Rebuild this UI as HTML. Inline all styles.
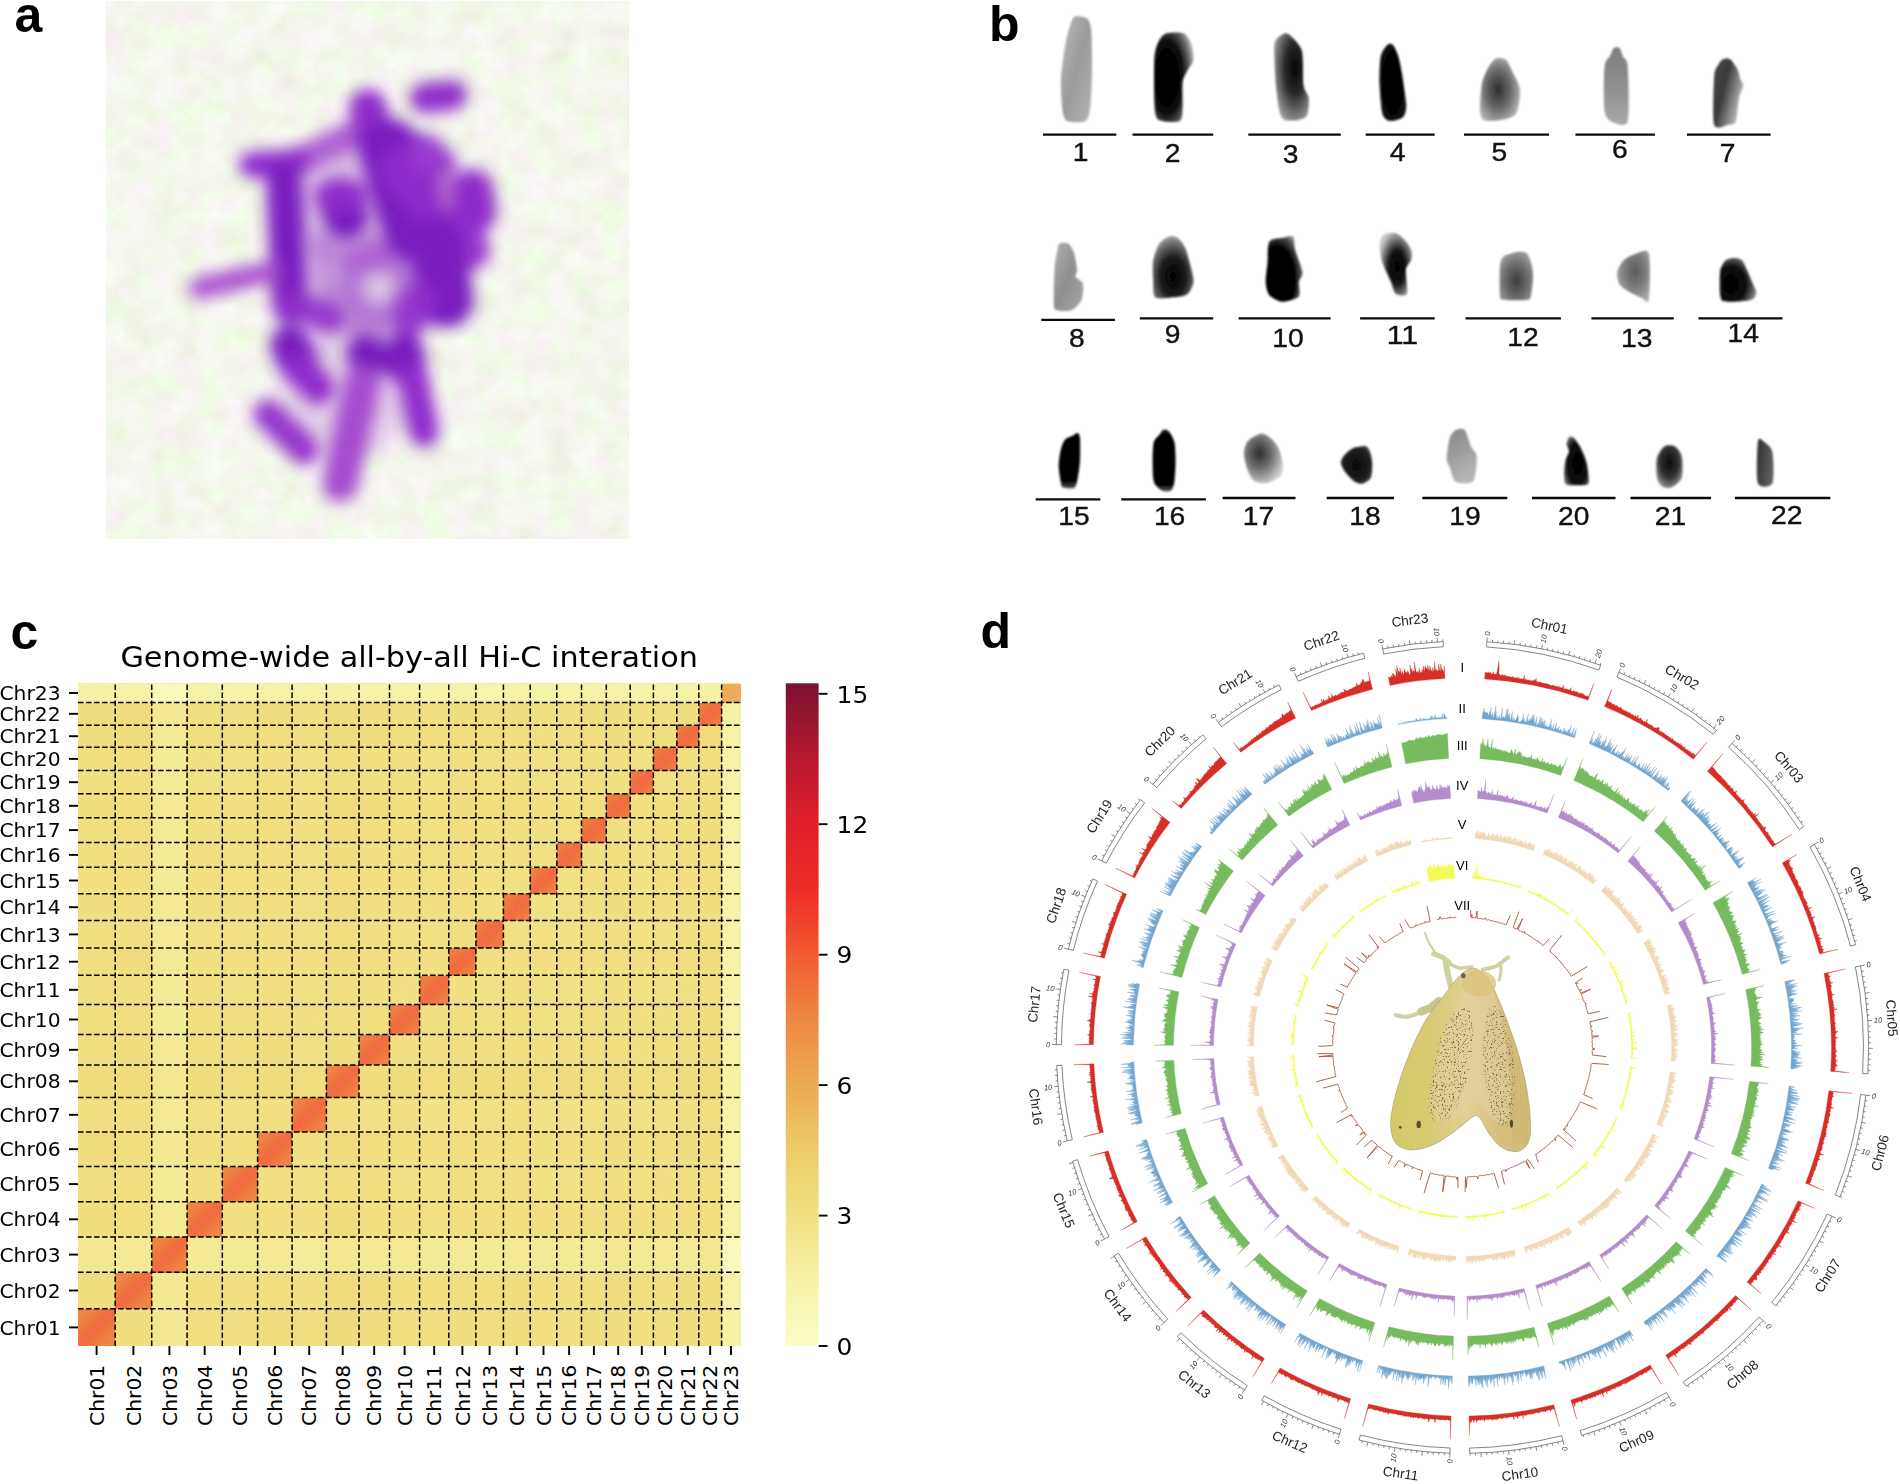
<!DOCTYPE html>
<html lang="en"><head><meta charset="utf-8"><title>Figure</title>
<style>html,body{margin:0;padding:0;background:#fff;overflow:hidden;width:1900px;height:1484px}svg{display:block}</style></head><body>
<svg width="1900" height="1484" viewBox="0 0 1900 1484">
<defs>
<filter id="blurA" filterUnits="userSpaceOnUse" x="106" y="1" width="523" height="538"><feGaussianBlur stdDeviation="7.2"/></filter>
<filter id="blurA2" filterUnits="userSpaceOnUse" x="106" y="1" width="523" height="538"><feGaussianBlur stdDeviation="10"/></filter>
<filter id="blurD" x="-5%" y="-5%" width="110%" height="110%"><feGaussianBlur stdDeviation="2"/></filter>
<filter id="blurB" x="-5%" y="-5%" width="110%" height="110%"><feGaussianBlur stdDeviation="0.9"/></filter>
<filter id="blurM" x="-5%" y="-5%" width="110%" height="110%"><feGaussianBlur stdDeviation="0.6"/></filter>
<filter id="noiseA" x="0" y="0" width="100%" height="100%" color-interpolation-filters="sRGB"><feTurbulence type="fractalNoise" baseFrequency="0.04" numOctaves="3" seed="3"/><feColorMatrix type="matrix" values="0.1 0 0 0 0.905  0 0.1 0 0 0.915  0.16 0 0 0 0.845  0 0 0 0 1"/></filter>
<filter id="noiseC" x="0" y="0" width="100%" height="100%" color-interpolation-filters="sRGB"><feTurbulence type="fractalNoise" baseFrequency="0.5" numOctaves="1" seed="2"/><feColorMatrix type="matrix" values="0 0 0 0 1  0 0 0 0 0.97  0 0 0 0 0.7  0.9 0 0 0 -0.3"/></filter>
<linearGradient id="g1" x1="0" y1="0" x2="1" y2="1">
<stop offset="0" stop-color="#b9b9b9"/>
<stop offset="0.5" stop-color="#9b9b9b"/>
<stop offset="1" stop-color="#b4b4b4"/>
</linearGradient>
<radialGradient id="g2" cx="0.32" cy="0.5" r="0.72">
<stop offset="0" stop-color="#000"/>
<stop offset="0.55" stop-color="#080808"/>
<stop offset="0.82" stop-color="#666"/>
<stop offset="1" stop-color="#c0c0c0"/>
</radialGradient>
<radialGradient id="g3" cx="0.6" cy="0.4" r="0.75">
<stop offset="0" stop-color="#050505"/>
<stop offset="0.4" stop-color="#2a2a2a"/>
<stop offset="0.8" stop-color="#8a8a8a"/>
<stop offset="1" stop-color="#bcbcbc"/>
</radialGradient>
<radialGradient id="g4" cx="0.5" cy="0.5" r="0.8">
<stop offset="0" stop-color="#000"/>
<stop offset="0.8" stop-color="#0a0a0a"/>
<stop offset="1" stop-color="#555"/>
</radialGradient>
<radialGradient id="g5" cx="0.45" cy="0.5" r="0.62">
<stop offset="0" stop-color="#2e2e2e"/>
<stop offset="0.5" stop-color="#6a6a6a"/>
<stop offset="1" stop-color="#c0c0c0"/>
</radialGradient>
<linearGradient id="g6" x1="0" y1="0" x2="0" y2="1">
<stop offset="0" stop-color="#7d7d7d"/>
<stop offset="0.5" stop-color="#8f8f8f"/>
<stop offset="1" stop-color="#a9a9a9"/>
</linearGradient>
<linearGradient id="g7" x1="0" y1="0" x2="1" y2="0.6">
<stop offset="0" stop-color="#4a4a4a"/>
<stop offset="0.45" stop-color="#3a3a3a"/>
<stop offset="1" stop-color="#c4c4c4"/>
</linearGradient>
<linearGradient id="g8" x1="0" y1="0" x2="1" y2="1">
<stop offset="0" stop-color="#b0b0b0"/>
<stop offset="0.5" stop-color="#8f8f8f"/>
<stop offset="1" stop-color="#a8a8a8"/>
</linearGradient>
<radialGradient id="g9" cx="0.5" cy="0.65" r="0.7">
<stop offset="0" stop-color="#000"/>
<stop offset="0.45" stop-color="#1c1c1c"/>
<stop offset="0.8" stop-color="#777"/>
<stop offset="1" stop-color="#c4c4c4"/>
</radialGradient>
<radialGradient id="g10" cx="0.3" cy="0.65" r="0.8">
<stop offset="0" stop-color="#000"/>
<stop offset="0.62" stop-color="#050505"/>
<stop offset="0.85" stop-color="#5a5a5a"/>
<stop offset="1" stop-color="#c4c4c4"/>
</radialGradient>
<radialGradient id="g11" cx="0.55" cy="0.55" r="0.6">
<stop offset="0" stop-color="#000"/>
<stop offset="0.45" stop-color="#151515"/>
<stop offset="0.8" stop-color="#888"/>
<stop offset="1" stop-color="#c8c8c8"/>
</radialGradient>
<radialGradient id="g12" cx="0.5" cy="0.6" r="0.7">
<stop offset="0" stop-color="#3c3c3c"/>
<stop offset="0.5" stop-color="#6c6c6c"/>
<stop offset="1" stop-color="#a8a8a8"/>
</radialGradient>
<radialGradient id="g13" cx="0.55" cy="0.4" r="0.7">
<stop offset="0" stop-color="#5a5a5a"/>
<stop offset="0.5" stop-color="#808080"/>
<stop offset="1" stop-color="#b5b5b5"/>
</radialGradient>
<radialGradient id="g14" cx="0.3" cy="0.6" r="0.8">
<stop offset="0" stop-color="#000"/>
<stop offset="0.5" stop-color="#0c0c0c"/>
<stop offset="0.8" stop-color="#6a6a6a"/>
<stop offset="1" stop-color="#c8c8c8"/>
</radialGradient>
<linearGradient id="g15" x1="0" y1="0" x2="0" y2="1">
<stop offset="0" stop-color="#050505"/>
<stop offset="0.85" stop-color="#000"/>
<stop offset="1" stop-color="#555"/>
</linearGradient>
<linearGradient id="g16" x1="0" y1="0" x2="0" y2="1">
<stop offset="0" stop-color="#111"/>
<stop offset="0.1" stop-color="#000"/>
<stop offset="0.88" stop-color="#000"/>
<stop offset="1" stop-color="#555"/>
</linearGradient>
<radialGradient id="g17" cx="0.4" cy="0.4" r="0.65">
<stop offset="0" stop-color="#2c2c2c"/>
<stop offset="0.45" stop-color="#6a6a6a"/>
<stop offset="1" stop-color="#cfcfcf"/>
</radialGradient>
<radialGradient id="g18" cx="0.5" cy="0.5" r="0.6">
<stop offset="0" stop-color="#0a0a0a"/>
<stop offset="0.7" stop-color="#1e1e1e"/>
<stop offset="1" stop-color="#4a4a4a"/>
</radialGradient>
<linearGradient id="g19" x1="0" y1="0" x2="0.3" y2="1">
<stop offset="0" stop-color="#8a8a8a"/>
<stop offset="0.5" stop-color="#9c9c9c"/>
<stop offset="1" stop-color="#b5b5b5"/>
</linearGradient>
<radialGradient id="g20" cx="0.55" cy="0.55" r="0.7">
<stop offset="0" stop-color="#000"/>
<stop offset="0.6" stop-color="#0c0c0c"/>
<stop offset="0.85" stop-color="#555"/>
<stop offset="1" stop-color="#aaa"/>
</radialGradient>
<radialGradient id="g21" cx="0.5" cy="0.4" r="0.7">
<stop offset="0" stop-color="#0c0c0c"/>
<stop offset="0.5" stop-color="#303030"/>
<stop offset="0.85" stop-color="#8a8a8a"/>
<stop offset="1" stop-color="#bdbdbd"/>
</radialGradient>
<linearGradient id="g22" x1="0" y1="0" x2="1" y2="0.3">
<stop offset="0" stop-color="#2e2e2e"/>
<stop offset="1" stop-color="#5e5e5e"/>
</linearGradient>
<linearGradient id="cbar" x1="0" y1="1" x2="0" y2="0">
<stop offset="0.0000" stop-color="#fafdc8"/>
<stop offset="0.0984" stop-color="#f6f2a5"/>
<stop offset="0.1967" stop-color="#f1e082"/>
<stop offset="0.2951" stop-color="#eccc69"/>
<stop offset="0.3934" stop-color="#ecaa54"/>
<stop offset="0.4918" stop-color="#ef8844"/>
<stop offset="0.5902" stop-color="#f25a30"/>
<stop offset="0.6885" stop-color="#ed2d25"/>
<stop offset="0.7869" stop-color="#e0202a"/>
<stop offset="0.8852" stop-color="#b8182e"/>
<stop offset="1.0000" stop-color="#7a1230"/>
</linearGradient>
<linearGradient id="mothg" x1="0" y1="0" x2="1" y2="0"><stop offset="0" stop-color="#d2cb66"/><stop offset="0.3" stop-color="#d8cb74"/><stop offset="0.55" stop-color="#e0cf94"/><stop offset="0.8" stop-color="#d6be7c"/><stop offset="1" stop-color="#d2bd78"/></linearGradient><filter id="speck" x="0" y="0" width="100%" height="100%" color-interpolation-filters="sRGB"><feTurbulence type="fractalNoise" baseFrequency="0.55" numOctaves="2" seed="8" result="t"/><feColorMatrix in="t" type="matrix" values="0 0 0 0 0.45  0 0 0 0 0.42  0 0 0 0 0.3  -7 0 0 0 2.9" result="s"/><feComposite in="s" in2="SourceGraphic" operator="in"/></filter>
</defs>
<rect width="1900" height="1484" fill="#fff"/>
<g id="pa">
<rect x="106" y="1" width="523" height="538" fill="#f4f5ec"/>
<rect x="106" y="1" width="523" height="538" fill="#fff" filter="url(#noiseA)"/>
<g filter="url(#blurA2)" fill="#c79add">
<ellipse cx="372" cy="235" rx="92" ry="105" opacity="0.62"/>
<ellipse cx="350" cy="385" rx="68" ry="72" opacity="0.45"/>
<circle cx="378" cy="287" r="30" fill="none" stroke="#ab66d2" stroke-width="28" opacity="0.85"/>
<circle cx="381" cy="290" r="10" fill="#efe6ee" opacity="0.9"/>
</g>
<g filter="url(#blurA)" stroke-linecap="round" fill="none">
<line x1="300" y1="160" x2="362" y2="130" stroke="#a64ccf" stroke-width="28" opacity="0.85"/>
<line x1="330" y1="250" x2="400" y2="245" stroke="#b873d6" stroke-width="30" opacity="0.6"/>
<line x1="335" y1="300" x2="360" y2="330" stroke="#b873d6" stroke-width="26" opacity="0.55"/>
<line x1="385" y1="330" x2="420" y2="300" stroke="#b873d6" stroke-width="24" opacity="0.5"/>
<line x1="320" y1="240" x2="330" y2="300" stroke="#b873d6" stroke-width="22" opacity="0.55"/>
<line x1="350" y1="262" x2="395" y2="250" stroke="#a64ccf" stroke-width="18" opacity="0.6"/>
<line x1="425" y1="98" x2="452" y2="95" stroke="#8f2bca" stroke-width="30" opacity="1"/>
<line x1="368" y1="108" x2="376" y2="140" stroke="#8f2bca" stroke-width="38" opacity="1"/>
<line x1="376" y1="138" x2="392" y2="160" stroke="#8f2bca" stroke-width="44" opacity="1"/>
<line x1="390" y1="150" x2="414" y2="232" stroke="#7a1fc0" stroke-width="62" opacity="1"/>
<line x1="405" y1="170" x2="440" y2="210" stroke="#8f2bca" stroke-width="50" opacity="1"/>
<line x1="425" y1="150" x2="440" y2="165" stroke="#8f2bca" stroke-width="34" opacity="0.9"/>
<line x1="448" y1="180" x2="452" y2="215" stroke="#c07cc8" stroke-width="18" opacity="0.8"/>
<line x1="418" y1="150" x2="424" y2="170" stroke="#a848d6" stroke-width="14" opacity="0.5"/>
<line x1="430" y1="262" x2="440" y2="285" stroke="#a848d6" stroke-width="14" opacity="0.45"/>
<line x1="472" y1="190" x2="476" y2="212" stroke="#8f2bca" stroke-width="42" opacity="1"/>
<line x1="455" y1="225" x2="470" y2="250" stroke="#8f2bca" stroke-width="40" opacity="0.95"/>
<line x1="436" y1="245" x2="446" y2="300" stroke="#7a1fc0" stroke-width="56" opacity="1"/>
<line x1="420" y1="300" x2="410" y2="318" stroke="#8f2bca" stroke-width="36" opacity="0.9"/>
<line x1="252" y1="165" x2="298" y2="162" stroke="#8f2bca" stroke-width="26" opacity="1"/>
<line x1="284" y1="180" x2="290" y2="306" stroke="#7a1fc0" stroke-width="36" opacity="1"/>
<line x1="292" y1="305" x2="330" y2="318" stroke="#8f2bca" stroke-width="30" opacity="0.9"/>
<line x1="340" y1="200" x2="346" y2="218" stroke="#7a1fc0" stroke-width="44" opacity="1"/>
<line x1="330" y1="196" x2="352" y2="196" stroke="#8f2bca" stroke-width="30" opacity="1"/>
<line x1="200" y1="288" x2="270" y2="272" stroke="#a64ccf" stroke-width="22" opacity="0.95"/>
<line x1="290" y1="345" x2="298" y2="362" stroke="#7a1fc0" stroke-width="40" opacity="1"/>
<line x1="300" y1="370" x2="318" y2="388" stroke="#8f2bca" stroke-width="32" opacity="1"/>
<line x1="268" y1="414" x2="304" y2="450" stroke="#8f2bca" stroke-width="30" opacity="0.95"/>
<line x1="366" y1="352" x2="368" y2="362" stroke="#7a1fc0" stroke-width="38" opacity="1"/>
<line x1="362" y1="385" x2="340" y2="484" stroke="#a64ccf" stroke-width="36" opacity="1"/>
<line x1="404" y1="352" x2="406" y2="366" stroke="#7a1fc0" stroke-width="40" opacity="1"/>
<line x1="413" y1="378" x2="424" y2="432" stroke="#8f2bca" stroke-width="30" opacity="1"/>
</g>
</g>
<g id="pb">
<g filter="url(#blurB)">
<path d="M1075.0 16.5C1077.2 15.7 1085.2 16.6 1087.3 18.6C1089.5 20.6 1090.8 25.7 1091.4 32.2C1092.0 38.7 1092.1 59.2 1092.0 68.8C1091.9 78.3 1091.3 98.5 1090.5 105.3C1089.6 112.1 1088.8 119.0 1085.8 121.0C1082.8 123.0 1070.2 122.4 1067.2 121.0C1064.2 119.6 1063.4 116.0 1062.5 110.5C1061.7 105.1 1060.6 88.0 1061.0 79.2C1061.4 70.4 1064.4 49.7 1065.7 42.6C1066.9 35.6 1069.1 28.3 1070.3 24.9C1071.5 21.5 1072.7 17.3 1075.0 16.5Z" fill="url(#g1)"/>
<path d="M1166.1 33.4C1169.4 32.3 1180.5 32.0 1183.8 33.4C1187.1 34.8 1190.4 40.5 1191.6 43.9C1192.9 47.3 1194.1 56.3 1193.6 59.7C1193.1 63.1 1189.1 67.3 1187.7 70.2C1186.3 73.0 1183.3 76.7 1182.6 81.6C1181.9 86.5 1183.0 102.7 1182.6 107.9C1182.2 113.0 1182.5 119.3 1179.8 121.0C1177.2 122.7 1165.4 122.1 1162.2 121.0C1158.9 119.9 1156.1 120.2 1155.1 112.2C1154.1 104.3 1153.9 68.8 1154.3 59.7C1154.7 50.6 1156.7 45.6 1158.2 42.2C1159.8 38.7 1162.8 34.5 1166.1 33.4Z" fill="url(#g2)"/>
<path d="M1284.6 33.4C1286.2 33.1 1287.5 32.9 1289.8 35.1C1292.0 37.4 1300.1 44.2 1301.9 50.7C1303.7 57.2 1302.7 79.1 1303.6 85.3C1304.5 91.5 1308.4 94.3 1308.8 98.3C1309.2 102.2 1308.4 112.8 1307.1 115.6C1305.7 118.4 1301.3 119.3 1298.4 119.9C1295.5 120.5 1287.1 121.0 1284.6 119.9C1282.1 118.8 1280.5 115.7 1279.4 111.2C1278.3 106.8 1276.6 93.7 1275.9 85.3C1275.3 76.9 1274.0 52.6 1274.2 46.4C1274.4 40.2 1276.3 39.4 1277.7 37.7C1279.0 36.0 1283.0 33.7 1284.6 33.4Z" fill="url(#g3)"/>
<path d="M1387.5 44.8C1389.1 43.3 1391.5 43.3 1392.8 44.8C1394.2 46.3 1397.0 52.2 1398.2 56.1C1399.4 60.1 1401.2 68.6 1402.2 75.0C1403.2 81.4 1406.0 99.8 1406.2 105.2C1406.4 110.6 1404.9 114.6 1403.5 116.5C1402.1 118.5 1397.6 119.8 1395.5 120.3C1393.4 120.8 1389.2 121.3 1387.5 120.3C1385.8 119.3 1383.2 117.7 1382.2 112.8C1381.1 107.8 1379.7 89.9 1379.5 82.5C1379.3 75.2 1379.8 61.0 1380.8 56.1C1381.9 51.2 1385.9 46.3 1387.5 44.8Z" fill="url(#g4)"/>
<path d="M1496.0 58.6C1498.3 57.6 1503.9 58.2 1506.0 59.8C1508.1 61.4 1510.2 67.1 1512.0 70.9C1513.8 74.8 1519.5 83.8 1520.0 89.5C1520.5 95.1 1518.6 110.1 1516.0 114.1C1513.4 118.1 1504.2 119.5 1500.0 120.3C1495.8 121.1 1486.6 121.5 1484.0 120.3C1481.4 119.1 1480.3 115.9 1480.0 111.0C1479.7 106.2 1481.0 88.9 1482.0 83.3C1483.0 77.7 1486.2 71.1 1488.0 67.9C1489.8 64.6 1493.7 59.6 1496.0 58.6Z" fill="url(#g5)"/>
<path d="M1613.8 48.0C1615.0 47.0 1618.4 46.9 1619.6 48.0C1620.8 49.1 1622.0 54.4 1623.1 56.8C1624.1 59.2 1627.1 58.0 1627.7 66.4C1628.3 74.8 1629.8 114.3 1627.7 121.5C1625.6 128.7 1614.5 122.9 1611.5 121.5C1608.4 120.1 1605.4 117.6 1604.5 110.5C1603.6 103.3 1603.7 73.5 1604.5 66.4C1605.3 59.2 1609.1 57.7 1610.3 55.4C1611.5 53.0 1612.6 49.0 1613.8 48.0Z" fill="url(#g6)"/>
<path d="M1722.9 59.3C1724.4 58.6 1728.3 58.0 1730.2 59.3C1732.0 60.6 1736.1 66.6 1737.4 69.1C1738.7 71.7 1739.5 76.8 1740.3 78.9C1741.1 81.0 1743.4 82.9 1743.2 85.5C1743.0 88.0 1739.8 93.9 1738.9 98.5C1737.9 103.2 1737.3 118.0 1736.0 121.4C1734.6 124.8 1731.5 124.3 1728.7 124.7C1725.9 125.1 1716.1 131.1 1714.2 124.7C1712.3 118.3 1713.6 83.5 1714.2 75.7C1714.8 67.8 1717.4 66.7 1718.5 64.5C1719.7 62.4 1721.4 60.0 1722.9 59.3Z" fill="url(#g7)"/>
<path d="M1059.6 243.6C1061.1 242.3 1066.5 242.3 1068.3 243.6C1070.2 244.9 1073.0 250.1 1074.2 253.6C1075.3 257.1 1076.9 267.2 1077.1 270.2C1077.3 273.3 1074.9 275.2 1075.6 276.9C1076.4 278.6 1082.1 280.5 1082.9 283.6C1083.7 286.6 1083.0 296.7 1081.4 300.2C1079.9 303.7 1074.5 308.9 1071.3 310.2C1068.0 311.5 1059.0 311.1 1056.7 310.2C1054.4 309.3 1054.1 308.7 1053.8 303.5C1053.5 298.3 1054.0 276.7 1054.4 270.2C1054.8 263.7 1056.0 257.1 1056.7 253.6C1057.4 250.1 1058.1 244.9 1059.6 243.6Z" fill="url(#g8)"/>
<path d="M1169.3 236.3C1171.7 235.5 1175.3 235.9 1177.4 237.5C1179.5 239.1 1183.7 244.3 1185.5 248.5C1187.3 252.7 1190.5 265.5 1191.6 269.9C1192.6 274.2 1194.1 278.9 1193.6 282.1C1193.1 285.2 1190.2 292.3 1187.5 294.2C1184.9 296.2 1177.6 296.9 1173.3 297.3C1169.1 297.7 1157.8 299.7 1155.1 297.3C1152.5 294.9 1153.4 283.8 1153.1 279.0C1152.8 274.2 1152.3 265.3 1153.1 260.7C1153.9 256.1 1157.1 246.8 1159.2 243.6C1161.3 240.4 1166.9 237.1 1169.3 236.3Z" fill="url(#g9)"/>
<path d="M1269.4 241.5C1271.5 238.3 1281.0 238.3 1284.1 237.6C1287.2 236.9 1291.9 234.8 1293.3 236.3C1294.7 237.8 1293.9 244.7 1295.1 249.4C1296.3 254.1 1302.0 268.0 1302.5 272.3C1303.0 276.5 1299.3 278.9 1298.8 282.1C1298.3 285.2 1301.0 293.9 1298.8 296.5C1296.7 299.0 1286.1 301.9 1282.3 301.7C1278.4 301.5 1271.5 297.7 1269.4 295.2C1267.2 292.6 1265.9 286.3 1265.7 282.1C1265.5 277.8 1267.1 267.7 1267.5 262.5C1268.0 257.2 1267.2 244.8 1269.4 241.5Z" fill="url(#g10)"/>
<path d="M1385.9 233.4C1388.0 232.8 1394.5 232.2 1397.2 233.4C1399.9 234.6 1405.0 240.1 1406.9 242.4C1408.8 244.8 1411.2 249.1 1411.7 251.5C1412.2 253.8 1411.8 258.2 1411.1 260.5C1410.3 262.9 1406.4 265.3 1405.9 269.6C1405.4 273.9 1408.2 290.6 1406.9 293.7C1405.5 296.8 1397.7 295.3 1395.6 293.7C1393.5 292.1 1392.4 285.6 1390.8 281.6C1389.1 277.7 1384.2 267.9 1382.7 263.6C1381.3 259.2 1379.7 251.8 1379.5 248.5C1379.3 245.2 1380.3 240.2 1381.1 238.2C1381.9 236.3 1383.8 234.0 1385.9 233.4Z" fill="url(#g11)"/>
<path d="M1503.2 256.9C1505.4 255.0 1513.5 252.6 1516.5 252.1C1519.5 251.6 1524.5 251.5 1526.5 253.1C1528.4 254.6 1530.6 261.0 1531.4 264.0C1532.3 267.0 1533.1 272.2 1533.1 275.9C1533.1 279.7 1532.1 289.5 1531.4 292.6C1530.8 295.7 1531.8 298.9 1528.1 299.8C1524.5 300.7 1506.9 300.4 1503.2 299.8C1499.6 299.2 1500.3 299.4 1499.9 295.0C1499.5 290.7 1499.5 271.4 1499.9 266.4C1500.3 261.4 1501.1 258.7 1503.2 256.9Z" fill="url(#g12)"/>
<path d="M1634.6 254.2C1637.9 253.3 1647.0 247.4 1648.8 253.3C1650.6 259.2 1649.8 294.1 1648.8 299.8C1647.8 305.5 1643.8 298.7 1640.9 297.5C1638.1 296.3 1629.6 292.3 1626.8 290.5C1623.9 288.7 1620.1 285.9 1618.9 283.5C1617.6 281.1 1616.7 274.9 1617.3 271.9C1617.9 268.9 1621.3 262.6 1623.6 260.3C1625.9 258.0 1631.3 255.1 1634.6 254.2Z" fill="url(#g13)"/>
<path d="M1725.7 260.3C1727.6 258.6 1732.6 258.1 1734.8 258.1C1736.9 258.1 1740.4 258.6 1742.0 260.3C1743.7 261.9 1746.1 267.9 1747.5 271.0C1748.9 274.1 1751.8 281.2 1753.0 284.0C1754.1 286.8 1756.6 290.6 1756.6 292.6C1756.6 294.5 1754.9 297.9 1753.0 299.0C1751.1 300.2 1745.8 300.9 1742.0 301.2C1738.3 301.5 1726.7 302.0 1723.8 301.2C1721.0 300.4 1720.7 298.7 1720.2 294.7C1719.7 290.8 1719.5 275.5 1720.2 271.0C1720.9 266.5 1723.8 261.9 1725.7 260.3Z" fill="url(#g14)"/>
<path d="M1072.5 435.8C1074.2 435.0 1076.9 432.7 1077.9 433.1C1078.8 433.5 1079.7 435.0 1080.0 438.6C1080.3 442.1 1080.3 455.4 1080.0 460.4C1079.7 465.3 1078.6 473.2 1077.9 476.7C1077.2 480.2 1076.6 486.2 1074.7 487.6C1072.7 489.0 1064.8 488.3 1063.0 487.6C1061.2 486.9 1061.4 485.0 1060.8 482.2C1060.3 479.3 1058.7 470.1 1058.7 465.8C1058.7 461.5 1060.0 452.9 1060.8 449.5C1061.7 446.0 1063.6 441.4 1065.1 439.6C1066.6 437.9 1070.9 436.7 1072.5 435.8Z" fill="url(#g15)"/>
<path d="M1162.9 430.0C1164.1 429.5 1167.2 429.6 1168.7 431.2C1170.2 432.8 1173.6 438.3 1174.4 442.1C1175.3 445.9 1175.6 455.1 1175.6 460.2C1175.6 465.4 1175.0 477.5 1174.4 481.4C1173.9 485.4 1172.6 489.3 1171.0 490.5C1169.4 491.7 1164.0 491.7 1161.8 490.5C1159.6 489.3 1154.9 485.4 1153.8 481.4C1152.6 477.5 1152.6 465.4 1152.6 460.2C1152.6 455.1 1152.9 445.4 1153.8 442.1C1154.6 438.8 1158.3 436.4 1159.5 434.8C1160.7 433.3 1161.8 430.5 1162.9 430.0Z" fill="url(#g16)"/>
<path d="M1261.4 433.6C1264.4 433.3 1268.8 436.6 1271.1 438.6C1273.3 440.5 1277.3 445.3 1278.8 448.5C1280.3 451.7 1282.4 459.8 1282.7 463.4C1283.0 466.9 1282.8 473.2 1280.8 475.8C1278.7 478.3 1270.7 482.6 1267.2 483.2C1263.6 483.8 1256.2 482.7 1253.6 480.7C1251.0 478.8 1248.3 471.9 1247.0 468.3C1245.7 464.8 1243.8 457.0 1243.9 453.4C1244.0 449.9 1245.5 443.6 1247.8 441.0C1250.0 438.5 1258.3 433.9 1261.4 433.6Z" fill="url(#g17)"/>
<path d="M1353.4 448.1C1356.3 446.9 1363.7 445.5 1366.0 446.2C1368.3 446.9 1369.9 451.3 1370.7 453.7C1371.5 456.1 1372.3 461.8 1372.3 464.9C1372.3 468.1 1372.0 475.6 1370.7 478.1C1369.5 480.5 1364.9 483.2 1362.8 483.7C1360.8 484.2 1357.2 483.3 1355.0 481.8C1352.7 480.4 1347.4 474.9 1345.5 472.4C1343.7 470.0 1341.0 465.3 1340.8 463.1C1340.6 460.9 1342.3 457.5 1344.0 455.6C1345.6 453.6 1350.5 449.3 1353.4 448.1Z" fill="url(#g18)"/>
<path d="M1455.7 430.0C1457.7 429.0 1462.8 427.9 1464.8 430.0C1466.7 432.1 1469.2 442.5 1470.8 446.0C1472.3 449.4 1476.4 452.1 1476.8 456.6C1477.2 461.1 1475.7 477.1 1473.8 480.5C1471.8 484.0 1464.3 483.2 1461.8 483.2C1459.2 483.2 1455.8 482.6 1454.2 480.5C1452.7 478.5 1450.7 470.0 1449.7 467.2C1448.7 464.5 1446.7 463.1 1446.7 459.3C1446.7 455.5 1448.5 441.8 1449.7 438.0C1450.9 434.2 1453.8 431.0 1455.7 430.0Z" fill="url(#g19)"/>
<path d="M1569.0 437.2C1570.0 436.4 1572.5 436.9 1573.9 438.1C1575.3 439.4 1578.4 443.7 1579.9 446.6C1581.5 449.6 1584.9 457.1 1586.0 460.8C1587.1 464.5 1588.2 471.9 1588.4 475.0C1588.6 478.0 1590.0 483.2 1587.2 484.4C1584.4 485.6 1569.6 485.6 1566.6 484.4C1563.6 483.2 1564.4 478.0 1564.2 475.0C1564.0 471.9 1564.8 463.9 1565.4 460.8C1566.0 457.7 1568.9 453.5 1569.0 451.4C1569.2 449.2 1566.6 446.1 1566.6 444.3C1566.6 442.4 1568.1 438.0 1569.0 437.2Z" fill="url(#g20)"/>
<path d="M1664.5 446.2C1666.8 444.6 1672.6 445.1 1674.8 446.2C1677.0 447.3 1680.3 451.7 1681.3 454.4C1682.3 457.1 1682.6 463.5 1682.6 466.8C1682.6 470.0 1682.7 476.4 1681.3 479.1C1680.0 481.8 1674.6 486.2 1672.2 487.3C1669.9 488.4 1665.1 488.4 1663.2 487.3C1661.2 486.2 1658.1 482.8 1657.2 479.1C1656.4 475.3 1655.8 462.8 1656.7 458.5C1657.6 454.3 1662.1 447.8 1664.5 446.2Z" fill="url(#g21)"/>
<path d="M1757.9 441.6C1758.7 436.2 1761.8 440.2 1763.7 441.6C1765.6 443.0 1771.3 446.6 1772.4 452.0C1773.5 457.4 1774.3 479.1 1772.4 483.2C1770.5 487.3 1759.8 488.6 1757.9 483.2C1756.0 477.8 1757.1 447.0 1757.9 441.6Z" fill="url(#g22)"/>
</g>
<g stroke="#0a0a0a" stroke-width="2.4">
<line x1="1043.0" y1="134.6" x2="1116.3" y2="134.6"/>
<line x1="1132.5" y1="134.6" x2="1213.2" y2="134.6"/>
<line x1="1248.3" y1="134.6" x2="1340.8" y2="134.6"/>
<line x1="1365.7" y1="134.6" x2="1434.7" y2="134.6"/>
<line x1="1464.0" y1="134.6" x2="1549.0" y2="134.6"/>
<line x1="1575.4" y1="134.6" x2="1654.9" y2="134.6"/>
<line x1="1687.0" y1="134.6" x2="1770.6" y2="134.6"/>
<line x1="1041.3" y1="319.9" x2="1114.9" y2="319.9"/>
<line x1="1139.8" y1="318.4" x2="1213.2" y2="318.4"/>
<line x1="1238.6" y1="318.4" x2="1330.6" y2="318.4"/>
<line x1="1360.1" y1="318.4" x2="1434.7" y2="318.4"/>
<line x1="1465.5" y1="318.4" x2="1560.9" y2="318.4"/>
<line x1="1591.4" y1="318.4" x2="1673.8" y2="318.4"/>
<line x1="1698.5" y1="318.4" x2="1782.5" y2="318.4"/>
<line x1="1035.7" y1="499.4" x2="1100.3" y2="499.4"/>
<line x1="1121.2" y1="499.4" x2="1205.9" y2="499.4"/>
<line x1="1222.6" y1="498.0" x2="1295.5" y2="498.0"/>
<line x1="1326.7" y1="498.0" x2="1394.0" y2="498.0"/>
<line x1="1422.3" y1="498.0" x2="1507.3" y2="498.0"/>
<line x1="1532.0" y1="498.0" x2="1615.5" y2="498.0"/>
<line x1="1630.5" y1="498.0" x2="1711.1" y2="498.0"/>
<line x1="1734.9" y1="498.0" x2="1830.3" y2="498.0"/>
</g>
<g font-family="'Liberation Sans', sans-serif" font-size="26.4" fill="#111" stroke="#111" stroke-width="0.4" text-anchor="middle">
<text x="1080.5" y="160.5" textLength="15.7" lengthAdjust="spacingAndGlyphs">1</text>
<text x="1172.5" y="161.7" textLength="15.7" lengthAdjust="spacingAndGlyphs">2</text>
<text x="1290.7" y="163.4" textLength="15.7" lengthAdjust="spacingAndGlyphs">3</text>
<text x="1397.7" y="160.5" textLength="15.7" lengthAdjust="spacingAndGlyphs">4</text>
<text x="1499.4" y="160.5" textLength="15.7" lengthAdjust="spacingAndGlyphs">5</text>
<text x="1619.8" y="158.1" textLength="15.7" lengthAdjust="spacingAndGlyphs">6</text>
<text x="1727.5" y="161.7" textLength="15.7" lengthAdjust="spacingAndGlyphs">7</text>
<text x="1076.9" y="347.2" textLength="15.7" lengthAdjust="spacingAndGlyphs">8</text>
<text x="1172.5" y="342.9" textLength="15.7" lengthAdjust="spacingAndGlyphs">9</text>
<text x="1288.0" y="347.2" textLength="31.4" lengthAdjust="spacingAndGlyphs">10</text>
<text x="1402.5" y="344.3" textLength="31.4" lengthAdjust="spacingAndGlyphs">11</text>
<text x="1522.9" y="346.0" textLength="31.4" lengthAdjust="spacingAndGlyphs">12</text>
<text x="1636.7" y="347.2" textLength="31.4" lengthAdjust="spacingAndGlyphs">13</text>
<text x="1743.2" y="342.4" textLength="31.4" lengthAdjust="spacingAndGlyphs">14</text>
<text x="1073.9" y="525.1" textLength="31.4" lengthAdjust="spacingAndGlyphs">15</text>
<text x="1169.6" y="525.1" textLength="31.4" lengthAdjust="spacingAndGlyphs">16</text>
<text x="1258.5" y="525.1" textLength="31.4" lengthAdjust="spacingAndGlyphs">17</text>
<text x="1365.0" y="525.1" textLength="31.4" lengthAdjust="spacingAndGlyphs">18</text>
<text x="1464.9" y="525.1" textLength="31.4" lengthAdjust="spacingAndGlyphs">19</text>
<text x="1573.8" y="525.1" textLength="31.4" lengthAdjust="spacingAndGlyphs">20</text>
<text x="1670.5" y="525.1" textLength="31.4" lengthAdjust="spacingAndGlyphs">21</text>
<text x="1786.7" y="523.9" textLength="31.4" lengthAdjust="spacingAndGlyphs">22</text>
</g>
</g>
<g id="pc">
<rect x="78.0" y="683.3" width="662.3" height="662.7" fill="#f1df80"/>
<g shape-rendering="crispEdges">
<rect x="78.0" y="1308.8" width="37.5" height="37.5" fill="#ef8241"/>
<rect x="78.0" y="1272.3" width="37.5" height="36.8" fill="#f0dd7e"/>
<rect x="78.0" y="1236.9" width="37.5" height="35.7" fill="#f3e993"/>
<rect x="78.0" y="1201.7" width="37.5" height="35.5" fill="#f0dd7e"/>
<rect x="78.0" y="1166.4" width="37.5" height="35.6" fill="#f1df81"/>
<rect x="78.0" y="1131.9" width="37.5" height="34.8" fill="#f0dc7d"/>
<rect x="78.0" y="1097.6" width="37.5" height="34.6" fill="#f1df81"/>
<rect x="78.0" y="1065.0" width="37.5" height="32.9" fill="#f0dc7d"/>
<rect x="78.0" y="1034.5" width="37.5" height="30.8" fill="#f0de7f"/>
<rect x="78.0" y="1004.4" width="37.5" height="30.4" fill="#f1de80"/>
<rect x="78.0" y="975.2" width="37.5" height="29.5" fill="#f1de80"/>
<rect x="78.0" y="948.1" width="37.5" height="27.4" fill="#f0de7f"/>
<rect x="78.0" y="920.6" width="37.5" height="27.8" fill="#f1df80"/>
<rect x="78.0" y="893.8" width="37.5" height="27.1" fill="#f0dd7f"/>
<rect x="78.0" y="867.2" width="37.5" height="26.9" fill="#f1df81"/>
<rect x="78.0" y="842.5" width="37.5" height="25.0" fill="#f1df80"/>
<rect x="78.0" y="817.7" width="37.5" height="25.1" fill="#f1de80"/>
<rect x="78.0" y="793.8" width="37.5" height="24.2" fill="#f0dd7e"/>
<rect x="78.0" y="770.6" width="37.5" height="23.5" fill="#f1df81"/>
<rect x="78.0" y="747.2" width="37.5" height="23.7" fill="#f0de7f"/>
<rect x="78.0" y="725.2" width="37.5" height="22.3" fill="#f0dd7e"/>
<rect x="78.0" y="702.4" width="37.5" height="23.1" fill="#f0dc7d"/>
<rect x="78.0" y="683.7" width="37.5" height="19.0" fill="#f6f2a5"/>
<rect x="115.2" y="1308.8" width="36.8" height="37.5" fill="#f0dd7e"/>
<rect x="115.2" y="1272.3" width="36.8" height="36.8" fill="#ef8241"/>
<rect x="115.2" y="1236.9" width="36.8" height="35.7" fill="#f4e994"/>
<rect x="115.2" y="1201.7" width="36.8" height="35.5" fill="#f1de80"/>
<rect x="115.2" y="1166.4" width="36.8" height="35.6" fill="#f1df80"/>
<rect x="115.2" y="1131.9" width="36.8" height="34.8" fill="#f0de7f"/>
<rect x="115.2" y="1097.6" width="36.8" height="34.6" fill="#f1df81"/>
<rect x="115.2" y="1065.0" width="36.8" height="32.9" fill="#f0dc7d"/>
<rect x="115.2" y="1034.5" width="36.8" height="30.8" fill="#f0dd7f"/>
<rect x="115.2" y="1004.4" width="36.8" height="30.4" fill="#f1de80"/>
<rect x="115.2" y="975.2" width="36.8" height="29.5" fill="#f1e082"/>
<rect x="115.2" y="948.1" width="36.8" height="27.4" fill="#f0dd7f"/>
<rect x="115.2" y="920.6" width="36.8" height="27.8" fill="#f1e082"/>
<rect x="115.2" y="893.8" width="36.8" height="27.1" fill="#f1de80"/>
<rect x="115.2" y="867.2" width="36.8" height="26.9" fill="#f1df81"/>
<rect x="115.2" y="842.5" width="36.8" height="25.0" fill="#f1e082"/>
<rect x="115.2" y="817.7" width="36.8" height="25.1" fill="#f1de80"/>
<rect x="115.2" y="793.8" width="36.8" height="24.2" fill="#f0de7f"/>
<rect x="115.2" y="770.6" width="36.8" height="23.5" fill="#f1df81"/>
<rect x="115.2" y="747.2" width="36.8" height="23.7" fill="#f1de80"/>
<rect x="115.2" y="725.2" width="36.8" height="22.3" fill="#f0dd7f"/>
<rect x="115.2" y="702.4" width="36.8" height="23.1" fill="#f0dc7d"/>
<rect x="115.2" y="683.7" width="36.8" height="19.0" fill="#f6f3a7"/>
<rect x="151.7" y="1308.8" width="35.7" height="37.5" fill="#f3e892"/>
<rect x="151.7" y="1272.3" width="35.7" height="36.8" fill="#f3e993"/>
<rect x="151.7" y="1236.9" width="35.7" height="35.7" fill="#ef8241"/>
<rect x="151.7" y="1201.7" width="35.7" height="35.5" fill="#f4ea95"/>
<rect x="151.7" y="1166.4" width="35.7" height="35.6" fill="#f4eb97"/>
<rect x="151.7" y="1131.9" width="35.7" height="34.8" fill="#f3e993"/>
<rect x="151.7" y="1097.6" width="35.7" height="34.6" fill="#f4ea96"/>
<rect x="151.7" y="1065.0" width="35.7" height="32.9" fill="#f3e891"/>
<rect x="151.7" y="1034.5" width="35.7" height="30.8" fill="#f4e994"/>
<rect x="151.7" y="1004.4" width="35.7" height="30.4" fill="#f4eb97"/>
<rect x="151.7" y="975.2" width="35.7" height="29.5" fill="#f4eb97"/>
<rect x="151.7" y="948.1" width="35.7" height="27.4" fill="#f4e994"/>
<rect x="151.7" y="920.6" width="35.7" height="27.8" fill="#f4ea96"/>
<rect x="151.7" y="893.8" width="35.7" height="27.1" fill="#f4e994"/>
<rect x="151.7" y="867.2" width="35.7" height="26.9" fill="#f4eb98"/>
<rect x="151.7" y="842.5" width="35.7" height="25.0" fill="#f4eb97"/>
<rect x="151.7" y="817.7" width="35.7" height="25.1" fill="#f4ea95"/>
<rect x="151.7" y="793.8" width="35.7" height="24.2" fill="#f4e994"/>
<rect x="151.7" y="770.6" width="35.7" height="23.5" fill="#f4eb97"/>
<rect x="151.7" y="747.2" width="35.7" height="23.7" fill="#f4eb97"/>
<rect x="151.7" y="725.2" width="35.7" height="22.3" fill="#f4ea95"/>
<rect x="151.7" y="702.4" width="35.7" height="23.1" fill="#f3e993"/>
<rect x="151.7" y="683.7" width="35.7" height="19.0" fill="#f9f9bc"/>
<rect x="187.1" y="1308.8" width="35.5" height="37.5" fill="#f1de80"/>
<rect x="187.1" y="1272.3" width="35.5" height="36.8" fill="#f1df81"/>
<rect x="187.1" y="1236.9" width="35.5" height="35.7" fill="#f4ea96"/>
<rect x="187.1" y="1201.7" width="35.5" height="35.5" fill="#ef8241"/>
<rect x="187.1" y="1166.4" width="35.5" height="35.6" fill="#f1e082"/>
<rect x="187.1" y="1131.9" width="35.5" height="34.8" fill="#f1df81"/>
<rect x="187.1" y="1097.6" width="35.5" height="34.6" fill="#f1e183"/>
<rect x="187.1" y="1065.0" width="35.5" height="32.9" fill="#f0dd7e"/>
<rect x="187.1" y="1034.5" width="35.5" height="30.8" fill="#f1df80"/>
<rect x="187.1" y="1004.4" width="35.5" height="30.4" fill="#f1df81"/>
<rect x="187.1" y="975.2" width="35.5" height="29.5" fill="#f1e082"/>
<rect x="187.1" y="948.1" width="35.5" height="27.4" fill="#f1e081"/>
<rect x="187.1" y="920.6" width="35.5" height="27.8" fill="#f1e183"/>
<rect x="187.1" y="893.8" width="35.5" height="27.1" fill="#f1e082"/>
<rect x="187.1" y="867.2" width="35.5" height="26.9" fill="#f1e082"/>
<rect x="187.1" y="842.5" width="35.5" height="25.0" fill="#f1e082"/>
<rect x="187.1" y="817.7" width="35.5" height="25.1" fill="#f1e082"/>
<rect x="187.1" y="793.8" width="35.5" height="24.2" fill="#f1df80"/>
<rect x="187.1" y="770.6" width="35.5" height="23.5" fill="#f1e184"/>
<rect x="187.1" y="747.2" width="35.5" height="23.7" fill="#f1e083"/>
<rect x="187.1" y="725.2" width="35.5" height="22.3" fill="#f1df81"/>
<rect x="187.1" y="702.4" width="35.5" height="23.1" fill="#f0de7f"/>
<rect x="187.1" y="683.7" width="35.5" height="19.0" fill="#f6f3a9"/>
<rect x="222.3" y="1308.8" width="35.6" height="37.5" fill="#f1df81"/>
<rect x="222.3" y="1272.3" width="35.6" height="36.8" fill="#f1df81"/>
<rect x="222.3" y="1236.9" width="35.6" height="35.7" fill="#f4eb97"/>
<rect x="222.3" y="1201.7" width="35.6" height="35.5" fill="#f1e082"/>
<rect x="222.3" y="1166.4" width="35.6" height="35.6" fill="#ef8241"/>
<rect x="222.3" y="1131.9" width="35.6" height="34.8" fill="#f1df80"/>
<rect x="222.3" y="1097.6" width="35.6" height="34.6" fill="#f1e183"/>
<rect x="222.3" y="1065.0" width="35.6" height="32.9" fill="#f0de7f"/>
<rect x="222.3" y="1034.5" width="35.6" height="30.8" fill="#f1df81"/>
<rect x="222.3" y="1004.4" width="35.6" height="30.4" fill="#f1e082"/>
<rect x="222.3" y="975.2" width="35.6" height="29.5" fill="#f1e285"/>
<rect x="222.3" y="948.1" width="35.6" height="27.4" fill="#f1df81"/>
<rect x="222.3" y="920.6" width="35.6" height="27.8" fill="#f1e183"/>
<rect x="222.3" y="893.8" width="35.6" height="27.1" fill="#f1df81"/>
<rect x="222.3" y="867.2" width="35.6" height="26.9" fill="#f1e183"/>
<rect x="222.3" y="842.5" width="35.6" height="25.0" fill="#f1e184"/>
<rect x="222.3" y="817.7" width="35.6" height="25.1" fill="#f1e082"/>
<rect x="222.3" y="793.8" width="35.6" height="24.2" fill="#f1df81"/>
<rect x="222.3" y="770.6" width="35.6" height="23.5" fill="#f1e183"/>
<rect x="222.3" y="747.2" width="35.6" height="23.7" fill="#f1e184"/>
<rect x="222.3" y="725.2" width="35.6" height="22.3" fill="#f1e082"/>
<rect x="222.3" y="702.4" width="35.6" height="23.1" fill="#f1df81"/>
<rect x="222.3" y="683.7" width="35.6" height="19.0" fill="#f7f4aa"/>
<rect x="257.6" y="1308.8" width="34.8" height="37.5" fill="#f0dd7e"/>
<rect x="257.6" y="1272.3" width="34.8" height="36.8" fill="#f1de80"/>
<rect x="257.6" y="1236.9" width="34.8" height="35.7" fill="#f4ea95"/>
<rect x="257.6" y="1201.7" width="34.8" height="35.5" fill="#f1df81"/>
<rect x="257.6" y="1166.4" width="34.8" height="35.6" fill="#f1e082"/>
<rect x="257.6" y="1131.9" width="34.8" height="34.8" fill="#ef8241"/>
<rect x="257.6" y="1097.6" width="34.8" height="34.6" fill="#f1e082"/>
<rect x="257.6" y="1065.0" width="34.8" height="32.9" fill="#f0dd7e"/>
<rect x="257.6" y="1034.5" width="34.8" height="30.8" fill="#f0dd7f"/>
<rect x="257.6" y="1004.4" width="34.8" height="30.4" fill="#f1de80"/>
<rect x="257.6" y="975.2" width="34.8" height="29.5" fill="#f1e082"/>
<rect x="257.6" y="948.1" width="34.8" height="27.4" fill="#f1df80"/>
<rect x="257.6" y="920.6" width="34.8" height="27.8" fill="#f1e082"/>
<rect x="257.6" y="893.8" width="34.8" height="27.1" fill="#f1df80"/>
<rect x="257.6" y="867.2" width="34.8" height="26.9" fill="#f1e082"/>
<rect x="257.6" y="842.5" width="34.8" height="25.0" fill="#f1df81"/>
<rect x="257.6" y="817.7" width="34.8" height="25.1" fill="#f0de7f"/>
<rect x="257.6" y="793.8" width="34.8" height="24.2" fill="#f0dd7e"/>
<rect x="257.6" y="770.6" width="34.8" height="23.5" fill="#f1df81"/>
<rect x="257.6" y="747.2" width="34.8" height="23.7" fill="#f1e082"/>
<rect x="257.6" y="725.2" width="34.8" height="22.3" fill="#f1de80"/>
<rect x="257.6" y="702.4" width="34.8" height="23.1" fill="#f0dd7e"/>
<rect x="257.6" y="683.7" width="34.8" height="19.0" fill="#f6f3a7"/>
<rect x="292.1" y="1308.8" width="34.6" height="37.5" fill="#f1de80"/>
<rect x="292.1" y="1272.3" width="34.6" height="36.8" fill="#f1e082"/>
<rect x="292.1" y="1236.9" width="34.6" height="35.7" fill="#f4ec98"/>
<rect x="292.1" y="1201.7" width="34.6" height="35.5" fill="#f1e082"/>
<rect x="292.1" y="1166.4" width="34.6" height="35.6" fill="#f1e184"/>
<rect x="292.1" y="1131.9" width="34.6" height="34.8" fill="#f1e082"/>
<rect x="292.1" y="1097.6" width="34.6" height="34.6" fill="#ef8241"/>
<rect x="292.1" y="1065.0" width="34.6" height="32.9" fill="#f0de7f"/>
<rect x="292.1" y="1034.5" width="34.6" height="30.8" fill="#f1e183"/>
<rect x="292.1" y="1004.4" width="34.6" height="30.4" fill="#f1e083"/>
<rect x="292.1" y="975.2" width="34.6" height="29.5" fill="#f1e183"/>
<rect x="292.1" y="948.1" width="34.6" height="27.4" fill="#f1df81"/>
<rect x="292.1" y="920.6" width="34.6" height="27.8" fill="#f1e184"/>
<rect x="292.1" y="893.8" width="34.6" height="27.1" fill="#f1e183"/>
<rect x="292.1" y="867.2" width="34.6" height="26.9" fill="#f1e185"/>
<rect x="292.1" y="842.5" width="34.6" height="25.0" fill="#f1e285"/>
<rect x="292.1" y="817.7" width="34.6" height="25.1" fill="#f1e082"/>
<rect x="292.1" y="793.8" width="34.6" height="24.2" fill="#f1df81"/>
<rect x="292.1" y="770.6" width="34.6" height="23.5" fill="#f1e183"/>
<rect x="292.1" y="747.2" width="34.6" height="23.7" fill="#f1e184"/>
<rect x="292.1" y="725.2" width="34.6" height="22.3" fill="#f1e082"/>
<rect x="292.1" y="702.4" width="34.6" height="23.1" fill="#f1de80"/>
<rect x="292.1" y="683.7" width="34.6" height="19.0" fill="#f6f3a8"/>
<rect x="326.4" y="1308.8" width="32.9" height="37.5" fill="#f0db7b"/>
<rect x="326.4" y="1272.3" width="32.9" height="36.8" fill="#f0dc7c"/>
<rect x="326.4" y="1236.9" width="32.9" height="35.7" fill="#f3e790"/>
<rect x="326.4" y="1201.7" width="32.9" height="35.5" fill="#f0dd7e"/>
<rect x="326.4" y="1166.4" width="32.9" height="35.6" fill="#f1de80"/>
<rect x="326.4" y="1131.9" width="32.9" height="34.8" fill="#f0dc7d"/>
<rect x="326.4" y="1097.6" width="32.9" height="34.6" fill="#f1de80"/>
<rect x="326.4" y="1065.0" width="32.9" height="32.9" fill="#ef8241"/>
<rect x="326.4" y="1034.5" width="32.9" height="30.8" fill="#f0dd7f"/>
<rect x="326.4" y="1004.4" width="32.9" height="30.4" fill="#f0de7f"/>
<rect x="326.4" y="975.2" width="32.9" height="29.5" fill="#f1de80"/>
<rect x="326.4" y="948.1" width="32.9" height="27.4" fill="#f0dd7e"/>
<rect x="326.4" y="920.6" width="32.9" height="27.8" fill="#f0de7f"/>
<rect x="326.4" y="893.8" width="32.9" height="27.1" fill="#f0dc7d"/>
<rect x="326.4" y="867.2" width="32.9" height="26.9" fill="#f1de80"/>
<rect x="326.4" y="842.5" width="32.9" height="25.0" fill="#f0dd7f"/>
<rect x="326.4" y="817.7" width="32.9" height="25.1" fill="#f0dc7d"/>
<rect x="326.4" y="793.8" width="32.9" height="24.2" fill="#f0db7c"/>
<rect x="326.4" y="770.6" width="32.9" height="23.5" fill="#f1de80"/>
<rect x="326.4" y="747.2" width="32.9" height="23.7" fill="#f0de7f"/>
<rect x="326.4" y="725.2" width="32.9" height="22.3" fill="#f0dd7e"/>
<rect x="326.4" y="702.4" width="32.9" height="23.1" fill="#f0dc7d"/>
<rect x="326.4" y="683.7" width="32.9" height="19.0" fill="#f6f2a5"/>
<rect x="359.0" y="1308.8" width="30.8" height="37.5" fill="#f0dd7e"/>
<rect x="359.0" y="1272.3" width="30.8" height="36.8" fill="#f0dd7f"/>
<rect x="359.0" y="1236.9" width="30.8" height="35.7" fill="#f4e994"/>
<rect x="359.0" y="1201.7" width="30.8" height="35.5" fill="#f1df81"/>
<rect x="359.0" y="1166.4" width="30.8" height="35.6" fill="#f1df81"/>
<rect x="359.0" y="1131.9" width="30.8" height="34.8" fill="#f0de7f"/>
<rect x="359.0" y="1097.6" width="30.8" height="34.6" fill="#f1e183"/>
<rect x="359.0" y="1065.0" width="30.8" height="32.9" fill="#f0dc7d"/>
<rect x="359.0" y="1034.5" width="30.8" height="30.8" fill="#ef8241"/>
<rect x="359.0" y="1004.4" width="30.8" height="30.4" fill="#f1de80"/>
<rect x="359.0" y="975.2" width="30.8" height="29.5" fill="#f1e081"/>
<rect x="359.0" y="948.1" width="30.8" height="27.4" fill="#f1de80"/>
<rect x="359.0" y="920.6" width="30.8" height="27.8" fill="#f1e082"/>
<rect x="359.0" y="893.8" width="30.8" height="27.1" fill="#f1df81"/>
<rect x="359.0" y="867.2" width="30.8" height="26.9" fill="#f1df81"/>
<rect x="359.0" y="842.5" width="30.8" height="25.0" fill="#f1e082"/>
<rect x="359.0" y="817.7" width="30.8" height="25.1" fill="#f1de80"/>
<rect x="359.0" y="793.8" width="30.8" height="24.2" fill="#f0dd7e"/>
<rect x="359.0" y="770.6" width="30.8" height="23.5" fill="#f1e082"/>
<rect x="359.0" y="747.2" width="30.8" height="23.7" fill="#f1e081"/>
<rect x="359.0" y="725.2" width="30.8" height="22.3" fill="#f0dd7f"/>
<rect x="359.0" y="702.4" width="30.8" height="23.1" fill="#f0dd7e"/>
<rect x="359.0" y="683.7" width="30.8" height="19.0" fill="#f6f3a8"/>
<rect x="389.5" y="1308.8" width="30.4" height="37.5" fill="#f1de80"/>
<rect x="389.5" y="1272.3" width="30.4" height="36.8" fill="#f1df81"/>
<rect x="389.5" y="1236.9" width="30.4" height="35.7" fill="#f4e994"/>
<rect x="389.5" y="1201.7" width="30.4" height="35.5" fill="#f1df81"/>
<rect x="389.5" y="1166.4" width="30.4" height="35.6" fill="#f1e183"/>
<rect x="389.5" y="1131.9" width="30.4" height="34.8" fill="#f1de80"/>
<rect x="389.5" y="1097.6" width="30.4" height="34.6" fill="#f1e082"/>
<rect x="389.5" y="1065.0" width="30.4" height="32.9" fill="#f0dd7e"/>
<rect x="389.5" y="1034.5" width="30.4" height="30.8" fill="#f1df81"/>
<rect x="389.5" y="1004.4" width="30.4" height="30.4" fill="#ef8241"/>
<rect x="389.5" y="975.2" width="30.4" height="29.5" fill="#f1e083"/>
<rect x="389.5" y="948.1" width="30.4" height="27.4" fill="#f1e082"/>
<rect x="389.5" y="920.6" width="30.4" height="27.8" fill="#f1e184"/>
<rect x="389.5" y="893.8" width="30.4" height="27.1" fill="#f1df80"/>
<rect x="389.5" y="867.2" width="30.4" height="26.9" fill="#f1e082"/>
<rect x="389.5" y="842.5" width="30.4" height="25.0" fill="#f1e083"/>
<rect x="389.5" y="817.7" width="30.4" height="25.1" fill="#f1df80"/>
<rect x="389.5" y="793.8" width="30.4" height="24.2" fill="#f1de80"/>
<rect x="389.5" y="770.6" width="30.4" height="23.5" fill="#f1e082"/>
<rect x="389.5" y="747.2" width="30.4" height="23.7" fill="#f1df81"/>
<rect x="389.5" y="725.2" width="30.4" height="22.3" fill="#f1df81"/>
<rect x="389.5" y="702.4" width="30.4" height="23.1" fill="#f1de80"/>
<rect x="389.5" y="683.7" width="30.4" height="19.0" fill="#f6f3a9"/>
<rect x="419.6" y="1308.8" width="29.5" height="37.5" fill="#f1df81"/>
<rect x="419.6" y="1272.3" width="29.5" height="36.8" fill="#f1df81"/>
<rect x="419.6" y="1236.9" width="29.5" height="35.7" fill="#f4eb98"/>
<rect x="419.6" y="1201.7" width="29.5" height="35.5" fill="#f1e183"/>
<rect x="419.6" y="1166.4" width="29.5" height="35.6" fill="#f1e285"/>
<rect x="419.6" y="1131.9" width="29.5" height="34.8" fill="#f1df81"/>
<rect x="419.6" y="1097.6" width="29.5" height="34.6" fill="#f1e285"/>
<rect x="419.6" y="1065.0" width="29.5" height="32.9" fill="#f1de80"/>
<rect x="419.6" y="1034.5" width="29.5" height="30.8" fill="#f1e082"/>
<rect x="419.6" y="1004.4" width="29.5" height="30.4" fill="#f1e082"/>
<rect x="419.6" y="975.2" width="29.5" height="29.5" fill="#ef8241"/>
<rect x="419.6" y="948.1" width="29.5" height="27.4" fill="#f1e082"/>
<rect x="419.6" y="920.6" width="29.5" height="27.8" fill="#f1e184"/>
<rect x="419.6" y="893.8" width="29.5" height="27.1" fill="#f1e083"/>
<rect x="419.6" y="867.2" width="29.5" height="26.9" fill="#f1e184"/>
<rect x="419.6" y="842.5" width="29.5" height="25.0" fill="#f1e184"/>
<rect x="419.6" y="817.7" width="29.5" height="25.1" fill="#f1e184"/>
<rect x="419.6" y="793.8" width="29.5" height="24.2" fill="#f1df81"/>
<rect x="419.6" y="770.6" width="29.5" height="23.5" fill="#f1e285"/>
<rect x="419.6" y="747.2" width="29.5" height="23.7" fill="#f1e285"/>
<rect x="419.6" y="725.2" width="29.5" height="22.3" fill="#f1df81"/>
<rect x="419.6" y="702.4" width="29.5" height="23.1" fill="#f1df81"/>
<rect x="419.6" y="683.7" width="29.5" height="19.0" fill="#f7f4aa"/>
<rect x="448.8" y="1308.8" width="27.4" height="37.5" fill="#f0dd7e"/>
<rect x="448.8" y="1272.3" width="27.4" height="36.8" fill="#f0de7f"/>
<rect x="448.8" y="1236.9" width="27.4" height="35.7" fill="#f4ea95"/>
<rect x="448.8" y="1201.7" width="27.4" height="35.5" fill="#f1df81"/>
<rect x="448.8" y="1166.4" width="27.4" height="35.6" fill="#f1e082"/>
<rect x="448.8" y="1131.9" width="27.4" height="34.8" fill="#f0de7f"/>
<rect x="448.8" y="1097.6" width="27.4" height="34.6" fill="#f1e183"/>
<rect x="448.8" y="1065.0" width="27.4" height="32.9" fill="#f0dd7e"/>
<rect x="448.8" y="1034.5" width="27.4" height="30.8" fill="#f1df81"/>
<rect x="448.8" y="1004.4" width="27.4" height="30.4" fill="#f1df81"/>
<rect x="448.8" y="975.2" width="27.4" height="29.5" fill="#f1e082"/>
<rect x="448.8" y="948.1" width="27.4" height="27.4" fill="#ef8241"/>
<rect x="448.8" y="920.6" width="27.4" height="27.8" fill="#f1e082"/>
<rect x="448.8" y="893.8" width="27.4" height="27.1" fill="#f1df80"/>
<rect x="448.8" y="867.2" width="27.4" height="26.9" fill="#f1e082"/>
<rect x="448.8" y="842.5" width="27.4" height="25.0" fill="#f1df81"/>
<rect x="448.8" y="817.7" width="27.4" height="25.1" fill="#f1df81"/>
<rect x="448.8" y="793.8" width="27.4" height="24.2" fill="#f0dd7f"/>
<rect x="448.8" y="770.6" width="27.4" height="23.5" fill="#f1e082"/>
<rect x="448.8" y="747.2" width="27.4" height="23.7" fill="#f1e081"/>
<rect x="448.8" y="725.2" width="27.4" height="22.3" fill="#f0de7f"/>
<rect x="448.8" y="702.4" width="27.4" height="23.1" fill="#f0dd7f"/>
<rect x="448.8" y="683.7" width="27.4" height="19.0" fill="#f6f3a7"/>
<rect x="475.9" y="1308.8" width="27.8" height="37.5" fill="#f1df81"/>
<rect x="475.9" y="1272.3" width="27.8" height="36.8" fill="#f1df80"/>
<rect x="475.9" y="1236.9" width="27.8" height="35.7" fill="#f4eb97"/>
<rect x="475.9" y="1201.7" width="27.8" height="35.5" fill="#f1e082"/>
<rect x="475.9" y="1166.4" width="27.8" height="35.6" fill="#f1e183"/>
<rect x="475.9" y="1131.9" width="27.8" height="34.8" fill="#f1e082"/>
<rect x="475.9" y="1097.6" width="27.8" height="34.6" fill="#f1e184"/>
<rect x="475.9" y="1065.0" width="27.8" height="32.9" fill="#f0dd7f"/>
<rect x="475.9" y="1034.5" width="27.8" height="30.8" fill="#f1df81"/>
<rect x="475.9" y="1004.4" width="27.8" height="30.4" fill="#f1e184"/>
<rect x="475.9" y="975.2" width="27.8" height="29.5" fill="#f2e286"/>
<rect x="475.9" y="948.1" width="27.8" height="27.4" fill="#f1e082"/>
<rect x="475.9" y="920.6" width="27.8" height="27.8" fill="#ef8241"/>
<rect x="475.9" y="893.8" width="27.8" height="27.1" fill="#f1e184"/>
<rect x="475.9" y="867.2" width="27.8" height="26.9" fill="#f1e285"/>
<rect x="475.9" y="842.5" width="27.8" height="25.0" fill="#f2e286"/>
<rect x="475.9" y="817.7" width="27.8" height="25.1" fill="#f1e082"/>
<rect x="475.9" y="793.8" width="27.8" height="24.2" fill="#f1df80"/>
<rect x="475.9" y="770.6" width="27.8" height="23.5" fill="#f1e183"/>
<rect x="475.9" y="747.2" width="27.8" height="23.7" fill="#f1e185"/>
<rect x="475.9" y="725.2" width="27.8" height="22.3" fill="#f1df81"/>
<rect x="475.9" y="702.4" width="27.8" height="23.1" fill="#f1de80"/>
<rect x="475.9" y="683.7" width="27.8" height="19.0" fill="#f7f4ab"/>
<rect x="503.4" y="1308.8" width="27.1" height="37.5" fill="#f0dd7e"/>
<rect x="503.4" y="1272.3" width="27.1" height="36.8" fill="#f0dd7f"/>
<rect x="503.4" y="1236.9" width="27.1" height="35.7" fill="#f4ea96"/>
<rect x="503.4" y="1201.7" width="27.1" height="35.5" fill="#f1df80"/>
<rect x="503.4" y="1166.4" width="27.1" height="35.6" fill="#f1e082"/>
<rect x="503.4" y="1131.9" width="27.1" height="34.8" fill="#f1de80"/>
<rect x="503.4" y="1097.6" width="27.1" height="34.6" fill="#f1df81"/>
<rect x="503.4" y="1065.0" width="27.1" height="32.9" fill="#f0dc7d"/>
<rect x="503.4" y="1034.5" width="27.1" height="30.8" fill="#f1df81"/>
<rect x="503.4" y="1004.4" width="27.1" height="30.4" fill="#f1df81"/>
<rect x="503.4" y="975.2" width="27.1" height="29.5" fill="#f1e082"/>
<rect x="503.4" y="948.1" width="27.1" height="27.4" fill="#f1df81"/>
<rect x="503.4" y="920.6" width="27.1" height="27.8" fill="#f1e183"/>
<rect x="503.4" y="893.8" width="27.1" height="27.1" fill="#ef8241"/>
<rect x="503.4" y="867.2" width="27.1" height="26.9" fill="#f1e083"/>
<rect x="503.4" y="842.5" width="27.1" height="25.0" fill="#f1e082"/>
<rect x="503.4" y="817.7" width="27.1" height="25.1" fill="#f1e082"/>
<rect x="503.4" y="793.8" width="27.1" height="24.2" fill="#f0de7f"/>
<rect x="503.4" y="770.6" width="27.1" height="23.5" fill="#f1e082"/>
<rect x="503.4" y="747.2" width="27.1" height="23.7" fill="#f1e083"/>
<rect x="503.4" y="725.2" width="27.1" height="22.3" fill="#f1df80"/>
<rect x="503.4" y="702.4" width="27.1" height="23.1" fill="#f0dd7f"/>
<rect x="503.4" y="683.7" width="27.1" height="19.0" fill="#f6f3a8"/>
<rect x="530.2" y="1308.8" width="26.9" height="37.5" fill="#f1df81"/>
<rect x="530.2" y="1272.3" width="26.9" height="36.8" fill="#f1df80"/>
<rect x="530.2" y="1236.9" width="26.9" height="35.7" fill="#f4ea96"/>
<rect x="530.2" y="1201.7" width="26.9" height="35.5" fill="#f1e082"/>
<rect x="530.2" y="1166.4" width="26.9" height="35.6" fill="#f1e285"/>
<rect x="530.2" y="1131.9" width="26.9" height="34.8" fill="#f1e082"/>
<rect x="530.2" y="1097.6" width="26.9" height="34.6" fill="#f2e286"/>
<rect x="530.2" y="1065.0" width="26.9" height="32.9" fill="#f0de7f"/>
<rect x="530.2" y="1034.5" width="26.9" height="30.8" fill="#f1e083"/>
<rect x="530.2" y="1004.4" width="26.9" height="30.4" fill="#f1e184"/>
<rect x="530.2" y="975.2" width="26.9" height="29.5" fill="#f1e185"/>
<rect x="530.2" y="948.1" width="26.9" height="27.4" fill="#f1df81"/>
<rect x="530.2" y="920.6" width="26.9" height="27.8" fill="#f1e184"/>
<rect x="530.2" y="893.8" width="26.9" height="27.1" fill="#f1e183"/>
<rect x="530.2" y="867.2" width="26.9" height="26.9" fill="#ef8241"/>
<rect x="530.2" y="842.5" width="26.9" height="25.0" fill="#f1e285"/>
<rect x="530.2" y="817.7" width="26.9" height="25.1" fill="#f1e082"/>
<rect x="530.2" y="793.8" width="26.9" height="24.2" fill="#f1df81"/>
<rect x="530.2" y="770.6" width="26.9" height="23.5" fill="#f1e184"/>
<rect x="530.2" y="747.2" width="26.9" height="23.7" fill="#f1e185"/>
<rect x="530.2" y="725.2" width="26.9" height="22.3" fill="#f1e083"/>
<rect x="530.2" y="702.4" width="26.9" height="23.1" fill="#f1de80"/>
<rect x="530.2" y="683.7" width="26.9" height="19.0" fill="#f7f4aa"/>
<rect x="556.8" y="1308.8" width="25.0" height="37.5" fill="#f1df81"/>
<rect x="556.8" y="1272.3" width="25.0" height="36.8" fill="#f1df80"/>
<rect x="556.8" y="1236.9" width="25.0" height="35.7" fill="#f4eb97"/>
<rect x="556.8" y="1201.7" width="25.0" height="35.5" fill="#f1e082"/>
<rect x="556.8" y="1166.4" width="25.0" height="35.6" fill="#f1e285"/>
<rect x="556.8" y="1131.9" width="25.0" height="34.8" fill="#f1df81"/>
<rect x="556.8" y="1097.6" width="25.0" height="34.6" fill="#f2e286"/>
<rect x="556.8" y="1065.0" width="25.0" height="32.9" fill="#f0dd7f"/>
<rect x="556.8" y="1034.5" width="25.0" height="30.8" fill="#f1e082"/>
<rect x="556.8" y="1004.4" width="25.0" height="30.4" fill="#f1e183"/>
<rect x="556.8" y="975.2" width="25.0" height="29.5" fill="#f1e184"/>
<rect x="556.8" y="948.1" width="25.0" height="27.4" fill="#f1df81"/>
<rect x="556.8" y="920.6" width="25.0" height="27.8" fill="#f1e285"/>
<rect x="556.8" y="893.8" width="25.0" height="27.1" fill="#f1e183"/>
<rect x="556.8" y="867.2" width="25.0" height="26.9" fill="#f1e184"/>
<rect x="556.8" y="842.5" width="25.0" height="25.0" fill="#ef8241"/>
<rect x="556.8" y="817.7" width="25.0" height="25.1" fill="#f1e183"/>
<rect x="556.8" y="793.8" width="25.0" height="24.2" fill="#f1e081"/>
<rect x="556.8" y="770.6" width="25.0" height="23.5" fill="#f1e285"/>
<rect x="556.8" y="747.2" width="25.0" height="23.7" fill="#f1e185"/>
<rect x="556.8" y="725.2" width="25.0" height="22.3" fill="#f1e082"/>
<rect x="556.8" y="702.4" width="25.0" height="23.1" fill="#f1df81"/>
<rect x="556.8" y="683.7" width="25.0" height="19.0" fill="#f7f4aa"/>
<rect x="581.5" y="1308.8" width="25.1" height="37.5" fill="#f0dd7e"/>
<rect x="581.5" y="1272.3" width="25.1" height="36.8" fill="#f1df80"/>
<rect x="581.5" y="1236.9" width="25.1" height="35.7" fill="#f4ea95"/>
<rect x="581.5" y="1201.7" width="25.1" height="35.5" fill="#f1e082"/>
<rect x="581.5" y="1166.4" width="25.1" height="35.6" fill="#f1e082"/>
<rect x="581.5" y="1131.9" width="25.1" height="34.8" fill="#f1df81"/>
<rect x="581.5" y="1097.6" width="25.1" height="34.6" fill="#f1e183"/>
<rect x="581.5" y="1065.0" width="25.1" height="32.9" fill="#f0de7f"/>
<rect x="581.5" y="1034.5" width="25.1" height="30.8" fill="#f1de80"/>
<rect x="581.5" y="1004.4" width="25.1" height="30.4" fill="#f1df81"/>
<rect x="581.5" y="975.2" width="25.1" height="29.5" fill="#f1e183"/>
<rect x="581.5" y="948.1" width="25.1" height="27.4" fill="#f1df81"/>
<rect x="581.5" y="920.6" width="25.1" height="27.8" fill="#f1e082"/>
<rect x="581.5" y="893.8" width="25.1" height="27.1" fill="#f1e082"/>
<rect x="581.5" y="867.2" width="25.1" height="26.9" fill="#f1e082"/>
<rect x="581.5" y="842.5" width="25.1" height="25.0" fill="#f1e083"/>
<rect x="581.5" y="817.7" width="25.1" height="25.1" fill="#ef8241"/>
<rect x="581.5" y="793.8" width="25.1" height="24.2" fill="#f0de7f"/>
<rect x="581.5" y="770.6" width="25.1" height="23.5" fill="#f1e081"/>
<rect x="581.5" y="747.2" width="25.1" height="23.7" fill="#f1e082"/>
<rect x="581.5" y="725.2" width="25.1" height="22.3" fill="#f1de80"/>
<rect x="581.5" y="702.4" width="25.1" height="23.1" fill="#f0dd7e"/>
<rect x="581.5" y="683.7" width="25.1" height="19.0" fill="#f6f2a6"/>
<rect x="606.3" y="1308.8" width="24.2" height="37.5" fill="#f0dd7e"/>
<rect x="606.3" y="1272.3" width="24.2" height="36.8" fill="#f0dc7e"/>
<rect x="606.3" y="1236.9" width="24.2" height="35.7" fill="#f3e892"/>
<rect x="606.3" y="1201.7" width="24.2" height="35.5" fill="#f0de7f"/>
<rect x="606.3" y="1166.4" width="24.2" height="35.6" fill="#f1df81"/>
<rect x="606.3" y="1131.9" width="24.2" height="34.8" fill="#f0dd7f"/>
<rect x="606.3" y="1097.6" width="24.2" height="34.6" fill="#f1e082"/>
<rect x="606.3" y="1065.0" width="24.2" height="32.9" fill="#f0dc7d"/>
<rect x="606.3" y="1034.5" width="24.2" height="30.8" fill="#f1de80"/>
<rect x="606.3" y="1004.4" width="24.2" height="30.4" fill="#f0de7f"/>
<rect x="606.3" y="975.2" width="24.2" height="29.5" fill="#f1df81"/>
<rect x="606.3" y="948.1" width="24.2" height="27.4" fill="#f1de80"/>
<rect x="606.3" y="920.6" width="24.2" height="27.8" fill="#f1e082"/>
<rect x="606.3" y="893.8" width="24.2" height="27.1" fill="#f0dd7f"/>
<rect x="606.3" y="867.2" width="24.2" height="26.9" fill="#f1de80"/>
<rect x="606.3" y="842.5" width="24.2" height="25.0" fill="#f1df80"/>
<rect x="606.3" y="817.7" width="24.2" height="25.1" fill="#f1de80"/>
<rect x="606.3" y="793.8" width="24.2" height="24.2" fill="#ef8241"/>
<rect x="606.3" y="770.6" width="24.2" height="23.5" fill="#f1df81"/>
<rect x="606.3" y="747.2" width="24.2" height="23.7" fill="#f1df81"/>
<rect x="606.3" y="725.2" width="24.2" height="22.3" fill="#f0dd7f"/>
<rect x="606.3" y="702.4" width="24.2" height="23.1" fill="#f0dd7e"/>
<rect x="606.3" y="683.7" width="24.2" height="19.0" fill="#f6f2a6"/>
<rect x="630.2" y="1308.8" width="23.5" height="37.5" fill="#f1df81"/>
<rect x="630.2" y="1272.3" width="23.5" height="36.8" fill="#f1de80"/>
<rect x="630.2" y="1236.9" width="23.5" height="35.7" fill="#f4ea95"/>
<rect x="630.2" y="1201.7" width="23.5" height="35.5" fill="#f1e083"/>
<rect x="630.2" y="1166.4" width="23.5" height="35.6" fill="#f1e184"/>
<rect x="630.2" y="1131.9" width="23.5" height="34.8" fill="#f1df80"/>
<rect x="630.2" y="1097.6" width="23.5" height="34.6" fill="#f1e185"/>
<rect x="630.2" y="1065.0" width="23.5" height="32.9" fill="#f1de80"/>
<rect x="630.2" y="1034.5" width="23.5" height="30.8" fill="#f1e083"/>
<rect x="630.2" y="1004.4" width="23.5" height="30.4" fill="#f1e083"/>
<rect x="630.2" y="975.2" width="23.5" height="29.5" fill="#f1e184"/>
<rect x="630.2" y="948.1" width="23.5" height="27.4" fill="#f1e082"/>
<rect x="630.2" y="920.6" width="23.5" height="27.8" fill="#f1e285"/>
<rect x="630.2" y="893.8" width="23.5" height="27.1" fill="#f1e082"/>
<rect x="630.2" y="867.2" width="23.5" height="26.9" fill="#f2e286"/>
<rect x="630.2" y="842.5" width="23.5" height="25.0" fill="#f1e185"/>
<rect x="630.2" y="817.7" width="23.5" height="25.1" fill="#f1e183"/>
<rect x="630.2" y="793.8" width="23.5" height="24.2" fill="#f1df81"/>
<rect x="630.2" y="770.6" width="23.5" height="23.5" fill="#ef8241"/>
<rect x="630.2" y="747.2" width="23.5" height="23.7" fill="#f1e185"/>
<rect x="630.2" y="725.2" width="23.5" height="22.3" fill="#f1e082"/>
<rect x="630.2" y="702.4" width="23.5" height="23.1" fill="#f1df80"/>
<rect x="630.2" y="683.7" width="23.5" height="19.0" fill="#f7f4aa"/>
<rect x="653.4" y="1308.8" width="23.7" height="37.5" fill="#f1de80"/>
<rect x="653.4" y="1272.3" width="23.7" height="36.8" fill="#f1df81"/>
<rect x="653.4" y="1236.9" width="23.7" height="35.7" fill="#f4ea96"/>
<rect x="653.4" y="1201.7" width="23.7" height="35.5" fill="#f1e082"/>
<rect x="653.4" y="1166.4" width="23.7" height="35.6" fill="#f1e083"/>
<rect x="653.4" y="1131.9" width="23.7" height="34.8" fill="#f1de80"/>
<rect x="653.4" y="1097.6" width="23.7" height="34.6" fill="#f1e184"/>
<rect x="653.4" y="1065.0" width="23.7" height="32.9" fill="#f0de7f"/>
<rect x="653.4" y="1034.5" width="23.7" height="30.8" fill="#f1df80"/>
<rect x="653.4" y="1004.4" width="23.7" height="30.4" fill="#f1e083"/>
<rect x="653.4" y="975.2" width="23.7" height="29.5" fill="#f1e183"/>
<rect x="653.4" y="948.1" width="23.7" height="27.4" fill="#f1df81"/>
<rect x="653.4" y="920.6" width="23.7" height="27.8" fill="#f1e285"/>
<rect x="653.4" y="893.8" width="23.7" height="27.1" fill="#f1df81"/>
<rect x="653.4" y="867.2" width="23.7" height="26.9" fill="#f1e083"/>
<rect x="653.4" y="842.5" width="23.7" height="25.0" fill="#f1e183"/>
<rect x="653.4" y="817.7" width="23.7" height="25.1" fill="#f1df81"/>
<rect x="653.4" y="793.8" width="23.7" height="24.2" fill="#f1de80"/>
<rect x="653.4" y="770.6" width="23.7" height="23.5" fill="#f1e184"/>
<rect x="653.4" y="747.2" width="23.7" height="23.7" fill="#ef8241"/>
<rect x="653.4" y="725.2" width="23.7" height="22.3" fill="#f1df81"/>
<rect x="653.4" y="702.4" width="23.7" height="23.1" fill="#f1de80"/>
<rect x="653.4" y="683.7" width="23.7" height="19.0" fill="#f6f3a8"/>
<rect x="676.8" y="1308.8" width="22.3" height="37.5" fill="#f0dc7e"/>
<rect x="676.8" y="1272.3" width="22.3" height="36.8" fill="#f0dd7e"/>
<rect x="676.8" y="1236.9" width="22.3" height="35.7" fill="#f4e994"/>
<rect x="676.8" y="1201.7" width="22.3" height="35.5" fill="#f1de80"/>
<rect x="676.8" y="1166.4" width="22.3" height="35.6" fill="#f1df81"/>
<rect x="676.8" y="1131.9" width="22.3" height="34.8" fill="#f0dd7f"/>
<rect x="676.8" y="1097.6" width="22.3" height="34.6" fill="#f1e082"/>
<rect x="676.8" y="1065.0" width="22.3" height="32.9" fill="#f0dd7e"/>
<rect x="676.8" y="1034.5" width="22.3" height="30.8" fill="#f1df80"/>
<rect x="676.8" y="1004.4" width="22.3" height="30.4" fill="#f1df81"/>
<rect x="676.8" y="975.2" width="22.3" height="29.5" fill="#f1e083"/>
<rect x="676.8" y="948.1" width="22.3" height="27.4" fill="#f0de7f"/>
<rect x="676.8" y="920.6" width="22.3" height="27.8" fill="#f1e082"/>
<rect x="676.8" y="893.8" width="22.3" height="27.1" fill="#f1de80"/>
<rect x="676.8" y="867.2" width="22.3" height="26.9" fill="#f1df81"/>
<rect x="676.8" y="842.5" width="22.3" height="25.0" fill="#f1df81"/>
<rect x="676.8" y="817.7" width="22.3" height="25.1" fill="#f1df80"/>
<rect x="676.8" y="793.8" width="22.3" height="24.2" fill="#f1de80"/>
<rect x="676.8" y="770.6" width="22.3" height="23.5" fill="#f1df81"/>
<rect x="676.8" y="747.2" width="22.3" height="23.7" fill="#f1df80"/>
<rect x="676.8" y="725.2" width="22.3" height="22.3" fill="#ef8241"/>
<rect x="676.8" y="702.4" width="22.3" height="23.1" fill="#f0dd7e"/>
<rect x="676.8" y="683.7" width="22.3" height="19.0" fill="#f6f2a7"/>
<rect x="698.8" y="1308.8" width="23.1" height="37.5" fill="#f0dc7d"/>
<rect x="698.8" y="1272.3" width="23.1" height="36.8" fill="#f0dd7f"/>
<rect x="698.8" y="1236.9" width="23.1" height="35.7" fill="#f3e891"/>
<rect x="698.8" y="1201.7" width="23.1" height="35.5" fill="#f1de80"/>
<rect x="698.8" y="1166.4" width="23.1" height="35.6" fill="#f1df81"/>
<rect x="698.8" y="1131.9" width="23.1" height="34.8" fill="#f0dd7e"/>
<rect x="698.8" y="1097.6" width="23.1" height="34.6" fill="#f1de80"/>
<rect x="698.8" y="1065.0" width="23.1" height="32.9" fill="#f0dc7d"/>
<rect x="698.8" y="1034.5" width="23.1" height="30.8" fill="#f0dd7e"/>
<rect x="698.8" y="1004.4" width="23.1" height="30.4" fill="#f0dd7e"/>
<rect x="698.8" y="975.2" width="23.1" height="29.5" fill="#f1df80"/>
<rect x="698.8" y="948.1" width="23.1" height="27.4" fill="#f0dd7f"/>
<rect x="698.8" y="920.6" width="23.1" height="27.8" fill="#f1df80"/>
<rect x="698.8" y="893.8" width="23.1" height="27.1" fill="#f0dd7e"/>
<rect x="698.8" y="867.2" width="23.1" height="26.9" fill="#f1de80"/>
<rect x="698.8" y="842.5" width="23.1" height="25.0" fill="#f1de80"/>
<rect x="698.8" y="817.7" width="23.1" height="25.1" fill="#f0dd7f"/>
<rect x="698.8" y="793.8" width="23.1" height="24.2" fill="#f0dd7e"/>
<rect x="698.8" y="770.6" width="23.1" height="23.5" fill="#f1df81"/>
<rect x="698.8" y="747.2" width="23.1" height="23.7" fill="#f1df80"/>
<rect x="698.8" y="725.2" width="23.1" height="22.3" fill="#f0dc7e"/>
<rect x="698.8" y="702.4" width="23.1" height="23.1" fill="#ef8241"/>
<rect x="698.8" y="683.7" width="23.1" height="19.0" fill="#f6f2a5"/>
<rect x="721.6" y="1308.8" width="19.0" height="37.5" fill="#f6f2a5"/>
<rect x="721.6" y="1272.3" width="19.0" height="36.8" fill="#f6f3a8"/>
<rect x="721.6" y="1236.9" width="19.0" height="35.7" fill="#f9fabe"/>
<rect x="721.6" y="1201.7" width="19.0" height="35.5" fill="#f6f3a9"/>
<rect x="721.6" y="1166.4" width="19.0" height="35.6" fill="#f6f3a9"/>
<rect x="721.6" y="1131.9" width="19.0" height="34.8" fill="#f6f2a6"/>
<rect x="721.6" y="1097.6" width="19.0" height="34.6" fill="#f6f3a9"/>
<rect x="721.6" y="1065.0" width="19.0" height="32.9" fill="#f6f2a4"/>
<rect x="721.6" y="1034.5" width="19.0" height="30.8" fill="#f6f3a7"/>
<rect x="721.6" y="1004.4" width="19.0" height="30.4" fill="#f6f3a8"/>
<rect x="721.6" y="975.2" width="19.0" height="29.5" fill="#f7f4aa"/>
<rect x="721.6" y="948.1" width="19.0" height="27.4" fill="#f6f3a8"/>
<rect x="721.6" y="920.6" width="19.0" height="27.8" fill="#f6f3a9"/>
<rect x="721.6" y="893.8" width="19.0" height="27.1" fill="#f6f3a9"/>
<rect x="721.6" y="867.2" width="19.0" height="26.9" fill="#f6f3a8"/>
<rect x="721.6" y="842.5" width="19.0" height="25.0" fill="#f6f3a8"/>
<rect x="721.6" y="817.7" width="19.0" height="25.1" fill="#f6f3a9"/>
<rect x="721.6" y="793.8" width="19.0" height="24.2" fill="#f6f2a6"/>
<rect x="721.6" y="770.6" width="19.0" height="23.5" fill="#f6f3a9"/>
<rect x="721.6" y="747.2" width="19.0" height="23.7" fill="#f6f3a8"/>
<rect x="721.6" y="725.2" width="19.0" height="22.3" fill="#f6f3a7"/>
<rect x="721.6" y="702.4" width="19.0" height="23.1" fill="#f6f2a5"/>
<rect x="721.6" y="683.7" width="19.0" height="19.0" fill="#ecaa54"/>
</g>
<rect x="78.0" y="683.3" width="662.3" height="662.7" filter="url(#noiseC)" opacity="0.18"/>
<clipPath id="diagclip"><rect x="78.0" y="1308.8" width="37.2" height="37.2"/><rect x="115.2" y="1272.3" width="36.5" height="36.5"/><rect x="151.7" y="1236.9" width="35.4" height="35.4"/><rect x="187.1" y="1201.7" width="35.2" height="35.2"/><rect x="222.3" y="1166.4" width="35.3" height="35.3"/><rect x="257.6" y="1131.9" width="34.5" height="34.5"/><rect x="292.1" y="1097.6" width="34.3" height="34.3"/><rect x="326.4" y="1065.0" width="32.6" height="32.6"/><rect x="359.0" y="1034.5" width="30.5" height="30.5"/><rect x="389.5" y="1004.4" width="30.1" height="30.1"/><rect x="419.6" y="975.2" width="29.2" height="29.2"/><rect x="448.8" y="948.1" width="27.1" height="27.1"/><rect x="475.9" y="920.6" width="27.5" height="27.5"/><rect x="503.4" y="893.8" width="26.8" height="26.8"/><rect x="530.2" y="867.2" width="26.6" height="26.6"/><rect x="556.8" y="842.5" width="24.7" height="24.7"/><rect x="581.5" y="817.7" width="24.8" height="24.8"/><rect x="606.3" y="793.8" width="23.9" height="23.9"/><rect x="630.2" y="770.6" width="23.2" height="23.2"/><rect x="653.4" y="747.2" width="23.4" height="23.4"/><rect x="676.8" y="725.2" width="22.0" height="22.0"/><rect x="698.8" y="702.4" width="22.8" height="22.8"/><rect x="721.6" y="683.7" width="18.7" height="18.7"/></clipPath>
<g clip-path="url(#diagclip)">
<line x1="78.0" y1="1346.0" x2="721.6" y2="702.4" stroke="#f0503a" stroke-width="26" opacity="0.22" filter="url(#blurD)"/>
<line x1="78.0" y1="1346.0" x2="721.6" y2="702.4" stroke="#f0503a" stroke-width="9" opacity="0.3" filter="url(#blurD)"/>
<line x1="78.0" y1="1346.0" x2="721.6" y2="702.4" stroke="#fa6a55" stroke-width="1.3" opacity="0.9"/>
</g>
<g stroke="#000" stroke-width="1.5" stroke-dasharray="5.6 2.4">
<line x1="115.2" y1="1346.0" x2="115.2" y2="683.3"/>
<line x1="78.0" y1="1308.8" x2="740.3" y2="1308.8"/>
<line x1="151.7" y1="1346.0" x2="151.7" y2="683.3"/>
<line x1="78.0" y1="1272.3" x2="740.3" y2="1272.3"/>
<line x1="187.1" y1="1346.0" x2="187.1" y2="683.3"/>
<line x1="78.0" y1="1236.9" x2="740.3" y2="1236.9"/>
<line x1="222.3" y1="1346.0" x2="222.3" y2="683.3"/>
<line x1="78.0" y1="1201.7" x2="740.3" y2="1201.7"/>
<line x1="257.6" y1="1346.0" x2="257.6" y2="683.3"/>
<line x1="78.0" y1="1166.4" x2="740.3" y2="1166.4"/>
<line x1="292.1" y1="1346.0" x2="292.1" y2="683.3"/>
<line x1="78.0" y1="1131.9" x2="740.3" y2="1131.9"/>
<line x1="326.4" y1="1346.0" x2="326.4" y2="683.3"/>
<line x1="78.0" y1="1097.6" x2="740.3" y2="1097.6"/>
<line x1="359.0" y1="1346.0" x2="359.0" y2="683.3"/>
<line x1="78.0" y1="1065.0" x2="740.3" y2="1065.0"/>
<line x1="389.5" y1="1346.0" x2="389.5" y2="683.3"/>
<line x1="78.0" y1="1034.5" x2="740.3" y2="1034.5"/>
<line x1="419.6" y1="1346.0" x2="419.6" y2="683.3"/>
<line x1="78.0" y1="1004.4" x2="740.3" y2="1004.4"/>
<line x1="448.8" y1="1346.0" x2="448.8" y2="683.3"/>
<line x1="78.0" y1="975.2" x2="740.3" y2="975.2"/>
<line x1="475.9" y1="1346.0" x2="475.9" y2="683.3"/>
<line x1="78.0" y1="948.1" x2="740.3" y2="948.1"/>
<line x1="503.4" y1="1346.0" x2="503.4" y2="683.3"/>
<line x1="78.0" y1="920.6" x2="740.3" y2="920.6"/>
<line x1="530.2" y1="1346.0" x2="530.2" y2="683.3"/>
<line x1="78.0" y1="893.8" x2="740.3" y2="893.8"/>
<line x1="556.8" y1="1346.0" x2="556.8" y2="683.3"/>
<line x1="78.0" y1="867.2" x2="740.3" y2="867.2"/>
<line x1="581.5" y1="1346.0" x2="581.5" y2="683.3"/>
<line x1="78.0" y1="842.5" x2="740.3" y2="842.5"/>
<line x1="606.3" y1="1346.0" x2="606.3" y2="683.3"/>
<line x1="78.0" y1="817.7" x2="740.3" y2="817.7"/>
<line x1="630.2" y1="1346.0" x2="630.2" y2="683.3"/>
<line x1="78.0" y1="793.8" x2="740.3" y2="793.8"/>
<line x1="653.4" y1="1346.0" x2="653.4" y2="683.3"/>
<line x1="78.0" y1="770.6" x2="740.3" y2="770.6"/>
<line x1="676.8" y1="1346.0" x2="676.8" y2="683.3"/>
<line x1="78.0" y1="747.2" x2="740.3" y2="747.2"/>
<line x1="698.8" y1="1346.0" x2="698.8" y2="683.3"/>
<line x1="78.0" y1="725.2" x2="740.3" y2="725.2"/>
<line x1="721.6" y1="1346.0" x2="721.6" y2="683.3"/>
<line x1="78.0" y1="702.4" x2="740.3" y2="702.4"/>
</g>
<g stroke="#000" stroke-width="1.9">
<line x1="96.6" y1="1346.0" x2="96.6" y2="1355.0"/>
<line x1="69.0" y1="1327.4" x2="78.0" y2="1327.4"/>
<line x1="133.4" y1="1346.0" x2="133.4" y2="1355.0"/>
<line x1="69.0" y1="1290.5" x2="78.0" y2="1290.5"/>
<line x1="169.4" y1="1346.0" x2="169.4" y2="1355.0"/>
<line x1="69.0" y1="1254.6" x2="78.0" y2="1254.6"/>
<line x1="204.7" y1="1346.0" x2="204.7" y2="1355.0"/>
<line x1="69.0" y1="1219.3" x2="78.0" y2="1219.3"/>
<line x1="240.0" y1="1346.0" x2="240.0" y2="1355.0"/>
<line x1="69.0" y1="1184.1" x2="78.0" y2="1184.1"/>
<line x1="274.9" y1="1346.0" x2="274.9" y2="1355.0"/>
<line x1="69.0" y1="1149.2" x2="78.0" y2="1149.2"/>
<line x1="309.2" y1="1346.0" x2="309.2" y2="1355.0"/>
<line x1="69.0" y1="1114.8" x2="78.0" y2="1114.8"/>
<line x1="342.7" y1="1346.0" x2="342.7" y2="1355.0"/>
<line x1="69.0" y1="1081.3" x2="78.0" y2="1081.3"/>
<line x1="374.2" y1="1346.0" x2="374.2" y2="1355.0"/>
<line x1="69.0" y1="1049.8" x2="78.0" y2="1049.8"/>
<line x1="404.6" y1="1346.0" x2="404.6" y2="1355.0"/>
<line x1="69.0" y1="1019.5" x2="78.0" y2="1019.5"/>
<line x1="434.2" y1="1346.0" x2="434.2" y2="1355.0"/>
<line x1="69.0" y1="989.8" x2="78.0" y2="989.8"/>
<line x1="462.4" y1="1346.0" x2="462.4" y2="1355.0"/>
<line x1="69.0" y1="961.7" x2="78.0" y2="961.7"/>
<line x1="489.6" y1="1346.0" x2="489.6" y2="1355.0"/>
<line x1="69.0" y1="934.4" x2="78.0" y2="934.4"/>
<line x1="516.8" y1="1346.0" x2="516.8" y2="1355.0"/>
<line x1="69.0" y1="907.2" x2="78.0" y2="907.2"/>
<line x1="543.5" y1="1346.0" x2="543.5" y2="1355.0"/>
<line x1="69.0" y1="880.5" x2="78.0" y2="880.5"/>
<line x1="569.1" y1="1346.0" x2="569.1" y2="1355.0"/>
<line x1="69.0" y1="854.9" x2="78.0" y2="854.9"/>
<line x1="593.9" y1="1346.0" x2="593.9" y2="1355.0"/>
<line x1="69.0" y1="830.1" x2="78.0" y2="830.1"/>
<line x1="618.2" y1="1346.0" x2="618.2" y2="1355.0"/>
<line x1="69.0" y1="805.8" x2="78.0" y2="805.8"/>
<line x1="641.8" y1="1346.0" x2="641.8" y2="1355.0"/>
<line x1="69.0" y1="782.2" x2="78.0" y2="782.2"/>
<line x1="665.1" y1="1346.0" x2="665.1" y2="1355.0"/>
<line x1="69.0" y1="758.9" x2="78.0" y2="758.9"/>
<line x1="687.8" y1="1346.0" x2="687.8" y2="1355.0"/>
<line x1="69.0" y1="736.2" x2="78.0" y2="736.2"/>
<line x1="710.2" y1="1346.0" x2="710.2" y2="1355.0"/>
<line x1="69.0" y1="713.8" x2="78.0" y2="713.8"/>
<line x1="731.0" y1="1346.0" x2="731.0" y2="1355.0"/>
<line x1="69.0" y1="693.0" x2="78.0" y2="693.0"/>
<line x1="818.6" y1="1346.0" x2="827.5" y2="1346.0"/>
<line x1="818.6" y1="1215.6" x2="827.5" y2="1215.6"/>
<line x1="818.6" y1="1085.1" x2="827.5" y2="1085.1"/>
<line x1="818.6" y1="954.7" x2="827.5" y2="954.7"/>
<line x1="818.6" y1="824.2" x2="827.5" y2="824.2"/>
<line x1="818.6" y1="693.8" x2="827.5" y2="693.8"/>
</g>
<g font-family="'DejaVu Sans', sans-serif" font-size="19" fill="#000">
<text x="60.6" y="1334.5" text-anchor="end" textLength="61.2" lengthAdjust="spacingAndGlyphs">Chr01</text>
<text transform="translate(103.7,1364.8) rotate(-90)" text-anchor="end" textLength="61.2" lengthAdjust="spacingAndGlyphs">Chr01</text>
<text x="60.6" y="1297.6" text-anchor="end" textLength="61.2" lengthAdjust="spacingAndGlyphs">Chr02</text>
<text transform="translate(140.5,1364.8) rotate(-90)" text-anchor="end" textLength="61.2" lengthAdjust="spacingAndGlyphs">Chr02</text>
<text x="60.6" y="1261.7" text-anchor="end" textLength="61.2" lengthAdjust="spacingAndGlyphs">Chr03</text>
<text transform="translate(176.5,1364.8) rotate(-90)" text-anchor="end" textLength="61.2" lengthAdjust="spacingAndGlyphs">Chr03</text>
<text x="60.6" y="1226.4" text-anchor="end" textLength="61.2" lengthAdjust="spacingAndGlyphs">Chr04</text>
<text transform="translate(211.8,1364.8) rotate(-90)" text-anchor="end" textLength="61.2" lengthAdjust="spacingAndGlyphs">Chr04</text>
<text x="60.6" y="1191.2" text-anchor="end" textLength="61.2" lengthAdjust="spacingAndGlyphs">Chr05</text>
<text transform="translate(247.1,1364.8) rotate(-90)" text-anchor="end" textLength="61.2" lengthAdjust="spacingAndGlyphs">Chr05</text>
<text x="60.6" y="1156.2" text-anchor="end" textLength="61.2" lengthAdjust="spacingAndGlyphs">Chr06</text>
<text transform="translate(282.0,1364.8) rotate(-90)" text-anchor="end" textLength="61.2" lengthAdjust="spacingAndGlyphs">Chr06</text>
<text x="60.6" y="1121.8" text-anchor="end" textLength="61.2" lengthAdjust="spacingAndGlyphs">Chr07</text>
<text transform="translate(316.4,1364.8) rotate(-90)" text-anchor="end" textLength="61.2" lengthAdjust="spacingAndGlyphs">Chr07</text>
<text x="60.6" y="1088.4" text-anchor="end" textLength="61.2" lengthAdjust="spacingAndGlyphs">Chr08</text>
<text transform="translate(349.8,1364.8) rotate(-90)" text-anchor="end" textLength="61.2" lengthAdjust="spacingAndGlyphs">Chr08</text>
<text x="60.6" y="1056.8" text-anchor="end" textLength="61.2" lengthAdjust="spacingAndGlyphs">Chr09</text>
<text transform="translate(381.4,1364.8) rotate(-90)" text-anchor="end" textLength="61.2" lengthAdjust="spacingAndGlyphs">Chr09</text>
<text x="60.6" y="1026.5" text-anchor="end" textLength="61.2" lengthAdjust="spacingAndGlyphs">Chr10</text>
<text transform="translate(411.7,1364.8) rotate(-90)" text-anchor="end" textLength="61.2" lengthAdjust="spacingAndGlyphs">Chr10</text>
<text x="60.6" y="996.9" text-anchor="end" textLength="61.2" lengthAdjust="spacingAndGlyphs">Chr11</text>
<text transform="translate(441.3,1364.8) rotate(-90)" text-anchor="end" textLength="61.2" lengthAdjust="spacingAndGlyphs">Chr11</text>
<text x="60.6" y="968.8" text-anchor="end" textLength="61.2" lengthAdjust="spacingAndGlyphs">Chr12</text>
<text transform="translate(469.5,1364.8) rotate(-90)" text-anchor="end" textLength="61.2" lengthAdjust="spacingAndGlyphs">Chr12</text>
<text x="60.6" y="941.5" text-anchor="end" textLength="61.2" lengthAdjust="spacingAndGlyphs">Chr13</text>
<text transform="translate(496.8,1364.8) rotate(-90)" text-anchor="end" textLength="61.2" lengthAdjust="spacingAndGlyphs">Chr13</text>
<text x="60.6" y="914.3" text-anchor="end" textLength="61.2" lengthAdjust="spacingAndGlyphs">Chr14</text>
<text transform="translate(523.9,1364.8) rotate(-90)" text-anchor="end" textLength="61.2" lengthAdjust="spacingAndGlyphs">Chr14</text>
<text x="60.6" y="887.6" text-anchor="end" textLength="61.2" lengthAdjust="spacingAndGlyphs">Chr15</text>
<text transform="translate(550.6,1364.8) rotate(-90)" text-anchor="end" textLength="61.2" lengthAdjust="spacingAndGlyphs">Chr15</text>
<text x="60.6" y="862.0" text-anchor="end" textLength="61.2" lengthAdjust="spacingAndGlyphs">Chr16</text>
<text transform="translate(576.2,1364.8) rotate(-90)" text-anchor="end" textLength="61.2" lengthAdjust="spacingAndGlyphs">Chr16</text>
<text x="60.6" y="837.2" text-anchor="end" textLength="61.2" lengthAdjust="spacingAndGlyphs">Chr17</text>
<text transform="translate(601.0,1364.8) rotate(-90)" text-anchor="end" textLength="61.2" lengthAdjust="spacingAndGlyphs">Chr17</text>
<text x="60.6" y="812.9" text-anchor="end" textLength="61.2" lengthAdjust="spacingAndGlyphs">Chr18</text>
<text transform="translate(625.4,1364.8) rotate(-90)" text-anchor="end" textLength="61.2" lengthAdjust="spacingAndGlyphs">Chr18</text>
<text x="60.6" y="789.3" text-anchor="end" textLength="61.2" lengthAdjust="spacingAndGlyphs">Chr19</text>
<text transform="translate(648.9,1364.8) rotate(-90)" text-anchor="end" textLength="61.2" lengthAdjust="spacingAndGlyphs">Chr19</text>
<text x="60.6" y="766.0" text-anchor="end" textLength="61.2" lengthAdjust="spacingAndGlyphs">Chr20</text>
<text transform="translate(672.2,1364.8) rotate(-90)" text-anchor="end" textLength="61.2" lengthAdjust="spacingAndGlyphs">Chr20</text>
<text x="60.6" y="743.3" text-anchor="end" textLength="61.2" lengthAdjust="spacingAndGlyphs">Chr21</text>
<text transform="translate(694.9,1364.8) rotate(-90)" text-anchor="end" textLength="61.2" lengthAdjust="spacingAndGlyphs">Chr21</text>
<text x="60.6" y="720.9" text-anchor="end" textLength="61.2" lengthAdjust="spacingAndGlyphs">Chr22</text>
<text transform="translate(717.3,1364.8) rotate(-90)" text-anchor="end" textLength="61.2" lengthAdjust="spacingAndGlyphs">Chr22</text>
<text x="60.6" y="700.1" text-anchor="end" textLength="61.2" lengthAdjust="spacingAndGlyphs">Chr23</text>
<text transform="translate(738.1,1364.8) rotate(-90)" text-anchor="end" textLength="61.2" lengthAdjust="spacingAndGlyphs">Chr23</text>
</g>
<rect x="785.8" y="683.3" width="32.8" height="662.7" fill="url(#cbar)"/>
<g font-family="'DejaVu Sans', sans-serif" font-size="23.5" fill="#000">
<text transform="translate(836.6,1354.7) scale(1.06,1)">0</text>
<text transform="translate(836.6,1224.3) scale(1.06,1)">3</text>
<text transform="translate(836.6,1093.8) scale(1.06,1)">6</text>
<text transform="translate(836.6,963.4) scale(1.06,1)">9</text>
<text transform="translate(836.6,832.9) scale(1.06,1)">12</text>
<text transform="translate(836.6,702.5) scale(1.06,1)">15</text>
</g>
<text x="409.2" y="667.2" font-family="'DejaVu Sans', sans-serif" font-size="28.8" fill="#000" text-anchor="middle" textLength="577.5" lengthAdjust="spacingAndGlyphs">Genome-wide all-by-all Hi-C interation</text>
</g>
<g id="pd">
<path d="M1486.9 641.7A406.2 406.2 0 0 1 1600.6 665.2L1598.9 670.1A401.0 401.0 0 0 0 1486.6 646.9ZM1618.9 672.3A406.2 406.2 0 0 1 1716.5 730.2L1713.3 734.3A401.0 401.0 0 0 0 1616.9 677.1ZM1732.1 743.4A406.2 406.2 0 0 1 1803.7 826.7L1799.3 829.6A401.0 401.0 0 0 0 1728.6 747.2ZM1814.4 844.3A406.2 406.2 0 0 1 1855.6 944.7L1850.5 946.1A401.0 401.0 0 0 0 1809.9 846.9ZM1860.5 965.9A406.2 406.2 0 0 1 1867.8 1073.8L1862.6 1073.5A401.0 401.0 0 0 0 1855.4 967.0ZM1865.9 1095.1A406.2 406.2 0 0 1 1840.1 1196.9L1835.3 1194.9A401.0 401.0 0 0 0 1860.7 1094.5ZM1831.9 1216.2A406.2 406.2 0 0 1 1775.8 1305.7L1771.8 1302.4A401.0 401.0 0 0 0 1827.2 1214.0ZM1763.0 1320.5A406.2 406.2 0 0 1 1686.1 1386.3L1683.2 1382.0A401.0 401.0 0 0 0 1759.1 1317.0ZM1669.0 1397.0A406.2 406.2 0 0 1 1581.7 1435.5L1580.2 1430.5A401.0 401.0 0 0 0 1666.3 1392.5ZM1563.0 1440.8A406.2 406.2 0 0 1 1469.7 1453.3L1469.6 1448.1A401.0 401.0 0 0 0 1561.7 1435.7ZM1450.0 1453.2A406.2 406.2 0 0 1 1359.1 1440.0L1360.4 1435.0A401.0 401.0 0 0 0 1450.1 1448.0ZM1339.4 1434.3A406.2 406.2 0 0 1 1261.7 1400.3L1264.2 1395.8A401.0 401.0 0 0 0 1341.0 1429.3ZM1244.5 1389.9A406.2 406.2 0 0 1 1177.3 1336.5L1181.0 1332.8A401.0 401.0 0 0 0 1247.3 1385.6ZM1163.9 1322.6A406.2 406.2 0 0 1 1114.0 1255.9L1118.5 1253.2A401.0 401.0 0 0 0 1167.8 1319.1ZM1104.5 1239.1A406.2 406.2 0 0 1 1072.6 1161.2L1077.6 1159.7A401.0 401.0 0 0 0 1109.1 1236.6ZM1067.2 1140.9A406.2 406.2 0 0 1 1056.7 1065.5L1061.9 1065.3A401.0 401.0 0 0 0 1072.3 1139.7ZM1056.3 1044.6A406.2 406.2 0 0 1 1063.8 969.3L1068.9 970.3A401.0 401.0 0 0 0 1061.5 1044.6ZM1068.3 949.2A406.2 406.2 0 0 1 1092.8 878.9L1097.5 881.0A401.0 401.0 0 0 0 1073.3 950.5ZM1101.6 860.8A406.2 406.2 0 0 1 1140.5 799.6L1144.6 802.8A401.0 401.0 0 0 0 1106.2 863.2ZM1152.8 784.3A406.2 406.2 0 0 1 1202.9 734.8L1206.2 738.8A401.0 401.0 0 0 0 1156.8 787.7ZM1218.4 722.5A406.2 406.2 0 0 1 1278.9 684.9L1281.3 689.5A401.0 401.0 0 0 0 1221.6 726.7ZM1296.1 676.6A406.2 406.2 0 0 1 1363.5 653.2L1364.8 658.3A401.0 401.0 0 0 0 1298.2 681.4ZM1382.7 648.9A406.2 406.2 0 0 1 1443.1 641.5L1443.3 646.7A401.0 401.0 0 0 0 1383.7 654.0Z" fill="#fff" stroke="#666" stroke-width="0.8"/>
<path d="M1486.9 641.7L1487.1 637.5M1492.4 642.1L1492.6 639.9M1497.9 642.5L1498.1 640.4M1503.4 643.1L1503.6 640.9M1508.9 643.7L1509.2 641.5M1514.4 644.3L1514.9 640.2M1519.9 645.1L1520.2 642.9M1525.3 645.9L1525.7 643.7M1530.8 646.8L1531.2 644.6M1536.2 647.8L1536.6 645.6M1541.7 648.8L1542.5 644.7M1547.1 649.9L1547.6 647.8M1552.5 651.1L1553.0 648.9M1557.9 652.4L1558.4 650.2M1563.2 653.7L1563.8 651.6M1568.6 655.1L1569.7 651.0M1573.9 656.6L1574.5 654.5M1579.2 658.1L1579.9 656.0M1584.5 659.8L1585.2 657.7M1589.8 661.5L1590.5 659.4M1595.0 663.2L1596.4 659.3M1600.2 665.1L1601.0 663.0M1618.9 672.3L1620.5 668.4M1624.0 674.5L1624.8 672.4M1629.0 676.7L1629.9 674.7M1634.0 679.0L1635.0 677.0M1639.0 681.4L1640.0 679.4M1644.0 683.8L1645.9 680.0M1648.9 686.3L1649.9 684.4M1653.8 688.9L1654.9 686.9M1658.7 691.5L1659.7 689.6M1663.5 694.2L1664.6 692.3M1668.3 697.0L1670.4 693.4M1673.0 699.8L1674.2 697.9M1677.8 702.7L1678.9 700.9M1682.4 705.7L1683.6 703.8M1687.1 708.7L1688.3 706.9M1691.6 711.8L1694.0 708.3M1696.2 714.9L1697.4 713.1M1700.7 718.2L1702.0 716.4M1705.1 721.4L1706.5 719.7M1709.6 724.8L1710.9 723.0M1713.9 728.2L1716.5 724.9M1732.1 743.4L1734.9 740.2M1736.2 747.0L1737.7 745.4M1740.3 750.8L1741.8 749.2M1744.3 754.6L1745.8 753.0M1748.2 758.5L1749.8 756.9M1752.1 762.4L1755.1 759.4M1756.0 766.4L1757.6 764.8M1759.8 770.4L1761.4 768.9M1763.5 774.5L1765.1 773.0M1767.2 778.6L1768.8 777.1M1770.8 782.7L1774.0 780.0M1774.4 787.0L1776.1 785.6M1777.9 791.2L1779.6 789.9M1781.4 795.6L1783.1 794.2M1784.8 799.9L1786.5 798.6M1788.1 804.3L1791.5 801.8M1791.4 808.8L1793.2 807.5M1794.6 813.3L1796.4 812.0M1797.7 817.8L1799.6 816.6M1800.8 822.4L1802.7 821.2M1814.4 844.3L1818.0 842.2M1817.1 849.1L1819.0 848.0M1819.8 853.9L1821.7 852.9M1822.4 858.8L1824.3 857.8M1824.9 863.7L1826.9 862.7M1827.4 868.7L1831.1 866.8M1829.8 873.7L1831.8 872.7M1832.1 878.7L1834.1 877.8M1834.4 883.7L1836.4 882.8M1836.5 888.8L1838.6 888.0M1838.7 893.9L1842.6 892.3M1840.7 899.1L1842.8 898.3M1842.7 904.2L1844.8 903.4M1844.6 909.4L1846.7 908.7M1846.5 914.6L1848.5 913.9M1848.2 919.9L1852.2 918.5M1849.9 925.1L1852.0 924.5M1851.5 930.4L1853.7 929.8M1853.1 935.7L1855.2 935.1M1854.6 941.0L1856.7 940.5M1860.5 965.9L1864.6 965.1M1861.6 971.4L1863.7 971.0M1862.6 976.8L1864.7 976.4M1863.5 982.3L1865.6 981.9M1864.3 987.7L1866.5 987.4M1865.1 993.2L1869.3 992.6M1865.8 998.7L1868.0 998.4M1866.4 1004.2L1868.6 1003.9M1867.0 1009.7L1869.2 1009.5M1867.4 1015.2L1869.6 1015.0M1867.8 1020.7L1872.0 1020.4M1868.2 1026.2L1870.4 1026.1M1868.4 1031.7L1870.6 1031.7M1868.6 1037.3L1870.8 1037.2M1868.7 1042.8L1870.9 1042.8M1868.7 1048.3L1872.9 1048.3M1868.6 1053.9L1870.8 1053.9M1868.5 1059.4L1870.7 1059.5M1868.3 1064.9L1870.5 1065.0M1868.0 1070.4L1870.2 1070.6M1865.9 1095.1L1870.0 1095.6M1865.2 1100.6L1867.4 1100.9M1864.4 1106.0L1866.6 1106.4M1863.6 1111.5L1865.7 1111.9M1862.7 1117.0L1864.8 1117.3M1861.7 1122.4L1865.8 1123.2M1860.6 1127.8L1862.8 1128.3M1859.5 1133.2L1861.6 1133.7M1858.3 1138.6L1860.4 1139.1M1857.0 1144.0L1859.1 1144.5M1855.6 1149.4L1859.7 1150.4M1854.2 1154.7L1856.3 1155.3M1852.7 1160.0L1854.8 1160.7M1851.1 1165.4L1853.2 1166.0M1849.5 1170.6L1851.6 1171.3M1847.8 1175.9L1851.8 1177.2M1846.0 1181.1L1848.1 1181.8M1844.1 1186.3L1846.2 1187.1M1842.2 1191.5L1844.3 1192.3M1840.2 1196.7L1842.2 1197.5M1831.9 1216.2L1835.7 1217.9M1829.6 1221.2L1831.5 1222.1M1827.2 1226.2L1829.1 1227.1M1824.7 1231.1L1826.6 1232.1M1822.1 1236.0L1824.1 1237.0M1819.5 1240.9L1823.2 1242.9M1816.9 1245.7L1818.8 1246.8M1814.1 1250.5L1816.0 1251.6M1811.3 1255.3L1813.2 1256.4M1808.5 1260.0L1810.3 1261.2M1805.5 1264.7L1809.1 1267.0M1802.5 1269.4L1804.4 1270.6M1799.5 1274.0L1801.3 1275.2M1796.4 1278.6L1798.2 1279.8M1793.2 1283.1L1795.0 1284.4M1790.0 1287.6L1793.3 1290.0M1786.6 1292.0L1788.4 1293.3M1783.3 1296.4L1785.0 1297.7M1779.9 1300.7L1781.6 1302.1M1776.4 1305.0L1778.1 1306.4M1763.0 1320.5L1766.1 1323.4M1759.2 1324.6L1760.8 1326.1M1755.4 1328.6L1757.0 1330.1M1751.6 1332.6L1753.1 1334.1M1747.7 1336.5L1749.2 1338.0M1743.7 1340.3L1746.6 1343.4M1739.7 1344.1L1741.2 1345.7M1735.6 1347.9L1737.1 1349.5M1731.5 1351.6L1733.0 1353.2M1727.3 1355.2L1728.8 1356.9M1723.1 1358.8L1725.8 1362.0M1718.8 1362.3L1720.2 1364.0M1714.5 1365.8L1715.9 1367.5M1710.2 1369.2L1711.5 1370.9M1705.8 1372.5L1707.1 1374.3M1701.3 1375.8L1703.8 1379.2M1696.8 1379.0L1698.1 1380.8M1692.3 1382.2L1693.5 1384.0M1687.7 1385.3L1688.9 1387.1M1669.0 1397.0L1671.1 1400.6M1664.2 1399.8L1665.3 1401.7M1659.4 1402.5L1660.4 1404.4M1654.5 1405.2L1655.6 1407.1M1649.6 1407.7L1650.6 1409.7M1644.7 1410.2L1646.6 1414.0M1639.7 1412.7L1640.7 1414.7M1634.7 1415.1L1635.7 1417.1M1629.7 1417.4L1630.6 1419.4M1624.7 1419.6L1625.5 1421.6M1619.6 1421.8L1621.2 1425.7M1614.5 1423.9L1615.3 1425.9M1609.3 1425.9L1610.1 1428.0M1604.2 1427.9L1604.9 1430.0M1599.0 1429.8L1599.7 1431.9M1593.7 1431.6L1595.1 1435.6M1588.5 1433.4L1589.2 1435.5M1583.2 1435.0L1583.9 1437.1M1563.0 1440.8L1564.0 1444.8M1557.6 1442.1L1558.1 1444.2M1552.2 1443.4L1552.7 1445.5M1546.8 1444.6L1547.3 1446.7M1541.4 1445.7L1541.8 1447.8M1536.0 1446.7L1536.7 1450.8M1530.5 1447.7L1530.9 1449.8M1525.1 1448.6L1525.4 1450.7M1519.6 1449.4L1519.9 1451.5M1514.1 1450.1L1514.4 1452.3M1508.6 1450.8L1509.1 1454.9M1503.1 1451.4L1503.3 1453.6M1497.6 1451.9L1497.8 1454.1M1492.1 1452.3L1492.3 1454.5M1486.6 1452.7L1486.7 1454.9M1481.1 1453.0L1481.3 1457.2M1475.5 1453.2L1475.6 1455.4M1470.0 1453.3L1470.1 1455.5M1450.0 1453.2L1449.8 1457.4M1444.4 1453.0L1444.3 1455.2M1438.9 1452.7L1438.8 1454.9M1433.4 1452.4L1433.2 1454.5M1427.9 1451.9L1427.7 1454.1M1422.4 1451.4L1422.0 1455.6M1416.9 1450.8L1416.6 1453.0M1411.4 1450.2L1411.1 1452.4M1405.9 1449.4L1405.6 1451.6M1400.4 1448.6L1400.1 1450.8M1395.0 1447.7L1394.3 1451.9M1389.5 1446.8L1389.1 1449.0M1384.1 1445.8L1383.7 1447.9M1378.7 1444.7L1378.2 1446.8M1373.3 1443.5L1372.8 1445.6M1367.9 1442.2L1366.9 1446.3M1362.5 1440.9L1362.0 1443.0M1339.4 1434.3L1338.1 1438.3M1334.1 1432.6L1333.5 1434.7M1328.9 1430.8L1328.2 1432.9M1323.7 1429.0L1323.0 1431.0M1318.5 1427.0L1317.7 1429.1M1313.4 1425.0L1311.8 1428.9M1308.2 1423.0L1307.4 1425.0M1303.1 1420.8L1302.3 1422.9M1298.1 1418.6L1297.2 1420.6M1293.0 1416.4L1292.1 1418.4M1288.0 1414.0L1286.2 1417.8M1283.0 1411.6L1282.1 1413.6M1278.1 1409.1L1277.1 1411.1M1273.2 1406.6L1272.2 1408.5M1268.3 1404.0L1267.3 1405.9M1263.5 1401.3L1261.4 1405.0M1244.5 1389.9L1242.2 1393.5M1239.8 1386.9L1238.6 1388.8M1235.2 1383.9L1234.0 1385.7M1230.7 1380.8L1229.4 1382.6M1226.2 1377.6L1224.9 1379.4M1221.7 1374.3L1219.2 1377.7M1217.3 1371.0L1215.9 1372.8M1212.9 1367.6L1211.5 1369.4M1208.5 1364.2L1207.2 1365.9M1204.2 1360.7L1202.8 1362.4M1200.0 1357.2L1197.3 1360.4M1195.8 1353.6L1194.4 1355.2M1191.6 1349.9L1190.2 1351.6M1187.6 1346.2L1186.1 1347.8M1183.5 1342.4L1182.0 1344.0M1179.5 1338.6L1176.6 1341.6M1163.9 1322.6L1160.8 1325.5M1160.2 1318.5L1158.6 1320.0M1156.5 1314.4L1154.9 1315.8M1152.9 1310.2L1151.3 1311.6M1149.4 1306.0L1147.7 1307.4M1145.9 1301.7L1142.6 1304.3M1142.5 1297.3L1140.7 1298.7M1139.1 1293.0L1137.3 1294.3M1135.8 1288.5L1134.0 1289.8M1132.5 1284.1L1130.7 1285.3M1129.3 1279.5L1125.9 1281.9M1126.2 1275.0L1124.4 1276.2M1123.1 1270.4L1121.3 1271.6M1120.1 1265.7L1118.3 1266.9M1117.2 1261.1L1115.3 1262.2M1114.3 1256.3L1110.7 1258.5M1104.5 1239.1L1100.8 1241.1M1101.9 1234.2L1099.9 1235.2M1099.4 1229.3L1097.4 1230.3M1096.9 1224.3L1095.0 1225.3M1094.6 1219.3L1092.6 1220.2M1092.3 1214.3L1088.4 1216.0M1090.0 1209.2L1088.0 1210.1M1087.8 1204.2L1085.8 1205.0M1085.7 1199.0L1083.7 1199.9M1083.7 1193.9L1081.7 1194.7M1081.8 1188.7L1077.8 1190.2M1079.9 1183.5L1077.8 1184.3M1078.0 1178.3L1076.0 1179.0M1076.3 1173.1L1074.2 1173.7M1074.6 1167.8L1072.5 1168.4M1073.0 1162.5L1069.0 1163.7M1067.2 1140.9L1063.2 1141.8M1066.0 1135.5L1063.9 1135.9M1064.8 1130.1L1062.7 1130.5M1063.7 1124.6L1061.6 1125.1M1062.7 1119.2L1060.6 1119.6M1061.8 1113.8L1057.6 1114.4M1060.9 1108.3L1058.7 1108.6M1060.1 1102.8L1057.9 1103.1M1059.4 1097.3L1057.2 1097.6M1058.8 1091.8L1056.6 1092.1M1058.2 1086.3L1054.0 1086.7M1057.7 1080.8L1055.5 1081.0M1057.3 1075.3L1055.1 1075.5M1056.9 1069.8L1054.7 1069.9M1056.3 1044.6L1052.1 1044.5M1056.4 1039.0L1054.2 1039.0M1056.5 1033.5L1054.3 1033.4M1056.8 1028.0L1054.6 1027.9M1057.1 1022.5L1054.9 1022.3M1057.4 1017.0L1053.2 1016.6M1057.9 1011.4L1055.7 1011.3M1058.4 1005.9L1056.2 1005.7M1059.0 1000.4L1056.8 1000.2M1059.7 995.0L1057.5 994.7M1060.4 989.5L1056.3 988.9M1061.2 984.0L1059.1 983.7M1062.1 978.5L1060.0 978.2M1063.1 973.1L1061.0 972.7M1068.3 949.2L1064.2 948.2M1069.7 943.8L1067.5 943.3M1071.1 938.5L1069.0 937.9M1072.6 933.2L1070.5 932.6M1074.2 927.9L1072.1 927.3M1075.9 922.6L1071.9 921.3M1077.6 917.4L1075.5 916.7M1079.4 912.1L1077.3 911.4M1081.3 906.9L1079.2 906.2M1083.2 901.8L1081.2 901.0M1085.2 896.6L1081.3 895.1M1087.3 891.5L1085.3 890.6M1089.5 886.4L1087.5 885.5M1091.7 881.3L1089.7 880.4M1101.6 860.8L1097.8 858.9M1104.1 855.9L1102.2 854.9M1106.8 851.1L1104.9 850.0M1109.5 846.3L1107.6 845.2M1112.3 841.5L1110.4 840.4M1115.1 836.7L1111.5 834.5M1118.0 832.0L1116.1 830.8M1120.9 827.3L1119.1 826.1M1124.0 822.7L1122.1 821.5M1127.1 818.1L1125.2 816.9M1130.2 813.6L1126.8 811.2M1133.4 809.1L1131.6 807.8M1136.7 804.6L1134.9 803.3M1140.0 800.2L1138.3 798.9M1152.8 784.3L1149.6 781.6M1156.4 780.1L1154.8 778.7M1160.1 776.0L1158.5 774.5M1163.8 771.9L1162.2 770.4M1167.6 767.8L1166.0 766.3M1171.4 763.9L1168.4 760.9M1175.3 759.9L1173.8 758.4M1179.3 756.0L1177.7 754.5M1183.3 752.2L1181.7 750.6M1187.3 748.4L1185.8 746.8M1191.4 744.7L1188.6 741.6M1195.5 741.1L1194.1 739.4M1199.7 737.4L1198.3 735.8M1218.4 722.5L1215.9 719.1M1222.9 719.2L1221.6 717.4M1227.4 716.0L1226.1 714.2M1231.9 712.8L1230.7 711.0M1236.5 709.7L1235.2 707.9M1241.1 706.6L1238.8 703.1M1245.7 703.7L1244.6 701.8M1250.4 700.7L1249.3 698.9M1255.2 697.9L1254.1 696.0M1260.0 695.1L1258.9 693.2M1264.8 692.4L1262.7 688.7M1269.6 689.7L1268.6 687.8M1274.5 687.1L1273.5 685.2M1296.1 676.6L1294.4 672.8M1301.2 674.4L1300.3 672.4M1306.3 672.2L1305.4 670.2M1311.4 670.2L1310.6 668.1M1316.5 668.1L1315.7 666.1M1321.7 666.2L1320.3 662.2M1326.9 664.3L1326.2 662.2M1332.1 662.5L1331.4 660.4M1337.4 660.7L1336.7 658.7M1342.7 659.1L1342.0 657.0M1347.9 657.5L1346.8 653.5M1353.3 656.0L1352.7 653.8M1358.6 654.5L1358.0 652.4M1382.7 648.9L1381.9 644.8M1388.1 647.9L1387.7 645.7M1393.6 646.9L1393.2 644.7M1399.0 646.0L1398.7 643.8M1404.5 645.2L1404.2 643.0M1410.0 644.4L1409.4 640.2M1415.5 643.7L1415.2 641.5M1421.0 643.1L1420.7 640.9M1426.5 642.6L1426.3 640.4M1432.0 642.1L1431.8 640.0M1437.5 641.8L1437.2 637.6M1443.0 641.5L1442.9 639.3" fill="none" stroke="#555" stroke-width="0.7"/>
<g font-family="'Liberation Sans', sans-serif" font-size="7.5" fill="#333" font-style="italic"><text transform="translate(1487.2,635.7) rotate(-86.6)" dy="2.8">0</text><text transform="translate(1542.8,642.9) rotate(-78.8)" dy="2.8">10</text><text transform="translate(1597.0,657.6) rotate(-71.0)" dy="2.8">20</text><text transform="translate(1621.2,666.8) rotate(-67.4)" dy="2.8">0</text><text transform="translate(1671.3,691.8) rotate(-59.6)" dy="2.8">10</text><text transform="translate(1717.6,723.4) rotate(-51.8)" dy="2.8">20</text><text transform="translate(1736.1,738.9) rotate(-48.4)" dy="2.8">0</text><text transform="translate(1775.4,778.8) rotate(-40.6)" dy="2.8">10</text><text transform="translate(1819.6,841.3) rotate(-30.0)" dy="2.8">0</text><text transform="translate(1844.2,891.7) rotate(-22.2)" dy="2.8">10</text><text transform="translate(1866.4,964.7) rotate(-11.5)" dy="2.8">0</text><text transform="translate(1873.8,1020.3) rotate(-3.7)" dy="2.8">10</text><text transform="translate(1871.8,1095.8) rotate(6.8)" dy="2.8">0</text><text transform="translate(1861.4,1150.9) rotate(14.6)" dy="2.8">10</text><text transform="translate(1837.3,1218.7) rotate(24.6)" dy="2.8">0</text><text transform="translate(1810.6,1267.9) rotate(32.4)" dy="2.8">10</text><text transform="translate(1767.4,1324.6) rotate(42.3)" dy="2.8">0</text><text transform="translate(1727.0,1363.4) rotate(50.1)" dy="2.8">10</text><text transform="translate(1672.0,1402.2) rotate(59.4)" dy="2.8">0</text><text transform="translate(1621.9,1427.3) rotate(67.2)" dy="2.8">10</text><text transform="translate(1564.5,1446.6) rotate(75.7)" dy="2.8">0</text><text transform="translate(1509.3,1456.7) rotate(83.5)" dy="2.8">10</text><text transform="translate(1449.8,1459.2) rotate(271.8)" dy="2.8" text-anchor="end">0</text><text transform="translate(1394.0,1453.7) rotate(279.6)" dy="2.8" text-anchor="end">10</text><text transform="translate(1337.6,1440.0) rotate(287.6)" dy="2.8" text-anchor="end">0</text><text transform="translate(1285.4,1419.4) rotate(295.4)" dy="2.8" text-anchor="end">10</text><text transform="translate(1241.3,1395.0) rotate(302.5)" dy="2.8" text-anchor="end">0</text><text transform="translate(1196.1,1361.8) rotate(310.3)" dy="2.8" text-anchor="end">10</text><text transform="translate(1159.5,1326.7) rotate(317.3)" dy="2.8" text-anchor="end">0</text><text transform="translate(1124.4,1283.0) rotate(325.1)" dy="2.8" text-anchor="end">10</text><text transform="translate(1099.2,1241.9) rotate(331.8)" dy="2.8" text-anchor="end">0</text><text transform="translate(1076.1,1190.8) rotate(339.6)" dy="2.8" text-anchor="end">10</text><text transform="translate(1061.4,1142.2) rotate(346.7)" dy="2.8" text-anchor="end">0</text><text transform="translate(1052.2,1086.9) rotate(354.5)" dy="2.8" text-anchor="end">10</text><text transform="translate(1050.3,1044.5) rotate(360.4)" dy="2.8" text-anchor="end">0</text><text transform="translate(1054.5,988.6) rotate(368.2)" dy="2.8" text-anchor="end">10</text><text transform="translate(1062.5,947.8) rotate(374.0)" dy="2.8" text-anchor="end">0</text><text transform="translate(1079.7,894.4) rotate(381.8)" dy="2.8" text-anchor="end">10</text><text transform="translate(1096.2,858.1) rotate(387.3)" dy="2.8" text-anchor="end">0</text><text transform="translate(1125.3,810.1) rotate(395.1)" dy="2.8" text-anchor="end">10</text><text transform="translate(1148.3,780.4) rotate(400.3)" dy="2.8" text-anchor="end">0</text><text transform="translate(1187.4,740.3) rotate(408.1)" dy="2.8" text-anchor="end">10</text><text transform="translate(1214.8,717.7) rotate(413.1)" dy="2.8" text-anchor="end">0</text><text transform="translate(1261.8,687.1) rotate(420.9)" dy="2.8" text-anchor="end">10</text><text transform="translate(1293.7,671.2) rotate(425.8)" dy="2.8" text-anchor="end">0</text><text transform="translate(1346.3,651.7) rotate(433.6)" dy="2.8" text-anchor="end">10</text><text transform="translate(1381.5,643.0) rotate(438.7)" dy="2.8" text-anchor="end">0</text><text transform="translate(1437.1,635.8) rotate(446.5)" dy="2.8" text-anchor="end">10</text></g>
<g font-family="'Liberation Sans', sans-serif" font-size="13.5" fill="#222" text-anchor="middle"><text transform="translate(1549.5,625.6) rotate(11.7)" dy="4.8">Chr01</text><text transform="translate(1682.1,676.9) rotate(30.7)" dy="4.8">Chr02</text><text transform="translate(1789.1,766.8) rotate(49.4)" dy="4.8">Chr03</text><text transform="translate(1860.8,883.9) rotate(67.7)" dy="4.8">Chr04</text><text transform="translate(1892.0,1018.0) rotate(86.1)" dy="4.8">Chr05</text><text transform="translate(1879.9,1152.8) rotate(284.2)" dy="4.8">Chr06</text><text transform="translate(1827.4,1275.7) rotate(302.1)" dy="4.8">Chr07</text><text transform="translate(1742.4,1374.3) rotate(319.4)" dy="4.8">Chr08</text><text transform="translate(1636.3,1441.1) rotate(336.2)" dy="4.8">Chr09</text><text transform="translate(1519.9,1473.9) rotate(352.3)" dy="4.8">Chr10</text><text transform="translate(1400.7,1473.2) rotate(368.3)" dy="4.8">Chr11</text><text transform="translate(1289.9,1441.6) rotate(383.6)" dy="4.8">Chr12</text><text transform="translate(1194.4,1384.0) rotate(398.5)" dy="4.8">Chr13</text><text transform="translate(1117.8,1305.1) rotate(413.2)" dy="4.8">Chr14</text><text transform="translate(1064.0,1210.2) rotate(427.8)" dy="4.8">Chr15</text><text transform="translate(1036.1,1106.8) rotate(442.0)" dy="4.8">Chr16</text><text transform="translate(1034.1,1004.3) rotate(275.7)" dy="4.8">Chr17</text><text transform="translate(1056.0,905.5) rotate(289.2)" dy="4.8">Chr18</text><text transform="translate(1099.2,816.3) rotate(302.4)" dy="4.8">Chr19</text><text transform="translate(1159.7,741.2) rotate(315.3)" dy="4.8">Chr20</text><text transform="translate(1235.0,681.7) rotate(328.1)" dy="4.8">Chr21</text><text transform="translate(1321.3,640.5) rotate(340.9)" dy="4.8">Chr22</text><text transform="translate(1409.8,619.9) rotate(353.0)" dy="4.8">Chr23</text></g>
<path d="M1484.6 678.9L1485.1 672.0L1485.7 672.7L1486.4 672.2L1487.0 673.2L1487.7 672.5L1488.4 672.6L1489.0 672.5L1489.7 673.0L1490.4 672.1L1491.0 673.8L1491.6 674.0L1492.3 674.1L1493.2 671.5L1493.6 673.9L1494.3 674.1L1495.0 673.9L1495.6 674.4L1496.3 674.2L1497.3 670.8L1498.9 660.9L1499.1 666.0L1498.9 674.7L1499.6 674.3L1500.3 674.7L1500.8 675.6L1501.5 675.7L1502.4 673.9L1502.8 675.6L1503.6 675.3L1504.2 675.3L1504.9 675.4L1505.6 674.9L1506.1 676.5L1506.8 676.3L1507.5 676.3L1508.2 676.0L1508.7 676.9L1509.4 676.7L1510.1 676.8L1510.7 677.1L1511.4 677.2L1512.1 677.0L1512.8 676.6L1513.4 676.9L1514.0 677.4L1514.6 677.9L1515.3 677.8L1516.0 677.7L1516.7 677.9L1517.3 678.2L1518.1 676.9L1518.6 678.2L1519.2 678.5L1519.9 678.6L1520.5 678.8L1521.2 678.7L1521.9 678.8L1522.5 679.2L1523.2 678.9L1524.5 675.3L1524.4 679.7L1525.3 678.8L1525.8 679.5L1526.4 679.8L1527.1 679.8L1527.7 680.2L1528.4 680.1L1529.1 680.3L1529.7 680.2L1530.3 680.8L1531.0 680.7L1531.7 680.6L1532.4 680.4L1533.1 680.3L1533.6 681.2L1534.7 679.3L1535.0 680.9L1536.2 678.4L1536.4 681.0L1536.8 682.1L1537.6 681.6L1538.2 682.1L1538.8 682.6L1539.6 681.7L1540.2 682.3L1540.9 682.3L1541.6 682.2L1542.1 682.8L1542.7 683.1L1543.4 683.2L1544.1 683.0L1544.7 683.5L1545.2 684.0L1546.0 683.6L1546.8 683.2L1547.3 684.1L1548.0 683.9L1548.5 684.7L1549.1 684.8L1549.9 684.5L1550.4 685.4L1551.0 685.5L1551.7 685.6L1552.4 685.5L1553.3 684.7L1553.7 685.7L1554.3 686.1L1555.0 685.9L1555.6 686.2L1556.3 686.4L1556.9 686.5L1557.6 686.6L1558.2 687.0L1559.1 686.0L1559.5 687.2L1560.0 687.8L1560.8 687.5L1561.4 687.7L1562.1 687.7L1563.6 685.0L1563.5 687.8L1563.9 688.7L1564.5 689.1L1565.1 689.2L1566.1 688.3L1566.4 689.5L1567.3 689.0L1567.7 689.8L1568.5 689.6L1569.2 689.5L1569.6 690.4L1571.2 687.6L1570.9 691.0L1571.6 690.9L1572.2 691.2L1573.0 690.9L1573.7 690.9L1574.2 691.3L1574.9 691.3L1575.4 692.0L1576.2 691.6L1576.9 691.8L1577.4 692.2L1578.1 692.5L1578.5 693.2L1579.2 693.3L1579.9 693.2L1580.6 693.3L1581.5 692.5L1581.6 694.3L1582.4 694.1L1583.3 693.6L1583.7 694.6L1584.2 695.0L1584.8 695.4L1585.3 695.8L1586.0 695.9L1586.7 695.9L1587.3 696.3L1587.9 696.4L1588.6 696.4L1594.0 683.6L1588.0 700.2A369 369 0 0 0 1484.6 678.9ZM1604.5 706.6L1611.9 689.0L1607.8 700.7L1608.2 701.3L1608.8 701.5L1609.3 702.2L1610.0 702.2L1610.5 702.8L1611.4 702.2L1611.7 703.4L1612.2 703.9L1612.7 704.3L1613.3 704.6L1614.2 704.1L1614.7 704.7L1615.0 705.6L1615.7 705.8L1616.8 705.0L1616.9 706.3L1617.5 706.5L1618.1 706.8L1618.8 707.1L1619.1 707.9L1619.8 708.0L1621.2 706.6L1620.9 708.8L1621.9 708.3L1622.1 709.3L1622.7 709.7L1623.4 709.7L1623.8 710.5L1624.6 710.3L1625.0 710.9L1625.6 711.2L1626.2 711.4L1627.2 710.9L1627.3 712.2L1627.9 712.6L1628.9 712.0L1629.1 713.1L1629.8 713.2L1630.8 712.7L1630.7 714.3L1631.3 714.6L1632.1 714.5L1633.0 714.3L1633.3 715.1L1633.6 715.9L1634.3 716.1L1635.5 715.2L1635.8 716.0L1635.9 717.2L1636.9 716.8L1638.6 715.1L1637.7 718.1L1638.4 718.2L1638.9 718.7L1639.9 718.2L1640.8 717.9L1641.3 718.4L1641.4 719.6L1641.9 720.2L1642.6 720.2L1642.9 721.1L1643.4 721.4L1644.1 721.5L1644.9 721.5L1645.2 722.4L1647.7 719.2L1646.4 722.8L1647.3 722.6L1647.8 723.1L1648.2 723.7L1648.6 724.3L1649.4 724.4L1649.8 725.0L1650.9 724.4L1651.2 725.2L1651.7 725.6L1652.4 725.7L1652.8 726.3L1653.1 727.1L1653.6 727.6L1654.4 727.6L1654.9 728.0L1655.6 728.1L1656.3 728.2L1657.6 727.3L1658.0 728.0L1659.2 727.3L1659.2 728.7L1658.7 730.7L1659.6 730.5L1659.9 731.2L1660.5 731.6L1661.3 731.5L1661.6 732.3L1662.6 732.0L1662.6 733.2L1663.7 732.7L1664.1 733.3L1664.5 733.9L1665.2 734.1L1665.5 734.8L1666.0 735.2L1667.0 735.0L1667.1 736.0L1667.8 736.0L1668.5 736.2L1668.7 737.2L1669.3 737.5L1670.1 737.4L1670.8 737.5L1670.8 738.7L1671.5 738.9L1672.7 738.3L1672.9 739.2L1673.3 739.7L1673.6 740.5L1674.2 740.8L1675.1 740.7L1675.4 741.5L1675.9 741.9L1676.3 742.4L1676.9 742.6L1677.9 742.4L1678.1 743.3L1678.8 743.5L1679.2 744.1L1680.5 743.3L1680.1 745.1L1681.2 744.6L1681.7 745.1L1681.9 746.0L1682.4 746.3L1683.2 746.4L1683.6 747.0L1683.8 747.9L1685.5 746.7L1685.0 748.5L1685.4 749.0L1686.0 749.3L1686.6 749.7L1687.5 749.5L1687.8 750.2L1688.3 750.6L1688.9 751.0L1689.1 751.8L1690.4 751.2L1690.3 752.4L1691.2 752.3L1691.4 753.1L1691.8 753.7L1692.9 753.3L1693.8 753.3L1693.2 755.1L1694.7 754.3L1695.0 755.0L1695.3 755.7L1707.3 741.8L1693.3 759.3A369 369 0 0 0 1604.5 706.6ZM1707.4 771.2L1723.3 753.3L1712.0 767.0L1712.9 767.0L1712.8 768.1L1713.8 767.9L1714.0 768.7L1714.6 769.1L1714.6 770.1L1715.5 770.1L1715.8 770.7L1716.0 771.4L1716.4 772.0L1717.1 772.2L1717.1 773.2L1718.0 773.2L1718.4 773.8L1718.7 774.4L1719.1 775.0L1719.9 775.1L1720.2 775.8L1721.0 775.9L1721.3 776.6L1721.2 777.6L1722.3 777.4L1722.2 778.5L1723.3 778.3L1723.2 779.4L1723.5 780.0L1724.9 779.5L1724.8 780.6L1725.4 780.9L1725.3 781.9L1726.4 781.7L1726.4 782.7L1726.8 783.3L1727.6 783.4L1727.4 784.5L1728.3 784.6L1728.5 785.2L1729.3 785.4L1729.9 785.8L1730.3 786.3L1730.3 787.3L1730.7 787.8L1731.5 787.9L1731.5 788.8L1733.4 787.9L1732.4 789.8L1733.2 789.9L1733.6 790.5L1733.8 791.2L1734.1 791.8L1734.8 792.1L1737.2 790.8L1735.9 792.8L1735.9 793.8L1736.6 794.0L1736.7 794.8L1737.4 795.0L1737.6 795.8L1738.4 795.9L1738.8 796.5L1738.9 797.3L1739.6 797.5L1740.3 797.8L1740.2 798.8L1740.8 799.2L1741.5 799.4L1741.9 800.0L1742.6 800.2L1744.4 799.5L1743.4 801.3L1743.8 801.7L1743.8 802.7L1744.3 803.1L1744.9 803.5L1745.3 804.0L1745.4 804.8L1746.4 804.8L1747.1 805.0L1746.6 806.4L1747.4 806.6L1747.6 807.2L1748.4 807.4L1748.3 808.4L1749.0 808.7L1749.4 809.1L1749.7 809.8L1750.0 810.4L1751.0 810.5L1750.9 811.4L1751.3 811.9L1752.0 812.2L1752.8 812.4L1752.6 813.4L1753.2 813.7L1753.6 814.3L1755.9 813.3L1754.7 815.1L1754.5 816.1L1758.7 813.7L1755.4 817.1L1756.0 817.4L1756.6 817.9L1757.0 818.4L1757.5 818.8L1757.8 819.4L1757.7 820.3L1758.6 820.5L1758.6 821.3L1759.4 821.5L1759.4 822.3L1759.9 822.8L1760.3 823.3L1761.0 823.6L1761.2 824.3L1761.5 824.9L1761.8 825.5L1762.1 826.1L1763.2 826.1L1762.9 827.2L1763.6 827.5L1765.9 826.6L1764.5 828.5L1765.9 828.3L1764.8 829.8L1765.2 830.4L1765.7 830.9L1766.1 831.4L1766.5 831.9L1767.7 831.9L1767.2 833.0L1768.6 832.8L1768.1 834.0L1768.2 834.8L1769.4 834.7L1769.0 835.8L1770.0 835.9L1769.9 836.7L1770.1 837.5L1771.2 837.5L1771.3 838.2L1771.4 839.0L1771.8 839.5L1771.9 840.2L1772.9 840.3L1772.9 841.1L1774.0 841.2L1773.4 842.4L1773.9 842.8L1774.5 843.2L1775.4 843.4L1775.3 844.3L1792.2 834.1L1772.4 846.9A369 369 0 0 0 1707.4 771.2ZM1782.2 862.9L1797.0 854.3L1787.9 860.3L1788.7 860.6L1790.8 860.2L1789.0 862.0L1789.0 862.8L1789.4 863.3L1789.6 863.9L1789.5 864.8L1789.8 865.4L1790.1 866.0L1791.0 866.2L1790.7 867.2L1791.4 867.5L1791.7 868.1L1793.2 868.0L1791.7 869.6L1792.4 870.0L1792.4 870.7L1793.1 871.2L1792.7 872.1L1793.0 872.7L1793.3 873.3L1793.5 873.9L1794.5 874.2L1794.1 875.1L1794.4 875.7L1795.1 876.1L1794.8 877.0L1795.5 877.4L1795.4 878.2L1795.6 878.8L1796.1 879.3L1796.7 879.7L1797.5 880.1L1796.8 881.2L1797.9 881.4L1798.1 882.0L1798.1 882.8L1797.7 883.7L1798.0 884.3L1798.4 884.8L1798.7 885.4L1799.3 885.9L1799.4 886.5L1800.6 886.7L1799.8 887.8L1801.4 887.8L1800.8 888.8L1800.8 889.6L1802.0 889.7L1801.2 890.8L1801.7 891.3L1802.9 891.5L1803.1 892.1L1802.4 893.2L1803.4 893.5L1802.5 894.6L1803.3 895.0L1803.0 895.8L1803.6 896.3L1803.7 897.0L1803.8 897.6L1804.1 898.2L1804.7 898.7L1805.1 899.3L1805.7 899.7L1805.6 900.5L1805.8 901.1L1806.4 901.6L1806.2 902.4L1807.6 902.5L1807.2 903.4L1806.7 904.3L1806.8 905.0L1807.0 905.6L1808.4 905.8L1807.5 906.9L1808.2 907.3L1808.5 907.9L1811.9 907.2L1808.4 909.3L1809.3 909.7L1809.3 910.4L1809.9 910.9L1810.0 911.6L1810.6 912.0L1810.4 912.8L1810.9 913.3L1810.8 914.1L1811.6 914.5L1810.8 915.5L1811.7 915.9L1811.4 916.7L1811.9 917.2L1815.2 916.7L1812.3 918.5L1813.3 918.8L1812.9 919.6L1813.3 920.2L1812.9 921.1L1813.1 921.7L1814.4 921.9L1814.2 922.7L1814.0 923.5L1814.2 924.1L1814.6 924.7L1814.9 925.3L1815.1 925.9L1815.8 926.4L1815.6 927.1L1815.7 927.8L1816.2 928.3L1816.2 929.0L1816.0 929.8L1816.2 930.4L1816.2 931.1L1816.8 931.6L1816.6 932.4L1817.3 932.8L1817.1 933.6L1817.6 934.1L1817.8 934.8L1819.8 934.8L1818.3 936.0L1818.1 936.8L1818.7 937.3L1819.9 937.6L1818.9 938.6L1822.1 938.3L1819.1 939.9L1819.7 940.4L1819.5 941.1L1820.7 941.5L1820.5 942.3L1820.2 943.0L1820.6 943.6L1820.5 944.3L1820.8 944.9L1820.7 945.6L1821.2 946.2L1823.0 946.4L1821.8 947.4L1821.5 948.2L1822.1 948.7L1823.9 948.9L1822.2 950.0L1823.2 950.4L1823.1 951.1L1822.6 952.0L1822.8 952.6L1838.2 949.3L1819.6 954.1A369 369 0 0 0 1782.2 862.9ZM1824.0 973.4L1845.4 969.0L1829.0 973.0L1828.6 973.8L1828.3 974.5L1828.2 975.2L1828.7 975.8L1830.8 976.1L1829.3 977.1L1829.1 977.8L1828.9 978.5L1830.0 978.9L1829.2 979.8L1829.7 980.4L1830.3 980.9L1830.3 981.6L1829.8 982.4L1833.1 982.5L1830.9 983.5L1830.4 984.3L1830.7 984.9L1831.4 985.5L1831.1 986.2L1831.8 986.8L1830.6 987.6L1830.7 988.3L1831.3 988.9L1831.0 989.6L1830.9 990.3L1831.3 990.9L1831.5 991.5L1832.0 992.1L1831.6 992.8L1831.9 993.5L1831.7 994.2L1834.8 994.4L1831.8 995.5L1831.9 996.2L1832.7 996.7L1831.9 997.5L1832.0 998.2L1832.2 998.8L1832.6 999.4L1832.4 1000.1L1833.2 1000.7L1832.6 1001.4L1833.9 1001.9L1833.3 1002.7L1833.1 1003.4L1833.2 1004.0L1833.5 1004.7L1834.1 1005.3L1833.3 1006.0L1833.1 1006.7L1834.3 1007.2L1834.6 1007.9L1833.3 1008.7L1837.2 1009.0L1833.7 1010.0L1833.7 1010.6L1834.4 1011.2L1833.8 1012.0L1834.2 1012.6L1833.8 1013.3L1834.1 1013.9L1834.8 1014.5L1835.1 1015.2L1834.2 1015.9L1834.8 1016.5L1834.1 1017.3L1834.1 1017.9L1835.0 1018.5L1834.4 1019.3L1834.6 1019.9L1834.5 1020.6L1834.4 1021.2L1834.9 1021.9L1834.9 1022.5L1835.2 1023.2L1835.7 1023.8L1834.5 1024.6L1835.4 1025.2L1834.7 1025.9L1835.1 1026.5L1835.3 1027.2L1835.7 1027.8L1835.4 1028.5L1835.1 1029.2L1835.4 1029.8L1835.9 1030.5L1835.1 1031.2L1838.3 1031.7L1836.6 1032.4L1835.6 1033.2L1835.8 1033.8L1835.5 1034.5L1835.2 1035.2L1835.0 1035.8L1835.6 1036.5L1835.2 1037.2L1838.4 1037.7L1835.5 1038.5L1835.5 1039.1L1835.6 1039.8L1835.3 1040.5L1835.8 1041.1L1835.9 1041.8L1835.3 1042.5L1835.3 1043.1L1835.6 1043.8L1835.7 1044.5L1835.4 1045.1L1835.3 1045.8L1835.3 1046.4L1835.6 1047.1L1835.6 1047.8L1835.6 1048.4L1835.6 1049.1L1835.7 1049.8L1835.6 1050.4L1837.6 1051.1L1835.4 1051.8L1835.9 1052.4L1835.2 1053.1L1836.0 1053.8L1835.4 1054.4L1835.4 1055.1L1836.7 1055.8L1836.3 1056.4L1835.5 1057.1L1835.5 1057.7L1835.1 1058.4L1835.8 1059.1L1835.9 1059.7L1835.4 1060.4L1837.8 1061.1L1835.4 1061.7L1836.0 1062.4L1835.3 1063.0L1836.1 1063.7L1836.2 1064.4L1835.8 1065.1L1837.7 1065.8L1836.2 1066.4L1835.2 1067.0L1835.1 1067.7L1835.3 1068.4L1835.3 1069.0L1835.0 1069.7L1834.8 1070.3L1834.5 1071.0L1848.9 1072.6L1830.7 1071.4A369 369 0 0 0 1824.0 973.4ZM1828.9 1090.7L1852.1 1093.4L1832.8 1091.8L1833.3 1092.5L1832.4 1093.1L1833.9 1094.0L1832.6 1094.5L1832.6 1095.1L1833.1 1095.9L1833.6 1096.6L1832.6 1097.1L1831.9 1097.7L1832.1 1098.4L1832.2 1099.1L1831.7 1099.7L1831.8 1100.4L1831.3 1101.0L1831.5 1101.7L1831.5 1102.3L1831.6 1103.0L1831.7 1103.7L1831.8 1104.4L1831.6 1105.0L1831.0 1105.6L1831.1 1106.3L1831.1 1107.0L1833.8 1108.1L1831.1 1108.3L1830.4 1108.9L1830.4 1109.5L1830.5 1110.2L1830.2 1110.8L1830.7 1111.6L1829.8 1112.1L1829.7 1112.8L1829.4 1113.4L1830.5 1114.3L1829.6 1114.8L1830.0 1115.5L1830.1 1116.2L1829.2 1116.7L1828.8 1117.3L1829.1 1118.1L1828.5 1118.6L1828.7 1119.3L1829.2 1120.1L1828.3 1120.6L1828.2 1121.3L1828.9 1122.1L1828.5 1122.7L1828.1 1123.3L1827.4 1123.8L1827.2 1124.4L1827.1 1125.1L1827.1 1125.8L1827.3 1126.5L1827.3 1127.2L1826.9 1127.8L1826.3 1128.3L1826.2 1129.0L1826.4 1129.7L1826.5 1130.4L1825.7 1130.9L1825.7 1131.6L1826.3 1132.4L1826.0 1133.0L1825.8 1133.6L1826.1 1134.4L1825.9 1135.0L1825.3 1135.6L1826.5 1136.5L1824.7 1136.8L1824.6 1137.4L1824.5 1138.1L1824.3 1138.7L1824.4 1139.4L1823.7 1139.9L1823.5 1140.6L1823.6 1141.3L1823.4 1141.9L1823.2 1142.5L1824.2 1143.5L1822.9 1143.8L1822.9 1144.5L1822.6 1145.1L1822.1 1145.7L1822.5 1146.5L1822.0 1147.0L1822.4 1147.8L1822.2 1148.5L1822.1 1149.1L1821.6 1149.6L1821.8 1150.4L1820.8 1150.8L1820.4 1151.4L1820.6 1152.1L1820.5 1152.8L1820.6 1153.5L1823.7 1155.1L1820.0 1154.7L1819.3 1155.2L1819.5 1155.9L1819.6 1156.7L1819.3 1157.3L1818.5 1157.7L1818.9 1158.5L1820.3 1159.7L1818.6 1159.8L1818.2 1160.4L1817.6 1160.9L1817.9 1161.7L1817.1 1162.1L1817.1 1162.8L1817.4 1163.6L1817.2 1164.3L1816.4 1164.7L1817.1 1165.6L1817.1 1166.3L1815.7 1166.6L1816.0 1167.3L1815.3 1167.8L1815.8 1168.7L1815.5 1169.3L1815.1 1169.9L1814.9 1170.5L1814.6 1171.1L1813.9 1171.5L1813.8 1172.2L1813.5 1172.8L1813.9 1173.6L1813.2 1174.1L1813.0 1174.7L1812.8 1175.4L1813.0 1176.1L1812.6 1176.7L1811.9 1177.1L1811.6 1177.7L1811.5 1178.4L1812.2 1179.4L1811.2 1179.7L1810.7 1180.2L1811.2 1181.1L1811.2 1181.8L1810.4 1182.2L1809.9 1182.8L1809.8 1183.4L1809.9 1184.2L1823.9 1190.4L1805.5 1183.2A369 369 0 0 0 1828.9 1090.7ZM1798.1 1200.7L1814.6 1208.3L1801.2 1202.8L1801.4 1203.7L1801.2 1204.3L1800.4 1204.7L1801.2 1205.8L1800.1 1206.0L1800.1 1206.7L1799.4 1207.1L1799.3 1207.8L1799.0 1208.4L1800.6 1209.9L1798.8 1209.8L1798.6 1210.4L1797.5 1210.6L1797.7 1211.4L1797.2 1212.0L1797.1 1212.6L1796.6 1213.1L1796.0 1213.6L1795.9 1214.3L1795.6 1214.8L1796.2 1215.9L1795.2 1216.1L1794.8 1216.7L1795.4 1217.7L1794.0 1217.8L1794.1 1218.5L1794.3 1219.4L1793.0 1219.5L1792.9 1220.2L1796.6 1222.8L1792.5 1221.4L1791.8 1221.8L1791.5 1222.4L1791.9 1223.4L1792.4 1224.4L1790.7 1224.2L1790.9 1225.1L1790.5 1225.6L1789.8 1226.0L1789.3 1226.5L1789.2 1227.2L1789.0 1227.8L1789.0 1228.6L1788.5 1229.1L1789.1 1230.1L1787.5 1230.0L1787.6 1230.9L1787.6 1231.6L1789.5 1233.4L1786.7 1232.6L1786.3 1233.2L1785.6 1233.5L1785.6 1234.3L1784.7 1234.5L1784.7 1235.3L1784.2 1235.8L1784.0 1236.4L1784.0 1237.2L1783.1 1237.4L1783.2 1238.2L1783.0 1238.9L1782.4 1239.3L1782.5 1240.1L1781.4 1240.3L1781.8 1241.3L1780.9 1241.5L1780.8 1242.2L1780.5 1242.8L1780.1 1243.4L1779.9 1244.0L1779.1 1244.3L1779.0 1245.0L1781.3 1247.2L1778.5 1246.3L1777.8 1246.6L1778.1 1247.6L1777.1 1247.7L1776.5 1248.1L1776.5 1248.9L1775.9 1249.3L1775.5 1249.9L1776.1 1251.0L1775.4 1251.4L1775.2 1252.0L1774.2 1252.1L1773.6 1252.6L1776.0 1254.9L1772.8 1253.6L1772.9 1254.5L1772.5 1255.0L1771.8 1255.3L1772.5 1256.6L1771.0 1256.4L1771.1 1257.2L1770.9 1257.9L1770.7 1258.6L1769.7 1258.7L1769.1 1259.1L1768.9 1259.8L1768.4 1260.2L1768.4 1261.0L1767.8 1261.4L1768.6 1262.8L1767.1 1262.5L1766.8 1263.1L1766.8 1264.0L1766.0 1264.2L1765.9 1264.9L1765.3 1265.4L1764.9 1265.9L1765.2 1266.9L1763.9 1266.7L1763.4 1267.2L1763.4 1268.0L1763.6 1269.0L1762.8 1269.2L1762.1 1269.6L1761.8 1270.1L1761.5 1270.8L1761.2 1271.3L1760.5 1271.7L1761.2 1273.0L1759.9 1272.9L1759.2 1273.1L1759.1 1273.9L1759.5 1275.1L1758.0 1274.7L1757.5 1275.2L1757.0 1275.7L1756.9 1276.4L1756.9 1277.2L1756.3 1277.6L1757.1 1279.1L1757.1 1280.0L1755.5 1279.6L1754.4 1279.5L1754.3 1280.3L1753.3 1280.3L1752.9 1280.8L1753.5 1282.2L1752.2 1282.0L1751.7 1282.4L1751.3 1282.9L1751.4 1283.9L1750.7 1284.2L1761.0 1293.6L1747.1 1282.1A369 369 0 0 0 1798.1 1200.7ZM1735.5 1295.5L1751.4 1310.0L1738.7 1299.3L1737.4 1299.1L1737.1 1299.7L1736.7 1300.2L1736.2 1300.7L1735.7 1301.1L1735.4 1301.8L1735.3 1302.6L1734.3 1302.6L1733.7 1302.9L1733.3 1303.4L1733.3 1304.3L1733.0 1305.0L1732.7 1305.6L1732.0 1305.8L1731.6 1306.4L1730.6 1306.3L1730.5 1307.2L1729.6 1307.2L1731.6 1310.1L1728.8 1308.3L1728.3 1308.7L1728.0 1309.4L1728.2 1310.5L1727.4 1310.6L1727.2 1311.5L1726.1 1311.3L1725.4 1311.5L1725.5 1312.5L1724.9 1312.9L1724.1 1313.0L1723.6 1313.5L1723.3 1314.1L1722.6 1314.4L1722.1 1314.8L1721.8 1315.5L1721.7 1316.3L1720.7 1316.2L1720.3 1316.7L1719.7 1317.1L1719.4 1317.8L1719.4 1318.7L1718.4 1318.6L1718.1 1319.2L1717.5 1319.6L1718.0 1321.1L1716.5 1320.5L1716.2 1321.1L1715.4 1321.2L1714.8 1321.6L1714.5 1322.3L1713.9 1322.5L1713.3 1322.9L1712.9 1323.4L1713.0 1324.5L1711.8 1324.2L1711.7 1325.1L1710.9 1325.2L1710.7 1325.9L1710.1 1326.3L1709.5 1326.6L1709.2 1327.3L1708.8 1327.9L1708.1 1328.1L1707.6 1328.5L1707.0 1328.8L1706.5 1329.3L1706.0 1329.7L1705.4 1330.0L1705.1 1330.7L1704.5 1331.1L1703.9 1331.4L1703.9 1332.3L1703.2 1332.6L1703.3 1333.7L1701.8 1333.0L1701.8 1334.0L1700.8 1333.8L1700.6 1334.6L1700.1 1335.1L1699.9 1335.8L1698.8 1335.6L1698.4 1336.1L1697.7 1336.4L1697.5 1337.2L1697.3 1338.0L1696.6 1338.2L1695.6 1338.0L1695.6 1339.0L1694.6 1338.9L1694.4 1339.8L1693.5 1339.7L1693.4 1340.6L1693.2 1341.3L1692.3 1341.3L1692.1 1342.2L1691.0 1341.8L1690.6 1342.4L1691.6 1344.8L1690.3 1344.2L1688.9 1343.5L1688.8 1344.5L1687.8 1344.3L1687.3 1344.7L1687.5 1346.1L1686.2 1345.5L1685.9 1346.1L1685.7 1347.0L1685.0 1347.2L1684.5 1347.6L1683.6 1347.4L1683.7 1348.7L1683.0 1348.9L1682.1 1348.8L1681.4 1349.0L1680.9 1349.4L1680.3 1349.8L1680.3 1350.9L1679.5 1350.9L1678.7 1350.9L1678.5 1351.7L1678.0 1352.3L1677.8 1353.1L1676.9 1352.9L1676.7 1353.8L1676.1 1354.1L1674.9 1353.6L1676.8 1357.6L1674.2 1354.9L1673.3 1354.8L1672.8 1355.3L1672.6 1356.1L1671.6 1355.9L1671.0 1356.2L1671.0 1357.3L1670.1 1357.1L1669.4 1357.3L1669.2 1358.3L1668.8 1358.8L1678.6 1374.9L1665.6 1355.3A369 369 0 0 0 1735.5 1295.5ZM1650.1 1365.0L1661.3 1384.1L1651.5 1368.8L1651.0 1369.2L1650.3 1369.2L1649.9 1370.0L1649.4 1370.5L1648.5 1370.2L1648.2 1371.0L1647.4 1371.0L1647.1 1371.8L1647.0 1373.0L1645.7 1372.1L1645.3 1372.6L1644.6 1372.7L1644.1 1373.2L1643.5 1373.6L1643.1 1374.2L1642.4 1374.3L1642.1 1375.0L1641.1 1374.7L1640.4 1374.8L1639.8 1375.0L1639.4 1375.6L1638.7 1375.7L1638.5 1376.8L1637.5 1376.4L1637.1 1377.0L1636.5 1377.3L1636.0 1377.9L1635.1 1377.6L1634.5 1377.9L1634.5 1379.2L1633.6 1378.9L1633.0 1379.2L1632.4 1379.5L1631.8 1379.8L1631.3 1380.3L1630.5 1380.1L1630.3 1381.2L1629.7 1381.5L1629.0 1381.6L1628.3 1381.7L1627.5 1381.7L1627.6 1383.2L1626.6 1382.9L1625.8 1382.7L1625.8 1384.3L1624.6 1383.3L1624.1 1383.8L1623.3 1383.5L1622.8 1384.1L1622.2 1384.3L1621.6 1384.8L1621.4 1385.9L1620.5 1385.4L1620.1 1386.3L1619.1 1385.7L1618.9 1386.8L1617.8 1386.0L1617.7 1387.3L1616.8 1386.9L1616.0 1386.9L1615.5 1387.3L1615.5 1388.9L1614.5 1388.4L1613.6 1388.0L1613.3 1388.9L1612.6 1389.0L1611.9 1389.0L1611.2 1389.2L1611.4 1391.2L1610.1 1389.9L1609.6 1390.4L1609.1 1390.9L1608.2 1390.6L1607.9 1391.5L1606.9 1390.9L1607.4 1393.9L1605.7 1391.5L1605.1 1391.9L1604.6 1392.3L1603.9 1392.3L1603.6 1393.3L1602.8 1393.2L1603.7 1397.1L1601.4 1393.1L1600.8 1393.6L1600.5 1394.6L1599.6 1394.1L1599.0 1394.4L1598.7 1395.4L1597.8 1395.0L1597.2 1395.2L1596.4 1395.1L1596.1 1396.3L1595.7 1396.9L1594.9 1396.8L1594.1 1396.5L1593.4 1396.5L1592.9 1397.0L1592.4 1397.7L1591.7 1397.8L1590.8 1397.3L1590.5 1398.4L1590.0 1398.7L1589.1 1398.3L1588.3 1398.2L1587.7 1398.4L1587.4 1399.5L1586.7 1399.5L1586.1 1399.9L1585.2 1399.3L1584.7 1399.9L1584.2 1400.5L1583.3 1400.0L1582.9 1400.8L1582.0 1400.2L1582.3 1403.1L1580.9 1401.1L1580.2 1401.1L1579.8 1401.8L1578.9 1401.4L1578.2 1401.5L1577.9 1402.6L1577.2 1402.6L1576.3 1402.1L1576.0 1403.1L1575.1 1402.7L1575.2 1405.2L1574.9 1406.5L1573.3 1403.5L1572.7 1403.7L1576.7 1419.2L1570.8 1399.9A369 369 0 0 0 1650.1 1365.0ZM1553.8 1404.7L1559.4 1426.8L1554.4 1409.8L1553.5 1409.1L1552.8 1408.9L1552.2 1409.2L1551.6 1409.9L1550.9 1409.5L1550.7 1411.5L1549.6 1409.8L1549.0 1410.1L1548.2 1409.9L1547.7 1410.7L1547.0 1410.8L1546.3 1410.4L1545.8 1411.4L1545.3 1412.1L1544.4 1411.1L1543.9 1411.8L1543.1 1411.4L1542.4 1411.3L1541.7 1411.5L1541.1 1411.6L1540.5 1411.9L1539.9 1412.6L1539.2 1412.2L1538.5 1412.2L1538.1 1413.5L1537.2 1412.5L1536.5 1412.5L1535.9 1412.7L1535.2 1412.9L1534.7 1413.5L1533.9 1413.2L1533.3 1413.5L1532.8 1414.1L1532.1 1414.2L1531.3 1413.7L1530.6 1413.6L1530.2 1414.8L1529.4 1414.4L1528.7 1414.1L1528.0 1414.2L1527.4 1414.4L1526.7 1414.7L1526.3 1415.7L1525.5 1415.0L1524.9 1415.5L1524.1 1415.0L1523.4 1414.9L1523.4 1419.1L1522.1 1415.1L1521.5 1415.4L1520.8 1415.7L1520.2 1415.8L1519.6 1416.3L1518.9 1416.1L1518.2 1415.9L1518.0 1419.0L1516.9 1416.6L1516.2 1416.6L1515.6 1416.9L1514.9 1416.2L1514.2 1416.5L1514.1 1420.1L1512.9 1416.6L1512.2 1416.8L1511.6 1416.8L1510.9 1416.9L1510.2 1416.9L1509.6 1417.0L1508.9 1417.3L1508.3 1417.3L1507.6 1417.5L1507.0 1417.8L1506.4 1418.0L1505.6 1417.6L1504.9 1417.5L1504.3 1417.6L1503.6 1417.7L1503.0 1418.4L1502.4 1418.3L1501.7 1418.7L1501.0 1418.6L1500.3 1418.1L1499.7 1418.2L1499.0 1418.1L1498.4 1419.4L1497.7 1418.5L1497.1 1418.9L1496.5 1419.8L1495.8 1419.7L1495.1 1419.1L1494.4 1419.3L1493.8 1419.9L1493.1 1419.3L1492.4 1419.7L1491.8 1420.2L1491.0 1419.1L1490.4 1419.0L1489.7 1419.3L1489.1 1419.4L1488.4 1419.3L1487.7 1419.8L1487.0 1419.1L1486.4 1419.8L1485.7 1419.4L1485.1 1419.6L1484.5 1421.6L1483.7 1419.3L1483.1 1420.3L1482.4 1419.4L1481.7 1419.5L1481.1 1420.2L1480.4 1420.1L1479.7 1419.8L1479.1 1420.0L1478.4 1420.6L1477.8 1420.3L1477.1 1420.6L1476.5 1422.5L1475.7 1419.9L1475.1 1419.8L1474.4 1420.6L1473.8 1422.7L1473.1 1419.9L1472.4 1420.1L1471.8 1420.6L1471.1 1422.6L1470.5 1422.4L1469.8 1420.6L1469.3 1435.6L1469.0 1416.1A369 369 0 0 0 1553.8 1404.7ZM1451.1 1416.0L1450.4 1439.3L1450.3 1420.4L1449.6 1420.5L1449.0 1420.0L1448.3 1420.2L1447.7 1419.7L1447.0 1419.7L1446.3 1419.6L1445.6 1420.2L1445.0 1420.0L1444.3 1420.1L1443.6 1420.1L1443.0 1419.5L1442.3 1419.9L1441.7 1419.6L1441.0 1419.9L1440.3 1419.9L1439.7 1419.7L1439.0 1419.8L1438.4 1419.3L1437.7 1419.3L1437.0 1419.4L1436.4 1419.0L1435.7 1419.7L1434.8 1423.0L1434.4 1419.2L1433.7 1419.0L1433.0 1419.0L1432.3 1419.6L1431.7 1419.0L1431.1 1418.8L1430.4 1418.7L1429.7 1419.2L1428.7 1422.5L1428.3 1419.8L1427.7 1418.6L1427.0 1419.1L1426.4 1418.4L1425.7 1418.5L1425.1 1418.3L1424.3 1419.5L1423.7 1418.7L1423.1 1418.1L1422.3 1419.2L1421.8 1418.1L1421.2 1417.6L1420.5 1417.9L1419.8 1417.8L1419.1 1417.9L1418.4 1418.3L1417.7 1418.2L1417.1 1417.7L1416.5 1417.3L1415.8 1417.2L1415.1 1417.9L1414.6 1416.8L1413.8 1417.6L1413.0 1418.3L1412.5 1416.8L1411.8 1417.3L1411.1 1417.5L1410.5 1417.2L1409.9 1416.6L1409.2 1416.6L1408.6 1416.4L1407.9 1416.4L1407.3 1416.1L1406.5 1416.7L1405.9 1415.9L1405.3 1415.9L1404.6 1415.9L1403.8 1416.8L1403.3 1415.5L1402.7 1415.3L1402.0 1415.4L1401.4 1415.1L1400.7 1415.2L1400.0 1415.1L1399.4 1414.7L1398.7 1415.1L1398.0 1415.3L1397.4 1414.4L1396.8 1414.2L1396.1 1414.3L1395.5 1413.9L1394.8 1413.8L1394.2 1413.7L1393.5 1413.6L1392.8 1414.0L1392.2 1413.3L1391.5 1413.4L1390.9 1413.1L1390.2 1413.1L1389.6 1412.8L1388.7 1413.8L1388.0 1414.2L1387.4 1413.4L1387.0 1412.5L1386.3 1412.2L1385.5 1412.9L1384.9 1412.5L1384.3 1412.1L1383.5 1412.6L1383.0 1411.9L1382.4 1411.3L1381.8 1411.2L1381.1 1411.2L1380.4 1411.5L1379.8 1410.8L1379.0 1411.6L1378.6 1410.3L1377.9 1410.2L1377.2 1410.2L1376.6 1410.0L1375.8 1410.6L1375.2 1410.1L1374.6 1409.6L1373.9 1410.0L1373.3 1409.4L1372.7 1409.2L1372.1 1408.8L1371.5 1408.6L1370.8 1408.7L1370.1 1408.6L1369.4 1408.6L1368.6 1409.0L1368.2 1407.9L1362.6 1426.6L1368.6 1404.0A369 369 0 0 0 1451.1 1416.0ZM1350.7 1398.8L1344.4 1418.7L1348.9 1402.2L1348.1 1402.6L1347.4 1402.6L1346.8 1402.3L1346.3 1401.6L1345.6 1401.6L1344.8 1401.9L1344.4 1400.8L1343.8 1400.7L1343.1 1400.6L1342.6 1400.1L1341.9 1400.0L1341.3 1399.8L1340.7 1399.6L1340.0 1399.6L1339.3 1399.3L1337.6 1402.3L1338.1 1398.7L1337.2 1399.4L1336.9 1398.3L1336.1 1398.4L1335.6 1397.9L1334.8 1398.1L1334.4 1397.3L1333.6 1397.5L1332.7 1398.1L1332.2 1397.5L1331.8 1396.7L1331.3 1396.1L1330.6 1396.0L1329.8 1396.2L1329.3 1395.7L1328.3 1396.4L1328.0 1395.4L1327.5 1394.8L1326.6 1395.2L1326.2 1394.4L1325.7 1393.9L1324.7 1394.7L1324.4 1393.6L1323.8 1393.2L1322.9 1393.6L1321.2 1396.1L1321.8 1392.8L1321.1 1392.8L1320.5 1392.4L1320.1 1391.8L1317.8 1395.5L1318.8 1391.3L1317.3 1393.2L1317.6 1390.9L1316.8 1391.1L1316.3 1390.4L1315.3 1391.0L1315.2 1389.6L1314.5 1389.4L1313.6 1390.0L1313.1 1389.5L1312.6 1388.9L1311.7 1389.2L1311.4 1388.3L1310.9 1387.9L1310.3 1387.5L1309.6 1387.5L1309.1 1387.0L1308.5 1386.6L1307.6 1387.1L1307.3 1386.1L1306.7 1385.8L1305.7 1386.3L1305.1 1386.0L1304.8 1385.2L1303.8 1385.6L1303.6 1384.5L1303.1 1384.1L1302.0 1384.8L1301.5 1384.3L1301.0 1383.7L1300.6 1383.1L1299.9 1383.0L1299.2 1382.9L1298.3 1383.3L1297.9 1382.6L1297.6 1381.7L1296.9 1381.6L1296.2 1381.4L1295.5 1381.3L1295.3 1380.3L1294.6 1380.1L1294.0 1379.8L1292.9 1380.6L1292.9 1379.1L1291.7 1379.9L1291.0 1379.8L1290.6 1379.1L1290.0 1378.9L1289.9 1377.7L1289.3 1377.3L1288.4 1377.7L1288.1 1376.8L1287.4 1376.6L1286.9 1376.2L1285.6 1377.2L1285.5 1376.0L1284.7 1376.0L1284.2 1375.6L1283.8 1374.9L1283.4 1374.3L1282.9 1373.8L1281.5 1374.9L1281.1 1374.3L1280.9 1373.3L1280.1 1373.3L1279.3 1373.3L1279.1 1372.4L1278.6 1371.9L1271.3 1383.4L1280.1 1367.9A369 369 0 0 0 1350.7 1398.8ZM1264.5 1358.5L1252.9 1376.7L1261.9 1361.3L1261.3 1361.1L1260.4 1361.2L1260.2 1360.3L1259.6 1360.0L1259.1 1359.6L1258.0 1360.0L1257.5 1359.6L1257.2 1358.8L1256.4 1358.8L1256.0 1358.2L1255.1 1358.4L1255.1 1357.2L1254.2 1357.4L1254.1 1356.3L1251.3 1359.2L1252.8 1355.8L1252.0 1355.9L1251.9 1354.8L1251.0 1355.0L1250.8 1354.0L1250.0 1354.1L1249.7 1353.3L1249.0 1353.2L1248.5 1352.7L1248.0 1352.3L1247.2 1352.2L1246.4 1352.2L1246.2 1351.4L1245.8 1350.8L1243.7 1352.7L1244.6 1350.2L1244.2 1349.7L1243.8 1349.1L1242.8 1349.3L1242.6 1348.4L1241.5 1348.8L1241.0 1348.4L1240.7 1347.7L1240.1 1347.3L1239.6 1346.9L1239.5 1345.9L1238.8 1345.8L1238.3 1345.3L1237.8 1344.9L1237.3 1344.5L1235.7 1345.4L1236.2 1343.7L1235.6 1343.4L1235.0 1343.0L1234.6 1342.6L1233.4 1343.0L1233.7 1341.5L1233.1 1341.1L1232.5 1340.8L1231.3 1341.3L1231.0 1340.6L1231.1 1339.4L1230.6 1339.0L1229.5 1339.3L1229.1 1338.8L1226.6 1340.8L1228.4 1337.5L1227.9 1337.0L1227.3 1336.7L1226.6 1336.5L1225.8 1336.5L1225.6 1335.7L1225.4 1334.9L1224.5 1334.9L1223.8 1334.7L1222.8 1334.9L1223.4 1333.1L1222.8 1332.9L1222.3 1332.4L1221.4 1332.4L1221.0 1331.9L1220.9 1331.0L1218.3 1333.0L1219.5 1330.6L1219.2 1329.9L1218.6 1329.6L1215.9 1331.7L1217.8 1328.5L1217.3 1328.1L1216.5 1327.9L1215.6 1328.0L1215.2 1327.4L1214.4 1327.3L1214.7 1325.9L1214.4 1325.4L1213.5 1325.3L1213.2 1324.6L1212.8 1324.1L1212.3 1323.7L1211.3 1323.8L1211.2 1322.9L1210.8 1322.4L1210.4 1321.8L1209.9 1321.4L1208.6 1321.8L1209.0 1320.4L1208.5 1320.0L1207.8 1319.8L1206.4 1320.3L1206.9 1318.8L1206.1 1318.7L1205.5 1318.3L1205.2 1317.6L1204.3 1317.6L1203.9 1317.1L1203.1 1317.0L1202.8 1316.3L1201.7 1316.6L1202.6 1314.6L1202.1 1314.2L1201.2 1314.2L1201.2 1313.3L1187.6 1326.1L1203.5 1310.0A369 369 0 0 0 1264.5 1358.5ZM1191.3 1297.4L1176.0 1311.5L1187.9 1299.6L1187.5 1299.0L1187.2 1298.4L1186.5 1298.1L1185.7 1298.0L1185.4 1297.4L1184.6 1297.2L1184.1 1296.7L1184.2 1295.7L1183.9 1295.1L1183.1 1294.9L1183.1 1294.0L1181.7 1294.4L1182.2 1293.1L1181.7 1292.6L1181.1 1292.2L1181.0 1291.5L1180.4 1291.1L1180.1 1290.5L1179.6 1290.0L1178.2 1290.3L1177.9 1289.7L1178.1 1288.7L1177.6 1288.2L1177.1 1287.8L1176.6 1287.3L1176.4 1286.6L1175.4 1286.6L1175.1 1285.9L1175.2 1285.0L1174.0 1285.2L1174.4 1283.9L1174.0 1283.4L1173.0 1283.4L1172.2 1283.2L1172.2 1282.3L1172.2 1281.4L1170.7 1281.8L1171.3 1280.5L1168.7 1281.7L1170.6 1279.3L1169.5 1279.4L1169.2 1278.7L1169.2 1277.9L1168.8 1277.3L1168.2 1277.0L1167.7 1276.5L1167.2 1276.0L1167.3 1275.1L1164.6 1276.4L1166.4 1274.1L1165.5 1274.0L1165.3 1273.3L1165.4 1272.4L1164.5 1272.2L1163.9 1271.9L1162.9 1271.7L1163.3 1270.6L1163.0 1270.0L1162.7 1269.4L1162.5 1268.7L1160.3 1269.5L1161.5 1267.8L1161.1 1267.3L1160.5 1266.9L1159.9 1266.5L1160.0 1265.6L1159.9 1264.8L1159.2 1264.5L1158.7 1264.1L1158.6 1263.3L1158.0 1262.9L1157.9 1262.2L1157.5 1261.6L1156.8 1261.3L1156.2 1260.9L1156.1 1260.2L1155.4 1259.8L1155.2 1259.2L1155.1 1258.4L1154.3 1258.1L1154.5 1257.2L1153.4 1257.1L1152.9 1256.7L1153.2 1255.7L1152.2 1255.5L1152.3 1254.7L1150.8 1254.9L1151.5 1253.6L1151.2 1253.0L1148.4 1254.1L1150.7 1251.7L1149.7 1251.6L1150.1 1250.5L1149.0 1250.5L1149.0 1249.6L1148.4 1249.3L1148.5 1248.4L1147.7 1248.1L1147.6 1247.4L1147.0 1247.0L1147.0 1246.2L1146.7 1245.6L1144.6 1246.2L1146.0 1244.5L1144.2 1244.8L1145.4 1243.2L1144.7 1242.9L1144.3 1242.4L1143.3 1242.2L1143.7 1241.2L1143.0 1240.8L1143.3 1239.9L1142.4 1239.6L1126.1 1248.6L1145.9 1236.8A369 369 0 0 0 1191.3 1297.4ZM1137.3 1221.5L1121.7 1229.9L1133.4 1222.8L1133.1 1222.2L1132.7 1221.7L1132.4 1221.1L1132.2 1220.5L1131.8 1219.9L1130.8 1219.7L1131.0 1218.8L1131.1 1218.0L1130.0 1217.8L1130.2 1217.0L1130.2 1216.2L1128.7 1216.2L1129.0 1215.3L1129.0 1214.6L1128.1 1214.3L1128.5 1213.4L1128.3 1212.7L1128.2 1212.0L1127.5 1211.6L1127.6 1210.8L1125.5 1211.1L1127.0 1209.6L1125.1 1209.8L1126.4 1208.4L1125.0 1208.4L1125.1 1207.6L1125.1 1206.8L1124.8 1206.2L1124.6 1205.6L1124.7 1204.8L1124.3 1204.2L1123.4 1204.0L1123.6 1203.1L1122.9 1202.7L1123.0 1201.9L1122.3 1201.5L1121.7 1201.0L1120.7 1200.8L1122.1 1199.4L1121.7 1198.8L1121.5 1198.2L1121.4 1197.5L1121.1 1196.9L1119.8 1196.8L1119.8 1196.1L1118.5 1195.9L1119.1 1194.9L1119.6 1193.9L1119.6 1193.2L1118.2 1193.1L1118.7 1192.2L1118.8 1191.4L1117.9 1191.0L1118.1 1190.2L1117.0 1190.0L1117.5 1189.0L1116.9 1188.6L1116.6 1187.9L1116.7 1187.2L1116.1 1186.7L1116.5 1185.8L1116.2 1185.2L1115.4 1184.8L1115.0 1184.3L1115.5 1183.3L1114.4 1183.1L1114.1 1182.5L1114.3 1181.7L1114.1 1181.0L1114.3 1180.2L1113.0 1180.0L1113.7 1179.0L1113.3 1178.5L1109.6 1179.2L1109.4 1178.5L1112.8 1176.5L1111.6 1176.3L1112.2 1175.4L1112.1 1174.7L1110.9 1174.4L1111.5 1173.5L1110.7 1173.0L1111.0 1172.2L1111.0 1171.5L1110.0 1171.2L1110.5 1170.3L1109.4 1170.0L1109.6 1169.2L1108.8 1168.7L1109.7 1167.7L1109.1 1167.2L1109.2 1166.5L1109.2 1165.8L1108.0 1165.5L1108.3 1164.7L1108.3 1164.0L1107.9 1163.4L1107.7 1162.8L1107.1 1162.3L1107.3 1161.5L1107.1 1160.9L1106.3 1160.4L1106.2 1159.7L1106.6 1158.9L1106.0 1158.4L1106.1 1157.7L1105.8 1157.1L1106.1 1156.3L1105.0 1155.9L1104.6 1155.3L1105.5 1154.4L1105.2 1153.8L1104.7 1153.2L1103.5 1152.9L1089.5 1156.3L1108.3 1150.8A369 369 0 0 0 1137.3 1221.5ZM1103.4 1132.3L1083.4 1137.0L1099.5 1132.5L1099.0 1132.0L1099.4 1131.2L1099.0 1130.6L1098.9 1129.9L1098.2 1129.4L1097.5 1128.9L1098.1 1128.1L1097.6 1127.5L1098.1 1126.7L1096.6 1126.3L1097.6 1125.4L1097.9 1124.7L1096.8 1124.2L1097.6 1123.4L1096.8 1122.9L1097.1 1122.1L1097.1 1121.5L1096.3 1120.9L1096.9 1120.1L1096.1 1119.6L1096.2 1118.9L1096.1 1118.3L1096.1 1117.6L1095.4 1117.0L1095.9 1116.3L1095.7 1115.6L1095.4 1115.0L1095.6 1114.3L1095.4 1113.6L1095.5 1113.0L1094.9 1112.4L1094.0 1111.9L1095.1 1111.0L1093.8 1110.5L1094.2 1109.8L1094.4 1109.1L1094.6 1108.4L1093.6 1107.9L1094.6 1107.0L1093.2 1106.6L1094.3 1105.7L1094.1 1105.1L1093.8 1104.4L1093.4 1103.8L1093.8 1103.1L1093.3 1102.5L1093.6 1101.8L1092.9 1101.2L1092.2 1100.6L1093.4 1099.8L1092.6 1099.2L1093.2 1098.5L1093.1 1097.8L1092.9 1097.2L1089.8 1096.9L1093.0 1095.8L1092.5 1095.2L1092.5 1094.5L1092.5 1093.9L1092.5 1093.2L1091.8 1092.6L1091.2 1092.0L1092.2 1091.2L1091.7 1090.6L1091.8 1089.9L1090.7 1089.4L1091.4 1088.6L1090.9 1088.0L1091.6 1087.2L1091.4 1086.6L1090.9 1086.0L1091.2 1085.3L1091.5 1084.6L1091.0 1084.0L1091.5 1083.2L1089.7 1082.7L1086.9 1082.3L1090.7 1081.3L1090.7 1080.6L1091.1 1079.9L1090.9 1079.3L1090.3 1078.7L1090.5 1078.0L1090.8 1077.3L1090.2 1076.7L1090.4 1076.0L1090.7 1075.3L1088.6 1074.8L1090.4 1074.0L1090.5 1073.3L1088.8 1072.7L1090.6 1072.0L1090.4 1071.3L1089.5 1070.7L1090.1 1070.0L1090.4 1069.3L1090.2 1068.6L1089.8 1068.0L1089.8 1067.3L1090.1 1066.6L1089.9 1066.0L1089.3 1065.4L1090.0 1064.7L1073.7 1064.7L1093.9 1063.8A369 369 0 0 0 1103.4 1132.3ZM1093.5 1044.8L1074.5 1044.7L1089.8 1044.1L1089.4 1043.5L1089.2 1042.8L1089.0 1042.1L1089.2 1041.4L1089.5 1040.8L1088.7 1040.1L1089.6 1039.4L1088.9 1038.8L1089.4 1038.1L1089.1 1037.4L1089.2 1036.7L1089.2 1036.1L1089.3 1035.4L1087.4 1034.7L1089.7 1034.1L1089.7 1033.4L1089.7 1032.7L1089.5 1032.1L1089.2 1031.4L1089.7 1030.7L1090.2 1030.1L1089.8 1029.4L1090.2 1028.7L1090.3 1028.1L1090.0 1027.4L1089.6 1026.7L1089.9 1026.1L1089.7 1025.4L1089.4 1024.7L1089.7 1024.0L1090.4 1023.4L1090.4 1022.7L1089.7 1022.0L1089.6 1021.3L1086.9 1020.5L1089.5 1020.0L1089.6 1019.3L1090.9 1018.7L1090.5 1018.0L1090.9 1017.4L1090.5 1016.7L1090.5 1016.0L1091.0 1015.4L1091.2 1014.7L1089.9 1014.0L1091.2 1013.4L1090.6 1012.7L1091.4 1012.1L1091.4 1011.4L1090.7 1010.7L1091.5 1010.1L1090.9 1009.3L1091.4 1008.7L1091.8 1008.1L1091.5 1007.4L1091.1 1006.7L1091.5 1006.0L1092.1 1005.4L1091.1 1004.6L1092.2 1004.1L1091.1 1003.3L1091.2 1002.6L1092.4 1002.1L1092.4 1001.4L1092.4 1000.8L1092.4 1000.1L1092.3 999.4L1092.3 998.7L1092.9 998.1L1092.1 997.3L1088.4 996.1L1092.4 996.0L1092.6 995.4L1092.8 994.7L1089.5 993.6L1093.1 993.4L1092.9 992.7L1092.8 992.0L1093.4 991.4L1093.8 990.8L1094.1 990.2L1094.1 989.5L1093.4 988.7L1094.3 988.2L1094.4 987.5L1094.5 986.9L1094.8 986.2L1093.7 985.4L1094.1 984.8L1094.6 984.1L1094.9 983.5L1095.2 982.9L1094.9 982.2L1095.0 981.5L1095.4 980.9L1095.5 980.2L1092.9 979.1L1095.8 978.9L1096.1 978.3L1096.1 977.6L1095.6 976.8L1095.3 976.1L1079.4 972.3L1100.4 976.4A369 369 0 0 0 1093.5 1044.8ZM1104.4 958.2L1083.5 953.0L1100.1 956.4L1100.5 955.8L1101.0 955.3L1101.1 954.6L1100.9 953.9L1101.6 953.4L1097.9 951.7L1101.3 951.9L1101.4 951.3L1102.1 950.8L1101.8 950.0L1102.3 949.4L1102.8 948.9L1102.3 948.1L1103.0 947.6L1103.2 946.9L1103.6 946.3L1103.2 945.5L1104.0 945.1L1101.3 943.6L1104.2 943.8L1104.4 943.1L1103.3 942.1L1104.8 941.8L1104.6 941.1L1104.7 940.4L1104.7 939.7L1105.5 939.3L1105.8 938.7L1104.9 937.7L1106.3 937.4L1106.4 936.8L1105.7 935.9L1106.1 935.3L1106.7 934.8L1105.8 933.8L1107.2 933.5L1107.1 932.8L1107.9 932.4L1107.7 931.6L1108.3 931.1L1108.2 930.4L1108.1 929.6L1108.7 929.1L1109.1 928.6L1108.8 927.8L1109.1 927.2L1109.3 926.5L1109.5 925.9L1109.5 925.2L1108.3 924.1L1110.5 924.1L1109.7 923.1L1109.7 922.5L1111.2 922.3L1110.4 921.3L1110.9 920.7L1111.8 920.4L1111.4 919.5L1112.0 919.0L1111.4 918.1L1112.2 917.7L1112.7 917.1L1113.3 916.7L1113.1 915.9L1113.8 915.4L1113.2 914.5L1113.5 913.9L1114.1 913.4L1113.0 912.3L1114.9 912.3L1115.2 911.7L1115.4 911.1L1115.7 910.5L1115.4 909.6L1116.0 909.2L1116.4 908.6L1116.5 907.9L1116.7 907.3L1116.4 906.4L1117.1 906.0L1116.9 905.2L1117.5 904.7L1118.0 904.2L1117.9 903.5L1117.9 902.8L1118.6 902.3L1119.0 901.8L1119.4 901.2L1119.3 900.5L1119.4 899.7L1120.0 899.3L1120.5 898.8L1120.4 898.0L1121.0 897.5L1120.1 896.4L1121.6 896.4L1121.7 895.7L1122.2 895.2L1121.8 894.3L1122.2 893.7L1122.6 893.2L1105.3 884.6L1126.7 894.3A369 369 0 0 0 1104.4 958.2ZM1134.6 877.9L1115.6 868.1L1132.4 876.0L1132.9 875.5L1133.2 874.9L1133.4 874.3L1133.5 873.6L1133.9 873.1L1134.4 872.5L1134.3 871.8L1134.9 871.3L1135.3 870.8L1135.4 870.1L1136.0 869.7L1135.9 868.8L1136.2 868.2L1135.8 867.2L1136.9 867.1L1136.8 866.3L1135.7 864.9L1138.0 865.4L1137.8 864.5L1138.7 864.3L1138.8 863.6L1138.7 862.8L1139.0 862.2L1139.4 861.6L1139.2 860.7L1140.4 860.6L1139.1 859.2L1140.8 859.3L1140.6 858.4L1141.3 858.1L1140.8 857.0L1142.1 857.0L1142.3 856.4L1142.6 855.8L1142.8 855.1L1139.1 852.1L1143.3 853.9L1142.9 852.8L1142.9 852.0L1144.3 852.1L1144.6 851.5L1144.8 850.8L1141.5 848.0L1145.5 849.7L1145.8 849.1L1146.3 848.6L1146.5 848.0L1146.6 847.3L1146.8 846.6L1147.1 846.0L1146.3 844.7L1147.1 844.4L1147.2 843.7L1148.1 843.4L1148.5 842.9L1148.2 841.9L1149.1 841.7L1149.8 841.3L1149.7 840.5L1150.3 840.1L1150.5 839.4L1149.8 838.1L1148.2 836.3L1151.4 837.6L1151.9 837.1L1151.9 836.3L1151.9 835.5L1152.5 835.1L1152.5 834.3L1153.4 834.1L1153.5 833.3L1154.0 832.8L1153.3 831.5L1154.8 831.8L1155.1 831.2L1154.6 830.0L1155.6 829.8L1156.1 829.4L1156.5 828.8L1156.6 828.1L1156.3 827.1L1157.2 826.9L1156.9 825.8L1157.8 825.7L1157.8 824.8L1158.7 824.6L1158.9 824.0L1158.4 822.7L1159.3 822.5L1159.8 822.1L1159.5 821.0L1160.4 820.8L1160.5 820.1L1160.7 819.4L1161.0 818.7L1159.5 816.7L1162.1 817.9L1162.3 817.2L1151.6 808.1L1170.0 822.3A369 369 0 0 0 1134.6 877.9ZM1181.2 808.4L1172.5 801.0L1179.1 805.8L1179.6 805.2L1179.5 804.3L1180.9 804.7L1181.4 804.2L1181.8 803.6L1181.9 802.8L1182.2 802.3L1182.9 801.9L1183.6 801.7L1183.5 800.8L1184.2 800.4L1184.3 799.7L1184.6 799.0L1183.3 797.0L1185.7 798.2L1186.2 797.8L1186.7 797.3L1187.2 796.9L1187.2 796.0L1188.1 795.9L1188.2 795.1L1188.8 794.7L1189.3 794.3L1189.7 793.8L1189.5 792.7L1190.6 792.8L1189.8 791.1L1191.2 791.5L1191.6 791.0L1192.1 790.5L1192.7 790.1L1193.0 789.5L1193.5 789.1L1193.8 788.4L1194.4 788.1L1194.0 786.8L1194.9 786.7L1194.7 785.6L1195.7 785.6L1196.4 785.4L1196.2 784.3L1195.0 782.1L1197.6 783.7L1198.1 783.3L1198.1 782.4L1199.0 782.3L1196.1 778.4L1197.5 778.8L1200.0 780.4L1200.7 780.2L1200.5 779.1L1201.5 779.1L1202.0 778.6L1202.3 778.0L1202.2 776.9L1202.6 776.4L1203.7 776.5L1203.8 775.7L1203.8 774.7L1204.4 774.3L1205.4 774.5L1205.5 773.6L1205.7 772.9L1206.5 772.7L1206.7 771.9L1207.5 771.8L1207.3 770.5L1208.4 770.8L1208.4 769.8L1209.2 769.6L1209.7 769.2L1210.2 768.8L1208.5 765.9L1210.8 767.4L1211.5 767.2L1211.3 765.9L1212.2 765.9L1212.7 765.5L1213.4 765.2L1213.8 764.7L1214.3 764.3L1214.2 763.2L1214.5 762.4L1215.2 762.2L1215.5 761.5L1216.1 761.2L1216.9 761.1L1217.3 760.5L1217.5 759.7L1218.2 759.5L1218.5 758.8L1218.8 758.1L1219.6 758.0L1220.0 757.5L1220.2 756.6L1213.0 746.9L1226.7 763.4A369 369 0 0 0 1181.2 808.4ZM1240.8 752.2L1233.6 742.6L1239.6 749.6L1239.8 748.7L1240.9 749.1L1240.4 747.3L1241.3 747.4L1242.4 747.7L1242.8 747.1L1243.3 746.7L1243.7 746.1L1244.5 746.1L1245.0 745.7L1245.5 745.1L1245.8 744.5L1246.5 744.2L1247.1 744.0L1247.7 743.7L1247.9 742.8L1248.6 742.6L1249.3 742.5L1249.3 741.3L1250.3 741.6L1250.6 740.9L1251.3 740.7L1251.1 739.3L1252.0 739.4L1252.9 739.5L1253.2 738.7L1253.6 738.1L1254.1 737.7L1254.6 737.2L1255.3 737.1L1256.0 736.9L1256.0 735.7L1256.8 735.6L1257.4 735.4L1258.2 735.4L1258.5 734.6L1258.8 733.9L1259.3 733.4L1260.2 733.5L1260.7 733.2L1261.2 732.6L1261.5 731.9L1261.9 731.3L1262.4 730.8L1263.5 731.2L1263.6 730.3L1264.5 730.4L1264.7 729.4L1265.4 729.2L1266.0 729.0L1266.4 728.4L1266.5 727.3L1267.4 727.5L1268.2 727.5L1268.4 726.5L1269.2 726.5L1269.3 725.3L1269.7 724.7L1270.6 725.0L1271.2 724.7L1271.8 724.3L1272.1 723.5L1273.0 723.7L1273.5 723.3L1273.6 722.1L1274.2 721.8L1275.2 722.1L1275.3 720.9L1276.2 721.1L1276.8 720.8L1277.0 719.9L1277.8 719.9L1278.3 719.4L1279.0 719.2L1279.5 718.7L1279.9 718.2L1280.6 718.0L1281.2 717.7L1281.7 717.2L1282.0 716.3L1281.8 714.5L1282.1 713.7L1284.0 715.7L1284.2 714.8L1285.0 714.9L1285.4 714.2L1286.1 714.1L1286.3 712.9L1287.1 712.9L1287.7 712.7L1288.3 712.5L1288.8 711.8L1289.4 711.5L1289.7 710.6L1290.5 710.7L1290.9 710.1L1287.7 702.2L1295.7 718.0A369 369 0 0 0 1240.8 752.2ZM1311.4 710.6L1303.1 692.2L1310.5 707.1L1311.4 707.3L1312.1 707.4L1312.3 706.1L1313.4 707.0L1313.9 706.6L1314.3 705.7L1314.9 705.4L1315.4 704.8L1316.1 704.9L1317.0 705.1L1317.4 704.4L1318.0 704.2L1318.7 704.2L1319.3 703.7L1319.9 703.5L1320.4 703.0L1321.0 702.8L1321.8 702.9L1320.9 699.0L1323.0 702.3L1323.1 700.6L1323.1 698.8L1324.8 701.4L1325.0 700.2L1325.9 700.6L1326.6 700.4L1326.8 699.2L1327.8 699.8L1328.2 699.1L1328.8 698.7L1328.3 695.6L1330.1 698.3L1330.9 698.6L1331.1 697.2L1332.0 697.6L1331.2 693.6L1333.1 696.8L1333.7 696.6L1334.0 695.5L1334.9 696.0L1335.3 694.9L1336.2 695.7L1336.9 695.5L1337.4 694.9L1337.9 694.4L1338.7 694.5L1339.3 694.2L1339.5 692.9L1340.6 693.9L1340.8 692.3L1341.3 691.9L1342.2 692.5L1342.9 692.3L1343.5 692.0L1344.3 692.2L1343.8 688.7L1345.1 690.5L1345.9 690.6L1346.6 690.6L1347.3 690.7L1347.9 690.4L1348.6 690.2L1349.1 689.8L1349.7 689.2L1350.3 688.9L1351.1 689.1L1351.6 688.6L1352.2 688.2L1352.8 687.8L1353.4 687.5L1354.0 687.2L1354.7 687.1L1355.1 686.1L1356.0 686.7L1356.6 686.4L1356.2 682.8L1357.8 685.6L1358.2 684.9L1359.0 685.1L1359.7 684.9L1360.1 684.2L1360.8 683.9L1360.9 681.7L1362.0 683.3L1362.1 681.0L1362.4 679.4L1362.9 678.9L1364.6 682.5L1365.2 682.2L1365.8 681.7L1366.7 682.3L1367.0 681.0L1367.8 681.2L1368.5 681.3L1369.0 680.6L1369.6 680.1L1368.3 672.0L1372.6 689.3A369 369 0 0 0 1311.4 710.6ZM1390.0 685.4L1388.2 676.6L1389.1 677.5L1389.8 677.5L1390.5 677.4L1390.9 676.3L1391.5 675.5L1392.5 677.4L1392.4 673.1L1393.3 674.0L1394.1 674.6L1395.1 676.4L1395.8 676.5L1396.0 674.2L1395.8 668.7L1397.8 676.2L1396.6 665.6L1398.4 671.7L1398.9 671.1L1399.9 672.7L1399.8 667.8L1401.5 674.1L1402.1 673.6L1402.4 670.9L1403.8 675.4L1404.0 672.6L1404.1 669.1L1405.2 671.5L1406.0 672.2L1406.8 673.2L1407.3 672.0L1407.8 670.6L1408.9 673.5L1409.8 674.9L1410.3 673.8L1409.8 665.0L1411.3 671.3L1411.6 668.4L1412.9 673.1L1413.3 670.5L1414.1 671.2L1414.7 671.3L1414.2 661.8L1416.3 672.5L1416.9 672.0L1417.5 671.2L1418.4 673.3L1418.9 671.7L1419.1 668.1L1420.4 673.4L1420.9 671.7L1421.7 672.4L1422.0 669.1L1423.1 672.7L1423.0 665.5L1424.3 671.4L1424.7 669.4L1425.1 665.8L1426.1 668.8L1426.6 667.8L1427.5 669.2L1427.8 665.3L1429.0 671.1L1429.5 669.7L1429.9 666.0L1431.0 670.5L1431.6 670.5L1432.4 671.7L1432.8 667.4L1433.7 671.1L1434.3 670.1L1434.4 661.5L1435.8 671.6L1436.3 669.2L1437.0 670.1L1437.8 671.2L1438.4 671.0L1438.7 663.8L1439.7 670.1L1440.5 671.4L1440.7 663.8L1441.7 669.8L1442.4 669.1L1443.2 671.5L1443.8 671.0L1444.3 666.1L1444.9 678.6A369 369 0 0 0 1390.0 685.4Z" fill="#d62f27" stroke="#d62f27" stroke-width="0.3" stroke-linejoin="round"/>
<path d="M1482.2 718.8L1482.5 713.9L1483.2 712.3L1484.0 708.0L1484.3 713.3L1485.0 711.1L1485.4 712.7L1486.0 712.3L1486.6 712.6L1487.1 712.8L1487.7 712.8L1488.1 714.6L1488.6 715.6L1489.5 711.4L1489.8 715.5L1491.0 707.4L1491.0 713.8L1491.3 716.8L1492.1 714.8L1492.9 712.3L1493.0 716.8L1493.5 717.8L1494.4 713.8L1495.8 706.0L1495.4 715.1L1496.3 712.1L1496.2 719.0L1497.1 715.6L1497.4 717.7L1497.9 718.6L1498.6 717.6L1499.4 715.3L1499.7 717.5L1500.1 719.1L1500.6 719.2L1502.5 707.8L1502.0 717.0L1502.5 717.4L1503.1 717.7L1503.8 716.0L1504.2 717.7L1504.7 718.4L1505.5 716.3L1507.1 708.8L1506.5 717.2L1508.2 708.7L1507.8 716.3L1508.6 714.5L1508.7 718.1L1510.0 712.7L1509.7 719.1L1510.0 720.3L1510.8 718.8L1512.5 711.4L1512.1 717.8L1512.2 721.0L1513.4 717.1L1513.3 721.1L1514.2 719.0L1514.6 719.9L1515.1 720.4L1515.8 719.5L1516.5 718.9L1517.9 713.9L1517.8 717.6L1518.6 716.7L1518.2 722.2L1518.8 722.1L1519.3 722.3L1520.0 721.4L1520.5 722.0L1521.5 719.8L1521.6 722.3L1523.8 713.3L1522.9 721.4L1524.1 718.1L1524.4 719.4L1524.5 721.7L1525.2 721.1L1525.4 723.3L1526.3 721.4L1528.5 713.3L1527.5 721.2L1528.1 721.0L1528.6 721.1L1529.7 719.0L1529.6 722.1L1531.1 717.6L1530.9 721.2L1532.9 714.8L1532.3 720.1L1534.2 714.2L1533.2 721.2L1534.5 717.8L1534.3 721.5L1534.4 723.6L1534.7 724.8L1537.2 716.5L1536.1 723.8L1536.2 725.8L1537.5 722.5L1537.5 725.0L1538.1 725.2L1540.7 716.4L1539.1 725.8L1541.6 717.8L1540.2 725.7L1542.6 718.5L1541.5 725.4L1543.0 721.4L1542.9 724.2L1544.6 719.9L1543.4 726.8L1545.5 720.8L1544.4 727.3L1545.4 725.7L1546.3 724.6L1546.3 727.0L1546.9 726.6L1547.2 727.6L1548.2 726.1L1548.5 727.3L1549.0 727.5L1552.0 718.7L1550.2 727.4L1551.6 724.5L1550.7 729.7L1552.0 727.3L1551.9 729.6L1554.1 723.8L1553.0 729.7L1553.9 728.8L1554.1 730.0L1556.7 723.1L1555.9 727.9L1556.4 728.3L1556.5 729.9L1557.4 728.8L1557.9 729.1L1559.4 726.0L1558.3 731.4L1559.2 730.6L1560.1 729.4L1560.6 729.7L1561.3 729.5L1561.4 731.1L1561.5 732.5L1562.1 732.4L1563.7 729.3L1564.7 728.1L1563.5 733.6L1565.1 730.3L1565.5 731.1L1565.8 732.0L1566.9 730.5L1566.2 734.3L1567.4 732.3L1569.1 729.1L1568.0 734.2L1571.7 724.9L1569.6 732.9L1569.7 734.3L1571.0 732.3L1570.5 735.6L1571.9 733.0L1574.4 727.7L1572.9 733.6L1572.5 736.3L1573.0 736.6L1576.5 728.6L1575.4 733.4L1575.4 734.8L1574.4 737.8A329 329 0 0 0 1482.2 718.8ZM1589.1 743.6L1594.5 730.7L1591.9 738.5L1590.9 742.3L1593.1 738.6L1591.5 743.7L1592.7 742.4L1593.4 742.0L1593.4 743.5L1596.1 738.7L1594.0 744.9L1599.9 732.9L1595.5 744.4L1599.2 737.3L1596.8 744.0L1601.6 734.7L1598.4 743.3L1600.1 740.8L1599.9 742.7L1601.5 740.5L1600.1 744.9L1600.4 745.7L1602.0 743.5L1603.9 740.7L1602.2 745.8L1607.1 736.5L1603.2 746.3L1606.6 740.3L1603.4 748.4L1605.4 745.5L1605.6 746.4L1605.9 747.2L1607.6 745.0L1611.2 738.8L1607.7 747.4L1610.5 742.7L1607.7 749.8L1611.9 742.6L1610.2 747.3L1611.0 746.9L1610.5 749.3L1613.2 745.2L1610.7 751.4L1610.8 752.4L1611.5 752.3L1614.4 747.8L1613.6 750.5L1617.4 744.4L1613.7 752.9L1614.4 752.7L1615.1 752.6L1615.4 753.3L1615.7 754.0L1618.2 750.4L1617.7 752.4L1617.0 754.9L1617.4 755.4L1620.0 751.7L1619.3 754.3L1619.4 755.3L1620.6 754.2L1622.6 751.7L1622.4 753.3L1626.0 747.9L1622.5 755.4L1621.9 757.7L1623.2 756.5L1623.8 756.5L1623.6 758.1L1623.8 758.9L1625.6 756.8L1628.0 753.6L1625.5 759.3L1626.5 758.6L1628.3 756.5L1629.4 755.9L1628.5 758.5L1628.5 759.6L1630.2 757.9L1632.3 755.3L1630.0 760.5L1629.7 762.0L1630.7 761.4L1630.3 763.3L1631.1 762.9L1635.6 756.4L1631.8 764.0L1633.1 762.8L1633.4 763.5L1638.8 755.7L1633.9 764.9L1636.3 762.0L1635.8 763.8L1635.1 766.0L1636.8 764.3L1636.2 766.4L1637.1 766.0L1638.6 764.7L1639.9 763.6L1640.2 764.2L1639.0 767.2L1640.5 765.8L1639.9 767.8L1640.5 768.0L1640.9 768.4L1644.7 763.5L1641.9 768.8L1642.7 768.6L1642.0 770.8L1647.2 763.8L1643.7 770.3L1644.9 769.5L1646.1 768.6L1650.3 763.3L1646.2 770.5L1645.6 772.4L1647.9 769.9L1650.8 766.7L1646.6 773.9L1648.7 771.8L1649.8 771.2L1650.8 770.7L1648.9 774.5L1655.1 766.4L1649.9 775.0L1650.8 774.7L1652.2 773.7L1657.0 767.7L1653.1 774.3L1651.8 777.2L1652.1 777.7L1653.8 776.3L1654.9 775.7L1659.6 770.0L1654.2 778.6L1658.5 773.5L1656.7 777.0L1655.5 779.7L1658.3 776.8L1658.0 778.1L1657.7 779.5L1662.1 774.4L1659.0 779.5L1661.9 776.6L1658.5 782.1L1662.8 777.3L1659.7 782.4L1665.1 776.1L1662.4 780.6L1664.8 778.4L1662.9 781.8L1668.0 776.1L1664.4 781.8L1667.1 779.2L1663.9 784.3L1663.4 785.8L1666.7 782.5L1664.6 786.1L1664.7 786.9L1668.9 782.4L1668.4 783.9L1668.8 784.4L1667.0 787.6L1667.0 788.5L1667.7 788.5L1670.0 786.5L1669.1 788.5L1670.2 788.0L1668.2 790.5A329 329 0 0 0 1589.1 743.6ZM1680.8 801.1L1689.6 791.2L1685.8 796.3L1691.4 790.9L1683.2 801.0L1689.3 795.0L1683.9 801.9L1687.8 798.4L1686.1 801.1L1687.2 800.7L1688.1 800.5L1687.1 802.4L1689.0 801.2L1693.2 797.6L1689.1 802.8L1687.5 805.3L1687.8 805.9L1695.1 798.8L1692.1 802.9L1690.5 805.4L1691.7 805.0L1696.2 801.0L1693.3 804.9L1691.3 807.9L1691.3 808.6L1691.5 809.2L1694.2 807.3L1694.8 807.4L1695.0 808.1L1693.9 810.0L1695.5 809.1L1695.6 809.8L1695.5 810.7L1699.3 807.7L1698.3 809.4L1696.5 812.1L1698.4 810.9L1696.1 814.0L1696.8 814.2L1702.6 809.2L1697.2 815.4L1704.8 808.6L1701.2 813.0L1699.8 815.1L1701.2 814.5L1704.5 812.1L1703.1 814.3L1703.8 814.4L1701.4 817.5L1708.2 811.7L1701.8 818.7L1709.3 812.3L1702.9 819.1L1705.3 817.6L1705.6 818.1L1709.3 815.4L1703.7 821.4L1709.1 817.1L1707.7 819.2L1707.5 820.2L1706.7 821.7L1710.6 818.9L1708.1 821.9L1708.9 821.9L1707.5 824.0L1707.8 824.4L1709.2 823.9L1709.9 824.1L1710.6 824.2L1708.3 827.0L1711.2 825.1L1709.9 827.1L1712.4 825.6L1716.6 822.7L1711.1 828.3L1710.9 829.2L1711.3 829.6L1712.5 829.3L1715.0 827.8L1718.6 825.4L1712.0 831.9L1712.5 832.3L1714.8 831.0L1716.8 830.0L1715.5 831.8L1721.1 827.8L1717.4 831.7L1715.5 834.0L1718.6 832.2L1719.0 832.6L1717.3 834.7L1717.1 835.6L1717.1 836.3L1718.1 836.3L1718.0 837.0L1721.9 834.6L1718.6 838.0L1720.2 837.4L1718.7 839.3L1719.3 839.6L1722.6 837.6L1723.1 838.0L1721.5 840.0L1721.1 841.0L1724.3 839.2L1721.0 842.5L1724.2 840.7L1721.9 843.2L1722.9 843.1L1726.3 841.2L1724.3 843.5L1729.0 840.5L1725.4 844.0L1729.6 841.5L1724.1 846.4L1726.6 845.2L1725.6 846.7L1728.9 844.8L1726.8 847.1L1726.4 848.2L1726.3 848.9L1726.7 849.3L1726.7 850.0L1732.5 846.4L1731.0 848.2L1732.6 847.7L1728.6 851.4L1733.5 848.5L1730.5 851.4L1731.2 851.6L1732.3 851.4L1731.7 852.6L1731.0 853.8L1730.6 854.8L1731.4 854.9L1739.1 850.1L1733.0 855.1L1737.9 852.3L1733.7 856.0L1734.3 856.3L1733.8 857.3L1737.1 855.7L1734.2 858.3L1737.8 856.5L1733.7 860.0L1737.3 858.3L1734.7 860.7L1738.7 858.6L1737.0 860.5L1743.5 856.8L1739.0 860.5L1743.9 857.9L1737.9 862.6L1738.9 862.6L1740.2 862.4L1738.1 864.5L1738.9 864.6L1738.2 865.7L1741.3 864.4L1745.0 862.6L1742.3 865.0L1740.5 866.9L1742.6 866.2L1738.8 868.6A329 329 0 0 0 1680.8 801.1ZM1747.5 882.8L1756.5 877.7L1751.2 881.4L1753.7 880.6L1753.2 881.5L1754.6 881.4L1754.5 882.1L1761.0 879.1L1751.8 884.9L1756.4 883.0L1752.7 885.7L1761.6 881.4L1755.5 885.4L1755.7 885.9L1753.4 887.9L1755.2 887.5L1755.5 888.0L1760.0 886.2L1755.8 889.1L1758.7 888.2L1756.6 890.0L1753.5 892.2L1756.0 891.5L1761.8 889.1L1757.9 891.8L1763.8 889.3L1755.7 894.2L1765.7 889.7L1760.1 893.2L1762.3 892.7L1759.8 894.6L1757.9 896.2L1757.0 897.3L1758.6 897.1L1759.3 897.4L1767.1 894.1L1758.9 898.9L1768.0 894.9L1761.8 898.7L1758.4 901.0L1758.2 901.7L1769.7 896.6L1761.1 901.5L1767.5 899.0L1763.4 901.6L1762.5 902.7L1759.6 904.7L1769.5 900.6L1764.7 903.5L1764.5 904.3L1763.8 905.2L1761.0 907.1L1765.6 905.6L1767.8 905.2L1766.3 906.5L1769.1 905.8L1763.6 909.0L1763.9 909.4L1764.9 909.6L1772.1 907.0L1765.4 910.6L1768.7 909.7L1764.3 912.3L1765.0 912.7L1764.9 913.3L1767.0 913.0L1766.5 913.8L1774.7 910.8L1765.9 915.3L1767.1 915.4L1768.6 915.3L1775.5 913.0L1766.6 917.4L1768.7 917.1L1767.9 918.1L1766.8 919.2L1766.8 919.8L1772.3 918.1L1767.9 920.5L1769.3 920.5L1771.1 920.4L1772.4 920.5L1770.3 921.9L1774.7 920.7L1771.6 922.6L1778.2 920.6L1773.1 923.2L1769.8 925.2L1772.4 924.7L1769.4 926.5L1769.8 926.9L1772.0 926.7L1770.3 928.0L1771.4 928.1L1771.2 928.8L1778.9 926.5L1774.2 928.8L1775.8 928.8L1773.5 930.3L1778.9 928.9L1774.0 931.3L1772.2 932.6L1773.8 932.6L1773.8 933.2L1774.2 933.6L1782.7 931.2L1773.3 935.1L1775.8 934.8L1775.5 935.5L1779.8 934.6L1774.6 937.1L1777.3 936.7L1775.9 937.8L1783.6 935.7L1774.1 939.6L1783.5 936.9L1776.8 939.8L1784.1 937.9L1776.4 941.1L1781.5 940.0L1775.0 942.8L1777.3 942.6L1778.3 942.9L1778.7 943.3L1778.1 944.1L1786.3 942.1L1778.6 945.1L1783.1 944.3L1779.0 946.2L1779.0 946.8L1781.3 946.6L1780.6 947.4L1777.1 949.1L1781.4 948.4L1779.3 949.6L1779.5 950.1L1779.6 950.7L1778.6 951.6L1782.4 951.0L1783.4 951.3L1779.6 953.0L1784.0 952.3L1781.4 953.7L1782.6 953.9L1782.7 954.4L1783.6 954.8L1783.5 955.4L1787.3 954.9L1782.8 956.8L1781.3 957.8L1783.1 957.8L1790.4 956.4L1783.9 958.8L1780.8 960.2L1781.7 960.5L1780.7 961.4L1783.8 961.1L1790.2 960.0L1784.2 962.2L1788.0 961.8L1783.8 963.4L1780.9 964.2A329 329 0 0 0 1747.5 882.8ZM1784.8 981.4L1794.1 979.5L1788.4 981.2L1795.2 980.4L1786.4 982.8L1791.2 982.4L1789.3 983.4L1786.7 984.4L1789.1 984.5L1797.4 983.5L1786.7 986.1L1795.3 985.1L1790.4 986.6L1797.5 985.8L1792.0 987.4L1794.4 987.6L1790.1 988.9L1792.5 989.1L1789.4 990.2L1794.3 989.9L1789.1 991.4L1797.1 990.6L1790.4 992.3L1792.6 992.5L1790.4 993.4L1796.3 993.0L1792.4 994.2L1797.9 993.9L1791.9 995.5L1790.8 996.2L1788.1 997.2L1789.6 997.5L1788.7 998.2L1794.4 997.9L1788.8 999.3L1794.1 999.1L1792.8 999.9L1793.9 1000.3L1793.6 1000.9L1793.0 1001.6L1791.6 1002.3L1792.0 1002.8L1789.8 1003.7L1796.1 1003.4L1789.9 1004.8L1791.0 1005.2L1790.9 1005.8L1798.3 1005.5L1794.9 1006.5L1792.0 1007.4L1790.9 1008.1L1801.9 1007.3L1793.0 1009.0L1799.6 1008.8L1795.4 1009.8L1798.0 1010.1L1791.3 1011.4L1802.4 1010.8L1795.1 1012.1L1790.4 1013.2L1795.6 1013.2L1798.2 1013.5L1791.6 1014.7L1796.0 1014.9L1792.1 1015.8L1800.1 1015.6L1792.8 1016.9L1791.6 1017.5L1795.6 1017.8L1794.6 1018.4L1791.7 1019.2L1799.4 1019.1L1791.5 1020.4L1798.2 1020.4L1793.4 1021.3L1792.4 1022.0L1796.3 1022.2L1799.6 1022.6L1791.4 1023.7L1802.4 1023.5L1794.8 1024.6L1801.4 1024.7L1795.5 1025.7L1793.2 1026.4L1793.0 1027.0L1793.3 1027.5L1795.9 1027.9L1803.3 1028.1L1794.6 1029.1L1799.6 1029.4L1797.0 1030.1L1797.8 1030.7L1794.0 1031.4L1794.8 1031.9L1797.1 1032.4L1793.0 1033.1L1792.7 1033.7L1802.3 1033.9L1791.8 1034.9L1794.0 1035.3L1794.7 1035.9L1794.5 1036.4L1793.9 1037.0L1792.2 1037.6L1795.5 1038.1L1792.7 1038.7L1793.4 1039.3L1793.0 1039.8L1795.7 1040.3L1794.4 1040.9L1795.0 1041.5L1792.4 1042.1L1795.1 1042.6L1795.9 1043.2L1797.0 1043.7L1794.1 1044.3L1793.6 1044.9L1802.8 1045.4L1792.2 1046.0L1797.8 1046.5L1794.6 1047.1L1795.3 1047.7L1792.8 1048.2L1797.9 1048.8L1792.1 1049.3L1792.2 1049.9L1793.5 1050.5L1796.4 1051.1L1793.3 1051.6L1800.6 1052.2L1794.2 1052.7L1799.3 1053.4L1795.2 1053.9L1800.6 1054.5L1797.1 1055.0L1798.6 1055.6L1795.7 1056.1L1798.5 1056.8L1792.2 1057.1L1802.2 1058.0L1794.7 1058.3L1792.3 1058.8L1795.9 1059.5L1797.7 1060.1L1797.0 1060.7L1796.6 1061.2L1794.2 1061.7L1802.8 1062.6L1796.8 1062.9L1801.1 1063.7L1794.0 1063.9L1796.6 1064.6L1795.6 1065.1L1802.7 1066.1L1793.9 1066.2L1800.0 1067.1L1794.4 1067.3L1797.9 1068.1L1792.4 1068.3L1794.5 1069.0L1790.8 1068.8A329 329 0 0 0 1784.8 981.4ZM1789.2 1086.0L1792.6 1086.4L1795.0 1087.2L1789.9 1087.2L1790.6 1087.8L1791.7 1088.5L1793.8 1089.4L1797.4 1090.4L1790.8 1090.1L1790.3 1090.6L1792.7 1091.5L1798.1 1092.8L1792.4 1092.6L1797.5 1093.8L1792.0 1093.6L1789.1 1093.8L1792.9 1094.9L1799.3 1096.4L1789.3 1095.5L1792.8 1096.6L1793.7 1097.3L1800.3 1098.9L1792.6 1098.3L1798.4 1099.7L1788.7 1098.8L1798.6 1100.9L1792.2 1100.5L1789.9 1100.7L1792.6 1101.7L1797.4 1103.1L1792.4 1102.8L1798.4 1104.4L1787.6 1103.1L1789.0 1103.9L1791.4 1104.9L1788.8 1105.0L1788.7 1105.6L1796.3 1107.5L1791.1 1107.1L1791.1 1107.7L1788.6 1107.8L1794.7 1109.5L1791.7 1109.5L1793.6 1110.5L1787.9 1110.0L1788.6 1110.7L1786.8 1110.9L1793.0 1112.7L1789.5 1112.6L1787.9 1112.8L1789.4 1113.7L1792.4 1114.9L1788.2 1114.6L1791.2 1115.8L1787.1 1115.5L1785.0 1115.6L1787.6 1116.7L1792.5 1118.4L1789.3 1118.2L1796.3 1120.4L1787.7 1119.1L1785.8 1119.2L1788.6 1120.4L1788.6 1121.0L1788.9 1121.6L1795.2 1123.6L1783.9 1121.6L1783.9 1122.2L1783.4 1122.7L1791.1 1125.0L1785.6 1124.3L1790.2 1126.0L1784.4 1125.2L1789.5 1127.0L1782.9 1126.0L1784.6 1126.9L1786.1 1127.9L1784.6 1128.1L1782.5 1128.1L1789.4 1130.5L1786.9 1130.4L1792.9 1132.5L1786.1 1131.4L1789.7 1132.9L1781.1 1131.2L1782.6 1132.2L1783.9 1133.1L1786.8 1134.5L1785.0 1134.6L1780.7 1134.0L1783.5 1135.3L1780.9 1135.2L1783.9 1136.6L1780.7 1136.3L1782.2 1137.3L1788.6 1139.7L1784.6 1139.1L1788.6 1140.9L1783.2 1139.9L1782.2 1140.2L1782.1 1140.8L1784.8 1142.1L1781.0 1141.6L1785.1 1143.4L1780.4 1142.6L1782.1 1143.7L1781.8 1144.2L1785.1 1145.8L1782.6 1145.6L1788.4 1148.0L1781.3 1146.4L1778.1 1146.0L1779.4 1147.0L1782.2 1148.4L1780.6 1148.5L1787.1 1151.2L1777.1 1148.6L1776.1 1148.8L1780.3 1150.8L1787.3 1153.7L1777.1 1150.9L1782.1 1153.2L1777.0 1152.1L1779.1 1153.4L1778.0 1153.6L1782.5 1155.7L1779.1 1155.1L1778.2 1155.4L1776.6 1155.4L1778.8 1156.8L1778.8 1157.4L1779.3 1158.2L1778.1 1158.3L1784.6 1161.2L1773.0 1157.7L1781.7 1161.4L1773.0 1158.9L1777.9 1161.3L1775.4 1161.0L1772.8 1160.6L1774.7 1161.9L1779.5 1164.3L1773.1 1162.5L1777.2 1164.6L1773.0 1163.7L1772.4 1164.0L1771.9 1164.4L1781.4 1168.7L1773.5 1166.2L1776.1 1167.8L1774.0 1167.6L1779.3 1170.3L1773.3 1168.6L1773.6 1169.3L1771.8 1169.2L1772.3 1170.0L1768.4 1168.4A329 329 0 0 0 1789.2 1086.0ZM1761.7 1184.1L1762.8 1184.6L1766.5 1186.9L1762.5 1185.6L1763.3 1186.6L1770.8 1190.7L1762.5 1187.5L1771.0 1192.1L1760.5 1187.8L1761.8 1189.0L1762.2 1189.8L1766.7 1192.6L1763.5 1191.7L1769.4 1195.1L1763.1 1192.7L1760.7 1192.2L1763.5 1194.2L1758.8 1192.5L1760.4 1193.9L1761.5 1195.1L1757.6 1193.8L1759.4 1195.3L1762.0 1197.2L1767.8 1200.7L1758.3 1196.6L1767.6 1201.9L1759.7 1198.6L1756.2 1197.4L1758.5 1199.2L1757.4 1199.3L1756.4 1199.4L1762.6 1203.3L1755.5 1200.2L1757.9 1202.1L1754.0 1200.7L1757.1 1202.9L1755.0 1202.4L1754.4 1202.7L1753.4 1202.9L1756.9 1205.4L1752.8 1203.8L1762.5 1209.7L1753.2 1205.2L1755.4 1207.1L1751.7 1205.7L1760.0 1210.9L1751.8 1207.0L1751.4 1207.4L1752.1 1208.5L1760.1 1213.6L1754.2 1211.0L1754.4 1211.7L1752.0 1211.0L1749.7 1210.3L1753.1 1212.9L1756.5 1215.5L1749.3 1212.0L1756.9 1217.1L1748.3 1212.7L1752.3 1215.7L1748.4 1214.1L1752.7 1217.2L1747.6 1214.9L1751.8 1218.0L1747.1 1215.9L1745.9 1215.8L1745.8 1216.4L1753.4 1221.6L1746.9 1218.4L1749.7 1220.7L1747.3 1219.9L1746.4 1220.0L1744.5 1219.5L1747.4 1222.0L1746.6 1222.1L1750.4 1225.1L1744.6 1222.2L1748.4 1225.2L1743.0 1222.5L1751.7 1228.6L1744.3 1224.6L1749.4 1228.6L1742.4 1224.8L1746.3 1227.9L1743.4 1226.8L1745.2 1228.5L1743.0 1227.9L1741.8 1227.7L1742.6 1228.9L1741.7 1229.0L1740.7 1229.0L1739.3 1228.8L1739.5 1229.6L1746.6 1234.9L1737.2 1229.3L1738.5 1230.9L1738.9 1231.9L1742.8 1235.1L1739.0 1233.2L1742.5 1236.3L1738.5 1234.3L1740.9 1236.6L1735.3 1233.4L1739.7 1237.1L1735.2 1234.7L1733.8 1234.4L1735.6 1236.4L1743.1 1242.3L1734.8 1237.2L1740.1 1241.5L1734.9 1238.6L1732.1 1237.3L1733.9 1239.3L1741.3 1245.2L1733.7 1240.5L1733.3 1240.9L1734.2 1242.3L1736.5 1244.6L1733.7 1243.3L1737.7 1246.9L1731.4 1243.0L1733.0 1244.8L1730.5 1243.7L1730.8 1244.7L1731.3 1245.7L1728.4 1244.2L1731.3 1247.1L1729.7 1246.6L1728.1 1246.1L1731.8 1249.6L1726.9 1246.6L1731.1 1250.5L1725.1 1246.6L1733.2 1253.5L1724.6 1247.7L1732.5 1254.4L1727.3 1251.1L1730.9 1254.6L1726.1 1251.7L1724.2 1250.8L1724.6 1251.9L1722.4 1250.9L1724.7 1253.4L1728.8 1257.3L1721.7 1252.4L1724.6 1255.4L1720.5 1252.9L1726.1 1258.1L1722.4 1255.9L1719.6 1254.3L1721.3 1256.4L1726.9 1261.7L1718.7 1255.8L1726.5 1262.8L1718.5 1257.0L1717.2 1256.6L1716.9 1257.2L1716.3 1256.6A329 329 0 0 0 1761.7 1184.1ZM1705.9 1268.6L1713.1 1275.2L1706.6 1270.0L1713.4 1277.0L1706.9 1271.7L1705.4 1271.2L1707.7 1274.0L1706.7 1273.9L1704.1 1272.2L1703.3 1272.3L1704.0 1273.7L1706.4 1276.7L1704.0 1275.2L1706.8 1278.6L1701.6 1274.5L1701.0 1274.7L1704.1 1278.4L1703.8 1278.9L1702.6 1278.6L1707.4 1284.0L1701.3 1278.9L1705.1 1283.4L1699.1 1278.2L1699.5 1279.5L1699.4 1280.2L1705.9 1287.3L1700.5 1282.8L1698.1 1281.2L1698.4 1282.2L1697.8 1282.5L1696.5 1281.9L1697.0 1283.2L1698.2 1285.3L1697.1 1284.9L1695.3 1283.9L1693.8 1283.2L1696.0 1286.3L1693.0 1284.0L1695.1 1287.0L1693.4 1286.0L1692.0 1285.3L1691.1 1285.2L1691.6 1286.6L1698.2 1294.3L1690.9 1287.4L1691.8 1289.2L1691.5 1289.7L1690.1 1289.0L1690.8 1290.6L1695.8 1296.8L1690.3 1291.7L1687.0 1289.0L1689.2 1292.2L1692.5 1296.6L1688.4 1293.0L1689.8 1295.3L1685.0 1290.9L1689.8 1297.0L1686.0 1293.6L1687.3 1295.9L1685.8 1295.2L1683.9 1293.9L1683.5 1294.3L1686.8 1298.9L1684.6 1297.2L1689.2 1303.2L1683.7 1297.9L1682.1 1296.9L1681.2 1296.7L1683.4 1300.1L1680.5 1297.6L1679.0 1296.8L1679.3 1297.9L1685.2 1305.7L1678.5 1298.7L1683.9 1305.9L1679.5 1301.6L1679.8 1302.9L1678.7 1302.5L1683.0 1308.4L1674.6 1299.3L1678.8 1305.1L1677.1 1304.1L1675.6 1303.1L1674.1 1302.3L1673.5 1302.4L1675.1 1305.2L1675.9 1307.1L1673.2 1304.7L1675.3 1308.1L1673.4 1306.7L1673.8 1308.0L1671.3 1305.9L1672.3 1308.0L1669.7 1305.7L1675.8 1314.1L1669.9 1307.7L1670.9 1309.9L1667.1 1306.0L1671.2 1312.1L1666.1 1306.5L1669.0 1311.1L1665.8 1307.9L1667.5 1311.0L1664.9 1308.6L1665.3 1310.1L1664.8 1310.3L1663.7 1309.8L1663.3 1310.1L1667.4 1316.4L1661.9 1310.1L1667.5 1318.5L1662.0 1312.2L1661.7 1312.7L1662.3 1314.5L1662.0 1314.9L1660.1 1313.3L1658.5 1312.2L1658.6 1313.1L1664.5 1322.2L1658.7 1315.2L1659.7 1317.5L1658.1 1316.3L1656.3 1314.9L1655.8 1315.0L1661.1 1323.4L1656.4 1317.8L1656.1 1318.3L1656.3 1319.6L1655.0 1318.7L1654.0 1318.3L1657.7 1324.6L1654.4 1320.8L1653.1 1319.9L1653.9 1322.1L1651.7 1319.8L1650.7 1319.4L1652.9 1323.6L1650.7 1321.4L1652.1 1324.5L1649.5 1321.6L1653.0 1327.8L1647.9 1321.2L1649.5 1324.7L1648.3 1323.8L1651.9 1330.3L1646.0 1322.5L1647.1 1325.1L1645.8 1324.1L1645.6 1324.8L1643.6 1321.9A329 329 0 0 0 1705.9 1268.6ZM1629.7 1330.5L1633.1 1336.2L1632.1 1335.7L1630.3 1333.8L1630.8 1335.8L1633.6 1341.7L1628.9 1334.7L1629.1 1336.2L1626.9 1333.4L1629.4 1338.9L1627.9 1337.5L1627.3 1337.6L1625.3 1335.2L1629.2 1343.2L1624.1 1335.3L1626.5 1340.7L1624.8 1338.8L1625.2 1340.7L1622.5 1337.0L1624.7 1342.2L1621.6 1337.8L1624.2 1343.6L1621.9 1340.6L1624.0 1345.7L1620.8 1341.0L1619.0 1338.7L1618.5 1339.0L1621.2 1345.2L1618.5 1341.4L1621.6 1348.4L1617.0 1340.9L1615.7 1339.7L1615.0 1339.6L1614.6 1340.1L1615.2 1342.5L1615.1 1343.4L1612.9 1340.5L1617.6 1350.7L1612.0 1341.1L1613.2 1344.7L1612.8 1345.2L1614.1 1349.1L1610.4 1342.9L1614.8 1353.0L1610.0 1344.6L1612.9 1351.8L1608.9 1344.9L1610.9 1350.2L1609.2 1348.1L1606.7 1344.2L1607.2 1346.6L1608.5 1350.5L1607.2 1349.2L1607.5 1351.1L1604.5 1346.1L1604.0 1346.4L1604.2 1348.0L1603.1 1347.2L1602.7 1347.5L1606.4 1356.9L1601.2 1347.1L1601.3 1348.6L1601.4 1350.0L1601.8 1352.4L1600.9 1351.7L1599.9 1350.8L1599.5 1351.4L1599.3 1352.3L1599.0 1353.1L1600.9 1358.8L1596.2 1349.4L1597.0 1352.7L1595.8 1351.3L1596.5 1354.3L1595.0 1352.4L1596.6 1357.4L1593.0 1350.6L1595.3 1357.3L1593.5 1354.5L1593.0 1355.0L1591.2 1352.1L1591.2 1353.6L1590.9 1354.2L1589.6 1352.6L1589.0 1352.6L1589.4 1355.0L1589.0 1355.5L1590.5 1360.7L1587.6 1355.2L1586.6 1354.2L1586.2 1354.6L1585.2 1353.7L1586.5 1358.4L1585.9 1358.5L1585.1 1358.0L1583.9 1356.5L1582.9 1355.5L1582.4 1355.8L1582.1 1356.5L1583.8 1362.5L1581.4 1357.7L1581.1 1358.6L1579.5 1355.9L1579.8 1358.4L1579.7 1359.7L1578.4 1357.7L1579.1 1361.2L1580.3 1366.0L1576.4 1357.3L1575.6 1356.8L1576.6 1361.1L1574.7 1357.5L1575.3 1360.7L1575.5 1363.1L1573.7 1359.7L1574.8 1364.4L1571.9 1358.0L1574.5 1366.9L1572.4 1362.7L1570.5 1359.0L1570.3 1360.1L1572.7 1368.8L1569.1 1360.0L1568.8 1360.8L1569.1 1363.6L1571.1 1371.4L1568.4 1365.0L1566.8 1362.0L1565.8 1360.8L1565.1 1360.5L1564.7 1361.0L1565.2 1364.3L1565.1 1365.9L1565.8 1369.9L1562.7 1362.1L1563.3 1365.8L1562.2 1364.4L1561.3 1363.4L1560.4 1362.1L1560.4 1364.0L1559.7 1363.7L1559.1 1361.7A329 329 0 0 0 1629.7 1330.5ZM1543.9 1366.0L1544.1 1366.9L1544.8 1371.8L1545.9 1378.6L1543.0 1369.4L1543.1 1371.9L1542.0 1370.1L1543.2 1377.3L1540.7 1369.6L1542.4 1378.7L1540.3 1372.8L1539.3 1370.9L1538.8 1371.0L1540.2 1379.7L1537.3 1369.8L1539.2 1380.5L1536.5 1371.1L1537.1 1376.5L1534.9 1369.1L1535.2 1373.3L1534.4 1372.4L1533.6 1371.3L1533.7 1374.4L1533.0 1373.8L1532.1 1372.4L1532.9 1378.9L1530.7 1371.3L1531.6 1378.1L1530.1 1373.8L1530.7 1379.3L1528.5 1371.7L1528.4 1374.0L1527.7 1373.4L1527.6 1375.6L1526.5 1373.0L1526.8 1377.3L1525.7 1374.8L1524.7 1372.4L1524.0 1372.0L1523.5 1372.4L1523.2 1373.9L1522.6 1373.5L1522.5 1376.4L1521.5 1373.7L1520.9 1373.9L1521.6 1380.9L1519.7 1373.2L1519.0 1372.7L1518.5 1373.1L1519.2 1380.5L1517.5 1374.0L1518.6 1383.9L1516.2 1373.1L1516.1 1375.8L1515.4 1375.1L1515.1 1376.4L1514.2 1374.2L1513.5 1373.9L1513.2 1375.5L1513.6 1382.0L1512.0 1375.0L1513.0 1385.3L1511.1 1376.5L1510.7 1377.4L1509.8 1375.3L1509.4 1376.5L1508.4 1373.9L1508.6 1379.1L1507.7 1376.5L1508.0 1383.4L1506.2 1374.1L1505.7 1374.2L1505.7 1378.9L1505.0 1378.1L1504.5 1378.0L1504.8 1385.0L1503.0 1375.7L1502.5 1376.2L1502.2 1378.6L1501.6 1377.9L1500.9 1377.2L1500.1 1374.7L1499.9 1377.8L1499.5 1379.8L1498.5 1375.8L1498.1 1376.9L1497.8 1379.9L1497.9 1386.1L1496.4 1376.6L1496.0 1378.6L1495.3 1376.9L1494.9 1379.1L1494.2 1377.2L1494.5 1387.2L1492.8 1375.3L1492.7 1379.5L1492.0 1378.4L1491.8 1382.8L1490.8 1377.3L1490.8 1384.3L1489.7 1377.9L1489.1 1377.3L1488.8 1380.7L1488.0 1378.0L1487.6 1379.6L1487.6 1387.4L1486.2 1376.7L1486.3 1385.2L1485.3 1380.2L1484.8 1380.0L1484.3 1381.0L1483.5 1377.6L1483.0 1378.9L1483.0 1388.4L1481.9 1379.0L1481.8 1387.1L1480.7 1378.4L1480.5 1384.1L1479.6 1378.9L1479.3 1385.0L1478.6 1380.3L1478.2 1385.1L1477.4 1380.5L1476.8 1378.8L1476.3 1380.0L1476.0 1386.2L1475.2 1380.6L1474.5 1378.5L1474.0 1379.5L1473.3 1376.7L1472.9 1381.9L1472.4 1384.4L1471.7 1377.9L1471.3 1383.8L1470.6 1378.3L1470.1 1383.3L1469.5 1381.0L1469.1 1387.3L1468.4 1382.1L1468.3 1376.1A329 329 0 0 0 1543.9 1366.0ZM1452.3 1376.0L1452.1 1384.5L1451.7 1379.4L1451.0 1382.6L1450.6 1377.2L1450.1 1376.9L1449.3 1381.3L1448.5 1388.7L1448.2 1381.0L1447.8 1378.5L1447.2 1379.8L1446.7 1378.5L1446.1 1378.0L1445.1 1386.0L1444.8 1381.4L1444.5 1376.4L1443.7 1380.5L1442.9 1384.8L1442.6 1379.9L1442.2 1377.7L1441.6 1377.9L1440.6 1385.1L1440.6 1377.0L1440.0 1377.8L1439.3 1378.5L1438.8 1377.7L1438.3 1377.2L1437.7 1377.5L1437.2 1376.8L1436.7 1376.8L1436.0 1377.9L1435.3 1379.5L1435.0 1376.2L1434.4 1377.5L1433.8 1377.6L1433.3 1376.2L1432.7 1376.9L1432.3 1375.8L1431.4 1379.3L1431.1 1376.5L1430.4 1377.7L1429.9 1376.6L1429.2 1378.8L1427.7 1387.2L1428.0 1378.8L1427.8 1375.8L1427.2 1375.8L1426.6 1376.6L1425.7 1379.5L1425.6 1375.5L1424.6 1378.7L1423.5 1383.9L1423.5 1379.0L1422.9 1379.3L1422.6 1376.5L1421.8 1378.3L1421.3 1377.7L1420.5 1379.8L1420.2 1377.9L1419.5 1379.1L1419.0 1378.5L1418.1 1381.0L1418.3 1375.2L1417.3 1378.6L1417.2 1374.8L1415.2 1384.9L1416.2 1373.6L1415.0 1378.0L1414.8 1375.6L1413.5 1380.4L1414.0 1373.6L1412.3 1381.1L1412.9 1373.6L1411.9 1376.0L1411.6 1374.4L1411.2 1373.5L1409.9 1378.1L1410.1 1373.2L1408.9 1377.3L1407.8 1380.6L1407.7 1377.3L1406.8 1379.2L1407.0 1375.0L1406.0 1377.1L1405.9 1374.8L1405.2 1375.5L1405.1 1372.6L1403.5 1378.5L1403.4 1375.8L1401.4 1383.5L1402.2 1376.2L1401.2 1378.4L1401.8 1372.1L1400.2 1377.6L1400.7 1371.7L1398.3 1381.3L1399.0 1374.7L1398.4 1374.9L1398.4 1372.1L1396.0 1381.2L1397.1 1372.6L1396.9 1371.0L1395.8 1373.6L1395.0 1374.7L1395.3 1370.3L1392.7 1380.1L1394.1 1370.6L1393.3 1371.5L1392.6 1372.1L1392.1 1372.0L1391.8 1370.8L1390.5 1374.2L1389.9 1373.9L1389.0 1375.7L1389.5 1370.9L1387.1 1378.5L1387.7 1373.4L1385.8 1379.4L1387.8 1368.2L1385.0 1377.7L1385.7 1372.0L1384.2 1376.2L1384.7 1371.5L1383.2 1375.2L1384.3 1368.4L1381.2 1378.5L1382.4 1371.3L1382.3 1369.6L1381.7 1369.6L1381.3 1368.7L1381.0 1367.7L1378.9 1373.7L1380.1 1366.9L1379.6 1366.3L1378.3 1369.2L1376.7 1373.0L1378.7 1365.4A329 329 0 0 0 1452.3 1376.0ZM1362.8 1360.7L1359.2 1372.0L1362.1 1361.1L1360.5 1364.3L1360.9 1361.2L1357.0 1371.4L1358.6 1364.6L1359.0 1361.8L1358.1 1362.4L1355.8 1367.8L1356.8 1362.9L1355.5 1364.9L1355.9 1362.1L1355.6 1361.3L1355.7 1359.2L1354.7 1360.4L1353.8 1361.2L1353.7 1359.9L1352.1 1362.8L1352.1 1361.2L1352.6 1357.8L1349.5 1365.0L1350.4 1360.9L1348.0 1365.9L1349.7 1359.4L1346.1 1367.7L1348.2 1360.2L1344.9 1367.5L1346.9 1360.4L1346.8 1359.1L1346.6 1358.1L1346.1 1357.9L1345.1 1358.8L1344.2 1359.6L1344.4 1357.5L1343.3 1358.9L1344.0 1355.6L1341.2 1361.2L1341.8 1358.1L1341.3 1357.9L1342.0 1354.5L1339.0 1360.7L1339.9 1356.7L1338.2 1359.4L1338.5 1357.4L1335.2 1363.9L1337.5 1356.6L1335.9 1359.2L1336.1 1357.1L1335.0 1358.3L1336.0 1354.5L1335.7 1353.8L1335.4 1353.0L1333.9 1355.1L1334.5 1352.3L1333.3 1353.7L1333.6 1351.5L1333.0 1351.4L1331.8 1352.9L1330.4 1354.6L1330.2 1353.8L1327.9 1357.6L1328.9 1354.0L1325.8 1359.5L1329.7 1349.3L1326.2 1355.9L1326.8 1353.1L1328.0 1349.0L1327.6 1348.6L1327.2 1348.0L1326.5 1348.3L1321.4 1358.1L1323.8 1351.4L1324.7 1348.2L1324.9 1346.5L1323.8 1347.4L1321.8 1350.4L1321.7 1349.2L1321.5 1348.4L1320.5 1349.1L1320.8 1347.2L1318.0 1351.9L1318.6 1349.4L1320.0 1345.1L1318.8 1346.2L1315.5 1351.8L1316.9 1347.6L1315.0 1350.3L1317.1 1344.5L1317.1 1343.3L1316.3 1343.8L1313.3 1348.5L1313.6 1346.7L1312.1 1348.3L1313.3 1344.7L1312.3 1345.5L1311.9 1344.9L1307.8 1351.9L1311.6 1343.0L1308.8 1347.4L1310.5 1342.8L1310.0 1342.5L1308.5 1344.2L1310.0 1340.2L1308.8 1341.2L1304.0 1349.2L1307.4 1341.4L1306.2 1342.4L1307.4 1339.1L1305.4 1341.7L1305.0 1341.3L1302.5 1344.7L1304.3 1340.1L1299.7 1347.3L1304.0 1338.3L1302.9 1339.2L1302.3 1339.0L1297.9 1346.0L1301.1 1338.9L1297.3 1344.6L1299.8 1339.0L1301.4 1335.0L1299.3 1337.5L1299.2 1336.6L1298.2 1337.1L1294.8 1342.1L1299.8 1333.2A329 329 0 0 0 1362.8 1360.7ZM1285.9 1324.8L1280.3 1333.6L1284.7 1325.7L1282.4 1328.3L1283.8 1325.0L1278.2 1332.6L1281.2 1327.0L1279.2 1329.0L1280.7 1325.6L1277.0 1330.4L1280.1 1324.5L1279.9 1323.9L1277.6 1326.3L1274.8 1329.5L1278.1 1323.5L1275.4 1326.5L1278.1 1321.5L1276.7 1322.5L1277.6 1320.2L1272.7 1326.4L1274.3 1323.1L1274.7 1321.5L1275.3 1319.6L1272.5 1322.6L1274.1 1319.4L1269.2 1325.4L1273.3 1318.5L1271.9 1319.6L1271.9 1318.6L1266.5 1325.3L1270.0 1319.4L1271.0 1316.9L1270.9 1316.1L1270.5 1315.7L1268.3 1317.9L1265.3 1321.0L1269.0 1314.9L1267.2 1316.5L1265.8 1317.4L1267.8 1313.7L1265.3 1316.2L1261.2 1320.9L1264.7 1315.2L1264.2 1314.9L1263.5 1314.9L1258.5 1320.5L1263.2 1313.4L1260.0 1316.6L1262.1 1312.9L1256.6 1319.2L1260.0 1313.9L1257.9 1315.7L1260.7 1311.0L1261.1 1309.7L1259.8 1310.3L1258.0 1311.8L1258.3 1310.5L1256.6 1311.8L1258.9 1307.9L1257.9 1308.3L1256.3 1309.4L1254.1 1311.2L1255.3 1308.8L1256.2 1306.8L1255.5 1306.7L1255.8 1305.5L1255.6 1304.8L1253.2 1306.9L1254.4 1304.5L1247.3 1312.3L1254.1 1303.1L1250.2 1307.1L1253.3 1302.3L1246.1 1310.2L1252.4 1301.7L1245.5 1309.1L1250.8 1301.9L1248.8 1303.4L1250.7 1300.2L1245.7 1305.3L1249.9 1299.4L1244.5 1305.0L1247.4 1300.6L1246.8 1300.4L1246.1 1300.4L1242.4 1303.9L1247.4 1297.2L1239.7 1305.2L1243.6 1299.9L1239.9 1303.3L1242.6 1299.4L1242.9 1298.1L1244.7 1295.2L1241.3 1298.2L1240.9 1297.8L1238.3 1299.9L1243.1 1293.7L1236.8 1299.8L1239.6 1295.9L1238.5 1296.2L1239.4 1294.4L1234.0 1299.5L1239.4 1292.7L1233.9 1297.9L1238.0 1292.6L1233.1 1297.1L1236.1 1293.0L1237.7 1290.4L1237.8 1289.5L1233.2 1293.6L1236.4 1289.4L1234.9 1290.1L1236.9 1287.2L1232.8 1290.7L1232.2 1290.5L1232.3 1289.6L1234.4 1286.5L1231.8 1288.5L1232.1 1287.3L1233.8 1284.8L1233.0 1284.8L1228.8 1288.3L1231.4 1284.8L1226.5 1289.1L1231.5 1283.1L1231.1 1282.7L1227.6 1285.4L1231.5 1281.5A329 329 0 0 0 1285.9 1324.8ZM1220.7 1270.3L1213.5 1276.9L1217.3 1272.6L1214.2 1274.7L1218.4 1270.0L1217.6 1270.1L1216.6 1270.2L1211.9 1273.7L1215.8 1269.4L1212.9 1271.3L1216.7 1267.1L1207.7 1274.4L1215.2 1266.9L1212.4 1268.6L1212.1 1268.1L1206.1 1272.6L1213.2 1265.7L1210.3 1267.4L1210.5 1266.6L1209.2 1266.9L1212.8 1263.0L1211.0 1263.8L1211.1 1263.0L1212.0 1261.5L1211.6 1261.1L1202.9 1267.8L1207.5 1263.1L1202.8 1266.3L1209.1 1260.3L1206.9 1261.4L1205.6 1261.7L1208.8 1258.4L1207.1 1259.0L1205.3 1259.8L1205.0 1259.3L1201.4 1261.6L1203.2 1259.3L1197.7 1263.1L1204.2 1257.0L1197.5 1261.7L1203.5 1256.1L1203.9 1255.1L1203.2 1254.9L1202.6 1254.7L1200.7 1255.5L1196.5 1258.0L1203.6 1251.8L1197.4 1255.9L1200.5 1252.8L1195.4 1256.0L1202.0 1250.1L1196.7 1253.5L1201.5 1249.1L1197.6 1251.4L1199.7 1249.1L1197.6 1250.0L1198.8 1248.4L1195.3 1250.3L1199.4 1246.5L1194.5 1249.5L1198.9 1245.4L1192.0 1249.9L1198.4 1244.4L1193.6 1247.3L1197.9 1243.4L1189.7 1248.7L1193.0 1245.6L1189.5 1247.5L1194.5 1243.1L1191.8 1244.4L1192.5 1243.2L1194.8 1240.8L1193.6 1240.9L1190.2 1242.7L1193.8 1239.4L1189.8 1241.6L1192.3 1239.1L1192.3 1238.4L1190.6 1239.0L1188.7 1239.6L1192.1 1236.5L1187.0 1239.4L1191.0 1235.9L1186.0 1238.7L1189.9 1235.3L1183.8 1238.9L1188.0 1235.3L1190.3 1233.0L1188.6 1233.5L1182.0 1237.3L1187.9 1232.6L1181.2 1236.4L1184.8 1233.3L1178.8 1236.6L1184.7 1232.0L1183.7 1232.0L1185.4 1230.2L1186.5 1228.8L1185.6 1228.7L1184.1 1229.0L1182.6 1229.3L1177.9 1231.7L1182.8 1227.8L1177.5 1230.6L1183.2 1226.3L1178.3 1228.7L1182.9 1225.1L1184.0 1223.7L1181.5 1224.7L1174.4 1228.5L1181.0 1223.6L1173.5 1227.7L1181.0 1222.3L1180.0 1222.3L1181.4 1220.7L1177.5 1222.5L1180.1 1220.2L1180.2 1219.5L1179.5 1219.2L1170.4 1224.1L1176.7 1219.6L1175.9 1219.5L1178.7 1217.1L1180.2 1216.2A329 329 0 0 0 1220.7 1270.3ZM1172.5 1202.6L1166.9 1205.6L1170.3 1203.2L1165.0 1205.4L1170.0 1202.1L1164.4 1204.4L1167.1 1202.4L1167.7 1201.4L1169.2 1199.9L1164.0 1202.1L1167.0 1199.9L1159.7 1203.0L1165.3 1199.5L1164.1 1199.4L1166.4 1197.7L1159.8 1200.3L1165.4 1196.9L1166.8 1195.6L1165.9 1195.4L1166.4 1194.5L1164.0 1195.1L1158.4 1197.2L1163.6 1194.0L1166.0 1192.2L1164.3 1192.4L1165.8 1191.1L1162.4 1192.1L1157.2 1194.0L1164.4 1189.9L1157.2 1192.7L1164.7 1188.5L1163.1 1188.6L1159.7 1189.6L1161.9 1188.0L1160.7 1188.0L1153.0 1190.9L1159.6 1187.2L1158.3 1187.2L1160.8 1185.4L1158.4 1185.9L1161.8 1183.7L1153.4 1186.9L1159.4 1183.6L1153.2 1185.7L1159.2 1182.5L1158.9 1182.0L1159.9 1180.9L1159.7 1180.4L1157.1 1180.9L1155.0 1181.2L1158.3 1179.2L1148.7 1182.7L1158.0 1178.1L1155.8 1178.4L1158.3 1176.7L1156.2 1177.0L1157.7 1175.8L1153.1 1177.1L1156.4 1175.1L1153.1 1175.9L1153.8 1175.0L1154.1 1174.3L1154.6 1173.5L1151.8 1174.0L1152.4 1173.1L1150.3 1173.3L1152.0 1172.1L1152.7 1171.2L1155.5 1169.5L1154.0 1169.4L1151.8 1169.7L1154.6 1168.0L1154.1 1167.6L1145.6 1170.3L1154.9 1166.1L1146.9 1168.6L1152.8 1165.7L1152.2 1165.3L1149.5 1165.8L1144.2 1167.2L1152.9 1163.3L1152.4 1162.9L1150.8 1162.9L1152.6 1161.6L1148.3 1162.6L1149.5 1161.6L1151.2 1160.3L1152.0 1159.4L1150.0 1159.6L1145.9 1160.4L1151.5 1157.9L1143.8 1160.0L1149.1 1157.5L1141.9 1159.4L1146.5 1157.2L1140.9 1158.6L1148.7 1155.3L1147.0 1155.3L1147.3 1154.6L1145.9 1154.5L1147.9 1153.2L1147.4 1152.8L1149.2 1151.6L1148.7 1151.2L1146.3 1151.4L1138.5 1153.3L1144.0 1150.9L1146.2 1149.6L1147.9 1148.5L1147.8 1147.9L1148.0 1147.3L1138.7 1149.7L1146.4 1146.6L1143.9 1146.8L1146.9 1145.3L1139.5 1147.0L1146.6 1144.2L1135.9 1146.9L1147.2 1142.9L1135.9 1145.7L1144.8 1142.4L1141.7 1142.8L1144.0 1141.5L1143.8 1141.0L1141.4 1141.1L1146.7 1139.5A329 329 0 0 0 1172.5 1202.6ZM1142.4 1123.1L1135.9 1124.6L1138.9 1123.3L1131.1 1124.6L1138.0 1122.4L1131.2 1123.3L1140.7 1120.6L1137.8 1120.7L1139.9 1119.6L1134.9 1120.1L1139.4 1118.6L1129.7 1120.1L1139.5 1117.4L1136.0 1117.6L1138.2 1116.6L1136.6 1116.3L1136.2 1115.8L1134.2 1115.7L1135.5 1114.8L1135.7 1114.2L1135.1 1113.8L1129.4 1114.3L1137.3 1112.2L1127.8 1113.5L1134.1 1111.6L1136.6 1110.6L1136.0 1110.1L1128.2 1111.0L1137.6 1108.7L1128.0 1109.9L1137.0 1107.7L1128.4 1108.7L1136.3 1106.6L1126.6 1107.8L1133.4 1106.0L1133.7 1105.4L1138.0 1104.1L1130.5 1104.8L1134.7 1103.5L1134.3 1103.0L1132.6 1102.7L1132.6 1102.1L1134.5 1101.3L1134.8 1100.6L1133.2 1100.3L1130.8 1100.1L1136.3 1098.7L1125.3 1099.9L1135.4 1097.7L1135.3 1097.2L1132.8 1097.0L1131.7 1096.6L1132.1 1095.9L1131.5 1095.4L1133.4 1094.6L1127.6 1094.9L1131.4 1093.7L1134.3 1092.8L1135.5 1092.0L1130.4 1092.2L1135.1 1091.0L1126.1 1091.6L1134.0 1090.0L1131.6 1089.7L1135.2 1088.7L1132.5 1088.5L1133.6 1087.8L1132.4 1087.4L1134.3 1086.6L1132.1 1086.3L1131.3 1085.8L1133.8 1084.9L1132.4 1084.5L1127.2 1084.6L1134.9 1083.1L1124.8 1083.7L1130.7 1082.5L1132.0 1081.8L1134.5 1080.9L1133.9 1080.4L1129.8 1080.3L1134.1 1079.3L1131.2 1079.0L1127.4 1078.8L1130.8 1077.9L1129.1 1077.5L1131.9 1076.7L1128.8 1076.4L1130.1 1075.7L1133.1 1074.9L1132.7 1074.4L1128.2 1074.2L1131.8 1073.3L1126.6 1073.2L1131.8 1072.2L1121.8 1072.4L1132.8 1071.0L1122.3 1071.2L1133.8 1069.8L1123.7 1069.9L1133.2 1068.7L1130.4 1068.4L1131.3 1067.7L1122.3 1067.7L1132.9 1066.5L1127.5 1066.3L1129.2 1065.6L1127.7 1065.1L1129.5 1064.5L1120.8 1064.3L1129.0 1063.4L1130.5 1062.7L1131.6 1062.1L1133.8 1062.0A329 329 0 0 0 1142.4 1123.1ZM1133.5 1045.1L1126.4 1045.0L1128.9 1044.5L1120.7 1043.8L1128.4 1043.3L1123.4 1042.7L1129.7 1042.2L1124.3 1041.6L1128.3 1041.1L1123.2 1040.4L1132.2 1040.0L1130.6 1039.4L1130.9 1038.9L1121.0 1038.0L1131.5 1037.8L1123.1 1036.9L1131.6 1036.6L1124.5 1035.8L1128.4 1035.4L1120.8 1034.6L1130.1 1034.3L1126.1 1033.6L1132.4 1033.3L1122.8 1032.3L1132.3 1032.2L1132.0 1031.6L1128.7 1030.9L1127.2 1030.2L1131.0 1029.9L1131.4 1029.3L1128.4 1028.6L1125.2 1027.8L1128.8 1027.5L1129.1 1026.9L1131.0 1026.5L1127.6 1025.7L1133.3 1025.5L1133.5 1025.0L1130.6 1024.2L1129.7 1023.6L1129.2 1023.0L1124.6 1022.0L1130.3 1021.9L1127.1 1021.1L1132.8 1021.0L1127.1 1019.9L1130.5 1019.7L1131.3 1019.2L1131.7 1018.6L1133.5 1018.2L1130.6 1017.4L1129.3 1016.7L1133.3 1016.5L1125.8 1015.2L1130.2 1015.1L1132.2 1014.7L1134.7 1014.4L1127.7 1013.1L1129.5 1012.7L1133.9 1012.6L1130.5 1011.7L1127.7 1010.8L1131.1 1010.6L1134.8 1010.5L1133.0 1009.7L1134.7 1009.3L1130.0 1008.2L1123.0 1006.8L1131.5 1007.3L1128.3 1006.3L1131.3 1006.1L1134.2 1005.9L1130.3 1004.8L1131.3 1004.4L1133.5 1004.1L1135.7 1003.8L1135.6 1003.2L1124.5 1001.2L1135.1 1002.0L1130.3 1000.8L1132.3 1000.5L1127.5 999.3L1134.0 999.6L1128.1 998.2L1132.0 998.2L1134.4 998.0L1134.7 997.4L1130.0 996.2L1133.2 996.1L1130.3 995.0L1137.0 995.5L1134.5 994.6L1135.4 994.1L1126.7 992.1L1134.1 992.8L1134.5 992.3L1134.6 991.7L1134.4 991.1L1132.5 990.2L1129.6 989.1L1133.2 989.2L1133.6 988.7L1137.6 988.8L1128.7 986.6L1137.5 987.7L1128.1 985.4L1134.4 986.0L1128.1 984.2L1135.7 985.1L1131.2 983.6L1139.0 984.5L1136.0 983.4L1139.6 984.1A329 329 0 0 0 1133.5 1045.1ZM1143.2 967.8L1141.5 967.4L1142.6 967.1L1136.8 965.1L1142.9 966.0L1137.6 964.1L1142.7 964.8L1141.5 963.9L1139.4 962.8L1131.8 960.2L1140.6 961.9L1137.0 960.4L1143.4 961.5L1139.6 959.9L1139.8 959.4L1143.9 959.9L1142.9 959.0L1142.4 958.3L1144.1 958.2L1143.7 957.5L1141.6 956.3L1141.9 955.8L1140.5 954.8L1142.4 954.8L1142.4 954.2L1142.2 953.5L1142.3 953.0L1145.9 953.5L1141.5 951.6L1144.2 951.8L1143.1 950.9L1143.7 950.4L1147.4 951.0L1141.4 948.6L1147.1 949.7L1138.7 946.5L1147.0 948.5L1147.7 948.1L1145.6 946.9L1141.8 945.1L1145.4 945.6L1140.6 943.5L1148.9 945.6L1138.5 941.6L1145.2 943.2L1140.9 941.2L1149.8 943.5L1146.8 941.9L1149.1 942.1L1139.9 938.4L1149.1 940.9L1146.3 939.4L1149.8 940.0L1142.5 936.9L1150.6 939.1L1146.2 936.9L1147.6 936.8L1147.8 936.3L1150.8 936.8L1146.4 934.6L1151.4 935.8L1144.1 932.5L1148.5 933.5L1150.4 933.6L1152.9 933.9L1149.2 932.0L1153.5 932.9L1143.8 928.7L1148.9 930.0L1147.4 928.8L1151.6 929.8L1147.8 927.8L1152.8 929.1L1148.8 927.0L1151.9 927.5L1145.4 924.4L1154.0 927.1L1154.1 926.6L1153.6 925.8L1155.5 925.9L1154.7 925.0L1150.8 922.8L1152.3 922.8L1150.3 921.4L1152.0 921.5L1148.3 919.4L1152.5 920.4L1147.6 917.8L1156.3 920.8L1156.3 920.2L1154.8 918.9L1150.2 916.4L1156.8 918.5L1149.7 914.9L1156.0 917.0L1150.1 913.9L1159.8 917.4L1150.3 912.7L1155.7 914.4L1157.9 914.7L1156.3 913.4L1158.1 913.6L1156.7 912.4L1151.8 909.5L1157.3 911.4L1160.7 912.3L1161.0 911.8L1156.2 909.0L1161.3 910.7L1158.6 908.8L1163.1 910.9A329 329 0 0 0 1143.2 967.8ZM1170.2 896.3L1160.7 891.4L1166.2 893.6L1168.9 894.3L1169.9 894.2L1163.6 890.3L1168.7 892.3L1171.1 893.0L1167.6 890.5L1170.3 891.3L1171.8 891.4L1164.0 886.6L1169.2 888.8L1172.0 889.7L1170.8 888.4L1164.5 884.3L1169.5 886.4L1165.3 883.4L1170.7 885.8L1165.6 882.3L1173.1 885.8L1168.4 882.5L1171.7 883.7L1167.8 880.9L1173.3 883.4L1168.1 879.8L1173.2 882.0L1167.8 878.2L1173.1 880.6L1168.8 877.5L1176.8 881.5L1174.7 879.6L1176.0 879.7L1178.2 880.4L1177.4 879.3L1170.4 874.5L1175.0 876.5L1174.9 875.8L1177.5 876.7L1179.1 877.0L1178.0 875.7L1171.4 871.0L1179.6 875.4L1174.9 871.8L1177.9 873.0L1177.5 872.1L1180.2 873.1L1175.4 869.5L1181.9 872.9L1179.8 870.9L1182.3 871.8L1182.9 871.5L1182.8 870.8L1175.8 865.7L1181.1 868.4L1180.9 867.6L1184.6 869.3L1180.3 865.9L1184.4 867.8L1179.7 864.1L1182.3 865.1L1183.1 865.0L1185.4 865.8L1178.6 860.7L1183.5 863.2L1180.7 860.7L1186.5 863.9L1178.7 858.0L1188.4 863.8L1178.5 856.5L1185.9 860.8L1189.0 862.2L1189.2 861.6L1181.9 856.0L1186.1 858.2L1189.9 860.1L1188.3 858.3L1182.3 853.5L1188.6 857.2L1182.1 851.9L1188.2 855.5L1191.1 856.8L1192.7 857.3L1183.7 850.3L1192.6 855.8L1184.5 849.4L1189.7 852.4L1190.7 852.4L1191.3 852.1L1193.3 852.9L1193.2 852.1L1194.8 852.6L1193.3 850.8L1195.2 851.6L1194.9 850.6L1197.0 851.5L1192.8 847.6L1191.3 845.8L1196.6 849.1L1196.3 848.2L1195.0 846.5L1194.0 845.0L1196.8 846.4L1199.5 847.8L1198.5 846.3L1195.6 843.4L1196.7 843.5L1199.2 844.7L1201.7 846.6A329 329 0 0 0 1170.2 896.3ZM1211.7 834.3L1210.9 833.6L1209.8 831.9L1210.5 831.8L1212.3 832.6L1212.0 831.6L1211.5 830.4L1210.3 828.6L1213.0 830.2L1208.7 825.7L1214.5 830.0L1212.8 827.8L1213.6 827.8L1213.9 827.3L1212.7 825.4L1214.0 825.8L1215.3 826.2L1209.5 820.3L1215.8 825.1L1216.3 824.8L1216.7 824.4L1210.7 818.2L1216.1 822.4L1217.2 822.6L1219.7 824.1L1212.7 816.9L1219.6 822.5L1220.4 822.5L1219.9 821.3L1215.6 816.5L1220.9 820.6L1216.0 815.3L1219.5 817.8L1217.9 815.5L1220.5 817.2L1219.4 815.3L1224.2 819.1L1219.4 813.7L1224.4 817.7L1219.0 811.8L1222.7 814.6L1222.8 813.8L1224.2 814.4L1226.8 816.2L1225.5 814.1L1222.6 810.5L1225.0 812.0L1228.2 814.4L1228.5 813.9L1223.3 807.9L1227.7 811.5L1226.8 809.8L1227.1 809.3L1230.6 812.0L1228.3 808.9L1231.1 810.9L1231.5 810.5L1227.3 805.4L1233.0 810.5L1227.1 803.6L1232.8 808.7L1227.6 802.4L1232.5 806.7L1233.2 806.6L1232.6 805.1L1228.0 799.5L1233.4 804.3L1236.1 806.4L1235.6 805.0L1237.1 805.8L1236.3 804.2L1236.2 803.2L1236.8 803.0L1231.7 796.6L1236.8 801.3L1233.2 796.5L1240.4 803.5L1236.9 798.9L1239.8 801.2L1235.5 795.6L1238.7 798.3L1242.5 801.7L1239.6 797.6L1240.7 798.0L1243.8 800.6L1238.9 794.3L1242.6 797.6L1236.4 789.7L1242.3 795.6L1242.0 794.3L1243.3 794.9L1238.8 788.8L1245.2 795.4L1245.0 794.3L1245.5 794.0L1240.8 787.6L1246.1 792.9L1243.9 789.5L1249.2 794.8L1243.7 787.4L1248.2 792.0L1244.5 786.7L1249.7 791.9L1251.6 793.4L1252.3 794.1A329 329 0 0 0 1211.7 834.3ZM1264.8 784.2L1263.1 781.9L1263.4 781.3L1264.5 782.0L1265.0 781.7L1263.9 779.2L1266.4 781.7L1265.6 779.6L1266.4 779.8L1262.4 773.3L1266.6 778.1L1268.4 779.7L1268.4 778.7L1264.9 772.9L1270.4 779.6L1266.5 773.1L1269.3 776.1L1270.3 776.6L1272.2 778.3L1270.8 775.4L1272.2 776.4L1269.5 771.5L1273.8 776.7L1273.5 775.3L1272.9 773.5L1275.1 775.7L1274.2 773.3L1274.1 772.2L1275.8 773.8L1274.8 771.2L1276.7 773.1L1273.2 766.8L1276.0 770.1L1275.6 768.4L1277.6 770.4L1274.7 765.0L1280.2 772.2L1278.1 768.1L1281.3 771.9L1277.1 764.5L1279.8 767.6L1282.0 769.9L1282.1 769.0L1279.9 764.6L1282.7 767.9L1284.3 769.4L1284.0 767.8L1283.6 766.1L1284.4 766.3L1280.9 759.7L1286.8 768.1L1284.2 762.8L1286.6 765.7L1286.1 763.8L1288.4 766.4L1286.6 762.5L1289.5 766.1L1286.1 759.5L1290.0 764.7L1285.7 756.6L1291.1 764.4L1291.0 763.1L1292.2 764.0L1288.6 757.0L1291.2 760.3L1288.5 754.7L1293.1 761.3L1291.1 756.7L1294.5 761.5L1292.7 757.3L1296.2 762.1L1291.4 752.7L1296.3 760.0L1295.0 756.7L1298.2 761.0L1295.7 755.7L1298.9 760.0L1293.5 749.4L1300.2 760.1L1298.7 756.3L1301.1 759.5L1300.6 757.5L1300.9 756.7L1302.4 758.3L1301.5 755.5L1300.0 751.7L1302.0 754.2L1302.7 754.2L1303.4 754.3L1303.7 753.7L1304.2 753.5L1300.2 744.8L1306.7 755.7L1303.3 748.2L1305.9 751.8L1307.2 753.1L1309.0 755.4L1306.4 749.3L1308.7 752.3L1306.8 747.4L1308.9 750.3L1309.6 750.4L1309.8 749.5L1308.0 744.9L1312.4 752.2L1312.2 750.6L1313.8 753.7A329 329 0 0 0 1264.8 784.2ZM1327.7 747.1L1325.7 742.5L1326.4 742.8L1324.8 737.8L1328.1 743.7L1327.4 740.8L1329.2 743.4L1327.5 738.1L1331.1 745.0L1328.7 738.1L1331.2 742.4L1330.4 739.1L1331.6 740.5L1333.3 743.0L1333.3 741.5L1330.7 734.0L1334.8 742.3L1333.2 737.1L1335.8 741.7L1333.6 735.0L1336.1 739.6L1337.3 741.0L1338.1 741.5L1337.5 738.5L1338.5 739.6L1336.6 733.3L1338.7 736.9L1338.7 735.5L1341.3 740.4L1340.2 736.1L1340.7 736.0L1342.7 739.4L1342.7 738.0L1343.0 737.2L1343.4 736.6L1344.3 737.3L1345.5 739.0L1345.4 737.2L1345.7 736.3L1345.5 734.3L1346.2 734.4L1347.4 736.1L1347.6 734.9L1345.5 727.7L1349.7 737.6L1348.4 732.3L1350.4 736.3L1349.9 733.0L1351.4 735.6L1349.4 728.3L1352.5 735.3L1349.5 725.1L1353.6 735.1L1353.4 732.9L1353.9 732.6L1355.1 734.3L1355.8 734.6L1355.4 731.6L1356.0 731.6L1354.5 725.4L1357.2 731.7L1357.7 731.4L1358.3 731.4L1355.9 722.4L1359.7 732.1L1360.4 732.6L1361.3 733.5L1360.2 728.3L1360.8 728.2L1359.3 721.7L1362.3 729.2L1363.2 730.2L1363.9 730.6L1364.3 730.1L1364.9 729.9L1363.2 722.7L1366.6 731.9L1365.3 725.6L1367.4 730.5L1366.0 723.9L1367.5 726.9L1366.5 721.6L1369.3 729.1L1367.1 719.4L1370.9 730.7L1370.5 727.0L1371.8 729.6L1370.1 721.5L1372.3 727.3L1371.5 722.3L1374.1 729.5L1374.4 728.4L1374.0 725.1L1373.5 720.9L1374.8 723.7L1375.4 723.6L1376.4 725.3L1376.5 723.3L1377.1 723.3L1378.0 724.8L1378.8 725.4L1377.3 717.4L1380.0 725.8L1379.7 722.2L1381.6 727.2L1378.8 714.1L1382.4 728.1A329 329 0 0 0 1327.7 747.1ZM1397.9 724.6L1397.7 724.0L1398.3 723.9L1398.8 723.8L1399.4 723.7L1399.9 723.6L1400.5 723.5L1401.1 723.4L1401.6 723.3L1402.1 723.0L1402.7 723.1L1403.1 722.3L1403.7 722.4L1404.4 722.8L1404.9 722.6L1405.4 722.2L1406.0 722.5L1406.4 721.6L1407.0 721.2L1407.7 722.2L1408.2 722.1L1408.6 720.8L1409.3 721.9L1409.8 721.2L1410.3 720.9L1411.0 721.6L1411.5 721.4L1412.1 721.4L1412.5 720.4L1413.2 721.3L1413.7 720.6L1414.3 721.1L1414.8 720.6L1415.4 720.7L1415.8 719.1L1416.3 718.6L1416.9 719.4L1417.6 719.8L1418.2 720.5L1418.7 720.0L1419.3 720.2L1419.8 719.3L1420.1 717.7L1420.9 719.4L1421.6 720.1L1422.1 719.6L1422.6 719.6L1423.0 717.7L1423.8 719.8L1424.3 719.6L1424.8 718.6L1425.4 718.9L1426.0 719.2L1426.5 718.8L1427.1 719.5L1427.7 719.4L1428.2 719.1L1428.8 718.8L1429.2 717.8L1429.9 719.0L1430.5 719.0L1430.7 715.5L1431.3 715.9L1432.2 719.0L1432.5 716.3L1433.3 718.7L1433.9 718.8L1434.2 716.5L1434.9 718.1L1435.2 715.0L1436.1 718.3L1436.7 718.6L1437.2 718.3L1437.7 716.9L1438.3 718.4L1438.8 717.0L1439.5 718.3L1439.9 716.8L1440.6 718.3L1441.0 716.4L1441.7 718.2L1442.2 717.9L1442.5 713.2L1443.4 718.1L1443.9 718.1L1444.2 712.9L1444.9 715.0L1445.6 717.0L1446.1 717.1L1446.7 717.4L1446.8 718.6A329 329 0 0 0 1397.9 724.6Z" fill="#73a5ce" stroke="#73a5ce" stroke-width="0.3" stroke-linejoin="round"/>
<path d="M1479.8 758.7L1480.7 743.8L1481.5 743.5L1482.0 745.1L1483.2 737.9L1483.5 743.4L1484.0 746.4L1484.9 743.8L1485.4 746.8L1486.2 745.3L1486.9 745.4L1488.1 738.3L1488.2 745.6L1488.8 747.1L1489.5 747.2L1490.1 747.3L1490.8 748.2L1492.4 738.6L1492.1 748.7L1492.8 747.9L1493.6 747.6L1494.1 748.8L1494.8 749.2L1495.7 747.1L1496.1 749.2L1496.9 748.6L1497.4 750.0L1498.2 749.1L1498.8 749.8L1499.5 750.2L1500.3 749.1L1500.8 750.5L1501.5 750.6L1502.1 751.2L1502.9 750.3L1503.5 751.2L1504.0 751.9L1505.0 750.0L1505.5 751.4L1506.0 752.3L1506.9 751.3L1507.5 751.5L1508.1 752.5L1508.7 753.1L1509.4 752.9L1510.0 753.2L1511.3 749.4L1511.9 750.4L1512.4 751.4L1512.9 752.5L1513.4 753.5L1513.9 754.5L1515.6 748.8L1515.4 754.0L1515.9 755.0L1516.8 754.0L1517.7 752.6L1518.4 752.9L1519.3 751.8L1520.1 751.2L1520.3 753.8L1521.3 752.1L1521.5 754.7L1521.8 756.4L1522.4 756.8L1523.2 756.2L1524.0 756.1L1524.4 757.1L1525.2 757.0L1525.8 757.0L1526.4 757.5L1527.0 758.0L1527.8 757.7L1528.7 756.7L1529.2 757.6L1529.7 758.1L1530.7 757.0L1531.9 754.9L1531.9 757.8L1532.2 759.3L1533.0 758.9L1533.8 758.5L1534.3 759.4L1535.2 758.5L1535.6 759.7L1536.1 760.6L1537.6 757.3L1538.0 758.5L1538.2 760.5L1539.2 759.5L1539.3 761.5L1540.0 761.7L1540.7 761.8L1541.5 761.3L1543.0 758.3L1542.6 762.4L1543.2 762.6L1544.5 760.7L1544.6 762.8L1545.5 762.2L1545.9 763.0L1546.5 763.5L1547.5 762.5L1548.2 762.5L1548.7 763.2L1549.2 763.9L1549.7 764.5L1550.2 765.0L1551.6 763.0L1552.2 763.4L1552.3 765.2L1553.1 764.8L1553.8 764.8L1554.6 764.6L1554.8 766.2L1556.1 764.4L1556.1 766.5L1556.8 766.7L1557.6 766.3L1557.9 767.6L1559.4 765.2L1560.4 764.4L1560.6 765.8L1561.1 766.5L1561.0 768.8L1562.7 766.2L1562.8 767.9L1567.3 757.4L1560.8 775.4A289 289 0 0 0 1479.8 758.7ZM1573.7 780.5L1583.0 758.4L1579.5 768.4L1581.1 766.4L1580.8 768.9L1581.6 768.8L1582.8 767.8L1583.1 768.8L1583.7 769.3L1584.1 769.9L1584.6 770.6L1584.5 772.4L1586.2 770.4L1586.1 772.3L1587.2 771.5L1587.1 773.3L1588.1 772.8L1588.6 773.5L1588.6 775.1L1589.3 775.2L1589.9 775.5L1590.3 776.3L1591.3 775.7L1591.7 776.4L1592.6 776.3L1592.9 777.2L1593.4 777.6L1594.2 777.7L1596.5 774.5L1598.0 773.1L1595.7 779.2L1596.1 780.0L1597.0 779.6L1597.6 780.0L1598.9 779.0L1599.4 779.5L1599.5 780.9L1599.7 781.9L1601.0 780.9L1601.1 782.2L1603.1 779.8L1603.6 780.3L1602.6 783.6L1602.9 784.6L1604.0 784.0L1605.5 782.6L1605.2 784.7L1606.1 784.4L1607.6 783.0L1607.8 784.1L1607.7 785.8L1607.5 787.4L1609.4 785.5L1609.2 787.2L1609.7 787.7L1612.0 785.1L1611.2 787.7L1610.9 789.7L1611.7 789.7L1612.3 790.0L1613.0 790.1L1613.1 791.3L1613.6 791.8L1614.4 791.8L1615.2 791.8L1618.6 787.5L1616.8 791.7L1616.3 793.8L1617.1 793.9L1619.8 790.7L1618.1 794.9L1620.0 793.1L1619.3 795.4L1620.3 795.2L1620.4 796.2L1622.7 793.9L1621.7 796.7L1622.2 797.2L1623.6 796.2L1623.0 798.4L1623.6 798.8L1625.0 797.8L1625.0 799.0L1625.1 800.1L1626.2 799.7L1626.7 800.2L1629.1 797.8L1628.8 799.6L1628.8 800.8L1629.1 801.4L1629.1 802.7L1629.6 803.2L1631.4 801.8L1630.9 803.6L1631.1 804.5L1632.1 804.3L1632.7 804.6L1633.9 804.1L1635.2 803.5L1634.0 806.3L1635.1 805.9L1636.2 805.6L1636.2 806.6L1636.3 807.7L1639.0 805.1L1637.7 808.0L1638.6 808.0L1638.2 809.7L1639.4 809.2L1639.3 810.5L1640.7 809.7L1642.1 809.0L1641.6 810.7L1642.4 810.8L1642.0 812.5L1643.8 811.2L1643.0 813.4L1646.8 809.5L1646.8 810.6L1645.1 814.0L1649.4 809.5L1647.2 813.4L1646.8 815.0L1647.9 814.8L1655.5 806.3L1643.2 821.7A289 289 0 0 0 1573.7 780.5ZM1654.3 831.0L1667.5 816.1L1663.4 821.8L1664.1 822.1L1665.6 821.4L1664.6 823.5L1665.8 823.3L1666.5 823.5L1666.1 825.0L1666.9 825.2L1666.9 826.1L1668.6 825.3L1668.1 826.9L1669.4 826.5L1668.5 828.4L1669.2 828.7L1670.7 828.2L1672.5 827.2L1670.6 830.2L1671.6 830.1L1671.6 831.2L1673.0 830.7L1672.6 832.1L1673.0 832.7L1673.1 833.6L1674.3 833.3L1674.1 834.4L1674.1 835.4L1675.9 834.6L1675.9 835.6L1675.2 837.2L1675.9 837.5L1676.1 838.2L1676.9 838.5L1677.2 839.1L1677.2 840.1L1677.7 840.5L1679.2 840.0L1678.8 841.4L1680.4 840.7L1679.8 842.3L1679.8 843.2L1681.0 843.0L1680.6 844.3L1681.2 844.7L1683.7 843.3L1682.1 845.7L1682.1 846.6L1684.2 845.6L1683.7 847.0L1683.6 848.0L1683.8 848.7L1684.8 848.8L1686.8 847.9L1686.2 849.3L1686.3 850.1L1685.8 851.4L1686.2 852.0L1687.6 851.7L1687.4 852.8L1688.0 853.2L1689.1 853.1L1688.9 854.1L1689.0 855.0L1690.6 854.6L1691.0 855.1L1691.5 855.6L1690.2 857.5L1690.8 857.9L1692.1 857.7L1691.5 859.1L1692.7 859.0L1695.3 857.7L1694.2 859.5L1695.7 859.2L1693.7 861.7L1694.5 861.9L1696.6 861.1L1697.6 861.1L1695.4 863.8L1695.6 864.5L1696.5 864.6L1697.6 864.6L1696.8 866.1L1698.6 865.5L1697.6 867.2L1699.7 866.5L1701.9 865.6L1699.1 868.6L1699.9 868.8L1705.8 865.2L1700.4 870.1L1702.8 869.2L1700.9 871.5L1702.6 871.1L1701.4 872.7L1704.1 871.6L1702.4 873.7L1702.5 874.4L1702.8 875.1L1705.1 874.2L1704.9 875.2L1704.6 876.3L1704.4 877.3L1706.1 876.9L1706.1 877.7L1705.9 878.7L1705.9 879.5L1706.4 880.0L1707.1 880.3L1707.1 881.1L1708.5 881.0L1707.9 882.2L1709.1 882.2L1712.4 880.8L1710.3 883.0L1709.5 884.4L1709.5 885.2L1710.5 885.3L1711.2 885.7L1720.4 880.6L1705.2 890.3A289 289 0 0 0 1654.3 831.0ZM1712.9 902.8L1733.3 891.0L1726.0 896.1L1725.4 897.2L1725.7 897.8L1725.1 898.9L1728.8 897.6L1726.7 899.6L1729.8 898.7L1726.9 901.1L1727.4 901.6L1727.1 902.5L1728.5 902.5L1728.4 903.4L1727.9 904.4L1727.2 905.6L1728.3 905.8L1728.6 906.4L1729.6 906.6L1729.8 907.3L1729.3 908.3L1729.0 909.2L1728.9 910.1L1729.8 910.4L1729.1 911.5L1729.9 911.8L1731.6 911.8L1732.2 912.2L1732.8 912.7L1730.3 914.7L1730.4 915.4L1733.4 914.7L1731.7 916.3L1734.5 915.7L1731.9 917.7L1732.9 918.0L1733.2 918.6L1732.3 919.8L1732.6 920.4L1732.4 921.2L1735.8 920.4L1734.9 921.6L1736.2 921.7L1735.2 922.9L1733.5 924.4L1734.9 924.5L1736.0 924.8L1735.7 925.7L1734.5 927.0L1737.2 926.5L1736.0 927.8L1735.4 928.8L1736.2 929.1L1739.4 928.5L1737.2 930.2L1736.7 931.1L1738.6 931.1L1738.2 932.0L1736.9 933.2L1737.2 933.9L1737.6 934.4L1742.3 933.3L1738.4 935.6L1738.8 936.1L1741.0 936.0L1738.3 937.8L1741.4 937.3L1739.6 938.7L1741.1 938.9L1740.4 939.9L1739.2 941.0L1740.7 941.2L1739.4 942.4L1741.2 942.4L1742.6 942.6L1743.2 943.2L1740.8 944.8L1740.9 945.5L1740.8 946.2L1742.4 946.3L1741.3 947.4L1743.2 947.5L1742.2 948.6L1742.2 949.3L1742.5 949.9L1745.7 949.5L1743.5 951.0L1745.0 951.2L1743.9 952.3L1743.8 953.0L1743.1 953.9L1745.2 953.9L1746.9 954.1L1745.6 955.2L1743.8 956.5L1744.2 957.1L1746.4 957.1L1744.4 958.5L1745.5 958.8L1746.2 959.3L1746.5 959.9L1746.5 960.6L1745.3 961.7L1745.5 962.3L1745.9 962.9L1745.7 963.7L1748.5 963.6L1749.3 964.0L1749.7 964.6L1747.2 966.0L1746.8 966.8L1746.9 967.5L1747.7 968.0L1747.3 968.8L1749.4 968.9L1749.8 969.5L1748.5 970.6L1748.6 971.2L1748.5 972.0L1760.4 969.5L1742.2 974.3A289 289 0 0 0 1712.9 902.8ZM1745.7 989.4L1764.1 985.6L1755.0 988.2L1755.3 988.8L1756.3 989.3L1755.3 990.2L1754.4 991.1L1755.0 991.6L1754.6 992.4L1755.2 993.0L1754.5 993.8L1755.5 994.3L1756.0 994.9L1756.6 995.5L1756.1 996.3L1756.2 996.9L1759.7 997.0L1762.9 997.2L1756.6 999.0L1757.2 999.5L1755.7 1000.5L1756.1 1001.1L1756.1 1001.8L1759.3 1002.0L1756.8 1003.1L1758.2 1003.5L1757.8 1004.3L1756.3 1005.2L1757.6 1005.7L1757.3 1006.4L1756.7 1007.2L1757.4 1007.8L1756.9 1008.5L1757.4 1009.1L1760.9 1009.4L1757.4 1010.5L1759.1 1011.0L1758.3 1011.8L1757.5 1012.5L1760.2 1012.9L1759.8 1013.6L1761.3 1014.2L1758.7 1015.1L1760.9 1015.6L1758.1 1016.6L1759.9 1017.1L1762.0 1017.5L1759.9 1018.4L1760.1 1019.1L1758.1 1020.0L1758.4 1020.6L1758.3 1021.3L1758.6 1022.0L1760.4 1022.5L1758.5 1023.3L1761.7 1023.8L1758.6 1024.7L1759.2 1025.3L1759.1 1026.0L1761.6 1026.5L1760.4 1027.3L1759.5 1028.0L1762.4 1028.5L1758.8 1029.4L1764.1 1029.8L1759.3 1030.8L1760.1 1031.4L1762.7 1031.9L1763.6 1032.6L1760.8 1033.4L1760.2 1034.1L1759.5 1034.8L1761.4 1035.4L1759.3 1036.2L1759.7 1036.9L1760.4 1037.5L1759.4 1038.2L1761.7 1038.8L1759.8 1039.6L1760.0 1040.2L1761.7 1040.9L1760.0 1041.6L1761.6 1042.3L1761.4 1042.9L1760.2 1043.6L1763.1 1044.3L1760.3 1045.0L1760.9 1045.7L1759.4 1046.4L1760.7 1047.0L1760.5 1047.7L1759.6 1048.4L1760.9 1049.1L1761.2 1049.8L1762.3 1050.5L1761.1 1051.1L1760.4 1051.8L1763.6 1052.5L1759.5 1053.1L1760.9 1053.8L1765.6 1054.6L1759.6 1055.2L1759.2 1055.8L1761.5 1056.6L1762.8 1057.3L1760.5 1057.9L1760.3 1058.6L1763.2 1059.4L1762.0 1060.0L1760.6 1060.6L1759.2 1061.3L1760.4 1062.0L1761.3 1062.7L1759.1 1063.3L1760.4 1064.0L1762.8 1064.9L1760.1 1065.4L1760.3 1066.1L1769.7 1067.4L1750.9 1066.2A289 289 0 0 0 1745.7 989.4ZM1749.5 1081.3L1768.1 1083.5L1758.8 1083.1L1758.3 1083.7L1758.1 1084.3L1758.4 1085.1L1757.9 1085.7L1757.1 1086.2L1757.4 1087.0L1756.8 1087.6L1757.6 1088.4L1757.8 1089.1L1758.0 1089.8L1757.2 1090.4L1759.0 1091.3L1757.4 1091.8L1757.4 1092.4L1757.5 1093.2L1757.0 1093.8L1755.5 1094.2L1758.7 1095.4L1755.4 1095.6L1755.5 1096.3L1756.6 1097.1L1757.3 1097.9L1755.8 1098.4L1757.2 1099.3L1756.9 1099.9L1754.9 1100.3L1755.7 1101.1L1754.7 1101.6L1755.6 1102.5L1755.0 1103.0L1755.5 1103.8L1754.0 1104.2L1754.2 1105.0L1758.8 1106.6L1753.7 1106.2L1755.1 1107.2L1753.2 1107.5L1753.9 1108.4L1754.0 1109.1L1753.2 1109.6L1754.0 1110.4L1754.7 1111.3L1752.6 1111.5L1753.3 1112.4L1754.4 1113.3L1752.7 1113.6L1752.5 1114.3L1752.3 1114.9L1755.0 1116.2L1751.4 1116.1L1751.2 1116.8L1752.1 1117.7L1752.0 1118.3L1751.3 1118.9L1750.8 1119.4L1750.4 1120.0L1750.5 1120.8L1750.5 1121.4L1749.8 1122.0L1750.1 1122.7L1750.4 1123.5L1750.4 1124.2L1749.8 1124.8L1750.4 1125.6L1749.5 1126.1L1751.6 1127.4L1750.6 1127.8L1750.4 1128.4L1748.4 1128.6L1748.2 1129.2L1749.3 1130.2L1750.7 1131.4L1747.8 1131.2L1749.1 1132.3L1747.5 1132.5L1747.3 1133.2L1749.8 1134.7L1747.3 1134.6L1747.3 1135.3L1746.3 1135.7L1747.5 1136.8L1749.7 1138.2L1749.9 1139.0L1749.8 1139.7L1745.9 1139.1L1744.7 1139.5L1747.1 1140.9L1747.5 1141.8L1747.1 1142.4L1745.4 1142.5L1747.1 1143.8L1743.3 1143.3L1743.4 1144.0L1744.4 1145.1L1746.7 1146.6L1744.3 1146.5L1742.9 1146.7L1743.3 1147.5L1741.8 1147.8L1742.1 1148.6L1741.3 1149.0L1741.9 1149.9L1745.2 1151.9L1740.6 1150.9L1740.4 1151.5L1740.1 1152.2L1743.1 1154.0L1742.3 1154.4L1743.7 1155.7L1741.5 1155.6L1739.9 1155.7L1738.8 1156.0L1748.5 1160.6L1731.2 1153.7A289 289 0 0 0 1749.5 1081.3ZM1725.3 1167.4L1743.5 1175.7L1733.0 1171.7L1734.2 1173.0L1732.5 1172.9L1731.7 1173.3L1735.2 1175.7L1731.8 1174.8L1731.7 1175.6L1733.4 1177.1L1731.6 1177.0L1730.4 1177.2L1729.8 1177.6L1729.9 1178.4L1730.7 1179.6L1729.2 1179.6L1728.9 1180.2L1730.2 1181.6L1728.3 1181.4L1728.9 1182.5L1728.0 1182.8L1727.9 1183.5L1726.8 1183.7L1726.1 1184.1L1728.9 1186.3L1726.3 1185.7L1731.0 1189.0L1725.3 1186.7L1726.5 1188.1L1724.1 1187.6L1725.7 1189.2L1724.8 1189.5L1725.1 1190.4L1723.4 1190.3L1722.5 1190.5L1722.4 1191.3L1722.5 1192.1L1722.0 1192.6L1722.8 1193.8L1720.9 1193.5L1721.2 1194.4L1720.4 1194.8L1721.1 1196.0L1720.2 1196.2L1720.7 1197.3L1719.8 1197.5L1720.0 1198.5L1718.4 1198.3L1718.6 1199.2L1719.1 1200.3L1717.3 1200.0L1717.1 1200.7L1718.2 1202.1L1716.7 1202.0L1717.0 1203.0L1715.4 1202.8L1715.0 1203.3L1715.3 1204.3L1715.8 1205.4L1717.9 1207.5L1715.1 1206.6L1715.1 1207.4L1714.4 1207.7L1715.5 1209.3L1712.6 1208.2L1713.3 1209.5L1711.4 1209.0L1711.6 1209.9L1711.0 1210.4L1710.8 1211.1L1710.5 1211.7L1712.8 1214.0L1712.2 1214.4L1710.2 1213.9L1714.0 1217.3L1708.8 1214.6L1709.1 1215.6L1707.5 1215.3L1707.6 1216.2L1708.7 1217.8L1706.8 1217.3L1706.0 1217.6L1705.3 1217.9L1705.9 1219.2L1705.1 1219.4L1704.3 1219.6L1706.3 1221.9L1704.1 1221.2L1703.6 1221.6L1702.8 1221.9L1703.0 1222.9L1704.9 1225.1L1701.7 1223.6L1701.3 1224.1L1701.2 1224.9L1700.6 1225.3L1700.3 1225.9L1700.6 1227.0L1700.6 1227.9L1699.1 1227.6L1700.3 1229.4L1698.5 1228.8L1698.5 1229.7L1697.7 1229.9L1697.4 1230.5L1697.1 1231.1L1695.9 1231.0L1696.3 1232.3L1695.4 1232.4L1696.1 1233.8L1695.2 1233.9L1693.7 1233.6L1693.6 1234.4L1696.1 1237.3L1693.3 1235.9L1692.2 1235.9L1702.9 1245.6L1685.4 1231.1A289 289 0 0 0 1725.3 1167.4ZM1676.3 1241.7L1690.0 1254.2L1683.0 1248.7L1681.5 1248.2L1681.5 1249.2L1681.5 1250.1L1680.3 1249.9L1680.7 1251.2L1679.7 1251.2L1678.9 1251.4L1679.5 1252.8L1679.3 1253.6L1681.0 1256.2L1678.3 1254.5L1676.7 1254.0L1678.2 1256.3L1676.0 1255.1L1676.1 1256.2L1675.1 1256.2L1674.6 1256.6L1673.3 1256.2L1673.8 1257.7L1673.1 1257.9L1672.2 1258.0L1673.4 1260.2L1675.2 1262.9L1671.6 1260.3L1673.8 1263.5L1670.1 1260.7L1669.2 1260.8L1670.1 1262.6L1669.5 1263.0L1668.7 1263.2L1667.7 1263.1L1666.9 1263.2L1666.4 1263.7L1666.0 1264.2L1667.3 1266.6L1664.6 1264.7L1664.2 1265.2L1664.9 1267.0L1664.0 1267.0L1664.3 1268.4L1663.4 1268.4L1661.7 1267.5L1661.2 1267.9L1662.4 1270.3L1660.4 1269.1L1660.9 1270.7L1659.2 1269.8L1658.9 1270.5L1661.4 1274.4L1659.2 1272.9L1657.2 1271.6L1656.5 1271.8L1656.0 1272.3L1655.7 1273.0L1655.2 1273.4L1654.7 1273.9L1654.2 1274.4L1653.9 1275.0L1653.0 1275.0L1655.4 1279.0L1652.9 1276.9L1652.0 1276.9L1651.9 1277.9L1651.4 1278.3L1650.8 1278.7L1649.3 1277.9L1649.7 1279.5L1650.2 1281.2L1648.9 1280.6L1649.8 1282.9L1647.1 1280.5L1647.6 1282.3L1647.6 1283.4L1645.2 1281.4L1644.6 1281.7L1644.8 1283.1L1644.2 1283.4L1643.1 1283.2L1645.3 1287.2L1642.7 1284.8L1642.0 1285.1L1642.2 1286.4L1640.2 1284.9L1640.8 1286.8L1640.3 1287.3L1639.4 1287.2L1639.0 1287.7L1638.0 1287.6L1637.5 1288.1L1636.8 1288.2L1636.8 1289.4L1636.1 1289.5L1634.9 1289.1L1635.2 1290.7L1635.8 1292.7L1633.4 1290.5L1632.8 1290.8L1632.4 1291.4L1631.5 1291.3L1631.0 1291.8L1631.8 1294.0L1630.9 1294.0L1629.5 1293.2L1629.7 1294.6L1628.7 1294.4L1628.7 1295.5L1627.4 1294.8L1628.1 1297.2L1631.7 1303.8L1621.6 1288.5A289 289 0 0 0 1676.3 1241.7ZM1609.4 1296.1L1618.6 1311.7L1613.5 1304.4L1613.3 1305.4L1611.8 1304.2L1611.3 1304.7L1611.4 1306.3L1610.1 1305.3L1610.4 1307.2L1609.4 1306.8L1608.7 1306.9L1607.8 1306.7L1607.2 1307.1L1606.6 1307.3L1607.3 1310.1L1605.2 1307.6L1604.7 1308.2L1604.0 1308.2L1604.1 1309.9L1603.3 1309.9L1602.9 1310.5L1602.4 1311.0L1602.2 1312.1L1600.8 1311.0L1601.4 1313.6L1599.4 1311.2L1599.0 1311.9L1599.6 1314.7L1597.7 1312.4L1597.2 1312.9L1596.6 1313.2L1595.6 1312.8L1596.2 1315.3L1594.5 1313.6L1594.2 1314.4L1593.8 1315.1L1592.6 1314.3L1592.7 1316.1L1591.5 1315.1L1591.5 1316.8L1590.7 1316.6L1589.8 1316.4L1588.9 1316.1L1588.4 1316.6L1588.5 1318.3L1588.3 1319.5L1586.5 1317.3L1587.2 1320.5L1585.1 1317.5L1586.0 1321.1L1584.7 1319.9L1583.6 1319.1L1582.9 1319.3L1582.6 1320.2L1581.8 1320.1L1581.0 1319.9L1580.3 1320.0L1579.5 1319.9L1579.2 1320.9L1578.7 1321.4L1577.7 1320.8L1577.3 1321.6L1576.6 1321.8L1576.2 1322.5L1575.5 1322.7L1574.7 1322.5L1574.3 1323.3L1573.8 1324.0L1573.8 1325.8L1572.1 1323.2L1571.5 1323.6L1571.2 1324.7L1570.3 1324.3L1570.3 1326.3L1569.4 1325.7L1569.0 1326.7L1567.8 1325.4L1567.3 1326.1L1567.9 1329.6L1565.8 1325.8L1566.0 1328.4L1565.2 1328.1L1563.8 1326.4L1563.3 1327.0L1563.1 1328.3L1562.7 1329.4L1561.4 1327.6L1560.8 1327.9L1560.0 1327.8L1559.8 1329.2L1559.2 1329.5L1558.3 1329.1L1558.0 1330.4L1556.9 1329.2L1556.2 1329.1L1555.5 1329.2L1554.8 1329.3L1554.4 1330.1L1553.6 1330.1L1554.3 1334.3L1552.4 1330.8L1553.4 1336.2L1551.5 1332.5L1550.9 1332.9L1554.0 1345.3L1547.3 1323.5A289 289 0 0 0 1609.4 1296.1ZM1534.0 1327.2L1539.1 1347.3L1535.7 1336.9L1535.2 1337.4L1534.3 1336.8L1533.3 1335.7L1533.1 1337.5L1532.3 1336.9L1531.9 1338.2L1530.8 1336.7L1530.5 1338.4L1529.7 1338.1L1529.2 1338.8L1528.2 1337.3L1527.6 1338.1L1527.0 1338.4L1526.0 1337.1L1525.5 1337.8L1524.8 1337.9L1524.3 1338.5L1524.1 1340.9L1523.5 1341.5L1522.3 1339.2L1521.5 1338.3L1520.9 1338.8L1520.3 1339.5L1519.5 1338.8L1519.0 1340.1L1518.3 1339.6L1517.5 1339.0L1516.9 1339.5L1516.1 1339.2L1515.9 1341.9L1515.1 1341.1L1514.3 1340.8L1513.6 1340.2L1513.4 1343.3L1512.2 1340.3L1512.0 1343.4L1510.8 1340.2L1510.3 1341.3L1509.9 1343.3L1508.9 1341.1L1508.2 1340.9L1508.0 1344.0L1506.9 1341.5L1506.5 1343.6L1505.7 1342.4L1504.8 1341.3L1504.1 1341.4L1503.6 1342.1L1502.8 1341.9L1502.5 1344.1L1501.9 1344.9L1500.9 1342.4L1500.1 1341.9L1499.7 1343.7L1498.8 1342.5L1498.3 1343.5L1497.5 1342.5L1497.2 1345.8L1496.2 1343.0L1495.7 1344.8L1494.9 1343.7L1494.0 1342.3L1493.4 1343.0L1492.9 1344.9L1492.2 1344.6L1491.7 1346.6L1490.7 1342.8L1490.1 1344.0L1489.5 1344.4L1488.7 1342.9L1488.0 1343.5L1487.5 1344.9L1486.7 1343.3L1486.1 1344.3L1485.7 1348.1L1484.7 1344.6L1484.0 1344.1L1483.4 1345.5L1482.6 1343.5L1482.0 1345.2L1481.2 1343.5L1480.6 1344.8L1480.1 1347.9L1479.2 1343.9L1478.6 1344.7L1477.9 1343.6L1477.3 1344.9L1476.5 1343.6L1475.9 1345.0L1475.2 1343.7L1474.5 1343.7L1473.8 1343.9L1473.2 1345.5L1472.5 1345.2L1471.9 1347.1L1471.2 1345.7L1470.5 1345.2L1469.9 1349.6L1469.2 1347.0L1468.5 1346.4L1467.9 1355.2L1467.6 1336.2A289 289 0 0 0 1534.0 1327.2ZM1453.6 1336.1L1452.8 1359.9L1452.7 1343.9L1451.9 1345.7L1451.2 1345.6L1450.6 1344.9L1449.9 1344.1L1449.1 1347.1L1448.6 1343.9L1447.8 1346.0L1447.2 1344.4L1446.4 1345.7L1445.8 1345.5L1445.0 1347.2L1444.4 1344.7L1443.8 1344.3L1443.0 1345.0L1442.5 1343.6L1441.8 1344.0L1441.1 1343.2L1440.3 1344.9L1439.6 1345.2L1438.9 1345.9L1438.2 1345.3L1437.7 1342.9L1437.0 1343.5L1436.2 1344.8L1435.4 1346.2L1434.7 1346.1L1434.1 1344.9L1433.7 1342.8L1433.0 1342.7L1432.2 1344.0L1431.4 1345.2L1430.9 1342.7L1430.3 1342.4L1429.5 1343.3L1428.8 1343.2L1427.9 1345.1L1427.5 1342.9L1426.8 1343.1L1426.1 1342.7L1425.5 1342.1L1424.8 1342.2L1424.1 1342.9L1423.5 1341.8L1422.6 1343.4L1422.1 1342.0L1421.5 1341.3L1420.7 1342.5L1419.9 1343.3L1419.4 1341.4L1418.1 1346.0L1418.2 1340.8L1416.8 1344.9L1416.4 1343.3L1415.7 1343.4L1415.4 1340.6L1414.5 1342.1L1414.1 1340.5L1413.4 1340.2L1412.6 1340.9L1411.9 1341.3L1411.1 1341.6L1410.1 1343.5L1410.1 1339.6L1408.2 1346.4L1408.5 1340.6L1407.9 1340.4L1407.3 1340.0L1405.9 1343.5L1405.8 1340.2L1404.9 1341.2L1404.7 1339.0L1403.9 1339.1L1403.0 1340.5L1402.6 1339.1L1402.1 1338.0L1401.2 1338.8L1399.9 1341.7L1400.1 1337.6L1399.3 1337.9L1398.6 1338.1L1397.9 1338.3L1397.4 1337.3L1396.6 1337.8L1396.0 1337.3L1395.5 1336.4L1394.4 1338.2L1393.8 1337.6L1393.4 1336.2L1392.6 1336.9L1392.1 1335.9L1391.5 1335.6L1390.8 1335.6L1389.6 1337.7L1389.3 1336.0L1387.5 1340.3L1387.9 1336.0L1387.1 1336.4L1383.5 1347.1L1388.9 1326.7A289 289 0 0 0 1453.6 1336.1ZM1374.9 1322.6L1368.9 1341.7L1371.7 1330.4L1370.7 1331.4L1368.3 1336.5L1369.6 1330.4L1369.3 1329.0L1368.3 1329.9L1366.5 1333.3L1367.2 1329.1L1366.4 1329.3L1365.9 1328.7L1365.3 1328.4L1364.4 1328.8L1363.9 1328.3L1363.1 1328.4L1362.5 1328.2L1361.5 1329.0L1361.7 1326.4L1359.6 1330.3L1360.0 1327.0L1359.7 1326.0L1359.0 1325.9L1357.9 1327.0L1357.9 1325.0L1356.5 1326.7L1355.0 1328.8L1355.8 1324.7L1355.0 1325.0L1354.2 1325.1L1354.0 1323.8L1352.9 1324.7L1352.3 1324.5L1351.2 1325.2L1351.1 1323.7L1350.6 1323.2L1349.6 1323.9L1349.3 1322.9L1348.0 1324.0L1347.7 1323.1L1347.0 1322.9L1347.0 1321.2L1346.6 1320.5L1345.5 1321.4L1344.3 1322.3L1344.6 1319.9L1343.8 1320.2L1343.4 1319.4L1341.4 1322.3L1341.6 1320.0L1341.2 1319.2L1340.1 1320.2L1339.9 1318.9L1339.6 1317.9L1338.6 1318.4L1338.5 1317.1L1337.9 1316.7L1337.0 1317.0L1336.3 1317.0L1335.2 1317.7L1334.9 1316.8L1333.8 1317.6L1333.6 1316.3L1332.7 1316.6L1332.1 1316.4L1331.8 1315.3L1330.7 1316.0L1331.0 1313.9L1330.7 1313.1L1330.0 1313.0L1329.0 1313.4L1327.9 1314.2L1326.7 1315.0L1325.5 1315.8L1327.0 1311.4L1326.4 1311.0L1325.5 1311.2L1325.2 1310.4L1324.1 1311.0L1323.5 1310.7L1323.2 1309.9L1321.4 1311.8L1320.6 1311.9L1320.8 1310.1L1319.8 1310.5L1320.3 1308.2L1319.7 1307.9L1316.9 1311.5L1317.3 1309.4L1317.4 1307.7L1316.6 1307.9L1317.0 1305.8L1316.2 1305.9L1309.7 1315.8L1319.6 1298.4A289 289 0 0 0 1374.9 1322.6ZM1307.4 1291.0L1296.6 1308.1L1302.0 1298.3L1302.1 1296.9L1298.5 1301.2L1300.9 1296.1L1299.6 1297.0L1299.1 1296.5L1297.3 1298.0L1297.9 1295.9L1296.1 1297.3L1297.3 1294.3L1293.1 1299.4L1295.4 1294.7L1295.3 1293.6L1295.0 1292.9L1294.5 1292.5L1293.5 1292.6L1293.0 1292.3L1293.1 1290.9L1292.0 1291.2L1291.0 1291.5L1291.3 1289.8L1290.2 1290.2L1287.6 1292.8L1289.5 1289.0L1288.6 1289.0L1287.5 1289.4L1288.0 1287.6L1286.8 1288.0L1285.7 1288.4L1286.4 1286.3L1283.6 1288.9L1284.9 1286.0L1281.6 1289.4L1283.3 1285.9L1283.4 1284.7L1280.5 1287.4L1281.7 1284.7L1280.0 1285.7L1281.6 1282.5L1280.0 1283.5L1279.4 1283.2L1279.5 1282.0L1278.7 1281.9L1278.8 1280.6L1277.9 1280.7L1277.9 1279.7L1275.3 1281.8L1275.4 1280.5L1275.7 1279.1L1275.5 1278.3L1273.4 1279.8L1273.7 1278.4L1270.2 1281.6L1272.9 1277.1L1271.6 1277.7L1271.7 1276.5L1271.4 1275.8L1271.0 1275.3L1270.8 1274.4L1270.3 1273.9L1270.1 1273.2L1269.5 1272.8L1268.2 1273.3L1266.0 1274.8L1267.2 1272.4L1267.1 1271.5L1266.7 1270.9L1266.0 1270.7L1264.4 1271.4L1264.3 1270.5L1263.8 1270.1L1263.0 1269.9L1263.9 1267.9L1262.0 1269.0L1263.0 1266.9L1262.0 1267.0L1261.1 1266.9L1259.8 1267.4L1260.8 1265.3L1258.7 1266.5L1259.2 1265.0L1259.4 1263.8L1258.5 1263.8L1257.7 1263.7L1256.9 1263.5L1256.7 1262.8L1256.3 1262.2L1256.0 1261.5L1255.5 1261.1L1255.2 1260.4L1254.4 1260.2L1252.8 1260.9L1244.9 1267.9L1259.6 1253.0A289 289 0 0 0 1307.4 1291.0ZM1250.1 1243.2L1237.2 1255.0L1242.0 1249.7L1243.2 1247.6L1242.8 1247.1L1241.5 1247.4L1240.5 1247.4L1241.5 1245.5L1241.0 1245.1L1239.7 1245.3L1239.0 1245.1L1236.4 1246.4L1237.1 1244.8L1237.3 1243.7L1238.5 1241.9L1236.9 1242.3L1236.4 1241.8L1236.8 1240.6L1236.4 1240.1L1235.7 1239.8L1235.7 1238.8L1235.3 1238.3L1234.9 1237.8L1233.6 1238.0L1233.3 1237.3L1230.9 1238.5L1232.8 1236.0L1231.3 1236.4L1227.6 1238.5L1230.6 1235.1L1228.6 1235.9L1230.8 1233.3L1230.0 1233.0L1229.8 1232.3L1229.1 1232.0L1228.3 1231.8L1228.2 1230.9L1228.3 1230.0L1225.1 1231.7L1227.6 1228.8L1225.9 1229.3L1224.4 1229.6L1225.5 1227.9L1223.3 1228.7L1224.9 1226.6L1223.4 1227.0L1219.7 1228.8L1224.0 1224.8L1223.3 1224.4L1220.8 1225.4L1221.5 1224.1L1221.0 1223.6L1219.4 1223.9L1221.7 1221.4L1220.7 1221.3L1219.6 1221.2L1219.2 1220.7L1220.2 1219.1L1218.9 1219.2L1217.7 1219.3L1217.7 1218.4L1217.2 1217.9L1217.9 1216.6L1217.8 1215.9L1217.7 1215.1L1217.2 1214.6L1216.0 1214.6L1216.4 1213.5L1213.9 1214.4L1215.3 1212.6L1213.7 1212.8L1213.8 1212.0L1213.4 1211.5L1213.1 1210.8L1212.4 1210.4L1211.8 1210.0L1212.1 1209.1L1209.8 1209.7L1211.1 1208.0L1210.1 1207.9L1210.5 1206.8L1211.2 1205.6L1210.7 1205.1L1210.0 1204.7L1208.9 1204.6L1209.3 1203.6L1208.4 1203.3L1208.8 1202.2L1208.1 1201.9L1208.5 1200.9L1207.2 1200.8L1199.5 1204.7L1214.5 1195.7A289 289 0 0 0 1250.1 1243.2ZM1207.8 1183.7L1192.0 1192.2L1198.7 1187.8L1198.2 1187.3L1193.9 1188.8L1197.1 1186.3L1197.2 1185.5L1199.0 1183.8L1198.5 1183.3L1194.8 1184.4L1197.1 1182.5L1196.2 1182.2L1196.3 1181.4L1195.9 1180.8L1195.2 1180.4L1195.4 1179.6L1195.4 1178.8L1194.7 1178.4L1192.8 1178.6L1195.2 1176.6L1192.2 1177.3L1192.9 1176.2L1192.9 1175.5L1193.6 1174.4L1191.2 1174.8L1192.9 1173.2L1192.0 1172.9L1192.9 1171.7L1192.3 1171.3L1192.2 1170.6L1191.7 1170.0L1190.0 1170.0L1191.4 1168.7L1190.9 1168.2L1185.9 1169.6L1190.0 1167.1L1188.7 1166.9L1190.1 1165.6L1188.8 1165.4L1188.4 1164.8L1189.0 1163.8L1188.9 1163.1L1188.3 1162.7L1186.2 1162.8L1186.7 1161.9L1187.9 1160.6L1187.9 1159.9L1186.3 1159.8L1185.3 1159.5L1184.7 1159.0L1186.8 1157.4L1184.5 1157.6L1186.3 1156.1L1184.9 1156.0L1181.8 1156.4L1181.5 1155.8L1183.8 1154.2L1183.7 1153.5L1182.4 1153.3L1184.3 1151.8L1184.1 1151.2L1183.6 1150.7L1183.3 1150.0L1182.8 1149.5L1180.6 1149.6L1178.9 1149.4L1181.8 1147.7L1182.6 1146.7L1180.6 1146.7L1179.3 1146.4L1180.6 1145.2L1180.8 1144.5L1181.6 1143.5L1179.9 1143.3L1180.8 1142.3L1180.4 1141.7L1180.4 1141.0L1178.2 1141.0L1178.5 1140.2L1179.9 1139.0L1179.8 1138.3L1179.2 1137.8L1179.2 1137.1L1178.6 1136.6L1177.0 1136.4L1178.4 1135.2L1177.1 1134.9L1176.8 1134.3L1176.7 1133.6L1177.4 1132.7L1176.7 1132.2L1176.3 1131.6L1166.1 1133.9L1185.1 1128.3A289 289 0 0 0 1207.8 1183.7ZM1181.3 1113.8L1164.7 1117.8L1172.5 1115.2L1172.1 1114.6L1172.6 1113.8L1173.0 1113.0L1170.6 1112.8L1172.8 1111.6L1171.9 1111.2L1172.2 1110.4L1169.2 1110.3L1172.2 1109.0L1169.5 1108.9L1171.7 1107.7L1171.4 1107.1L1170.2 1106.6L1170.9 1105.8L1170.1 1105.3L1166.9 1105.2L1170.2 1103.9L1170.6 1103.1L1168.7 1102.8L1170.3 1101.8L1167.7 1101.6L1169.1 1100.6L1169.2 1099.9L1169.5 1099.1L1170.2 1098.3L1164.8 1098.6L1169.8 1097.0L1168.0 1096.6L1168.2 1095.9L1169.2 1095.1L1166.9 1094.7L1168.5 1093.8L1166.6 1093.4L1168.6 1092.4L1167.6 1091.9L1166.9 1091.3L1168.4 1090.4L1164.9 1090.2L1167.7 1089.1L1168.3 1088.3L1167.1 1087.8L1167.9 1087.0L1166.4 1086.5L1166.5 1085.8L1168.1 1084.9L1167.4 1084.3L1167.7 1083.6L1167.5 1082.9L1167.3 1082.3L1167.2 1081.6L1166.2 1081.0L1166.1 1080.4L1166.9 1079.6L1165.0 1079.1L1166.4 1078.3L1166.9 1077.5L1166.9 1076.8L1165.0 1076.3L1164.8 1075.7L1165.8 1074.9L1164.5 1074.3L1166.5 1073.5L1163.5 1073.0L1164.0 1072.3L1163.8 1071.6L1165.7 1070.8L1164.6 1070.2L1166.5 1069.4L1166.4 1068.7L1164.3 1068.2L1161.9 1067.6L1164.3 1066.8L1165.0 1066.1L1165.0 1065.4L1163.9 1064.8L1164.9 1064.0L1165.2 1063.3L1163.9 1062.7L1165.5 1061.9L1165.2 1061.3L1155.4 1061.0L1173.8 1060.2A289 289 0 0 0 1181.3 1113.8ZM1173.5 1045.3L1153.9 1045.2L1164.5 1044.6L1164.6 1043.9L1165.8 1043.2L1164.7 1042.5L1165.3 1041.9L1163.5 1041.1L1165.4 1040.5L1165.6 1039.8L1165.4 1039.1L1164.5 1038.4L1165.1 1037.7L1164.8 1037.0L1164.6 1036.4L1164.8 1035.7L1166.0 1035.0L1165.9 1034.3L1164.7 1033.6L1164.4 1032.9L1160.4 1032.0L1166.1 1031.6L1163.6 1030.8L1164.3 1030.1L1163.8 1029.4L1163.1 1028.7L1165.8 1028.2L1164.9 1027.4L1164.6 1026.7L1164.7 1026.0L1164.6 1025.3L1164.2 1024.6L1165.4 1024.0L1165.0 1023.3L1166.7 1022.8L1166.6 1022.1L1161.5 1020.9L1165.0 1020.5L1163.0 1019.7L1164.2 1019.1L1166.4 1018.6L1165.8 1017.9L1165.1 1017.1L1164.1 1016.3L1165.2 1015.7L1163.5 1014.8L1166.3 1014.5L1164.1 1013.5L1166.6 1013.1L1167.8 1012.6L1167.1 1011.8L1166.4 1011.0L1167.8 1010.5L1168.0 1009.8L1165.1 1008.8L1167.5 1008.4L1162.4 1007.0L1166.5 1006.9L1167.5 1006.3L1163.1 1005.0L1166.3 1004.7L1168.1 1004.3L1168.2 1003.6L1168.3 1003.0L1168.1 1002.2L1168.3 1001.6L1165.6 1000.5L1166.8 999.9L1167.7 999.4L1169.2 998.9L1168.9 998.2L1168.3 997.4L1166.1 996.3L1169.0 996.1L1166.0 994.9L1168.4 994.6L1170.5 994.3L1170.4 993.6L1169.9 992.8L1170.6 992.2L1170.7 991.6L1169.9 990.7L1159.1 987.9L1178.9 991.8A289 289 0 0 0 1173.5 1045.3ZM1182.0 977.5L1160.4 972.1L1172.4 974.4L1172.4 973.7L1173.7 973.3L1173.6 972.6L1172.9 971.7L1173.7 971.2L1173.4 970.4L1174.2 969.9L1174.7 969.3L1174.4 968.5L1175.7 968.2L1176.5 967.7L1175.7 966.8L1170.5 964.6L1175.4 965.2L1175.4 964.5L1176.9 964.3L1177.7 963.8L1176.7 962.8L1175.7 961.8L1176.6 961.3L1175.5 960.3L1176.3 959.8L1178.5 959.7L1178.0 958.9L1177.8 958.1L1173.8 956.1L1178.2 956.8L1178.7 956.2L1179.6 955.8L1179.2 954.9L1179.5 954.3L1180.6 954.0L1180.0 953.1L1181.0 952.7L1176.6 950.5L1178.1 950.2L1180.8 950.4L1178.5 948.9L1181.7 949.3L1178.5 947.5L1182.6 948.2L1177.8 945.7L1182.4 946.7L1183.2 946.2L1183.5 945.6L1182.0 944.3L1182.6 943.8L1183.5 943.4L1182.2 942.2L1183.8 942.1L1181.4 940.4L1184.1 940.7L1183.9 939.9L1185.3 939.7L1185.1 938.9L1186.2 938.6L1185.5 937.6L1183.6 936.1L1185.7 936.2L1183.2 934.5L1187.3 935.4L1187.2 934.6L1185.9 933.3L1187.9 933.4L1187.9 932.7L1186.7 931.4L1187.5 931.0L1188.4 930.6L1188.7 930.0L1189.6 929.7L1189.4 928.8L1190.2 928.5L1188.7 927.1L1189.0 926.4L1190.9 926.5L1191.5 926.0L1190.8 925.0L1191.4 924.5L1182.6 919.7L1199.5 927.4A289 289 0 0 0 1182.0 977.5ZM1205.7 914.6L1195.9 909.5L1199.1 910.4L1200.1 910.2L1200.2 909.5L1201.8 909.6L1201.7 908.7L1201.1 907.7L1201.6 907.1L1202.8 907.0L1202.1 905.9L1201.7 904.9L1203.3 905.0L1202.1 903.5L1204.2 903.9L1203.2 902.6L1204.4 902.5L1203.4 901.1L1203.4 900.4L1204.8 900.3L1204.9 899.6L1204.5 898.6L1206.5 899.0L1205.3 897.5L1206.8 897.6L1206.8 896.8L1204.9 894.9L1207.9 895.9L1207.4 894.8L1206.9 893.7L1208.2 893.7L1208.0 892.8L1209.1 892.7L1207.3 890.7L1209.8 891.5L1208.7 890.0L1209.8 889.9L1207.4 887.5L1210.4 888.6L1210.5 887.9L1211.0 887.4L1204.5 882.4L1211.6 886.2L1212.3 885.8L1212.1 884.8L1209.1 882.0L1212.2 883.2L1213.3 883.2L1212.4 881.8L1213.8 881.8L1211.0 879.2L1214.1 880.4L1213.2 879.0L1215.2 879.5L1214.4 878.1L1215.2 877.8L1215.0 876.8L1214.5 875.7L1216.1 876.0L1217.0 875.7L1216.2 874.3L1217.4 874.3L1214.7 871.6L1215.2 871.1L1214.1 869.4L1217.6 871.1L1218.6 870.9L1219.2 870.5L1218.4 869.1L1218.5 868.3L1217.5 866.7L1219.2 867.1L1220.0 866.8L1217.2 863.9L1219.5 864.7L1221.1 865.1L1220.0 863.4L1221.1 863.3L1220.5 862.0L1217.9 859.1L1233.4 871.0A289 289 0 0 0 1205.7 914.6ZM1242.2 860.2L1229.1 849.0L1237.7 855.5L1238.7 855.4L1239.0 854.8L1236.6 851.8L1238.5 852.6L1237.7 851.0L1240.5 852.6L1240.7 851.8L1237.8 848.4L1240.1 849.4L1242.0 850.2L1240.8 848.3L1242.4 848.8L1242.9 848.3L1243.6 848.1L1244.2 847.7L1244.1 846.7L1244.6 846.2L1244.3 845.0L1245.5 845.3L1246.3 845.0L1245.5 843.4L1246.9 843.8L1247.0 842.9L1247.5 842.4L1246.6 840.7L1248.5 841.6L1249.1 841.1L1249.2 840.3L1249.6 839.8L1248.9 838.1L1250.8 839.0L1251.0 838.3L1251.6 837.9L1251.4 836.7L1248.8 833.2L1251.7 835.1L1252.9 835.3L1252.1 833.5L1253.5 834.0L1254.0 833.6L1254.7 833.3L1255.3 833.0L1254.5 831.1L1255.9 831.5L1254.8 829.5L1256.0 829.7L1256.4 829.2L1257.0 828.8L1256.1 826.8L1258.5 828.4L1257.8 826.6L1259.4 827.3L1259.7 826.7L1260.4 826.4L1259.8 824.7L1260.6 824.5L1261.6 824.7L1260.9 822.9L1261.9 822.9L1262.5 822.6L1262.8 821.9L1262.9 820.9L1262.9 819.9L1264.4 820.6L1264.7 819.9L1265.1 819.3L1265.7 819.0L1266.2 818.4L1266.3 817.5L1267.1 817.4L1267.2 816.4L1267.7 816.0L1267.4 814.6L1268.4 814.7L1263.5 807.7L1277.8 824.9A289 289 0 0 0 1242.2 860.2ZM1288.9 816.2L1278.4 802.2L1285.1 810.1L1285.6 809.6L1286.5 809.6L1287.4 809.8L1288.2 809.6L1288.6 809.2L1288.3 807.5L1288.7 807.0L1289.6 807.1L1290.4 807.1L1291.0 806.7L1290.8 805.2L1291.5 805.0L1290.3 802.3L1291.9 803.4L1293.7 804.6L1293.8 803.7L1293.3 801.7L1293.1 800.2L1295.8 803.0L1294.1 799.3L1294.9 799.2L1297.1 801.3L1297.6 800.8L1296.4 797.9L1298.5 799.7L1299.2 799.6L1298.9 797.9L1300.4 799.0L1300.3 797.6L1301.3 797.9L1301.5 796.8L1302.4 797.0L1302.1 795.3L1303.2 795.7L1303.8 795.5L1304.3 795.0L1302.1 790.1L1304.9 793.3L1303.1 789.1L1305.7 792.1L1306.2 791.6L1306.0 789.9L1308.1 792.0L1307.2 789.2L1308.9 790.7L1309.6 790.6L1307.4 785.5L1310.7 789.8L1310.6 788.2L1310.2 786.3L1312.1 788.1L1311.5 785.8L1311.3 783.9L1313.3 786.1L1313.0 784.1L1314.9 786.2L1314.2 783.4L1315.5 784.4L1314.3 780.8L1317.2 784.7L1317.6 784.0L1318.4 783.9L1318.3 782.4L1317.4 779.3L1318.6 780.1L1319.5 780.2L1320.3 780.2L1321.6 781.3L1321.6 779.7L1322.0 779.0L1323.2 779.9L1323.3 778.5L1323.5 777.5L1322.7 774.4L1324.7 776.8L1323.9 773.7L1331.9 789.4A289 289 0 0 0 1288.9 816.2ZM1344.1 783.6L1334.6 762.4L1341.8 776.7L1343.0 777.8L1342.7 775.4L1343.4 775.3L1344.5 776.1L1345.3 776.3L1345.1 774.2L1346.6 776.0L1347.1 775.4L1347.7 775.1L1348.4 774.9L1348.7 773.9L1349.7 774.5L1350.1 773.8L1350.3 772.6L1351.0 772.5L1351.5 771.9L1352.4 772.3L1352.9 771.8L1353.3 770.8L1354.3 771.6L1353.4 767.4L1355.6 771.2L1355.8 769.7L1356.4 769.4L1355.8 765.9L1357.6 768.9L1358.0 767.8L1358.8 768.1L1359.6 768.3L1360.0 767.4L1360.7 767.2L1361.0 766.3L1361.4 765.2L1362.7 766.9L1363.0 765.8L1364.0 766.4L1363.8 763.7L1365.0 765.2L1364.2 760.7L1366.5 765.4L1366.2 762.4L1367.0 762.6L1367.7 762.6L1367.9 761.0L1369.4 763.2L1369.6 761.8L1370.8 763.1L1371.4 762.8L1371.9 762.1L1372.5 761.9L1371.8 757.4L1373.5 760.5L1374.4 761.0L1374.5 759.1L1375.4 759.6L1375.1 756.3L1376.6 758.9L1377.1 758.0L1377.9 758.2L1378.1 756.7L1379.5 758.9L1378.1 751.6L1379.7 754.6L1381.2 757.4L1381.5 755.8L1382.4 756.6L1383.2 757.0L1383.8 756.4L1383.6 753.2L1385.0 755.7L1385.6 755.3L1386.1 754.3L1386.8 754.2L1387.1 752.6L1388.2 754.3L1386.4 744.2L1392.1 766.9A289 289 0 0 0 1344.1 783.6ZM1405.7 763.8L1401.4 742.4L1402.4 743.6L1403.0 742.8L1403.7 742.9L1404.3 742.0L1405.1 742.3L1405.8 742.4L1406.5 742.2L1406.9 740.7L1407.9 742.2L1408.3 740.3L1409.1 740.4L1409.8 740.1L1410.5 740.2L1411.4 741.1L1411.9 739.9L1412.7 740.2L1413.4 740.2L1414.2 740.4L1414.9 740.4L1415.4 738.7L1416.0 738.3L1416.7 737.8L1417.7 739.5L1418.1 737.5L1419.1 739.4L1419.6 738.0L1420.2 736.9L1421.1 738.3L1421.7 737.4L1422.6 738.6L1423.2 737.4L1424.0 738.3L1424.7 737.7L1425.2 736.4L1426.1 737.8L1426.7 736.8L1427.6 737.8L1428.1 735.8L1428.8 735.3L1429.6 736.2L1430.4 736.9L1431.0 736.4L1431.7 736.1L1432.4 735.3L1433.1 734.9L1433.9 736.4L1434.7 736.5L1435.2 734.8L1436.0 735.7L1436.7 735.3L1437.4 734.3L1438.1 734.3L1438.9 735.5L1439.5 734.1L1440.3 734.6L1441.1 735.1L1441.8 734.8L1442.5 735.1L1443.2 735.1L1443.9 733.9L1444.6 734.6L1445.3 733.6L1446.1 733.9L1446.8 734.3L1447.5 733.2L1448.7 758.5A289 289 0 0 0 1405.7 763.8Z" fill="#76bb5e" stroke="#76bb5e" stroke-width="0.3" stroke-linejoin="round"/>
<path d="M1477.4 798.6L1477.9 790.8L1478.6 790.3L1479.3 791.2L1479.9 791.7L1480.6 792.1L1481.6 786.9L1482.0 791.7L1482.6 791.7L1483.4 790.9L1484.1 790.8L1485.8 779.2L1485.3 792.8L1486.1 791.2L1486.7 792.2L1487.3 793.4L1488.0 793.1L1488.7 792.3L1489.3 793.1L1490.0 792.8L1490.6 794.4L1491.2 794.4L1492.5 789.7L1492.6 794.7L1493.2 795.2L1494.0 794.1L1494.5 795.1L1495.3 794.9L1496.0 794.8L1496.5 795.6L1498.0 790.1L1497.9 795.9L1498.5 795.8L1499.4 794.9L1500.0 795.2L1500.6 795.8L1501.4 795.2L1501.8 796.7L1502.7 795.2L1503.2 796.9L1504.0 796.1L1504.6 796.5L1505.2 797.0L1505.7 797.7L1506.9 795.3L1507.4 795.9L1508.1 796.2L1508.3 798.4L1509.1 797.9L1509.6 799.0L1510.4 798.5L1511.0 799.0L1511.7 798.8L1512.5 798.2L1513.5 796.8L1513.6 799.5L1514.2 799.9L1514.9 800.1L1515.7 799.6L1516.4 799.4L1516.9 800.1L1517.6 800.4L1518.1 800.9L1518.8 801.0L1519.4 801.4L1520.1 801.1L1521.0 800.2L1521.3 802.1L1522.3 800.7L1522.6 802.4L1523.3 802.3L1524.2 801.3L1524.6 802.6L1525.2 803.1L1526.4 800.9L1526.6 803.0L1527.3 803.0L1527.7 803.9L1528.4 804.2L1529.2 803.7L1530.2 802.7L1530.4 804.5L1531.8 801.9L1531.6 804.9L1532.2 805.4L1532.9 805.2L1533.5 805.7L1534.7 803.9L1536.5 800.2L1535.4 806.4L1536.3 805.7L1536.8 806.4L1537.5 806.4L1538.1 806.7L1538.6 807.1L1539.3 807.3L1540.3 806.4L1540.6 807.6L1541.5 807.0L1542.3 806.8L1542.6 807.9L1543.1 808.7L1544.0 808.1L1545.1 806.9L1544.9 809.4L1545.9 808.7L1546.6 808.6L1548.1 806.5L1547.6 809.8L1554.1 793.9L1547.2 813.0A249 249 0 0 0 1477.4 798.6ZM1558.3 817.4L1565.4 800.6L1562.0 810.3L1562.2 811.6L1562.8 812.0L1564.1 810.6L1564.4 811.7L1564.6 813.0L1565.4 812.9L1566.0 813.2L1566.9 812.8L1567.0 814.3L1567.4 814.9L1568.6 814.0L1568.8 815.1L1570.0 814.1L1569.9 815.9L1571.7 813.7L1571.0 816.9L1572.1 816.1L1572.7 816.4L1573.2 816.9L1573.1 818.6L1574.0 818.4L1574.5 818.8L1575.1 819.3L1576.3 818.3L1576.5 819.4L1576.8 820.3L1577.5 820.3L1578.3 820.3L1578.5 821.4L1579.1 821.6L1579.4 822.5L1581.1 820.8L1581.3 821.9L1581.1 823.6L1582.4 822.6L1582.5 823.8L1583.8 822.9L1584.5 823.1L1584.0 825.4L1585.3 824.4L1585.5 825.4L1586.4 825.2L1587.1 825.2L1587.3 826.2L1588.4 825.8L1587.9 827.9L1588.5 828.2L1590.1 826.7L1590.2 828.0L1590.5 828.8L1591.3 828.7L1592.6 827.9L1592.7 828.9L1592.6 830.6L1593.2 830.8L1594.1 830.6L1594.1 831.8L1594.7 832.2L1595.5 832.1L1596.0 832.6L1596.6 833.0L1596.9 833.7L1598.2 832.8L1598.9 833.0L1599.1 834.0L1599.8 834.2L1599.8 835.3L1600.4 835.7L1601.0 836.0L1602.1 835.4L1602.3 836.4L1602.8 836.8L1603.1 837.6L1604.1 837.4L1604.4 838.0L1604.6 839.0L1606.2 837.8L1606.3 838.9L1606.6 839.7L1607.3 839.8L1607.7 840.4L1608.2 840.8L1608.3 841.8L1609.4 841.4L1609.5 842.4L1610.2 842.6L1611.9 841.4L1610.9 844.0L1611.5 844.2L1612.2 844.4L1613.0 844.5L1613.6 844.8L1615.3 843.6L1614.5 845.8L1614.9 846.3L1615.3 847.0L1615.8 847.3L1617.0 847.0L1616.8 848.3L1618.1 847.7L1618.0 848.9L1618.3 849.6L1619.1 849.7L1619.9 849.8L1631.4 836.4L1618.2 852.9A249 249 0 0 0 1558.3 817.4ZM1627.8 860.9L1640.4 846.7L1633.2 855.8L1633.8 856.2L1633.8 857.2L1635.2 856.7L1634.8 858.1L1635.8 858.1L1636.1 858.7L1636.8 859.0L1637.3 859.4L1636.7 861.1L1637.6 861.1L1639.1 860.6L1638.2 862.5L1639.4 862.1L1639.0 863.6L1639.9 863.6L1640.0 864.5L1640.4 865.0L1640.9 865.5L1641.2 866.1L1641.6 866.7L1642.0 867.3L1643.1 867.1L1642.9 868.3L1643.5 868.6L1643.9 869.3L1645.1 869.0L1645.5 869.6L1645.3 870.7L1645.3 871.6L1645.7 872.2L1646.7 872.1L1647.3 872.5L1646.9 873.8L1647.9 873.8L1648.1 874.6L1650.2 873.5L1649.7 874.9L1649.2 876.2L1653.1 873.6L1650.2 877.2L1650.3 878.0L1651.6 877.7L1651.4 878.8L1651.9 879.3L1652.0 880.1L1653.0 880.1L1653.6 880.5L1653.6 881.4L1655.4 880.7L1654.8 882.2L1655.0 882.8L1659.3 880.1L1655.6 884.1L1657.0 883.8L1656.3 885.2L1657.0 885.5L1657.6 885.9L1658.9 885.8L1659.1 886.5L1659.0 887.4L1659.3 888.1L1662.4 886.4L1660.6 888.7L1660.5 889.6L1661.3 889.9L1660.8 891.1L1661.4 891.5L1663.1 891.0L1663.1 891.9L1662.8 893.0L1662.5 894.0L1663.2 894.4L1663.3 895.1L1664.0 895.5L1664.8 895.7L1664.9 896.4L1664.8 897.3L1665.6 897.6L1665.6 898.4L1666.0 899.0L1666.7 899.3L1667.0 899.9L1667.4 900.5L1667.5 901.2L1668.4 901.3L1668.3 902.3L1668.9 902.6L1669.4 903.1L1670.4 903.2L1671.3 903.5L1670.9 904.6L1671.5 905.0L1671.7 905.6L1671.2 906.8L1671.7 907.2L1672.3 907.7L1673.7 907.5L1672.8 908.9L1674.5 908.6L1673.6 910.0L1691.6 899.2L1671.6 912.1A249 249 0 0 0 1627.8 860.9ZM1678.2 922.8L1695.1 913.1L1684.6 919.9L1685.7 920.0L1685.1 921.2L1685.2 921.9L1685.6 922.5L1686.4 922.8L1686.7 923.4L1686.3 924.4L1686.9 924.9L1686.7 925.7L1687.7 925.9L1687.3 927.0L1687.9 927.4L1687.6 928.3L1688.7 928.5L1688.7 929.3L1688.9 929.9L1688.9 930.7L1689.7 931.0L1690.8 931.2L1690.4 932.2L1690.1 933.1L1690.9 933.4L1692.0 933.7L1691.0 934.9L1690.9 935.7L1690.9 936.4L1691.4 937.0L1691.8 937.5L1691.7 938.3L1692.9 938.5L1691.9 939.7L1692.6 940.1L1693.5 940.5L1692.9 941.5L1693.8 941.8L1693.0 942.9L1694.7 942.9L1694.0 943.9L1694.1 944.6L1694.1 945.4L1694.1 946.1L1694.3 946.7L1695.7 946.9L1697.4 946.9L1696.5 948.0L1696.1 948.9L1695.7 949.8L1696.4 950.2L1696.4 951.0L1697.5 951.2L1696.8 952.2L1697.6 952.6L1697.5 953.4L1698.8 953.6L1697.5 954.8L1698.4 955.2L1698.8 955.8L1698.3 956.7L1698.1 957.5L1698.5 958.0L1699.4 958.4L1699.0 959.3L1701.5 959.1L1700.4 960.2L1699.8 961.1L1700.4 961.7L1700.7 962.2L1700.5 963.0L1700.4 963.8L1702.3 963.8L1700.9 965.0L1700.8 965.8L1701.7 966.2L1701.4 967.0L1702.0 967.5L1703.2 967.8L1702.4 968.8L1702.9 969.3L1703.3 969.9L1702.5 970.8L1704.7 970.8L1705.2 971.4L1703.7 972.6L1704.3 973.1L1703.7 974.0L1704.2 974.5L1704.4 975.1L1703.8 976.0L1706.8 975.8L1705.7 976.9L1704.7 977.9L1705.0 978.5L1705.4 979.0L1705.3 979.8L1707.1 980.0L1705.5 981.1L1705.8 981.7L1708.8 981.6L1707.5 982.6L1721.3 979.7L1703.4 984.4A249 249 0 0 0 1678.2 922.8ZM1706.5 997.4L1724.9 993.6L1709.4 997.5L1710.1 998.0L1710.0 998.7L1709.6 999.5L1710.3 1000.0L1710.2 1000.7L1710.8 1001.3L1710.9 1001.9L1710.6 1002.7L1711.0 1003.3L1711.4 1003.9L1712.4 1004.4L1712.2 1005.1L1711.8 1005.8L1711.3 1006.6L1712.2 1007.1L1711.7 1007.9L1712.9 1008.4L1712.2 1009.2L1711.6 1009.9L1712.5 1010.5L1712.3 1011.2L1712.7 1011.8L1712.7 1012.5L1713.9 1013.0L1714.8 1013.5L1712.4 1014.5L1712.2 1015.2L1712.7 1015.8L1712.5 1016.5L1713.0 1017.1L1713.4 1017.8L1713.2 1018.5L1713.3 1019.1L1713.4 1019.8L1712.9 1020.5L1713.2 1021.1L1713.5 1021.8L1713.3 1022.5L1715.9 1022.9L1714.1 1023.7L1714.6 1024.4L1713.9 1025.1L1713.5 1025.8L1713.5 1026.5L1714.9 1027.0L1714.0 1027.8L1714.1 1028.4L1713.9 1029.1L1714.7 1029.7L1714.4 1030.4L1715.0 1031.0L1715.8 1031.7L1714.5 1032.4L1714.4 1033.1L1718.3 1033.5L1715.1 1034.4L1714.3 1035.1L1714.3 1035.8L1716.0 1036.3L1715.1 1037.1L1714.8 1037.7L1715.0 1038.4L1716.1 1039.0L1715.7 1039.7L1714.2 1040.4L1714.5 1041.1L1714.4 1041.8L1714.3 1042.4L1715.2 1043.1L1714.6 1043.7L1716.6 1044.4L1715.9 1045.1L1714.2 1045.7L1714.7 1046.4L1714.6 1047.1L1714.5 1047.7L1715.9 1048.4L1714.8 1049.1L1715.7 1049.8L1714.7 1050.4L1715.7 1051.1L1714.4 1051.7L1714.5 1052.4L1714.3 1053.1L1714.2 1053.7L1715.0 1054.4L1714.4 1055.1L1715.2 1055.8L1715.0 1056.4L1715.4 1057.1L1714.9 1057.8L1714.0 1058.4L1714.6 1059.1L1715.8 1059.8L1714.1 1060.4L1716.2 1061.2L1714.4 1061.7L1713.9 1062.4L1714.8 1063.1L1734.8 1065.1L1711.0 1063.5A249 249 0 0 0 1706.5 997.4ZM1709.8 1076.6L1733.1 1079.3L1713.6 1077.7L1712.6 1078.2L1714.4 1079.1L1712.8 1079.6L1713.5 1080.4L1712.2 1080.9L1712.2 1081.5L1712.9 1082.3L1714.5 1083.2L1711.9 1083.5L1712.3 1084.2L1713.1 1085.0L1712.0 1085.6L1712.7 1086.3L1712.1 1086.9L1711.7 1087.5L1714.3 1088.6L1710.8 1088.7L1711.6 1089.6L1710.9 1090.1L1711.2 1090.8L1711.0 1091.5L1712.0 1092.3L1710.5 1092.8L1710.0 1093.3L1711.0 1094.2L1710.0 1094.7L1711.7 1095.7L1710.1 1096.1L1712.5 1097.2L1709.7 1097.4L1709.2 1097.9L1711.7 1099.1L1708.9 1099.2L1709.4 1100.0L1708.6 1100.5L1709.3 1101.4L1708.6 1101.9L1709.2 1102.7L1711.4 1103.9L1707.8 1103.8L1707.8 1104.4L1712.1 1106.1L1709.2 1106.2L1708.0 1106.5L1707.5 1107.1L1707.6 1107.8L1706.7 1108.3L1707.9 1109.3L1708.1 1110.0L1708.7 1110.9L1706.1 1110.9L1706.0 1111.5L1706.6 1112.4L1705.7 1112.8L1705.5 1113.5L1705.3 1114.1L1705.3 1114.8L1706.0 1115.7L1705.4 1116.2L1704.9 1116.8L1705.9 1117.8L1705.6 1118.4L1704.7 1118.8L1704.5 1119.4L1704.2 1120.0L1705.2 1121.0L1703.5 1121.2L1703.1 1121.8L1702.7 1122.4L1704.6 1123.7L1702.5 1123.7L1703.3 1124.6L1702.7 1125.2L1703.8 1126.2L1701.9 1126.3L1704.4 1127.8L1702.0 1127.7L1701.6 1128.3L1701.2 1128.9L1701.5 1129.7L1701.1 1130.3L1700.9 1130.9L1700.3 1131.4L1700.4 1132.1L1700.6 1132.9L1700.0 1133.4L1699.1 1133.8L1699.1 1134.5L1698.9 1135.2L1699.2 1136.0L1699.7 1136.9L1698.2 1137.0L1698.4 1137.8L1697.5 1138.2L1698.0 1139.1L1697.0 1139.4L1714.0 1146.9L1694.0 1138.9A249 249 0 0 0 1709.8 1076.6ZM1688.9 1150.8L1707.2 1159.1L1694.6 1154.1L1690.9 1153.2L1691.8 1154.3L1691.9 1155.1L1690.9 1155.4L1689.9 1155.6L1690.4 1156.6L1689.5 1156.9L1690.7 1158.3L1688.6 1158.0L1689.1 1159.0L1688.1 1159.2L1687.8 1159.9L1688.8 1161.1L1687.7 1161.3L1687.2 1161.8L1686.8 1162.4L1686.7 1163.0L1685.8 1163.4L1687.4 1164.9L1686.1 1165.0L1688.7 1167.2L1685.5 1166.2L1684.8 1166.6L1684.1 1167.0L1684.2 1167.8L1683.4 1168.1L1684.3 1169.4L1683.2 1169.5L1682.5 1169.9L1682.1 1170.5L1682.9 1171.7L1681.4 1171.6L1681.2 1172.3L1681.8 1173.4L1681.7 1174.1L1681.2 1174.6L1680.3 1174.9L1682.4 1176.9L1680.5 1176.5L1681.5 1177.9L1679.3 1177.4L1678.5 1177.7L1677.9 1178.1L1677.8 1178.8L1677.5 1179.4L1676.8 1179.8L1677.0 1180.7L1676.2 1181.0L1677.1 1182.4L1676.0 1182.5L1674.9 1182.6L1674.9 1183.4L1674.0 1183.6L1674.2 1184.5L1674.4 1185.5L1673.6 1185.7L1673.1 1186.2L1672.6 1186.7L1672.4 1187.3L1672.7 1188.4L1672.2 1188.9L1671.6 1189.3L1673.3 1191.2L1672.4 1191.5L1669.9 1190.5L1669.4 1191.0L1669.1 1191.6L1668.7 1192.1L1668.4 1192.7L1668.7 1193.8L1667.8 1194.0L1668.1 1195.0L1667.5 1195.4L1666.1 1195.2L1665.7 1195.8L1669.3 1199.2L1666.0 1197.6L1666.3 1198.7L1665.1 1198.7L1664.6 1199.1L1664.6 1200.0L1665.0 1201.2L1663.0 1200.5L1662.5 1200.9L1661.9 1201.3L1662.5 1202.6L1661.4 1202.6L1660.5 1202.7L1660.7 1203.8L1661.2 1205.0L1659.2 1204.3L1658.9 1204.9L1658.8 1205.7L1658.5 1206.3L1660.6 1208.9L1658.2 1207.8L1670.4 1218.7L1654.6 1205.7A249 249 0 0 0 1688.9 1150.8ZM1646.7 1214.7L1662.5 1229.1L1648.7 1217.4L1648.3 1218.0L1647.7 1218.4L1647.0 1218.6L1646.5 1219.1L1646.8 1220.3L1646.4 1220.8L1645.1 1220.6L1646.0 1222.3L1644.4 1221.8L1645.8 1224.0L1643.6 1222.8L1643.6 1223.7L1645.8 1226.8L1642.0 1224.0L1641.9 1224.9L1641.1 1225.1L1640.7 1225.6L1640.5 1226.4L1640.1 1226.9L1639.5 1227.2L1639.8 1228.5L1638.7 1228.3L1638.3 1228.9L1638.2 1229.8L1636.9 1229.4L1636.3 1229.7L1635.7 1230.1L1636.4 1231.7L1634.7 1230.9L1634.1 1231.3L1633.8 1231.9L1633.3 1232.4L1633.7 1233.8L1633.5 1234.6L1634.9 1237.1L1631.7 1234.7L1631.3 1235.2L1630.7 1235.5L1630.0 1235.7L1629.2 1235.9L1628.8 1236.4L1628.8 1237.4L1628.7 1238.3L1628.2 1238.8L1626.9 1238.2L1626.4 1238.8L1625.8 1239.0L1626.4 1240.8L1627.8 1243.5L1624.6 1240.7L1623.9 1241.0L1624.4 1242.6L1622.7 1241.6L1622.4 1242.3L1625.2 1246.8L1621.1 1242.9L1620.9 1243.6L1620.5 1244.2L1619.7 1244.3L1619.4 1244.9L1618.8 1245.3L1618.8 1246.4L1617.4 1245.7L1617.2 1246.6L1617.1 1247.5L1616.7 1248.1L1615.2 1247.3L1615.0 1248.1L1614.9 1249.1L1614.3 1249.4L1613.1 1248.9L1612.6 1249.3L1612.5 1250.3L1611.7 1250.4L1611.6 1251.4L1611.0 1251.7L1610.5 1252.2L1609.5 1252.0L1609.7 1253.3L1608.6 1252.9L1608.2 1253.5L1607.4 1253.6L1607.2 1254.4L1606.8 1255.0L1606.4 1255.6L1605.3 1255.2L1604.7 1255.6L1603.9 1255.6L1603.9 1256.7L1603.0 1256.6L1603.1 1258.0L1601.6 1257.0L1609.0 1269.3L1599.6 1255.1A249 249 0 0 0 1646.7 1214.7ZM1589.1 1261.6L1600.9 1281.7L1591.6 1267.3L1589.5 1264.9L1589.8 1266.9L1588.6 1266.2L1587.6 1265.7L1587.5 1266.8L1587.7 1268.6L1586.8 1268.3L1585.5 1267.3L1584.8 1267.6L1584.9 1269.1L1583.9 1268.7L1583.0 1268.4L1582.5 1268.8L1582.3 1269.8L1581.2 1269.3L1580.9 1270.1L1580.0 1269.9L1579.4 1270.2L1578.9 1270.7L1579.0 1272.3L1578.0 1271.8L1577.4 1272.0L1577.0 1272.7L1576.2 1272.7L1576.0 1273.7L1575.2 1273.7L1574.4 1273.5L1573.7 1273.7L1572.9 1273.5L1572.4 1274.0L1572.4 1275.5L1571.2 1274.7L1571.0 1275.7L1570.3 1275.9L1569.5 1275.6L1569.1 1276.4L1568.2 1275.9L1568.2 1277.6L1567.4 1277.4L1567.2 1278.7L1565.7 1277.0L1565.5 1278.1L1564.5 1277.5L1564.0 1278.0L1563.5 1278.6L1563.1 1279.3L1562.4 1279.3L1561.7 1279.4L1560.9 1279.4L1560.8 1280.7L1559.8 1280.1L1559.3 1280.6L1558.5 1280.5L1558.3 1281.6L1557.3 1281.0L1556.8 1281.7L1556.3 1282.1L1557.3 1286.6L1554.6 1281.6L1554.7 1283.4L1553.4 1282.1L1553.3 1283.5L1552.2 1282.7L1551.8 1283.4L1551.2 1283.7L1550.7 1284.4L1549.6 1283.4L1549.1 1283.7L1548.8 1285.1L1548.1 1285.1L1547.6 1285.6L1546.5 1284.6L1545.9 1284.8L1545.8 1286.6L1545.2 1287.0L1544.2 1286.1L1543.4 1285.6L1542.8 1286.1L1542.1 1286.1L1542.5 1289.4L1541.0 1286.8L1540.3 1286.9L1539.7 1287.4L1539.2 1287.8L1538.6 1288.3L1537.9 1288.3L1537.1 1288.0L1542.2 1306.8L1535.6 1285.2A249 249 0 0 0 1589.1 1261.6ZM1524.1 1288.5L1529.7 1310.5L1524.2 1291.7L1523.6 1291.9L1523.0 1292.4L1522.2 1291.9L1521.9 1293.6L1520.9 1292.5L1520.2 1292.4L1519.6 1292.7L1519.0 1293.1L1519.5 1298.4L1517.7 1293.4L1517.0 1293.3L1516.8 1295.6L1515.7 1293.6L1515.2 1294.7L1514.7 1295.6L1514.1 1295.8L1513.1 1294.5L1512.6 1295.2L1511.7 1294.3L1511.2 1295.0L1510.4 1294.6L1510.1 1296.7L1509.0 1294.8L1508.4 1294.9L1507.8 1295.5L1507.2 1296.0L1506.5 1295.6L1505.7 1295.3L1505.1 1295.4L1504.5 1295.9L1504.0 1297.5L1503.1 1295.8L1502.8 1298.2L1501.7 1296.0L1501.3 1297.6L1500.7 1298.2L1499.8 1296.5L1499.2 1297.3L1498.5 1296.9L1498.0 1298.1L1497.4 1298.9L1496.5 1297.3L1495.8 1297.3L1495.1 1297.1L1494.5 1297.4L1493.8 1297.4L1493.2 1298.4L1492.4 1297.4L1492.2 1301.0L1491.3 1299.6L1490.5 1298.1L1489.8 1298.2L1489.3 1299.3L1488.5 1298.4L1487.8 1298.5L1487.1 1298.2L1486.5 1298.8L1485.7 1298.1L1485.1 1298.6L1484.5 1298.9L1483.8 1298.7L1483.1 1298.2L1482.4 1298.7L1481.8 1298.9L1481.1 1298.7L1480.4 1299.2L1479.8 1300.1L1479.1 1298.9L1478.4 1299.6L1477.7 1298.9L1477.2 1302.0L1476.4 1298.8L1475.7 1298.9L1475.0 1299.4L1474.4 1299.5L1473.7 1300.2L1473.0 1299.2L1472.3 1299.5L1471.6 1298.9L1471.0 1299.8L1470.3 1299.0L1469.7 1302.0L1469.0 1299.1L1468.3 1299.0L1467.6 1299.5L1467.3 1319.3L1466.9 1296.2A249 249 0 0 0 1524.1 1288.5ZM1454.8 1296.1L1454.2 1316.9L1454.0 1300.3L1453.3 1299.7L1452.6 1301.9L1452.0 1300.9L1451.3 1299.7L1450.7 1298.7L1450.0 1299.8L1449.3 1299.4L1448.6 1299.6L1448.0 1299.3L1447.3 1299.6L1446.6 1299.1L1446.0 1298.8L1445.3 1298.9L1444.6 1298.7L1444.0 1298.8L1443.2 1299.9L1442.6 1299.5L1442.0 1298.1L1441.3 1298.7L1440.6 1299.2L1439.9 1298.7L1439.3 1297.9L1438.2 1303.1L1438.0 1297.8L1437.3 1298.0L1436.6 1298.4L1435.8 1298.8L1435.1 1299.2L1434.5 1298.6L1434.0 1297.3L1433.1 1299.5L1432.5 1298.6L1431.9 1297.7L1431.1 1298.8L1430.6 1297.1L1429.9 1297.8L1429.3 1297.2L1428.7 1296.7L1428.0 1296.6L1427.2 1297.5L1426.6 1296.9L1425.9 1297.0L1425.2 1297.4L1424.4 1297.8L1423.8 1297.4L1423.2 1296.8L1422.5 1297.1L1422.0 1296.1L1421.4 1295.6L1420.7 1295.6L1419.9 1296.0L1419.2 1296.0L1418.7 1295.2L1418.0 1295.4L1417.3 1295.1L1415.9 1299.3L1415.9 1295.4L1415.2 1295.5L1414.7 1294.6L1413.9 1295.3L1413.3 1294.7L1411.6 1300.1L1412.1 1294.0L1411.1 1295.4L1410.5 1294.9L1409.6 1296.2L1409.5 1293.4L1408.4 1295.2L1408.0 1294.1L1407.4 1293.5L1406.4 1294.9L1405.6 1295.2L1405.4 1293.0L1404.7 1293.1L1403.8 1293.9L1403.6 1292.0L1402.9 1292.2L1402.3 1291.6L1401.5 1292.1L1400.9 1291.6L1400.0 1292.5L1399.6 1291.3L1398.9 1291.5L1394.2 1306.7L1399.1 1288.0A249 249 0 0 0 1454.8 1296.1ZM1387.0 1284.5L1379.8 1307.2L1385.4 1287.5L1384.4 1288.2L1384.2 1286.8L1383.3 1287.5L1383.0 1286.2L1382.3 1286.1L1381.8 1285.7L1381.1 1285.7L1380.5 1285.4L1379.5 1286.1L1378.9 1285.7L1378.4 1285.3L1377.8 1284.8L1377.3 1284.4L1376.7 1284.1L1375.6 1285.2L1375.1 1284.4L1374.4 1284.5L1373.9 1283.8L1373.4 1283.2L1372.5 1283.8L1372.2 1282.7L1371.7 1282.2L1370.7 1282.9L1370.4 1281.8L1369.7 1281.6L1369.2 1281.2L1368.4 1281.4L1368.0 1280.7L1367.2 1280.8L1366.7 1280.4L1365.4 1281.8L1365.4 1279.8L1364.3 1280.7L1363.8 1280.2L1363.7 1278.8L1363.0 1278.6L1362.0 1279.3L1361.5 1278.9L1360.5 1279.3L1360.0 1278.9L1359.6 1278.1L1358.6 1278.7L1357.7 1279.1L1358.0 1276.9L1357.4 1276.4L1357.0 1275.9L1356.1 1276.1L1355.6 1275.6L1354.8 1275.9L1354.6 1274.7L1353.6 1275.1L1352.7 1275.4L1352.6 1274.3L1351.3 1275.2L1351.1 1274.1L1350.0 1274.8L1350.1 1273.1L1349.1 1273.7L1349.0 1272.5L1348.0 1272.9L1347.7 1272.0L1347.1 1271.7L1346.4 1271.6L1346.2 1270.6L1345.3 1270.8L1344.7 1270.5L1344.1 1270.3L1343.8 1269.4L1341.7 1271.9L1342.2 1269.5L1342.0 1268.5L1341.1 1268.7L1340.8 1267.9L1340.4 1267.3L1339.5 1267.5L1338.9 1267.2L1338.2 1267.2L1329.7 1280.7L1339.4 1263.6A249 249 0 0 0 1387.0 1284.5ZM1328.9 1257.3L1317.6 1275.0L1326.4 1260.0L1326.2 1258.9L1325.5 1258.8L1325.1 1258.2L1324.4 1258.0L1324.0 1257.5L1323.0 1257.8L1322.4 1257.5L1321.6 1257.4L1320.9 1257.3L1321.0 1256.0L1320.3 1255.8L1319.1 1256.3L1319.0 1255.4L1318.6 1254.8L1317.6 1255.0L1317.9 1253.4L1316.7 1253.9L1316.6 1252.9L1315.9 1252.8L1315.0 1252.9L1314.5 1252.4L1313.8 1252.3L1313.8 1251.2L1313.4 1250.5L1312.5 1250.6L1312.4 1249.7L1310.9 1250.5L1311.3 1248.8L1308.4 1251.7L1310.1 1248.3L1309.3 1248.2L1309.1 1247.3L1307.1 1248.9L1307.9 1246.7L1307.0 1246.8L1306.6 1246.3L1305.8 1246.1L1305.6 1245.3L1305.0 1245.0L1304.3 1244.9L1304.1 1244.0L1303.8 1243.3L1303.3 1242.8L1303.0 1242.2L1301.4 1243.1L1302.1 1241.2L1301.0 1241.4L1300.7 1240.8L1300.4 1240.1L1299.9 1239.7L1298.6 1240.2L1298.2 1239.6L1297.6 1239.2L1297.6 1238.3L1297.4 1237.4L1296.1 1238.0L1295.9 1237.1L1295.3 1236.8L1295.1 1236.0L1294.1 1236.2L1293.8 1235.5L1293.4 1234.9L1293.3 1234.0L1292.6 1233.8L1292.3 1233.2L1291.4 1233.2L1290.8 1232.8L1291.0 1231.7L1289.5 1232.3L1290.0 1230.7L1289.2 1230.6L1287.0 1232.0L1288.4 1229.5L1288.1 1228.9L1286.5 1229.6L1287.0 1228.1L1286.5 1227.6L1285.1 1228.1L1274.5 1237.9L1287.7 1224.5A249 249 0 0 0 1328.9 1257.3ZM1279.5 1216.0L1264.2 1230.2L1276.7 1217.7L1276.5 1216.9L1275.9 1216.6L1273.9 1217.5L1274.8 1215.8L1274.5 1215.1L1274.0 1214.7L1273.1 1214.5L1272.6 1214.1L1272.8 1213.0L1272.0 1212.8L1272.0 1212.0L1268.1 1214.4L1269.4 1212.4L1270.0 1211.0L1270.4 1209.8L1269.9 1209.3L1268.3 1209.8L1269.0 1208.3L1268.1 1208.2L1267.5 1207.8L1267.0 1207.4L1266.9 1206.6L1266.9 1205.7L1265.4 1206.1L1265.5 1205.1L1265.5 1204.2L1265.2 1203.6L1264.7 1203.2L1264.0 1202.8L1260.5 1204.8L1262.6 1202.2L1262.2 1201.6L1262.4 1200.7L1262.0 1200.1L1261.5 1199.7L1260.3 1199.7L1260.6 1198.7L1260.0 1198.2L1256.4 1200.1L1259.5 1196.9L1258.7 1196.7L1258.0 1196.4L1258.6 1195.1L1257.2 1195.3L1253.8 1196.9L1256.7 1194.0L1256.5 1193.3L1256.0 1192.8L1255.5 1192.4L1255.3 1191.6L1255.4 1190.8L1254.6 1190.5L1254.8 1189.5L1253.2 1189.9L1254.0 1188.5L1252.5 1188.7L1252.7 1187.7L1252.9 1186.8L1252.6 1186.2L1251.8 1185.9L1251.7 1185.2L1250.8 1185.0L1251.0 1184.0L1249.5 1184.2L1250.2 1183.0L1249.0 1182.9L1249.3 1181.9L1248.2 1181.8L1248.7 1180.7L1246.8 1181.1L1248.3 1179.4L1246.6 1179.6L1247.4 1178.3L1246.5 1178.1L1245.9 1177.7L1230.0 1186.4L1248.9 1175.1A249 249 0 0 0 1279.5 1216.0ZM1243.0 1164.8L1224.9 1174.6L1238.6 1166.4L1240.0 1164.9L1239.4 1164.5L1238.7 1164.1L1238.7 1163.3L1238.8 1162.6L1237.1 1162.7L1237.7 1161.6L1237.8 1160.8L1237.5 1160.2L1233.3 1161.5L1236.0 1159.4L1236.7 1158.4L1236.3 1157.8L1234.8 1157.8L1232.4 1158.2L1234.5 1156.4L1235.0 1155.5L1234.4 1155.0L1233.4 1154.7L1233.7 1153.8L1233.8 1153.1L1232.9 1152.7L1233.0 1151.9L1233.1 1151.2L1230.2 1151.8L1232.6 1149.9L1231.1 1149.9L1230.6 1149.3L1230.4 1148.7L1231.3 1147.6L1228.9 1147.8L1230.4 1146.5L1228.6 1146.5L1229.9 1145.2L1229.0 1144.9L1229.5 1143.9L1229.0 1143.4L1229.0 1142.7L1228.6 1142.1L1228.7 1141.4L1227.4 1141.2L1228.2 1140.1L1226.6 1140.0L1227.8 1138.9L1223.6 1139.8L1227.2 1137.7L1227.0 1137.0L1227.0 1136.3L1225.8 1136.0L1226.2 1135.2L1226.3 1134.4L1225.8 1133.9L1225.2 1133.4L1224.7 1132.9L1225.1 1132.0L1225.1 1131.3L1224.8 1130.7L1223.5 1130.4L1222.7 1130.0L1222.4 1129.3L1222.2 1128.7L1223.5 1127.6L1223.0 1127.0L1222.9 1126.4L1222.1 1125.9L1221.8 1125.3L1222.3 1124.4L1222.2 1123.7L1222.1 1123.1L1221.3 1122.6L1222.0 1121.7L1220.7 1121.4L1220.4 1120.8L1220.4 1120.1L1220.6 1119.3L1220.9 1118.5L1203.3 1123.0L1223.5 1117.1A249 249 0 0 0 1243.0 1164.8ZM1220.2 1104.6L1201.0 1109.2L1217.3 1104.6L1217.2 1103.9L1215.7 1103.6L1216.8 1102.6L1216.8 1102.0L1215.4 1101.6L1216.1 1100.7L1215.5 1100.2L1216.2 1099.3L1214.8 1098.9L1215.8 1098.0L1215.2 1097.5L1214.9 1096.8L1215.4 1096.0L1215.4 1095.3L1214.7 1094.8L1214.3 1094.2L1214.9 1093.4L1213.2 1093.0L1209.6 1093.0L1213.9 1091.5L1213.5 1090.9L1213.1 1090.3L1213.6 1089.5L1214.1 1088.7L1213.1 1088.2L1214.0 1087.4L1213.2 1086.8L1212.9 1086.2L1212.6 1085.5L1213.3 1084.8L1211.6 1084.3L1213.2 1083.4L1212.8 1082.8L1211.6 1082.3L1212.9 1081.4L1212.5 1080.8L1211.6 1080.2L1212.6 1079.4L1212.1 1078.8L1211.6 1078.2L1211.4 1077.5L1210.6 1076.9L1210.3 1076.3L1211.7 1075.4L1211.6 1074.7L1211.4 1074.1L1210.9 1073.5L1211.3 1072.7L1211.9 1072.0L1211.9 1071.3L1211.4 1070.7L1211.6 1070.0L1210.1 1069.4L1209.4 1068.8L1210.8 1068.0L1210.4 1067.4L1211.2 1066.6L1211.5 1065.9L1210.8 1065.3L1211.1 1064.6L1209.7 1064.0L1210.8 1063.3L1210.8 1062.6L1211.1 1061.9L1210.7 1061.3L1210.2 1060.6L1209.8 1059.9L1206.7 1059.4L1192.4 1059.4L1213.8 1058.4A249 249 0 0 0 1220.2 1104.6ZM1213.5 1045.6L1190.5 1045.4L1209.6 1044.9L1210.3 1044.2L1208.8 1043.5L1209.6 1042.9L1204.5 1042.1L1210.7 1041.5L1210.1 1040.9L1210.4 1040.2L1210.1 1039.5L1210.8 1038.9L1210.3 1038.2L1209.1 1037.5L1210.3 1036.8L1209.4 1036.1L1210.5 1035.5L1210.4 1034.8L1210.2 1034.1L1210.7 1033.5L1209.4 1032.7L1208.8 1032.0L1211.1 1031.5L1209.6 1030.7L1209.9 1030.1L1210.8 1029.4L1210.4 1028.7L1211.0 1028.1L1210.5 1027.4L1211.5 1026.8L1211.4 1026.1L1211.7 1025.5L1211.6 1024.8L1211.1 1024.1L1211.5 1023.4L1211.6 1022.8L1210.0 1021.9L1211.8 1021.4L1211.5 1020.7L1212.0 1020.1L1211.6 1019.4L1212.2 1018.8L1212.1 1018.1L1210.4 1017.2L1211.7 1016.7L1212.5 1016.1L1212.5 1015.4L1212.2 1014.7L1212.1 1014.0L1212.9 1013.5L1212.0 1012.6L1212.3 1012.0L1212.5 1011.4L1213.2 1010.8L1213.2 1010.1L1212.0 1009.2L1211.5 1008.5L1213.3 1008.1L1209.9 1006.8L1212.2 1006.5L1213.2 1006.0L1214.0 1005.5L1213.0 1004.6L1214.1 1004.1L1212.3 1003.1L1213.8 1002.7L1213.6 1002.0L1214.8 1001.5L1213.7 1000.6L1210.9 999.4L1214.0 999.3L1200.7 996.0L1218.1 999.4A249 249 0 0 0 1213.5 1045.6ZM1220.9 987.1L1201.4 982.3L1217.5 985.6L1217.2 984.8L1217.8 984.3L1218.6 983.8L1218.5 983.1L1218.8 982.5L1218.0 981.6L1218.4 981.0L1219.2 980.5L1219.6 979.9L1217.3 978.6L1218.9 978.3L1220.3 978.0L1220.4 977.3L1219.2 976.3L1220.4 975.9L1220.9 975.4L1221.4 974.9L1219.1 973.4L1221.5 973.5L1221.7 972.8L1220.9 971.9L1221.9 971.5L1221.6 970.7L1220.4 969.6L1222.8 969.7L1222.9 969.0L1223.0 968.3L1221.6 967.2L1222.9 966.9L1223.5 966.4L1219.0 964.1L1220.6 964.0L1224.3 964.5L1224.6 963.9L1225.1 963.4L1224.4 962.4L1225.2 962.0L1225.7 961.4L1225.2 960.6L1226.3 960.2L1225.4 959.2L1225.8 958.6L1221.9 956.5L1225.0 956.9L1226.3 956.7L1227.0 956.2L1227.2 955.6L1227.8 955.1L1227.1 954.1L1228.3 953.9L1228.0 953.0L1229.2 952.7L1229.4 952.1L1228.6 951.1L1229.6 950.7L1226.0 948.5L1226.2 947.9L1229.8 948.7L1230.6 948.2L1229.4 947.0L1230.6 946.8L1231.6 946.5L1231.7 945.8L1232.2 945.3L1231.7 944.3L1231.1 943.3L1233.0 943.4L1216.4 935.2L1235.9 944.0A249 249 0 0 0 1220.9 987.1ZM1241.3 933.0L1223.9 924.0L1239.1 931.1L1239.9 930.7L1239.5 929.8L1239.1 928.8L1240.5 928.8L1240.3 927.9L1239.1 926.5L1241.6 927.1L1240.4 925.7L1240.7 925.1L1241.8 924.9L1242.6 924.6L1242.8 923.9L1242.2 922.8L1243.1 922.6L1243.1 921.8L1244.1 921.5L1243.8 920.6L1243.8 919.8L1244.8 919.6L1245.2 919.1L1244.9 918.1L1245.3 917.6L1244.7 916.4L1246.5 916.7L1246.2 915.8L1247.0 915.5L1245.8 913.9L1247.4 914.1L1247.7 913.5L1247.5 912.6L1244.0 909.6L1248.5 911.6L1249.0 911.1L1248.7 910.1L1247.8 908.8L1249.2 908.8L1249.7 908.4L1247.1 905.8L1247.3 905.1L1250.2 906.2L1251.3 906.1L1249.9 904.4L1252.1 905.0L1252.0 904.2L1251.0 902.7L1252.9 903.2L1253.1 902.5L1253.7 902.1L1253.1 900.8L1250.3 898.0L1253.7 899.5L1254.5 899.2L1254.7 898.6L1255.5 898.3L1255.3 897.4L1256.2 897.1L1256.0 896.2L1255.5 894.9L1255.4 894.0L1257.3 894.5L1256.7 893.2L1257.5 893.0L1258.0 892.5L1258.2 891.8L1259.1 891.7L1246.2 880.9L1265.1 895.4A249 249 0 0 0 1241.3 933.0ZM1272.7 886.0L1258.6 874.1L1270.2 883.0L1271.7 883.4L1272.1 882.9L1272.6 882.5L1272.7 881.6L1273.0 881.0L1273.2 880.3L1273.4 879.6L1272.9 878.2L1275.0 879.2L1275.7 878.9L1275.5 877.9L1275.2 876.6L1276.1 876.5L1276.3 875.8L1277.2 875.7L1277.2 874.8L1278.5 875.1L1277.3 873.0L1278.4 873.2L1279.7 873.4L1279.0 871.9L1279.4 871.3L1278.9 869.9L1280.7 870.6L1281.2 870.2L1281.7 869.8L1281.2 868.3L1282.8 868.9L1282.5 867.6L1282.8 867.0L1283.8 867.1L1284.6 866.9L1284.8 866.1L1285.5 865.9L1285.2 864.6L1286.2 864.6L1286.2 863.7L1287.0 863.6L1287.2 862.8L1287.3 861.9L1288.3 862.0L1287.9 860.5L1288.3 860.0L1289.7 860.5L1290.3 860.1L1290.2 859.0L1290.9 858.7L1291.6 858.5L1288.8 854.3L1292.2 857.2L1291.6 855.5L1292.9 855.9L1293.6 855.6L1293.5 854.5L1294.7 854.8L1295.2 854.4L1294.6 852.6L1295.9 853.1L1296.3 852.5L1296.5 851.7L1296.1 850.2L1297.5 850.8L1298.2 850.6L1290.5 840.2L1303.4 855.7A249 249 0 0 0 1272.7 886.0ZM1312.9 848.2L1300.6 831.8L1311.2 844.8L1312.6 845.5L1312.9 844.8L1313.6 844.6L1311.4 840.5L1313.4 842.1L1312.2 839.3L1315.7 843.0L1316.1 842.4L1316.8 842.2L1317.0 841.3L1317.1 840.4L1317.0 839.0L1318.7 840.3L1318.8 839.2L1319.5 839.1L1319.5 837.9L1320.9 838.8L1321.1 837.8L1322.0 838.0L1322.1 836.9L1323.0 837.0L1323.4 836.4L1324.1 836.3L1322.5 832.6L1324.5 834.4L1324.8 833.7L1326.0 834.3L1326.5 833.7L1327.0 833.3L1327.3 832.5L1328.1 832.6L1328.5 831.9L1327.7 829.4L1329.2 830.5L1330.1 830.6L1328.5 826.7L1331.3 830.0L1331.6 829.3L1332.5 829.4L1332.6 828.3L1333.5 828.5L1333.8 827.6L1334.7 827.8L1335.0 827.1L1335.7 826.9L1336.0 826.1L1336.6 825.7L1337.1 825.2L1335.2 820.5L1337.2 822.5L1338.8 824.1L1338.5 822.1L1339.8 823.0L1340.2 822.5L1340.4 821.2L1341.7 822.2L1342.1 821.6L1342.2 820.4L1342.9 820.2L1343.8 820.5L1344.4 820.2L1344.1 818.1L1344.1 816.6L1345.2 817.2L1342.1 809.6L1350.0 825.1A249 249 0 0 0 1312.9 848.2ZM1360.5 820.0L1357.2 812.7L1359.9 817.0L1360.3 816.3L1361.1 816.4L1361.5 815.6L1362.7 816.7L1362.9 815.6L1363.7 815.7L1364.5 815.8L1364.2 813.4L1365.6 814.9L1366.1 814.5L1366.7 814.1L1367.3 813.9L1367.6 812.8L1368.5 813.4L1369.1 813.0L1369.0 810.8L1370.2 811.9L1370.9 812.0L1371.7 812.1L1372.2 811.7L1372.6 810.7L1373.0 810.0L1374.0 810.7L1374.4 809.7L1375.0 809.6L1375.8 809.6L1376.3 809.0L1376.9 808.8L1376.7 806.3L1377.9 807.5L1378.8 808.0L1379.2 807.2L1379.6 806.3L1380.4 806.5L1380.8 805.5L1382.0 807.1L1382.4 806.2L1382.8 805.2L1383.7 805.6L1384.4 805.7L1384.6 804.2L1385.4 804.4L1386.0 804.0L1386.6 803.6L1387.3 803.6L1387.7 802.5L1388.8 803.8L1389.2 802.7L1389.7 802.3L1390.4 802.2L1390.4 799.6L1391.8 801.8L1392.4 801.6L1393.2 801.9L1393.4 800.2L1393.8 798.9L1394.8 800.2L1395.7 800.8L1396.2 799.9L1396.7 799.5L1397.4 799.4L1398.0 798.7L1398.7 798.6L1398.3 794.5L1397.5 788.3L1401.8 805.7A249 249 0 0 0 1360.5 820.0ZM1413.6 803.1L1411.7 793.5L1411.9 791.0L1413.1 793.9L1413.1 789.7L1413.9 790.4L1414.9 792.2L1415.3 790.3L1415.9 789.8L1417.2 792.7L1417.6 791.3L1418.2 790.6L1418.4 787.8L1419.0 787.2L1419.7 786.6L1421.2 791.6L1420.8 784.8L1422.3 790.0L1423.1 790.6L1424.0 791.9L1424.7 791.5L1425.0 788.9L1425.7 788.8L1425.4 781.8L1426.7 785.9L1427.7 787.9L1428.4 788.0L1428.8 785.9L1429.7 787.4L1430.8 790.5L1431.4 789.4L1432.2 790.2L1432.3 785.3L1433.2 787.1L1434.1 788.7L1434.8 788.6L1435.6 789.6L1436.3 789.4L1436.6 785.2L1437.6 788.6L1438.5 790.3L1439.0 788.7L1439.7 788.2L1440.0 784.3L1441.1 789.2L1441.5 785.0L1442.4 788.1L1443.1 787.1L1443.9 789.3L1444.4 786.2L1445.2 787.6L1445.9 788.4L1446.6 787.3L1447.3 788.2L1447.8 785.1L1448.6 786.9L1449.2 784.7L1450.1 788.2L1450.6 798.5A249 249 0 0 0 1413.6 803.1Z" fill="#b28ccb" stroke="#b28ccb" stroke-width="0.3" stroke-linejoin="round"/>
<path d="M1475.0 838.6L1475.4 832.7L1475.8 834.8L1476.6 832.2L1477.2 830.9L1477.8 831.1L1478.4 830.7L1478.6 835.3L1479.2 834.7L1480.1 831.8L1480.7 831.5L1481.1 832.4L1481.5 834.6L1482.3 832.0L1482.7 834.5L1483.5 831.4L1484.0 832.6L1484.4 834.1L1485.2 832.4L1485.4 835.5L1486.0 835.5L1486.5 836.5L1487.1 835.9L1487.6 836.2L1488.7 832.1L1489.0 834.6L1489.5 834.8L1489.8 836.8L1490.4 836.4L1491.1 835.7L1491.8 834.7L1492.6 833.5L1492.9 835.3L1493.8 832.6L1493.7 837.6L1494.5 836.2L1494.9 837.0L1495.9 834.6L1496.4 835.1L1496.6 837.2L1497.7 834.2L1498.0 835.6L1498.1 838.2L1499.0 836.6L1499.3 837.9L1500.5 834.6L1500.9 835.9L1501.5 835.5L1501.6 838.4L1502.1 838.4L1502.6 839.0L1503.6 836.7L1504.3 836.2L1504.8 836.3L1505.3 837.1L1505.7 837.8L1505.9 839.6L1507.3 835.7L1507.6 837.2L1508.2 836.9L1508.3 839.2L1509.3 837.6L1510.2 835.9L1510.3 838.0L1511.1 837.3L1511.3 838.6L1511.3 841.2L1511.9 841.1L1512.9 839.6L1513.9 837.9L1514.4 838.2L1514.2 841.2L1515.5 838.3L1515.3 841.7L1516.7 838.5L1517.0 839.5L1517.3 840.8L1517.5 842.0L1518.2 841.8L1519.5 839.0L1519.0 842.9L1520.6 839.5L1520.8 840.6L1521.6 840.1L1521.7 841.8L1522.6 840.8L1522.3 843.7L1523.5 841.7L1523.4 843.9L1523.8 844.6L1525.8 840.1L1525.8 842.1L1526.0 843.3L1526.0 845.3L1527.3 842.8L1527.2 845.1L1528.1 844.1L1529.5 841.7L1529.8 842.7L1530.1 843.4L1530.8 843.3L1531.3 843.4L1530.7 846.9L1532.3 844.1L1533.0 843.9L1533.1 845.3L1532.9 847.5L1535.0 843.4L1534.5 846.4L1534.9 847.1L1533.6 850.7A209 209 0 0 0 1475.0 838.6ZM1543.0 854.3L1544.6 850.3L1545.5 849.6L1545.8 850.4L1546.7 849.7L1547.1 850.4L1547.2 851.4L1548.8 849.2L1549.6 849.0L1548.5 852.7L1550.8 849.0L1550.2 851.7L1550.3 853.0L1551.6 851.5L1552.4 851.1L1551.8 853.7L1552.5 853.7L1553.8 852.3L1553.3 854.5L1554.1 854.2L1555.7 852.2L1554.6 855.8L1556.7 852.7L1557.6 852.2L1556.5 855.8L1557.9 854.2L1558.0 855.4L1558.7 855.2L1558.9 856.0L1560.7 853.8L1560.8 854.9L1560.1 857.5L1562.0 855.1L1561.9 856.6L1562.5 856.6L1562.1 858.6L1563.9 856.6L1563.2 859.1L1563.0 860.5L1564.5 858.9L1565.8 857.8L1566.3 858.1L1565.4 860.9L1566.6 859.8L1567.4 859.7L1566.5 862.5L1567.3 862.1L1567.9 862.2L1570.3 859.2L1570.2 860.5L1570.1 861.9L1569.6 863.8L1571.0 862.6L1572.4 861.4L1572.6 862.2L1573.8 861.3L1572.8 864.0L1573.6 863.8L1573.7 864.7L1574.8 864.1L1574.8 865.1L1576.0 864.3L1577.2 863.5L1576.8 865.2L1575.7 868.0L1576.1 868.4L1577.7 867.0L1579.6 865.0L1579.0 867.1L1579.9 866.7L1581.0 866.2L1580.3 868.2L1581.0 868.2L1581.5 868.5L1580.4 871.1L1581.8 870.1L1582.6 870.0L1584.1 868.7L1582.2 872.5L1583.5 871.6L1584.6 871.0L1584.8 871.7L1585.5 871.8L1585.6 872.7L1585.5 873.7L1587.1 872.5L1587.4 873.0L1586.5 875.4L1588.2 873.9L1589.2 873.5L1590.3 873.0L1590.7 873.4L1590.7 874.4L1591.3 874.6L1591.0 875.9L1591.8 875.7L1592.5 875.8L1593.2 875.9L1594.0 875.8L1591.9 879.5L1595.0 876.4L1593.0 879.8L1594.9 878.4L1594.0 880.5L1595.3 879.6L1595.0 881.0L1597.9 878.3L1593.2 884.1A209 209 0 0 0 1543.0 854.3ZM1601.2 890.9L1603.8 887.9L1606.7 885.6L1607.5 885.5L1606.5 887.5L1606.8 888.0L1606.2 889.5L1608.6 887.8L1608.8 888.4L1609.7 888.3L1607.9 891.0L1610.6 888.9L1608.9 891.6L1610.1 891.1L1611.6 890.4L1611.3 891.6L1612.7 890.9L1613.2 891.2L1613.0 892.3L1611.2 894.9L1612.5 894.4L1612.1 895.7L1614.0 894.6L1612.3 897.1L1614.8 895.3L1613.8 897.2L1615.4 896.3L1614.7 897.8L1615.8 897.6L1617.3 896.9L1615.8 899.1L1615.4 900.3L1619.0 897.6L1619.5 898.0L1619.4 898.9L1617.4 901.5L1620.0 899.9L1620.7 900.0L1618.1 903.2L1621.3 901.0L1619.8 903.2L1620.5 903.3L1620.4 904.2L1620.9 904.5L1623.5 902.9L1624.1 903.1L1623.5 904.4L1623.2 905.5L1621.9 907.4L1622.3 907.8L1623.1 907.8L1625.1 906.9L1625.5 907.3L1624.7 908.7L1624.3 909.8L1626.8 908.4L1626.4 909.5L1626.4 910.3L1627.1 910.4L1627.6 910.7L1626.9 912.1L1627.5 912.3L1629.2 911.6L1627.8 913.5L1628.8 913.4L1631.6 911.9L1631.6 912.7L1631.2 913.7L1631.4 914.3L1630.0 916.1L1631.2 915.8L1632.2 915.8L1633.4 915.6L1632.9 916.7L1631.2 918.7L1634.8 916.7L1633.3 918.5L1632.2 920.1L1634.6 919.0L1635.3 919.2L1636.7 918.9L1634.4 921.3L1635.0 921.5L1636.6 921.1L1636.5 921.9L1635.6 923.2L1638.5 921.8L1637.6 923.2L1639.5 922.6L1636.2 925.6L1637.5 925.3L1637.1 926.3L1640.7 924.5L1641.1 924.9L1639.0 927.0L1641.7 925.9L1641.1 927.0L1642.1 927.0L1642.0 927.8L1639.0 930.5L1640.2 930.4L1641.7 930.0L1641.8 930.7L1644.1 929.8L1638.0 933.8A209 209 0 0 0 1601.2 890.9ZM1643.6 942.8L1650.7 938.6L1648.7 940.5L1649.6 940.6L1648.8 941.7L1651.4 940.9L1649.0 942.9L1649.9 943.1L1652.6 942.3L1649.8 944.5L1649.5 945.3L1651.5 944.8L1652.5 945.0L1653.3 945.2L1651.2 947.0L1651.5 947.5L1651.9 947.9L1654.9 947.0L1654.6 947.8L1653.3 949.1L1655.6 948.6L1652.9 950.6L1654.2 950.6L1655.5 950.6L1654.1 951.9L1656.9 951.2L1653.1 953.7L1653.9 953.9L1653.9 954.6L1656.3 954.1L1654.1 955.7L1654.3 956.3L1654.6 956.8L1658.2 955.7L1658.9 956.0L1659.1 956.6L1657.8 957.8L1656.6 959.0L1659.4 958.3L1659.3 959.0L1657.3 960.6L1657.8 961.0L1657.0 961.9L1659.3 961.6L1660.5 961.7L1658.5 963.1L1658.7 963.7L1659.1 964.1L1659.9 964.4L1662.6 963.9L1661.7 964.9L1658.9 966.7L1659.1 967.2L1661.1 967.0L1660.4 967.9L1659.8 968.8L1660.4 969.1L1661.5 969.3L1662.8 969.5L1662.6 970.1L1663.0 970.6L1662.9 971.3L1663.9 971.5L1661.3 973.1L1661.3 973.7L1661.3 974.3L1661.5 974.8L1662.1 975.2L1663.2 975.4L1666.6 974.8L1663.8 976.4L1666.1 976.2L1663.8 977.6L1663.4 978.4L1667.6 977.6L1667.3 978.3L1666.0 979.3L1665.7 980.0L1667.6 980.0L1665.8 981.2L1668.4 980.9L1665.1 982.6L1667.5 982.4L1664.6 984.0L1669.0 983.2L1666.9 984.4L1669.2 984.4L1665.9 986.0L1667.6 986.0L1667.4 986.7L1668.3 987.0L1668.4 987.6L1669.2 988.0L1669.8 988.4L1669.6 989.0L1667.8 990.2L1667.4 990.8L1668.8 991.0L1667.0 992.1L1670.6 991.8L1667.1 993.3L1670.3 993.0L1664.7 994.5A209 209 0 0 0 1643.6 942.8ZM1667.3 1005.4L1670.7 1004.7L1673.1 1004.8L1672.3 1005.5L1670.6 1006.4L1673.3 1006.5L1671.9 1007.3L1672.1 1007.9L1675.0 1007.9L1672.7 1008.9L1672.5 1009.6L1674.9 1009.7L1673.0 1010.6L1673.5 1011.1L1674.2 1011.6L1671.2 1012.7L1673.3 1012.9L1674.2 1013.3L1672.3 1014.2L1675.6 1014.3L1673.8 1015.1L1673.9 1015.7L1676.0 1016.0L1675.2 1016.7L1674.6 1017.3L1676.8 1017.6L1673.0 1018.7L1675.3 1018.9L1674.7 1019.6L1674.7 1020.2L1675.8 1020.6L1677.4 1021.0L1674.6 1021.9L1673.0 1022.7L1673.3 1023.2L1675.9 1023.5L1676.3 1024.0L1675.7 1024.7L1674.5 1025.4L1677.5 1025.6L1677.9 1026.2L1674.1 1027.1L1677.3 1027.4L1673.7 1028.3L1675.2 1028.7L1678.0 1029.1L1677.9 1029.7L1676.3 1030.4L1673.6 1031.1L1674.2 1031.7L1676.2 1032.1L1673.6 1032.8L1677.0 1033.2L1677.0 1033.8L1676.7 1034.4L1678.1 1034.9L1674.7 1035.6L1674.4 1036.2L1677.1 1036.6L1674.3 1037.3L1674.9 1037.9L1675.3 1038.4L1675.6 1039.0L1678.6 1039.4L1676.3 1040.1L1677.3 1040.6L1678.0 1041.2L1674.7 1041.9L1677.8 1042.4L1674.7 1043.0L1678.7 1043.5L1678.6 1044.1L1675.3 1044.7L1675.0 1045.3L1678.3 1045.8L1674.8 1046.4L1674.1 1047.0L1674.8 1047.5L1674.5 1048.1L1676.1 1048.7L1677.8 1049.3L1674.7 1049.8L1677.2 1050.4L1678.6 1051.0L1675.7 1051.5L1674.7 1052.1L1675.2 1052.6L1678.2 1053.3L1675.6 1053.8L1676.7 1054.4L1676.7 1055.0L1676.2 1055.5L1678.5 1056.2L1674.9 1056.6L1677.9 1057.3L1675.1 1057.8L1675.3 1058.3L1675.2 1058.9L1676.5 1059.5L1674.2 1060.0L1675.0 1060.6L1675.7 1061.2L1671.1 1060.9A209 209 0 0 0 1667.3 1005.4ZM1670.0 1071.8L1675.1 1072.4L1673.6 1072.8L1676.8 1073.8L1673.7 1074.0L1675.0 1074.7L1673.2 1075.1L1672.7 1075.6L1675.6 1076.5L1673.0 1076.8L1674.9 1077.6L1672.9 1077.9L1672.9 1078.5L1675.2 1079.4L1673.6 1079.7L1675.5 1080.6L1674.8 1081.1L1675.1 1081.7L1673.4 1082.0L1672.6 1082.5L1674.1 1083.3L1672.9 1083.7L1672.0 1084.1L1670.8 1084.4L1671.6 1085.2L1672.6 1085.9L1672.0 1086.4L1673.9 1087.3L1673.0 1087.8L1670.4 1087.8L1670.6 1088.4L1670.0 1088.9L1671.2 1089.7L1673.5 1090.8L1672.9 1091.2L1672.7 1091.8L1671.6 1092.1L1670.0 1092.4L1673.4 1093.7L1673.1 1094.2L1670.4 1094.2L1671.4 1095.0L1669.0 1095.1L1670.5 1096.0L1668.5 1096.1L1668.7 1096.7L1668.5 1097.3L1670.6 1098.4L1670.7 1099.0L1669.7 1099.3L1672.1 1100.5L1667.8 1100.0L1671.5 1101.6L1671.3 1102.1L1668.6 1102.0L1671.2 1103.3L1667.3 1102.8L1666.8 1103.3L1667.0 1103.9L1669.3 1105.1L1667.9 1105.3L1669.9 1106.5L1668.2 1106.6L1670.1 1107.7L1667.4 1107.6L1666.3 1107.8L1667.1 1108.7L1666.3 1109.0L1666.7 1109.7L1668.4 1110.9L1668.6 1111.5L1668.5 1112.1L1668.3 1112.6L1667.2 1112.9L1664.0 1112.5L1664.5 1113.2L1664.5 1113.8L1667.2 1115.3L1664.5 1115.0L1665.7 1116.0L1667.1 1117.1L1663.7 1116.6L1665.9 1117.9L1664.6 1118.1L1663.2 1118.2L1663.5 1118.9L1665.7 1120.3L1663.0 1119.9L1663.7 1120.8L1661.0 1120.4L1662.2 1121.5L1663.1 1122.4L1661.1 1122.3L1663.6 1123.8L1660.6 1123.3L1661.1 1124.1L1664.2 1125.9L1663.1 1126.1L1661.0 1125.9L1656.8 1124.2A209 209 0 0 0 1670.0 1071.8ZM1652.6 1134.1L1659.2 1137.2L1658.6 1137.5L1654.6 1136.3L1654.2 1136.7L1654.0 1137.3L1657.6 1139.6L1653.5 1138.3L1653.2 1138.8L1655.5 1140.5L1656.0 1141.4L1656.1 1142.1L1656.6 1143.0L1654.1 1142.4L1653.7 1142.8L1652.8 1143.0L1654.9 1144.7L1651.3 1143.5L1651.2 1144.1L1651.2 1144.7L1653.4 1146.5L1653.4 1147.1L1651.4 1146.7L1650.5 1146.9L1651.2 1147.9L1649.1 1147.4L1649.6 1148.3L1648.9 1148.6L1652.2 1151.0L1649.6 1150.3L1651.7 1152.1L1647.9 1150.6L1648.6 1151.7L1648.9 1152.5L1650.7 1154.2L1646.7 1152.6L1650.1 1155.2L1649.3 1155.4L1649.3 1156.0L1646.2 1154.9L1647.2 1156.1L1648.0 1157.3L1647.3 1157.5L1646.6 1157.8L1645.3 1157.7L1644.4 1157.7L1645.9 1159.3L1644.6 1159.2L1642.9 1158.8L1645.8 1161.3L1642.1 1159.7L1643.4 1161.1L1644.2 1162.3L1645.0 1163.5L1643.4 1163.2L1640.8 1162.2L1643.6 1164.7L1641.3 1163.8L1642.4 1165.3L1642.9 1166.2L1641.4 1165.9L1639.3 1165.3L1638.6 1165.5L1638.0 1165.7L1639.5 1167.4L1638.0 1167.1L1640.3 1169.4L1640.0 1169.8L1636.5 1168.1L1638.2 1170.0L1635.7 1169.0L1635.9 1169.8L1637.1 1171.3L1636.1 1171.3L1635.2 1171.4L1635.2 1172.1L1634.8 1172.5L1634.7 1173.1L1634.9 1173.9L1636.6 1175.9L1635.7 1176.0L1635.4 1176.5L1631.8 1174.5L1634.5 1177.2L1634.2 1177.8L1634.3 1178.5L1633.8 1178.8L1630.8 1177.2L1629.6 1177.0L1632.7 1180.2L1629.1 1178.1L1631.0 1180.4L1629.0 1179.5L1630.9 1181.7L1629.1 1181.0L1627.8 1180.7L1627.6 1181.2L1627.0 1181.5L1627.6 1182.7L1626.3 1182.4L1623.7 1180.2A209 209 0 0 0 1652.6 1134.1ZM1617.1 1187.8L1619.0 1189.6L1622.0 1193.1L1620.0 1192.0L1620.5 1193.3L1618.6 1192.3L1617.6 1192.2L1619.8 1195.0L1617.8 1193.9L1618.5 1195.3L1616.2 1193.9L1616.4 1195.0L1615.2 1194.5L1615.5 1195.6L1617.0 1197.9L1617.0 1198.8L1614.2 1196.8L1615.1 1198.5L1613.0 1197.2L1613.2 1198.2L1612.1 1198.0L1613.4 1200.1L1611.7 1199.2L1612.2 1200.5L1610.7 1199.7L1612.0 1202.0L1609.9 1200.5L1609.7 1201.2L1609.4 1201.7L1610.2 1203.4L1608.5 1202.4L1610.0 1204.9L1607.0 1202.4L1609.4 1205.9L1608.3 1205.6L1608.3 1206.4L1606.6 1205.4L1607.5 1207.3L1607.1 1207.7L1606.6 1208.0L1606.1 1208.3L1604.0 1206.9L1604.6 1208.3L1604.4 1209.1L1603.3 1208.6L1601.4 1207.3L1602.9 1209.9L1603.4 1211.5L1601.4 1209.9L1600.0 1209.2L1600.2 1210.3L1599.5 1210.4L1600.0 1211.8L1599.0 1211.5L1598.5 1211.8L1599.2 1213.6L1598.5 1213.7L1596.2 1211.7L1596.0 1212.4L1597.9 1215.7L1596.5 1214.8L1594.5 1213.2L1596.5 1216.7L1595.7 1216.7L1594.5 1216.1L1593.8 1216.1L1592.9 1215.9L1593.3 1217.3L1592.4 1217.1L1593.4 1219.4L1592.6 1219.3L1590.8 1217.8L1589.8 1217.5L1589.7 1218.3L1590.4 1220.2L1589.5 1220.0L1588.0 1218.8L1588.2 1220.0L1588.0 1220.8L1587.1 1220.6L1585.8 1219.7L1585.8 1220.7L1585.8 1221.7L1586.7 1224.0L1585.6 1223.4L1584.5 1222.8L1585.3 1225.0L1584.4 1224.8L1582.9 1223.6L1581.6 1222.7L1581.2 1223.0L1582.3 1225.8L1580.9 1224.7L1580.9 1225.7L1579.9 1225.2L1577.6 1221.7A209 209 0 0 0 1617.1 1187.8ZM1568.7 1227.2L1572.1 1232.9L1571.2 1232.5L1571.4 1234.0L1570.5 1233.5L1569.7 1233.4L1570.0 1235.0L1569.1 1234.6L1568.8 1235.3L1568.4 1235.7L1568.0 1236.1L1566.1 1233.9L1566.5 1235.8L1565.0 1234.4L1563.8 1233.4L1563.4 1233.7L1562.6 1233.5L1564.4 1238.1L1563.8 1238.1L1561.6 1235.2L1562.8 1238.8L1561.2 1236.9L1561.9 1239.4L1559.2 1235.4L1559.1 1236.5L1558.3 1236.1L1559.3 1239.5L1558.3 1238.9L1558.7 1240.8L1557.0 1238.7L1556.9 1239.9L1556.3 1240.0L1555.0 1238.5L1554.1 1238.0L1555.5 1242.3L1554.0 1240.4L1553.3 1240.3L1552.8 1240.6L1551.8 1239.6L1552.5 1242.7L1551.4 1241.6L1551.8 1243.9L1551.4 1244.4L1548.9 1240.3L1548.9 1241.7L1549.6 1244.7L1547.8 1241.9L1547.7 1243.1L1547.4 1243.8L1547.1 1244.6L1545.6 1242.5L1545.9 1244.6L1544.3 1242.3L1544.7 1244.7L1545.1 1247.2L1544.1 1246.4L1543.2 1245.7L1542.1 1244.4L1542.9 1248.1L1541.9 1247.0L1540.9 1246.2L1540.6 1246.9L1539.6 1245.9L1539.6 1247.5L1538.3 1245.7L1537.5 1245.3L1538.3 1248.8L1537.7 1249.1L1536.7 1248.0L1536.3 1248.4L1535.5 1247.9L1535.0 1248.3L1535.2 1250.4L1533.3 1246.9L1532.7 1246.8L1532.2 1247.1L1532.3 1249.3L1532.2 1250.8L1531.9 1251.7L1530.7 1249.7L1530.3 1250.3L1529.2 1249.1L1528.5 1248.5L1528.2 1249.6L1528.1 1250.9L1527.1 1249.8L1527.2 1252.2L1526.7 1252.4L1525.9 1251.9L1525.7 1253.1L1523.8 1247.0A209 209 0 0 0 1568.7 1227.2ZM1514.2 1249.7L1515.0 1252.7L1515.2 1256.1L1514.1 1253.9L1514.3 1257.2L1513.4 1255.9L1512.8 1255.7L1512.2 1255.9L1512.0 1257.6L1510.5 1253.4L1510.4 1255.5L1510.2 1257.2L1509.3 1255.7L1509.2 1258.0L1508.3 1256.6L1507.7 1256.5L1507.5 1258.6L1506.3 1255.3L1506.1 1257.2L1505.2 1256.1L1505.2 1258.8L1504.7 1259.3L1504.1 1258.9L1503.5 1258.9L1502.6 1257.4L1502.3 1258.8L1501.2 1256.2L1500.9 1257.7L1500.8 1260.2L1499.5 1256.1L1499.0 1256.8L1498.3 1256.1L1498.3 1259.6L1497.5 1258.1L1497.2 1260.0L1496.8 1260.8L1495.5 1256.2L1495.5 1260.1L1494.6 1257.8L1494.3 1259.8L1493.7 1259.4L1493.3 1260.7L1492.6 1259.9L1491.7 1257.6L1491.2 1258.0L1490.6 1258.5L1490.1 1258.4L1489.5 1258.4L1489.0 1258.8L1488.3 1258.1L1487.9 1259.5L1487.2 1258.5L1486.5 1257.4L1486.2 1259.4L1485.6 1259.5L1484.8 1257.7L1484.5 1260.3L1484.2 1262.2L1483.4 1259.9L1482.9 1260.8L1482.3 1261.3L1481.7 1260.4L1481.1 1260.1L1480.6 1260.7L1480.0 1260.4L1479.5 1262.4L1478.7 1258.3L1478.2 1260.4L1477.7 1260.2L1477.2 1262.1L1476.6 1261.0L1475.8 1258.7L1475.5 1263.1L1474.9 1262.5L1474.3 1261.0L1473.7 1260.2L1473.1 1260.9L1472.7 1263.3L1472.1 1263.0L1471.4 1260.5L1470.9 1262.9L1470.2 1260.1L1469.7 1260.7L1469.1 1261.3L1468.5 1260.1L1468.0 1262.1L1467.4 1261.3L1466.9 1262.9L1466.3 1262.4L1466.2 1256.2A209 209 0 0 0 1514.2 1249.7ZM1456.0 1256.1L1455.9 1260.0L1455.4 1259.4L1454.7 1261.5L1454.2 1259.3L1453.7 1259.8L1453.1 1260.3L1452.5 1260.7L1452.0 1259.7L1451.2 1263.4L1450.8 1261.1L1450.2 1260.7L1449.6 1261.2L1449.1 1260.8L1448.3 1263.1L1448.0 1259.1L1447.4 1259.5L1446.7 1262.2L1446.2 1260.2L1445.8 1258.7L1445.1 1260.7L1444.7 1258.2L1444.1 1258.0L1443.3 1261.3L1442.8 1260.0L1442.1 1261.5L1441.8 1258.5L1441.3 1258.3L1440.4 1260.9L1440.1 1258.8L1439.2 1261.6L1439.0 1258.5L1438.0 1262.0L1437.9 1258.0L1436.9 1261.4L1436.6 1259.7L1435.8 1260.8L1435.1 1261.8L1434.7 1261.0L1434.2 1259.8L1433.5 1260.9L1433.0 1260.2L1432.8 1257.8L1431.9 1260.0L1431.2 1260.7L1430.8 1259.7L1430.5 1258.0L1430.0 1257.2L1429.0 1260.1L1428.9 1257.2L1428.2 1257.5L1427.7 1257.4L1427.4 1255.8L1426.4 1258.2L1425.9 1257.5L1424.9 1259.9L1424.8 1257.4L1423.9 1259.3L1423.4 1258.8L1422.6 1260.0L1422.8 1255.8L1421.6 1259.1L1421.6 1256.0L1421.0 1256.2L1420.6 1255.0L1419.2 1259.1L1418.7 1258.8L1418.9 1255.2L1417.5 1258.8L1417.9 1254.5L1417.4 1254.2L1415.9 1258.0L1415.4 1257.8L1415.1 1256.4L1414.5 1256.4L1413.6 1257.8L1413.0 1257.7L1412.7 1256.5L1412.7 1254.1L1412.4 1252.9L1411.8 1253.1L1410.7 1255.1L1410.5 1253.5L1409.1 1256.9L1409.4 1253.4L1408.4 1255.1L1408.0 1254.3L1409.3 1249.3A209 209 0 0 0 1456.0 1256.1ZM1399.2 1246.4L1397.1 1252.9L1396.3 1253.3L1396.5 1250.8L1396.8 1248.3L1395.7 1249.7L1395.3 1249.0L1394.4 1250.1L1393.2 1251.7L1393.3 1249.7L1392.7 1249.5L1392.4 1248.7L1392.3 1247.2L1391.1 1248.9L1390.1 1250.1L1389.7 1249.4L1390.2 1246.3L1388.7 1248.7L1388.8 1246.8L1388.6 1245.8L1386.8 1249.1L1387.2 1246.2L1387.0 1245.2L1385.0 1249.0L1385.3 1246.4L1384.8 1246.2L1383.9 1246.8L1383.9 1245.3L1383.5 1244.8L1382.0 1247.0L1381.6 1246.4L1380.6 1247.4L1380.9 1245.1L1381.4 1242.5L1379.8 1244.7L1378.4 1246.5L1378.7 1244.5L1378.1 1244.4L1377.7 1243.9L1377.8 1242.2L1375.8 1245.3L1375.7 1244.1L1375.2 1243.8L1375.9 1240.9L1375.2 1241.0L1374.7 1240.6L1374.4 1240.1L1373.0 1241.7L1373.2 1239.9L1371.6 1241.9L1371.5 1240.9L1370.5 1241.5L1370.9 1239.5L1370.1 1239.7L1368.9 1240.9L1368.7 1240.0L1367.4 1241.3L1368.8 1237.3L1367.2 1239.1L1367.4 1237.5L1366.4 1238.1L1365.0 1239.7L1364.5 1239.5L1364.7 1237.7L1365.3 1235.4L1363.4 1237.8L1362.7 1237.8L1362.2 1237.6L1361.5 1237.7L1361.5 1236.4L1361.7 1234.8L1361.2 1234.5L1360.8 1234.0L1360.2 1234.0L1359.8 1233.6L1359.6 1232.7L1358.1 1234.3L1357.4 1234.3L1356.7 1234.4L1357.2 1232.3L1359.2 1228.9A209 209 0 0 0 1399.2 1246.4ZM1350.3 1223.5L1347.2 1228.5L1348.3 1225.7L1346.4 1227.6L1346.2 1226.9L1346.0 1226.2L1345.7 1225.5L1345.5 1224.7L1343.3 1227.0L1342.8 1226.8L1343.3 1225.0L1342.8 1224.6L1342.3 1224.4L1340.6 1225.9L1341.1 1224.2L1342.2 1221.5L1339.5 1224.4L1340.3 1222.3L1340.8 1220.5L1338.3 1223.1L1338.8 1221.4L1339.1 1220.0L1338.9 1219.3L1338.5 1218.8L1337.2 1219.7L1335.7 1220.8L1334.9 1221.0L1336.4 1218.0L1335.7 1217.9L1335.1 1217.7L1333.3 1219.2L1333.0 1218.6L1333.2 1217.4L1332.3 1217.7L1333.0 1215.8L1332.8 1215.1L1330.7 1216.9L1331.0 1215.6L1331.8 1213.7L1329.2 1216.0L1330.1 1213.9L1328.5 1215.0L1329.0 1213.5L1327.3 1214.7L1327.8 1213.2L1325.9 1214.6L1326.3 1213.1L1327.4 1211.0L1327.4 1210.0L1325.1 1211.9L1326.3 1209.6L1324.7 1210.6L1325.1 1209.2L1322.2 1211.7L1324.0 1208.8L1323.0 1209.1L1321.1 1210.4L1322.9 1207.5L1321.6 1208.1L1322.6 1206.1L1321.5 1206.5L1318.9 1208.6L1320.4 1206.0L1319.9 1205.6L1317.8 1207.2L1319.2 1204.7L1318.1 1205.1L1318.0 1204.4L1317.8 1203.7L1317.7 1203.0L1317.2 1202.7L1316.2 1203.0L1315.8 1202.5L1314.4 1203.2L1315.5 1201.2L1315.1 1200.8L1314.6 1200.5L1314.3 1200.0L1311.8 1201.8L1314.4 1198.3L1311.0 1200.8L1315.8 1196.0A209 209 0 0 0 1350.3 1223.5ZM1308.9 1188.9L1306.0 1191.6L1303.1 1193.4L1306.1 1189.9L1303.3 1191.7L1303.6 1190.7L1303.2 1190.3L1301.2 1191.3L1300.8 1190.8L1300.6 1190.3L1302.8 1187.5L1302.2 1187.4L1299.5 1188.9L1300.9 1187.0L1299.5 1187.4L1299.9 1186.3L1299.2 1186.2L1298.5 1186.0L1297.5 1186.1L1298.5 1184.5L1299.8 1182.7L1298.8 1182.8L1296.1 1184.3L1295.2 1184.3L1296.3 1182.6L1296.4 1181.8L1296.6 1180.9L1295.2 1181.3L1295.2 1180.6L1295.1 1179.9L1296.1 1178.4L1294.9 1178.6L1293.1 1179.3L1293.9 1177.9L1292.1 1178.6L1293.5 1176.9L1291.0 1178.0L1291.5 1176.9L1293.0 1175.0L1289.6 1176.9L1291.5 1174.8L1288.9 1176.0L1290.8 1173.9L1288.0 1175.2L1288.0 1174.5L1289.2 1172.9L1287.6 1173.3L1287.7 1172.6L1287.5 1172.0L1288.5 1170.6L1285.8 1171.8L1286.1 1170.9L1286.2 1170.1L1285.6 1169.8L1287.3 1168.0L1287.7 1167.0L1283.8 1169.0L1286.1 1166.7L1286.2 1166.0L1283.1 1167.4L1283.8 1166.2L1285.8 1164.2L1284.2 1164.6L1285.2 1163.2L1281.3 1165.1L1284.5 1162.3L1283.4 1162.4L1281.5 1162.9L1281.5 1162.2L1282.9 1160.7L1281.7 1160.7L1281.5 1160.2L1280.2 1160.4L1282.5 1158.3L1280.2 1159.0L1279.3 1158.9L1278.6 1158.6L1278.7 1157.9L1278.3 1157.5L1283.2 1154.6A209 209 0 0 0 1308.9 1188.9ZM1278.3 1145.9L1274.6 1147.9L1274.3 1147.4L1272.1 1147.9L1273.9 1146.3L1272.1 1146.6L1272.1 1146.0L1270.3 1146.2L1273.8 1143.8L1271.3 1144.4L1272.9 1143.0L1270.6 1143.5L1272.4 1141.9L1270.4 1142.3L1271.2 1141.3L1271.6 1140.4L1269.1 1141.0L1270.3 1139.8L1269.1 1139.7L1268.5 1139.4L1270.7 1137.7L1267.1 1138.7L1268.2 1137.6L1268.6 1136.8L1270.2 1135.4L1269.7 1135.0L1268.0 1135.1L1266.8 1135.0L1266.2 1134.7L1267.3 1133.5L1266.9 1133.1L1265.4 1133.1L1265.0 1132.7L1264.2 1132.4L1264.1 1131.8L1266.3 1130.2L1264.6 1130.3L1264.9 1129.6L1264.9 1128.9L1262.5 1129.3L1262.3 1128.8L1263.9 1127.5L1262.5 1127.4L1266.0 1125.4L1264.8 1125.3L1261.7 1125.9L1261.0 1125.5L1261.4 1124.7L1260.5 1124.5L1260.6 1123.8L1264.4 1121.7L1264.1 1121.3L1260.3 1122.1L1259.4 1121.8L1262.1 1120.2L1261.7 1119.7L1260.3 1119.6L1261.3 1118.6L1259.8 1118.5L1261.8 1117.2L1258.9 1117.6L1258.3 1117.2L1261.7 1115.4L1258.0 1116.1L1257.5 1115.7L1258.2 1114.8L1257.5 1114.4L1259.8 1113.1L1256.7 1113.5L1258.3 1112.3L1259.8 1111.3L1256.0 1111.8L1259.1 1110.3L1259.4 1109.6L1255.6 1110.1L1258.8 1108.6L1257.9 1108.2L1258.6 1107.4L1256.6 1107.4L1261.9 1105.9A209 209 0 0 0 1278.3 1145.9ZM1259.1 1095.4L1255.9 1096.1L1254.3 1095.9L1254.4 1095.3L1255.9 1094.4L1255.2 1094.0L1253.0 1093.9L1251.6 1093.6L1251.8 1093.0L1255.6 1091.6L1254.7 1091.2L1253.5 1090.8L1251.1 1090.8L1253.4 1089.7L1253.0 1089.2L1253.3 1088.5L1254.0 1087.8L1253.1 1087.4L1254.0 1086.7L1253.1 1086.3L1252.1 1085.9L1249.7 1085.7L1251.5 1084.8L1249.3 1084.6L1251.0 1083.7L1249.8 1083.4L1250.1 1082.7L1250.4 1082.1L1248.9 1081.7L1249.5 1081.1L1251.5 1080.2L1253.4 1079.3L1249.0 1079.4L1251.9 1078.4L1248.6 1078.3L1248.7 1077.7L1248.5 1077.1L1249.4 1076.4L1250.9 1075.6L1250.3 1075.1L1248.2 1074.8L1247.8 1074.3L1248.6 1073.6L1248.4 1073.0L1250.1 1072.2L1247.7 1072.0L1248.3 1071.3L1251.5 1070.4L1247.3 1070.2L1251.9 1069.2L1249.9 1068.8L1251.8 1068.0L1249.4 1067.7L1251.2 1067.0L1247.9 1066.7L1247.1 1066.2L1250.6 1065.3L1247.8 1065.0L1251.1 1064.1L1247.6 1063.8L1251.2 1063.0L1247.7 1062.7L1248.0 1062.1L1246.6 1061.6L1248.8 1060.9L1250.0 1060.2L1250.5 1059.6L1249.8 1059.1L1248.8 1058.6L1249.4 1057.9L1249.0 1057.4L1246.3 1056.9L1253.7 1056.6A209 209 0 0 0 1259.1 1095.4ZM1253.5 1045.9L1246.1 1045.8L1250.6 1045.3L1249.7 1044.7L1249.2 1044.1L1248.7 1043.5L1249.7 1042.9L1249.2 1042.4L1249.5 1041.8L1246.8 1041.1L1247.1 1040.6L1248.4 1040.0L1248.1 1039.4L1249.0 1038.9L1250.2 1038.4L1247.3 1037.7L1250.3 1037.2L1250.9 1036.7L1248.3 1036.0L1248.6 1035.4L1250.4 1034.9L1250.4 1034.3L1248.1 1033.6L1247.2 1033.0L1249.4 1032.6L1250.0 1032.0L1249.2 1031.4L1250.7 1030.9L1249.4 1030.2L1248.5 1029.6L1249.9 1029.1L1250.8 1028.6L1251.7 1028.1L1247.5 1027.2L1250.7 1026.9L1247.1 1025.9L1249.0 1025.5L1249.5 1025.0L1249.5 1024.4L1250.9 1024.0L1248.1 1023.1L1249.1 1022.6L1249.6 1022.1L1251.8 1021.8L1251.9 1021.2L1249.4 1020.3L1252.1 1020.1L1251.2 1019.4L1251.4 1018.8L1248.4 1017.9L1252.7 1017.9L1250.4 1017.0L1248.5 1016.1L1250.7 1015.8L1249.2 1015.0L1250.5 1014.6L1250.8 1014.1L1251.8 1013.7L1252.3 1013.2L1249.2 1012.1L1251.2 1011.8L1251.9 1011.3L1251.6 1010.7L1250.4 1009.9L1250.8 1009.4L1252.5 1009.1L1250.6 1008.2L1250.8 1007.6L1252.0 1007.2L1250.0 1006.3L1253.2 1006.3L1257.4 1007.1A209 209 0 0 0 1253.5 1045.9ZM1259.7 996.8L1256.8 996.1L1254.4 994.9L1254.3 994.3L1253.0 993.3L1254.3 993.1L1254.9 992.6L1257.2 992.6L1255.9 991.7L1257.5 991.5L1256.9 990.7L1257.5 990.3L1255.3 989.1L1254.5 988.3L1254.5 987.7L1258.0 988.1L1255.8 986.8L1256.4 986.4L1256.5 985.8L1258.9 986.0L1256.7 984.7L1259.3 984.9L1257.5 983.7L1258.4 983.4L1257.3 982.4L1259.3 982.5L1257.1 981.1L1260.1 981.5L1258.5 980.4L1260.3 980.4L1259.8 979.6L1258.0 978.4L1260.6 978.6L1258.4 977.3L1261.7 977.8L1261.9 977.3L1262.6 976.9L1262.1 976.1L1261.0 975.1L1263.5 975.4L1262.3 974.4L1262.3 973.8L1260.6 972.5L1262.2 972.5L1261.2 971.5L1261.3 970.9L1262.6 970.8L1262.4 970.1L1262.7 969.6L1265.3 970.0L1263.6 968.7L1261.6 967.3L1263.6 967.4L1264.1 967.0L1266.2 967.2L1266.1 966.6L1264.1 965.2L1265.9 965.3L1264.9 964.2L1266.9 964.4L1263.8 962.5L1264.4 962.1L1267.7 962.9L1267.6 962.3L1267.4 961.5L1264.7 959.7L1268.3 960.7L1266.7 959.3L1265.7 958.2L1265.9 957.7L1272.3 960.6A209 209 0 0 0 1259.7 996.8ZM1276.8 951.3L1273.7 949.7L1270.9 947.6L1272.0 947.5L1274.3 948.1L1272.6 946.5L1271.8 945.4L1275.6 946.8L1275.7 946.2L1272.5 943.8L1272.9 943.4L1276.5 944.7L1274.1 942.7L1275.1 942.6L1274.6 941.6L1274.1 940.7L1276.9 941.6L1276.9 940.9L1275.0 939.2L1279.2 940.9L1277.3 939.2L1276.8 938.2L1279.2 938.9L1279.6 938.5L1277.8 936.8L1277.8 936.1L1281.1 937.4L1278.6 935.2L1278.7 934.6L1279.1 934.1L1280.1 934.0L1283.1 935.2L1280.5 932.9L1281.6 933.0L1283.0 933.1L1284.1 933.2L1283.9 932.3L1283.3 931.3L1281.7 929.5L1283.9 930.3L1283.3 929.2L1282.9 928.2L1284.3 928.5L1286.7 929.3L1286.0 928.2L1285.3 927.0L1284.6 925.9L1287.3 927.0L1285.2 924.9L1285.2 924.2L1286.7 924.4L1287.6 924.4L1286.7 923.0L1288.5 923.6L1290.2 924.1L1288.9 922.5L1289.9 922.5L1290.0 921.8L1291.7 922.4L1288.5 919.3L1290.2 919.8L1292.7 921.0L1290.8 918.9L1290.1 917.6L1293.0 919.0L1293.8 918.9L1294.3 918.6L1293.7 917.4L1296.8 919.8A209 209 0 0 0 1276.8 951.3ZM1303.2 911.9L1298.1 907.6L1300.9 909.3L1299.9 907.7L1302.2 908.9L1299.4 905.6L1300.9 906.2L1301.7 906.1L1303.0 906.5L1302.2 905.0L1303.9 905.7L1303.9 905.0L1304.7 904.9L1303.5 903.0L1304.1 902.8L1303.7 901.6L1305.9 902.9L1304.4 900.8L1305.7 901.1L1308.0 902.5L1305.5 899.3L1306.9 899.9L1305.7 897.9L1308.6 899.9L1308.7 899.1L1307.0 896.8L1308.8 897.7L1309.4 897.4L1308.3 895.5L1312.0 898.4L1312.3 897.8L1311.6 896.3L1312.7 896.6L1312.4 895.5L1311.0 893.2L1311.4 892.8L1314.4 895.1L1312.4 892.1L1312.4 891.3L1315.8 894.0L1314.6 891.9L1313.6 890.1L1315.2 890.9L1314.8 889.6L1317.3 891.4L1315.5 888.6L1318.9 891.4L1319.2 890.9L1319.6 890.5L1319.8 889.9L1318.9 888.0L1319.0 887.3L1319.5 886.9L1319.7 886.2L1321.0 886.9L1319.8 884.6L1322.3 886.6L1322.8 886.3L1322.4 884.9L1324.1 886.1L1322.7 883.5L1323.0 883.0L1326.0 885.6L1325.5 884.1L1324.9 882.5L1327.2 884.4L1328.9 886.4A209 209 0 0 0 1303.2 911.9ZM1336.9 880.1L1334.6 877.1L1335.4 877.2L1334.7 875.2L1333.9 873.2L1334.9 873.5L1337.7 876.4L1337.7 875.4L1336.6 873.0L1338.2 874.1L1337.0 871.5L1338.1 872.1L1339.7 873.3L1340.6 873.6L1339.3 870.7L1341.6 873.0L1339.7 869.3L1342.2 871.8L1343.1 872.2L1341.2 868.3L1343.8 871.1L1344.4 871.0L1342.9 867.7L1343.0 866.8L1344.9 868.7L1345.7 868.8L1346.5 869.0L1346.7 868.2L1348.0 869.2L1347.9 868.0L1346.7 864.9L1348.1 866.1L1349.6 867.5L1350.0 867.1L1348.4 863.4L1350.8 866.1L1351.3 865.8L1350.4 863.2L1352.9 866.2L1351.8 863.2L1352.9 864.1L1353.6 864.1L1354.2 864.0L1353.5 861.6L1353.7 860.8L1355.3 862.3L1356.7 863.8L1355.6 860.6L1357.6 862.9L1357.0 860.7L1356.4 858.6L1358.7 861.4L1358.2 859.3L1358.1 858.0L1358.6 857.6L1359.5 858.0L1361.4 860.4L1361.1 858.7L1362.5 860.0L1362.4 858.5L1363.5 859.4L1363.2 857.6L1363.0 856.1L1364.6 857.8L1364.6 856.4L1364.3 854.7L1364.9 854.6L1368.0 860.8A209 209 0 0 0 1336.9 880.1ZM1376.9 856.5L1374.7 851.6L1375.0 850.9L1376.3 852.3L1376.6 851.7L1376.4 849.8L1376.7 849.1L1378.3 851.3L1378.9 851.0L1379.1 850.0L1380.6 852.1L1381.1 851.9L1381.1 850.5L1381.7 850.4L1381.4 848.2L1382.4 849.1L1382.9 848.7L1384.0 849.9L1383.6 847.4L1384.5 848.1L1384.9 847.5L1385.8 848.2L1386.7 849.1L1386.9 847.9L1387.7 848.3L1387.3 845.7L1388.2 846.4L1388.8 846.3L1389.4 846.2L1389.4 844.7L1390.0 844.5L1390.3 843.6L1391.0 843.8L1392.0 844.8L1392.3 843.9L1393.8 846.7L1394.2 845.9L1393.7 842.7L1395.2 845.3L1394.8 842.3L1395.7 843.2L1396.2 843.0L1396.4 841.5L1397.2 842.2L1397.6 841.4L1398.1 841.2L1399.7 844.5L1399.9 843.2L1400.4 842.6L1400.4 840.6L1401.4 841.9L1402.6 844.0L1402.9 843.0L1403.3 842.4L1404.3 843.6L1404.2 841.2L1405.1 842.2L1405.9 842.9L1406.0 841.1L1405.9 838.5L1407.1 840.7L1407.8 841.2L1408.5 841.6L1409.0 841.2L1409.4 840.5L1409.6 839.1L1410.9 841.7L1411.6 844.5A209 209 0 0 0 1376.9 856.5ZM1421.4 842.3L1421.3 841.4L1421.8 841.3L1422.3 840.9L1423.0 841.2L1423.5 840.9L1424.0 840.7L1424.7 840.9L1424.8 838.4L1425.8 840.9L1426.3 840.4L1426.9 840.6L1427.5 840.4L1428.0 840.0L1428.6 840.4L1429.1 839.9L1429.7 840.1L1430.3 839.9L1430.8 839.6L1431.4 839.9L1432.0 839.8L1432.5 839.1L1432.8 837.0L1433.6 838.9L1434.3 839.6L1434.8 838.9L1435.4 839.0L1435.9 838.7L1436.6 839.3L1437.1 838.8L1437.4 836.6L1438.2 838.4L1438.8 838.6L1439.3 838.4L1439.9 838.5L1440.5 838.6L1441.0 838.3L1441.6 838.2L1442.2 838.4L1442.8 838.4L1443.3 838.2L1443.9 838.2L1444.4 837.7L1445.1 838.2L1445.6 838.2L1446.2 837.9L1446.7 837.6L1447.3 837.9L1447.9 838.1L1448.5 837.7L1449.0 837.7L1449.6 837.3L1450.2 837.5L1450.7 837.4L1451.3 837.6L1451.9 837.5L1452.4 837.2L1452.5 838.4A209 209 0 0 0 1421.4 842.3Z" fill="#f0d9b8" stroke="#f0d9b8" stroke-width="0.3" stroke-linejoin="round"/>
<path d="M1472.6 878.5L1473.1 870.8L1473.4 877.0L1474.1 876.8L1475.5 866.7L1475.4 877.1L1476.1 877.0L1477.9 863.8L1477.4 877.4L1478.1 877.3L1479.2 873.0L1479.4 877.3L1480.3 875.5L1480.7 877.9L1481.4 877.7L1482.6 873.1L1482.7 878.1L1483.4 877.9L1484.1 878.0L1484.8 878.0L1485.4 878.5L1486.0 878.5L1486.7 878.9L1487.4 878.8L1488.1 878.5L1488.7 879.0L1489.3 879.0L1490.0 879.2L1490.7 879.0L1491.3 879.4L1492.0 879.2L1492.6 879.6L1493.3 879.7L1494.1 879.4L1494.7 879.6L1495.3 879.8L1495.9 880.1L1496.6 880.4L1497.2 880.6L1497.9 880.6L1498.6 880.5L1499.2 881.1L1499.8 881.2L1500.6 881.0L1501.2 881.1L1501.8 881.4L1502.4 881.9L1503.1 881.8L1503.7 882.2L1504.4 882.2L1505.2 881.8L1505.7 882.5L1506.3 882.8L1507.1 882.7L1507.6 883.1L1508.3 883.1L1509.1 883.0L1509.6 883.5L1510.2 883.7L1510.8 884.0L1511.6 883.9L1512.2 884.3L1512.9 884.2L1513.3 885.0L1514.2 884.6L1514.7 885.2L1515.5 884.9L1516.0 885.4L1516.6 885.8L1517.3 885.7L1517.9 886.3L1518.6 886.1L1519.2 886.4L1519.7 887.0L1522.1 882.4L1520.0 888.3A169 169 0 0 0 1472.6 878.5ZM1527.6 891.2L1528.2 889.7L1528.7 890.2L1529.3 890.6L1529.9 890.9L1530.5 891.2L1531.2 891.2L1531.9 891.4L1532.3 892.1L1533.1 892.0L1533.8 892.0L1534.1 893.0L1534.8 893.2L1535.4 893.3L1536.0 893.7L1536.8 893.6L1537.4 893.9L1537.9 894.5L1538.6 894.5L1540.0 893.3L1540.5 893.7L1540.3 895.6L1542.0 893.8L1541.4 896.5L1542.2 896.4L1542.7 896.9L1543.2 897.3L1544.0 897.3L1544.6 897.6L1545.2 897.9L1545.8 898.2L1546.4 898.5L1546.8 899.1L1547.2 899.8L1548.1 899.6L1548.7 900.0L1549.3 900.2L1549.7 900.8L1550.5 900.9L1551.0 901.2L1551.6 901.7L1552.1 902.1L1552.5 902.7L1553.3 902.6L1553.7 903.3L1554.4 903.5L1555.0 903.8L1555.6 904.2L1556.2 904.4L1556.4 905.4L1557.0 905.7L1557.6 906.0L1558.1 906.4L1558.8 906.5L1559.3 907.1L1559.8 907.6L1560.6 907.6L1561.0 908.1L1561.4 908.8L1562.2 908.8L1562.8 909.1L1563.1 909.8L1565.5 907.7L1564.5 910.3L1564.7 911.1L1565.3 911.5L1565.7 912.0L1566.2 912.5L1566.9 912.6L1567.6 912.8L1567.9 913.5L1568.8 913.5L1573.3 909.0L1568.2 915.3A169 169 0 0 0 1527.6 891.2ZM1574.7 920.8L1578.7 916.2L1575.9 920.4L1576.5 920.7L1577.2 921.0L1577.4 921.8L1578.3 921.7L1578.4 922.6L1578.8 923.2L1579.3 923.6L1580.1 923.8L1580.7 924.1L1580.9 924.9L1581.3 925.4L1581.7 925.9L1582.5 926.1L1582.9 926.7L1583.2 927.3L1583.6 927.8L1584.1 928.3L1584.7 928.6L1585.3 928.9L1585.8 929.4L1586.4 929.8L1586.8 930.3L1587.2 930.9L1587.3 931.7L1588.1 931.8L1588.3 932.6L1589.2 932.7L1589.1 933.7L1589.6 934.2L1590.3 934.4L1590.5 935.1L1591.1 935.5L1591.5 936.0L1592.1 936.4L1592.2 937.2L1592.9 937.5L1593.5 937.9L1593.6 938.6L1593.9 939.3L1594.7 939.4L1595.0 940.0L1595.4 940.6L1596.0 941.0L1596.1 941.7L1596.6 942.3L1597.4 942.5L1597.6 943.2L1598.0 943.7L1598.2 944.4L1599.0 944.6L1598.9 945.5L1599.8 945.7L1600.0 946.4L1600.2 947.0L1600.4 947.7L1601.2 948.0L1601.6 948.5L1601.8 949.2L1602.2 949.8L1602.7 950.2L1602.9 950.9L1603.5 951.3L1603.8 951.9L1604.2 952.5L1604.3 953.2L1604.8 953.6L1605.1 954.3L1605.9 954.5L1604.4 955.5A169 169 0 0 0 1574.7 920.8ZM1608.9 962.8L1613.3 960.2L1610.2 962.8L1610.7 963.3L1611.4 963.7L1611.8 964.2L1611.9 964.9L1611.9 965.7L1612.6 966.1L1612.7 966.8L1612.8 967.5L1617.7 965.7L1613.5 968.6L1614.0 969.2L1614.2 969.8L1614.3 970.5L1617.7 969.5L1614.8 971.7L1615.6 972.1L1615.8 972.7L1616.1 973.3L1619.7 972.4L1616.8 974.5L1616.7 975.3L1616.9 976.0L1617.3 976.5L1618.0 976.9L1618.0 977.6L1618.1 978.3L1618.9 978.7L1619.0 979.4L1619.3 980.0L1619.2 980.8L1619.9 981.2L1619.6 982.1L1624.6 980.8L1620.3 983.2L1620.5 983.9L1621.2 984.3L1621.3 985.0L1625.9 984.0L1621.9 986.2L1621.6 987.1L1622.5 987.5L1622.5 988.2L1622.3 989.0L1623.2 989.3L1622.7 990.2L1623.2 990.7L1623.3 991.4L1623.6 992.0L1624.0 992.6L1624.2 993.3L1624.3 993.9L1624.9 994.4L1624.8 995.2L1625.2 995.8L1625.3 996.4L1625.2 997.2L1625.8 997.7L1625.4 998.5L1625.7 999.1L1625.9 999.8L1626.4 1000.3L1626.3 1001.0L1626.7 1001.6L1626.7 1002.3L1627.3 1002.9L1627.4 1003.5L1627.3 1004.2L1626.0 1004.6A169 169 0 0 0 1608.9 962.8ZM1628.1 1013.4L1634.0 1012.2L1629.9 1013.7L1630.0 1014.4L1629.5 1015.2L1629.6 1015.8L1632.2 1016.0L1629.9 1017.1L1630.2 1017.7L1630.3 1018.4L1630.3 1019.1L1630.8 1019.7L1631.0 1020.3L1630.5 1021.1L1631.3 1021.6L1631.2 1022.3L1631.0 1023.0L1631.2 1023.7L1631.6 1024.3L1631.3 1025.0L1631.2 1025.7L1631.5 1026.3L1631.9 1027.0L1631.7 1027.7L1631.5 1028.4L1632.3 1028.9L1631.6 1029.7L1631.9 1030.3L1632.4 1030.9L1631.9 1031.7L1636.1 1032.0L1632.1 1033.0L1632.0 1033.7L1632.7 1034.3L1632.2 1035.0L1632.6 1035.6L1635.2 1036.1L1632.5 1037.0L1632.3 1037.7L1632.9 1038.3L1633.0 1039.0L1632.7 1039.7L1633.1 1040.3L1633.2 1041.0L1632.5 1041.7L1632.5 1042.3L1637.7 1042.9L1632.9 1043.7L1632.5 1044.3L1632.8 1045.0L1632.6 1045.7L1632.5 1046.3L1632.5 1047.0L1637.3 1047.7L1632.8 1048.3L1637.7 1049.1L1632.7 1049.7L1632.5 1050.3L1632.5 1051.0L1633.0 1051.7L1633.0 1052.4L1633.1 1053.0L1633.1 1053.7L1632.6 1054.4L1632.7 1055.0L1632.6 1055.7L1632.5 1056.4L1633.0 1057.1L1632.2 1057.7L1637.5 1058.7L1631.1 1058.3A169 169 0 0 0 1628.1 1013.4ZM1630.3 1067.1L1637.5 1068.0L1633.4 1068.2L1631.8 1068.6L1631.4 1069.3L1631.3 1069.9L1631.6 1070.7L1631.1 1071.3L1631.3 1072.0L1630.6 1072.5L1631.2 1073.3L1631.2 1074.0L1631.1 1074.6L1630.6 1075.2L1630.8 1076.0L1630.2 1076.5L1630.3 1077.2L1630.4 1077.9L1630.1 1078.6L1630.1 1079.2L1629.8 1079.9L1629.6 1080.5L1629.3 1081.1L1629.7 1081.9L1628.9 1082.4L1628.7 1083.0L1629.3 1083.8L1628.5 1084.4L1629.0 1085.2L1628.5 1085.7L1628.4 1086.4L1628.5 1087.1L1628.3 1087.8L1627.9 1088.4L1627.3 1088.9L1627.9 1089.7L1627.5 1090.3L1627.4 1091.0L1626.7 1091.5L1626.9 1092.2L1626.8 1092.9L1626.8 1093.6L1626.4 1094.2L1626.3 1094.9L1625.8 1095.4L1625.6 1096.0L1625.7 1096.8L1625.1 1097.3L1625.4 1098.1L1625.3 1098.7L1624.6 1099.2L1624.3 1099.8L1624.0 1100.4L1624.5 1101.3L1623.9 1101.8L1623.9 1102.5L1623.3 1103.0L1623.1 1103.7L1623.3 1104.4L1623.1 1105.1L1622.4 1105.6L1622.7 1106.4L1626.2 1108.4L1621.8 1107.5L1621.9 1108.2L1621.4 1108.7L1621.3 1109.4L1620.7 1109.9L1619.6 1109.5A169 169 0 0 0 1630.3 1067.1ZM1616.2 1117.5L1617.6 1118.1L1617.1 1118.7L1616.6 1119.2L1616.4 1119.8L1616.2 1120.5L1615.7 1121.0L1615.6 1121.7L1615.7 1122.5L1615.3 1123.0L1614.7 1123.5L1614.4 1124.1L1614.6 1124.9L1614.3 1125.5L1613.8 1126.1L1613.6 1126.7L1612.9 1127.1L1612.3 1127.5L1612.5 1128.4L1612.0 1128.9L1615.6 1131.6L1611.6 1130.2L1610.8 1130.5L1610.5 1131.1L1610.2 1131.8L1610.2 1132.6L1609.4 1132.9L1609.1 1133.4L1609.0 1134.2L1609.0 1134.9L1608.6 1135.5L1608.1 1136.0L1607.7 1136.5L1607.3 1137.1L1606.7 1137.5L1606.7 1138.3L1605.9 1138.6L1606.1 1139.5L1605.2 1139.7L1605.4 1140.7L1604.7 1141.0L1604.1 1141.4L1604.3 1142.4L1603.5 1142.6L1603.3 1143.3L1603.2 1144.0L1602.8 1144.6L1602.0 1144.9L1605.1 1147.9L1601.6 1146.2L1604.2 1148.9L1600.2 1146.9L1600.4 1147.8L1599.6 1148.1L1599.4 1148.8L1599.2 1149.5L1598.3 1149.7L1598.1 1150.4L1597.5 1150.8L1597.2 1151.4L1596.9 1152.0L1596.6 1152.6L1596.3 1153.2L1595.8 1153.7L1598.3 1156.6L1594.9 1154.7L1594.3 1155.1L1598.1 1159.1L1592.8 1154.8A169 169 0 0 0 1616.2 1117.5ZM1587.5 1160.9L1592.3 1165.3L1588.1 1162.4L1587.4 1162.6L1587.4 1163.6L1586.5 1163.7L1586.5 1164.6L1585.6 1164.6L1587.3 1167.2L1587.9 1168.7L1584.5 1166.4L1584.0 1166.8L1585.7 1169.5L1582.7 1167.5L1582.7 1168.4L1581.8 1168.5L1581.5 1169.1L1580.8 1169.4L1580.6 1170.1L1579.9 1170.4L1579.8 1171.2L1578.8 1171.2L1578.4 1171.7L1578.0 1172.3L1577.6 1172.9L1576.8 1173.0L1576.8 1174.0L1576.0 1174.2L1575.8 1174.9L1574.9 1174.9L1574.4 1175.4L1574.2 1176.2L1573.8 1176.7L1572.9 1176.8L1572.4 1177.2L1571.9 1177.6L1571.6 1178.3L1570.9 1178.5L1570.2 1178.8L1569.7 1179.2L1569.3 1179.8L1568.7 1180.1L1568.3 1180.6L1567.6 1180.9L1567.2 1181.4L1566.7 1182.0L1567.9 1184.7L1565.8 1183.0L1565.2 1183.4L1564.5 1183.5L1564.2 1184.3L1563.7 1184.6L1563.1 1185.0L1562.3 1185.1L1562.0 1185.8L1561.3 1186.0L1560.8 1186.5L1560.2 1186.8L1559.5 1187.0L1559.1 1187.6L1558.5 1187.9L1558.0 1188.3L1557.4 1188.7L1557.1 1189.4L1556.2 1189.2L1555.5 1188.3A169 169 0 0 0 1587.5 1160.9ZM1548.4 1192.7L1551.0 1197.1L1548.4 1194.1L1548.1 1194.9L1547.5 1195.2L1546.9 1195.4L1546.3 1195.7L1545.8 1196.2L1545.1 1196.3L1546.1 1199.5L1543.9 1197.0L1543.4 1197.5L1542.9 1197.8L1542.0 1197.6L1541.7 1198.5L1540.9 1198.5L1540.3 1198.7L1539.6 1198.8L1539.3 1199.7L1538.5 1199.5L1538.1 1200.3L1537.5 1200.5L1536.7 1200.4L1536.3 1201.2L1535.7 1201.4L1534.8 1201.2L1534.4 1201.8L1533.9 1202.3L1533.2 1202.5L1532.5 1202.5L1531.7 1202.5L1531.3 1203.0L1530.5 1203.1L1530.1 1203.7L1529.5 1204.0L1528.7 1203.9L1528.2 1204.3L1527.7 1204.8L1527.0 1205.1L1527.3 1207.5L1525.8 1205.5L1526.2 1208.4L1524.6 1206.1L1523.8 1205.8L1523.3 1206.6L1522.6 1206.6L1523.7 1211.5L1521.3 1206.9L1520.8 1207.5L1520.1 1207.6L1519.4 1207.6L1519.0 1208.3L1518.3 1208.5L1517.6 1208.5L1516.9 1208.4L1516.3 1208.8L1515.7 1209.0L1515.0 1209.0L1514.4 1209.3L1513.9 1210.0L1513.1 1209.6L1512.5 1210.0L1512.1 1208.8A169 169 0 0 0 1548.4 1192.7ZM1504.3 1210.9L1504.7 1212.4L1504.1 1212.7L1503.4 1212.8L1503.2 1215.0L1502.0 1212.9L1501.3 1212.9L1500.7 1213.2L1500.0 1213.1L1499.4 1213.4L1498.8 1213.9L1498.1 1213.8L1497.5 1214.3L1496.7 1213.8L1496.1 1214.0L1495.6 1214.7L1494.8 1214.3L1494.1 1214.3L1493.5 1214.6L1492.9 1215.3L1492.2 1215.2L1491.9 1217.1L1490.8 1214.9L1490.3 1215.7L1489.5 1215.3L1488.9 1215.4L1488.2 1215.8L1487.5 1215.7L1486.9 1215.6L1486.3 1216.3L1485.6 1216.2L1484.9 1216.1L1484.8 1220.9L1483.6 1216.2L1482.9 1216.6L1482.3 1216.6L1481.6 1216.6L1480.9 1216.6L1480.2 1216.7L1479.5 1216.5L1478.9 1216.5L1478.2 1217.1L1477.5 1216.7L1476.9 1217.2L1476.2 1217.0L1475.5 1216.8L1474.9 1217.2L1474.2 1217.1L1473.5 1217.0L1473.1 1221.1L1472.2 1217.1L1471.6 1217.7L1470.9 1217.3L1470.2 1217.5L1469.5 1217.7L1468.9 1219.7L1468.2 1217.5L1467.5 1217.8L1466.8 1217.6L1466.2 1217.3L1465.6 1221.4L1465.5 1216.2A169 169 0 0 0 1504.3 1210.9ZM1457.3 1216.1L1457.2 1217.3L1456.6 1217.7L1455.9 1217.4L1455.2 1217.2L1454.5 1217.6L1453.9 1217.1L1453.2 1217.0L1452.5 1217.4L1451.8 1217.1L1451.2 1217.1L1450.5 1216.8L1449.8 1216.9L1449.1 1216.9L1448.4 1217.2L1447.8 1216.9L1447.1 1216.7L1446.5 1216.5L1445.7 1216.9L1445.1 1216.9L1444.4 1216.7L1443.7 1216.9L1443.0 1216.8L1442.4 1216.6L1441.7 1216.7L1440.8 1217.8L1440.4 1215.8L1439.7 1215.9L1439.0 1215.9L1438.4 1215.5L1437.7 1215.8L1437.1 1215.4L1436.4 1215.3L1435.7 1215.5L1435.0 1215.4L1434.3 1215.4L1433.6 1215.4L1433.0 1215.2L1432.4 1214.5L1431.6 1215.1L1430.9 1215.0L1430.4 1214.4L1429.3 1216.2L1429.0 1214.5L1428.4 1214.1L1427.7 1213.7L1427.0 1214.0L1426.4 1213.5L1425.7 1213.8L1425.1 1213.3L1424.3 1213.4L1423.8 1212.9L1423.1 1212.8L1422.4 1213.0L1421.8 1212.4L1421.0 1212.6L1420.4 1212.4L1419.7 1212.4L1417.9 1216.5L1419.5 1210.6A169 169 0 0 0 1457.3 1216.1ZM1411.3 1208.3L1410.8 1209.7L1410.2 1209.4L1409.5 1209.5L1408.8 1209.3L1408.4 1208.5L1407.7 1208.4L1407.1 1208.1L1406.4 1208.0L1405.8 1207.8L1405.2 1207.3L1404.5 1207.4L1403.9 1207.2L1403.3 1206.9L1402.5 1206.9L1401.8 1206.8L1401.4 1206.1L1400.8 1205.8L1398.5 1209.7L1399.3 1205.8L1398.7 1205.5L1398.3 1204.7L1397.5 1205.0L1397.0 1204.4L1396.4 1204.1L1395.9 1203.6L1394.4 1205.3L1394.6 1203.2L1393.7 1203.5L1393.4 1202.7L1392.6 1202.7L1391.9 1202.6L1391.3 1202.4L1390.9 1201.7L1390.1 1201.8L1389.5 1201.5L1389.2 1200.6L1388.5 1200.4L1387.7 1200.4L1387.2 1200.0L1386.5 1200.0L1385.9 1199.6L1385.4 1199.2L1384.7 1198.9L1384.2 1198.5L1383.7 1197.9L1383.0 1197.9L1382.3 1197.8L1381.9 1197.1L1381.1 1197.1L1379.6 1198.5L1380.0 1196.3L1379.5 1195.8L1378.7 1195.9L1378.4 1195.1L1378.9 1194.1A169 169 0 0 0 1411.3 1208.3ZM1371.8 1189.8L1368.8 1194.6L1370.3 1190.9L1370.1 1189.9L1369.3 1190.1L1368.9 1189.4L1368.1 1189.4L1367.5 1189.1L1367.2 1188.4L1366.4 1188.3L1365.9 1187.8L1365.4 1187.4L1364.7 1187.2L1364.4 1186.5L1363.9 1186.0L1363.4 1185.6L1363.0 1185.0L1362.1 1185.1L1361.8 1184.4L1361.2 1184.1L1359.2 1185.6L1360.2 1183.2L1359.4 1183.1L1358.9 1182.6L1358.5 1182.1L1357.8 1181.9L1357.4 1181.4L1356.7 1181.2L1356.1 1180.8L1355.7 1180.3L1355.1 1179.9L1354.9 1179.1L1354.3 1178.8L1353.8 1178.3L1353.0 1178.3L1352.8 1177.5L1352.1 1177.3L1351.5 1177.0L1351.0 1176.5L1351.0 1175.5L1350.3 1175.3L1349.7 1174.9L1349.4 1174.3L1348.7 1174.0L1348.0 1173.9L1347.7 1173.2L1347.0 1172.9L1344.6 1174.5L1346.4 1171.7L1345.6 1171.5L1345.1 1171.1L1344.7 1170.5L1342.0 1172.3L1343.7 1169.7L1343.3 1169.0L1342.7 1168.8L1343.9 1167.6A169 169 0 0 0 1371.8 1189.8ZM1338.3 1161.8L1331.9 1167.7L1336.7 1162.3L1336.2 1161.9L1336.1 1161.1L1335.5 1160.7L1334.8 1160.4L1334.5 1159.8L1333.9 1159.4L1333.9 1158.5L1333.0 1158.4L1333.1 1157.4L1332.6 1156.9L1330.5 1157.8L1331.4 1156.2L1330.8 1155.8L1330.8 1155.0L1330.0 1154.8L1329.5 1154.3L1329.4 1153.5L1328.9 1153.0L1327.1 1153.6L1328.0 1152.1L1328.0 1151.2L1327.6 1150.7L1327.1 1150.2L1326.7 1149.6L1326.0 1149.3L1325.9 1148.5L1322.8 1150.0L1324.8 1147.7L1324.7 1146.9L1324.1 1146.6L1323.9 1145.8L1323.1 1145.6L1323.1 1144.8L1322.5 1144.4L1322.2 1143.7L1321.5 1143.4L1321.3 1142.7L1320.8 1142.2L1320.3 1141.8L1320.3 1141.0L1319.7 1140.6L1319.8 1139.7L1319.1 1139.3L1318.9 1138.7L1318.7 1138.0L1317.8 1137.8L1317.6 1137.1L1317.5 1136.4L1317.1 1135.8L1316.7 1135.3L1316.3 1134.7L1317.5 1134.0A169 169 0 0 0 1338.3 1161.8ZM1313.5 1127.0L1308.9 1129.5L1311.7 1127.3L1311.8 1126.4L1311.1 1126.0L1311.3 1125.2L1310.6 1124.8L1310.4 1124.1L1309.8 1123.6L1309.8 1122.9L1309.5 1122.3L1308.9 1121.8L1309.0 1121.0L1308.5 1120.5L1308.1 1119.9L1307.9 1119.2L1307.8 1118.6L1307.1 1118.1L1306.8 1117.5L1307.0 1116.7L1306.4 1116.2L1306.2 1115.5L1305.8 1115.0L1305.8 1114.2L1305.9 1113.5L1305.1 1113.1L1305.3 1112.2L1304.7 1111.7L1304.8 1111.0L1304.5 1110.3L1304.3 1109.7L1303.5 1109.3L1303.3 1108.6L1303.5 1107.8L1302.8 1107.4L1303.1 1106.5L1302.8 1105.9L1302.3 1105.4L1302.4 1104.6L1301.6 1104.2L1301.4 1103.5L1301.6 1102.7L1301.4 1102.1L1300.8 1101.6L1300.7 1100.9L1300.6 1100.2L1300.1 1099.6L1300.4 1098.8L1300.3 1098.2L1300.1 1097.5L1299.6 1097.0L1296.2 1097.3L1298.9 1095.8L1298.7 1095.1L1300.3 1094.6A169 169 0 0 0 1313.5 1127.0ZM1298.1 1086.2L1292.9 1087.4L1296.7 1085.8L1296.5 1085.1L1293.8 1085.0L1295.8 1083.9L1295.9 1083.2L1295.9 1082.5L1295.5 1081.9L1295.3 1081.2L1295.0 1080.6L1295.2 1079.9L1295.4 1079.1L1295.2 1078.5L1294.9 1077.8L1295.1 1077.1L1294.6 1076.5L1294.9 1075.8L1294.6 1075.1L1294.7 1074.4L1294.3 1073.8L1294.4 1073.1L1293.8 1072.5L1294.3 1071.7L1293.5 1071.2L1293.7 1070.4L1290.2 1070.2L1293.4 1069.1L1293.2 1068.5L1293.1 1067.8L1293.0 1067.1L1292.8 1066.4L1293.4 1065.7L1293.0 1065.0L1292.9 1064.4L1293.1 1063.7L1292.5 1063.0L1293.2 1062.3L1292.4 1061.7L1292.8 1061.0L1292.7 1060.3L1292.9 1059.6L1289.3 1059.2L1292.2 1058.3L1292.7 1057.6L1290.3 1057.0L1292.7 1056.2L1292.5 1055.5L1292.1 1054.9L1293.7 1054.8A169 169 0 0 0 1298.1 1086.2ZM1293.5 1046.1L1292.0 1046.1L1292.2 1045.4L1292.4 1044.8L1292.3 1044.1L1292.4 1043.4L1291.9 1042.7L1292.0 1042.0L1292.0 1041.4L1292.6 1040.7L1292.5 1040.0L1292.4 1039.3L1292.0 1038.6L1289.4 1037.8L1292.7 1037.3L1292.4 1036.6L1289.7 1035.8L1292.6 1035.3L1290.2 1034.4L1292.5 1033.9L1292.9 1033.3L1292.4 1032.6L1292.6 1031.9L1292.5 1031.2L1293.0 1030.6L1293.2 1029.9L1293.4 1029.3L1292.7 1028.5L1293.1 1027.9L1293.7 1027.3L1293.7 1026.6L1293.4 1025.9L1293.3 1025.2L1293.6 1024.5L1293.9 1023.9L1294.1 1023.2L1293.7 1022.5L1292.8 1021.7L1293.9 1021.1L1294.5 1020.5L1294.1 1019.8L1294.1 1019.1L1294.9 1018.6L1294.4 1017.8L1294.5 1017.1L1295.3 1016.6L1295.1 1015.8L1295.3 1015.2L1291.0 1013.7L1296.6 1014.8A169 169 0 0 0 1293.5 1046.1ZM1298.5 1006.4L1297.2 1006.1L1296.0 1005.1L1293.4 1003.7L1298.0 1004.2L1297.9 1003.5L1297.8 1002.7L1298.4 1002.2L1298.5 1001.5L1298.4 1000.8L1298.7 1000.2L1296.9 999.0L1299.3 998.9L1299.5 998.3L1299.7 997.6L1299.7 996.9L1299.8 996.3L1300.3 995.7L1300.2 994.9L1300.7 994.4L1300.8 993.7L1300.6 992.9L1297.5 991.1L1298.5 990.8L1301.2 991.0L1301.6 990.4L1301.9 989.8L1301.9 989.1L1302.4 988.5L1302.5 987.8L1302.7 987.2L1303.4 986.7L1303.7 986.1L1304.1 985.5L1304.1 984.8L1304.0 984.0L1304.7 983.6L1301.3 981.4L1305.1 982.3L1305.5 981.7L1305.2 980.8L1305.5 980.2L1306.2 979.8L1306.0 978.9L1306.7 978.5L1307.0 977.9L1303.6 975.6L1301.3 973.8L1308.7 977.2A169 169 0 0 0 1298.5 1006.4ZM1312.3 969.7L1311.4 969.2L1311.1 968.3L1312.1 968.0L1312.0 967.2L1312.2 966.6L1312.7 966.0L1313.2 965.6L1313.0 964.7L1313.3 964.1L1314.3 963.8L1314.5 963.2L1314.7 962.5L1315.2 962.0L1315.6 961.5L1315.8 960.8L1316.3 960.3L1316.2 959.5L1316.5 958.9L1316.8 958.3L1317.4 957.8L1318.0 957.4L1318.1 956.6L1318.5 956.1L1319.0 955.6L1319.1 954.9L1319.8 954.5L1320.2 953.9L1317.0 951.0L1320.9 952.8L1320.8 951.9L1321.4 951.5L1321.6 950.8L1322.4 950.6L1322.7 950.0L1323.1 949.4L1323.5 948.9L1323.6 948.1L1324.3 947.8L1324.9 947.3L1324.8 946.5L1325.4 946.0L1325.7 945.4L1326.5 945.2L1326.8 944.6L1327.2 944.0L1321.6 938.8L1328.5 944.2A169 169 0 0 0 1312.3 969.7ZM1333.7 937.8L1330.2 934.9L1333.1 936.4L1333.7 936.1L1332.1 933.8L1334.4 934.9L1334.9 934.5L1335.0 933.7L1335.9 933.5L1336.0 932.8L1336.4 932.2L1337.1 931.9L1337.6 931.4L1338.1 931.0L1338.3 930.3L1338.7 929.8L1339.6 929.6L1339.7 928.8L1340.3 928.4L1340.9 928.2L1341.3 927.5L1341.7 927.0L1342.0 926.3L1342.7 926.1L1343.3 925.8L1343.4 924.9L1343.9 924.4L1344.8 924.4L1345.2 923.9L1345.6 923.3L1346.3 923.1L1346.4 922.2L1347.1 922.0L1347.8 921.7L1348.0 920.9L1348.8 920.8L1348.9 920.0L1349.6 919.7L1350.1 919.3L1350.8 919.0L1351.0 918.3L1351.7 918.0L1352.0 917.4L1352.4 916.8L1353.0 916.5L1350.7 912.7L1354.5 917.2A169 169 0 0 0 1333.7 937.8ZM1361.0 912.1L1357.4 907.4L1360.7 910.6L1361.3 910.3L1361.8 909.8L1362.3 909.4L1362.6 908.7L1363.6 908.8L1364.1 908.4L1364.6 907.9L1365.1 907.4L1365.7 907.1L1366.1 906.5L1366.8 906.3L1367.3 905.8L1367.7 905.2L1368.6 905.3L1369.2 905.0L1369.7 904.5L1370.4 904.3L1370.9 903.8L1371.1 903.0L1372.0 903.2L1372.5 902.6L1373.1 902.2L1373.4 901.6L1374.4 901.8L1375.0 901.4L1375.3 900.7L1376.0 900.5L1376.5 900.0L1375.3 896.6L1377.6 899.3L1378.2 898.9L1379.0 898.9L1379.5 898.3L1380.2 898.3L1380.6 897.6L1381.4 897.6L1382.1 897.4L1382.6 897.0L1383.2 896.7L1383.7 896.2L1384.1 895.6L1384.9 895.5L1385.6 895.3L1386.1 896.4A169 169 0 0 0 1361.0 912.1ZM1393.3 893.0L1390.0 885.7L1393.4 891.7L1394.0 891.4L1394.5 890.7L1395.1 890.3L1395.9 890.5L1396.4 890.1L1397.0 889.8L1396.8 887.5L1398.2 889.0L1398.9 889.0L1399.5 888.5L1400.2 888.4L1401.0 888.6L1401.6 888.3L1401.1 885.1L1402.9 887.8L1403.4 887.2L1404.2 887.4L1403.3 883.1L1405.4 886.8L1406.0 886.5L1406.7 886.5L1407.3 886.0L1407.8 885.4L1408.6 885.6L1409.2 885.4L1409.8 884.9L1410.5 885.0L1411.2 885.0L1411.7 884.2L1412.3 884.0L1412.0 880.6L1413.7 883.8L1414.4 883.8L1415.0 883.3L1415.7 883.2L1415.1 878.5L1417.0 882.7L1417.6 882.4L1418.3 882.4L1419.0 882.3L1419.6 882.0L1420.4 882.2L1420.9 881.6L1421.3 883.3A169 169 0 0 0 1393.3 893.0ZM1429.3 881.5L1426.7 868.6L1427.5 868.7L1427.8 866.4L1429.0 868.9L1429.4 866.6L1429.5 863.4L1431.0 867.7L1431.7 867.2L1432.6 868.0L1433.5 869.1L1433.5 864.4L1434.5 866.1L1435.3 866.0L1436.2 867.5L1437.1 867.9L1437.3 864.1L1438.4 866.6L1439.2 867.4L1439.7 865.4L1440.4 865.3L1441.4 867.5L1442.2 867.5L1442.4 863.2L1443.7 868.0L1444.3 866.6L1445.0 866.4L1445.5 863.7L1446.6 867.6L1447.3 866.9L1447.8 864.6L1448.6 865.4L1449.2 863.5L1450.0 863.7L1451.0 867.4L1451.5 864.5L1452.4 866.2L1453.0 863.8L1453.9 867.0L1454.4 878.4A169 169 0 0 0 1429.3 881.5Z" fill="#f2fb5a" stroke="#f2fb5a" stroke-width="0.3" stroke-linejoin="round"/>
<path d="M1470.7 910.1L1471.0 917.7L1471.9 914.5L1472.3 917.8L1473.0 917.8L1473.7 917.7L1474.4 917.6L1475.0 917.7L1475.7 917.9L1477.1 911.0L1477.1 918.0L1477.7 918.1L1478.4 918.3L1479.0 918.5L1479.7 918.6L1480.4 918.6L1481.1 918.4L1481.7 918.9L1482.4 918.8L1483.1 919.2L1483.8 918.8L1484.4 919.2L1485.4 917.8L1485.8 919.2L1486.4 919.7L1487.1 919.8L1487.7 920.1L1488.5 919.7L1489.1 919.9L1489.8 920.2L1490.3 920.6L1491.1 920.5L1491.7 920.6L1492.4 920.9L1493.1 920.9L1493.7 921.3L1494.3 921.4L1495.0 921.7L1495.7 921.6L1496.3 922.0L1497.0 921.9L1497.7 921.9L1498.3 922.3L1498.9 922.5L1499.5 922.9L1500.3 922.9L1500.9 923.0L1501.5 923.4L1502.3 923.2L1502.9 923.6L1503.5 924.0L1504.2 923.9L1504.8 924.3L1505.4 924.5L1506.0 925.0L1510.2 915.3M1519.0 911.7L1513.1 927.6L1513.8 927.8L1514.3 928.2L1515.0 928.3L1515.6 928.6L1516.1 929.2L1516.9 929.1L1522.5 918.6L1518.0 929.8L1518.7 929.9L1519.2 930.5L1519.9 930.6L1520.4 931.1L1521.0 931.4L1521.6 931.7L1522.4 931.7L1522.8 932.4L1523.5 932.4L1524.8 931.5L1524.6 933.3L1525.1 933.7L1525.9 933.8L1526.5 934.0L1527.1 934.3L1527.6 934.7L1528.3 934.9L1528.7 935.6L1529.5 935.6L1529.9 936.3L1530.4 936.6L1531.2 936.6L1531.8 937.0L1532.3 937.5L1532.7 938.1L1533.3 938.4L1533.9 938.8L1534.6 939.0L1534.9 939.6L1535.5 940.0L1536.1 940.2L1536.7 940.7L1537.4 940.8L1537.7 941.6L1538.5 941.6L1538.9 942.2L1539.5 942.5L1540.2 942.7L1540.5 943.5L1541.2 943.6L1541.5 944.3L1542.2 944.6L1542.7 945.0L1543.1 945.6L1549.6 938.5M1561.9 935.1L1550.9 948.6L1549.8 950.8L1550.0 951.6L1550.8 951.7L1551.1 952.4L1551.5 953.0L1552.2 953.3L1552.8 953.6L1553.1 954.3L1553.7 954.6L1554.0 955.3L1554.5 955.7L1555.3 955.9L1555.8 956.4L1556.0 957.1L1556.4 957.7L1557.1 958.0L1557.3 958.7L1558.0 958.9L1558.3 959.6L1558.7 960.1L1559.4 960.4L1559.9 960.9L1560.0 961.7L1560.6 962.1L1560.9 962.7L1561.6 963.0L1561.8 963.7L1562.6 964.0L1563.0 964.5L1563.3 965.2L1563.6 965.8L1563.9 966.4L1564.4 966.9L1564.8 967.4L1565.1 968.0L1565.7 968.5L1566.2 968.9L1566.7 969.4L1567.1 969.9L1567.3 970.6L1567.7 971.1L1568.2 971.6L1568.5 972.2L1569.0 972.7L1569.3 973.3L1569.9 973.7L1570.1 974.4L1570.7 974.9L1570.6 975.7L1571.5 976.0L1587.4 966.5M1582.6 978.0L1575.1 983.0L1575.6 983.5L1577.8 983.1L1576.2 984.7L1576.8 985.2L1576.7 986.0L1577.3 986.4L1577.6 987.0L1578.1 987.5L1578.1 988.3L1578.6 988.8L1578.9 989.3L1578.9 990.1L1581.6 989.5L1579.9 991.1L1580.0 991.8L1580.3 992.4L1580.5 993.1L1590.5 989.3L1581.1 994.2L1581.2 994.9L1581.8 995.4L1581.7 996.2L1582.2 996.7L1582.6 997.2L1582.4 998.0L1582.9 998.6L1583.1 999.2L1583.3 999.8L1583.4 1000.5L1583.8 1001.1L1584.1 1001.7L1584.6 1002.2L1584.9 1002.8L1584.9 1003.5L1586.3 1003.8L1585.4 1004.8L1585.7 1005.4L1585.9 1006.0L1585.7 1006.8L1586.3 1007.3L1586.5 1008.0L1586.3 1008.7L1586.5 1009.4L1586.7 1010.0L1587.3 1010.5L1587.5 1011.1L1587.8 1011.8L1587.4 1012.6L1587.8 1013.2L1587.9 1013.8L1600.1 1011.3M1608.3 1017.4L1589.7 1021.9L1590.2 1022.5L1590.2 1023.2L1590.1 1023.9L1590.4 1024.5L1590.7 1025.2L1590.5 1025.9L1592.2 1026.3L1590.6 1027.3L1590.7 1027.9L1590.9 1028.6L1590.9 1029.3L1591.1 1029.9L1591.3 1030.6L1592.8 1031.1L1591.3 1032.0L1591.8 1032.6L1591.9 1033.3L1592.0 1034.0L1592.0 1034.6L1591.6 1035.4L1591.7 1036.0L1598.8 1036.1L1591.9 1037.4L1592.1 1038.0L1592.2 1038.7L1592.1 1039.4L1592.2 1040.1L1592.4 1040.8L1592.2 1041.4L1592.1 1042.1L1592.0 1042.8L1592.5 1043.5L1592.6 1044.2L1592.1 1044.8L1592.2 1045.5L1592.2 1046.2L1592.4 1046.9L1592.5 1047.6L1592.5 1048.2L1595.0 1049.0L1592.3 1049.6L1592.1 1050.3L1592.5 1051.0L1592.2 1051.6L1592.2 1052.3L1592.5 1053.0L1592.4 1053.7L1592.4 1054.4L1592.1 1055.0L1606.2 1056.6M1608.6 1064.5L1592.9 1063.4L1591.5 1063.9L1591.1 1064.5L1591.4 1065.2L1590.9 1065.8L1590.7 1066.5L1590.6 1067.1L1590.6 1067.8L1590.9 1068.5L1590.3 1069.1L1590.3 1069.8L1590.2 1070.5L1590.5 1071.2L1590.3 1071.9L1589.8 1072.5L1589.8 1073.1L1589.7 1073.8L1589.4 1074.4L1589.2 1075.1L1589.3 1075.8L1588.8 1076.4L1589.1 1077.1L1588.9 1077.8L1588.6 1078.4L1588.4 1079.1L1588.4 1079.7L1587.9 1080.3L1588.0 1081.0L1587.7 1081.6L1587.7 1082.3L1587.1 1082.9L1587.1 1083.6L1586.9 1084.2L1586.6 1084.8L1586.6 1085.5L1586.3 1086.1L1586.0 1086.7L1585.8 1087.4L1585.8 1088.1L1585.7 1088.8L1585.1 1089.3L1585.1 1090.0L1584.9 1090.6L1584.8 1091.3L1584.3 1091.8L1585.2 1092.9L1584.2 1093.3L1583.8 1093.8L1583.6 1094.5L1592.6 1098.7M1597.3 1108.9L1580.6 1102.0L1580.1 1102.5L1579.8 1103.1L1579.3 1103.6L1579.0 1104.2L1578.9 1104.9L1578.4 1105.4L1578.2 1106.1L1578.2 1106.9L1577.7 1107.4L1577.2 1107.8L1576.9 1108.4L1576.8 1109.2L1576.6 1109.9L1576.2 1110.4L1575.7 1110.9L1575.5 1111.5L1575.3 1112.2L1574.7 1112.7L1574.2 1113.1L1573.9 1113.7L1573.7 1114.4L1573.5 1115.1L1572.9 1115.5L1572.4 1116.0L1572.1 1116.6L1572.0 1117.4L1571.3 1117.8L1571.3 1118.5L1570.5 1118.8L1570.3 1119.5L1569.9 1120.1L1569.6 1120.7L1569.3 1121.3L1568.7 1121.7L1568.3 1122.2L1568.1 1122.9L1567.8 1123.6L1567.2 1124.0L1567.0 1124.7L1567.7 1126.0L1566.1 1125.6L1565.5 1126.1L1565.4 1126.9L1564.9 1127.3L1564.6 1127.9L1565.3 1129.4L1563.6 1128.9L1563.1 1129.3L1576.1 1141.0M1572.8 1147.5L1558.2 1135.1L1557.6 1135.6L1557.3 1136.2L1556.7 1136.5L1556.5 1137.3L1555.6 1137.4L1555.5 1138.2L1554.7 1138.3L1555.9 1140.5L1554.0 1139.5L1553.5 1140.0L1553.1 1140.6L1552.6 1141.0L1552.0 1141.4L1551.3 1141.7L1550.9 1142.2L1550.3 1142.6L1550.1 1143.4L1549.5 1143.7L1549.0 1144.2L1548.7 1144.8L1547.9 1144.9L1547.4 1145.4L1547.0 1146.0L1546.4 1146.3L1545.9 1146.8L1545.4 1147.2L1544.7 1147.4L1544.3 1148.0L1544.0 1148.6L1543.5 1149.1L1542.9 1149.5L1542.2 1149.7L1541.6 1150.0L1541.2 1150.7L1540.5 1150.8L1540.2 1151.5L1539.4 1151.6L1538.9 1152.1L1538.6 1152.8L1537.9 1153.0L1537.2 1153.2L1536.9 1153.9L1536.3 1154.2L1535.6 1154.4L1536.7 1157.3L1536.3 1157.8L1538.5 1162.5M1534.3 1168.8L1528.0 1159.6L1527.4 1159.8L1526.8 1160.2L1526.2 1160.4L1529.7 1168.3L1525.7 1162.3L1524.3 1161.2L1523.7 1161.5L1523.3 1162.3L1522.6 1162.4L1522.1 1162.9L1521.3 1162.8L1520.8 1163.4L1520.1 1163.4L1519.7 1164.1L1519.0 1164.3L1518.4 1164.6L1517.6 1164.6L1517.2 1165.3L1516.6 1165.5L1515.9 1165.7L1515.3 1166.1L1514.6 1166.1L1513.9 1166.3L1513.4 1166.8L1512.9 1167.2L1512.1 1167.1L1511.5 1167.5L1510.8 1167.6L1510.2 1167.8L1509.7 1168.4L1509.1 1168.8L1508.4 1168.9L1507.8 1169.2L1507.1 1169.4L1506.7 1170.3L1505.8 1169.6L1505.8 1171.7L1504.4 1169.9L1503.8 1170.2L1503.2 1170.4L1502.6 1170.9L1501.9 1170.8L1501.3 1171.2L1504.6 1184.4M1498.4 1187.7L1494.0 1173.2L1493.3 1173.4L1492.7 1173.8L1492.1 1173.9L1491.4 1173.8L1490.8 1174.2L1490.1 1174.3L1489.5 1174.5L1488.8 1174.5L1488.1 1174.7L1487.4 1174.5L1486.8 1174.9L1486.1 1174.7L1485.5 1175.3L1484.8 1175.4L1484.1 1175.3L1483.4 1175.2L1482.8 1175.5L1482.1 1175.5L1481.5 1175.6L1480.8 1175.6L1480.1 1175.7L1479.5 1175.7L1478.8 1176.2L1478.2 1176.4L1477.8 1179.0L1476.9 1176.5L1476.2 1176.5L1475.5 1176.4L1474.8 1176.5L1474.2 1176.5L1473.5 1176.4L1472.8 1176.6L1472.1 1176.4L1471.5 1176.6L1470.8 1176.7L1470.2 1177.0L1469.5 1176.6L1468.8 1176.9L1468.1 1176.8L1467.5 1177.2L1466.9 1179.7L1466.4 1187.5L1465.5 1176.9L1465.1 1191.9M1458.1 1188.3L1457.8 1177.2L1457.0 1179.6L1456.4 1177.1L1455.7 1177.0L1455.1 1176.6L1454.4 1176.9L1453.7 1176.7L1453.0 1176.7L1452.3 1176.9L1451.6 1176.9L1451.0 1176.6L1450.3 1176.6L1449.6 1176.4L1448.9 1176.4L1448.3 1176.0L1447.6 1176.0L1446.9 1176.2L1446.2 1176.1L1445.5 1175.9L1442.6 1192.0L1444.2 1175.6L1443.5 1175.7L1442.9 1175.4L1442.2 1175.2L1441.5 1175.5L1440.8 1175.0L1440.2 1174.9L1439.4 1175.2L1438.8 1174.8L1438.1 1175.0L1437.5 1174.5L1436.8 1174.4L1436.1 1174.4L1435.4 1174.4L1434.7 1174.3L1434.0 1174.1L1433.4 1173.9L1432.8 1173.5L1432.0 1173.6L1431.4 1173.3L1430.8 1173.1L1430.0 1173.3L1424.1 1193.0M1420.3 1180.0L1422.5 1170.9L1421.9 1170.4L1421.2 1170.4L1420.6 1170.1L1420.0 1169.8L1419.2 1169.9L1418.7 1169.3L1417.9 1169.4L1417.3 1169.2L1416.7 1168.9L1416.1 1168.5L1415.5 1168.3L1414.8 1167.9L1414.2 1167.7L1413.6 1167.5L1412.3 1168.8L1412.4 1166.7L1411.8 1166.5L1411.0 1166.5L1410.4 1166.3L1409.7 1166.0L1409.3 1165.4L1408.6 1165.3L1408.1 1164.8L1407.3 1164.9L1406.6 1164.7L1406.2 1164.0L1404.2 1166.7L1405.0 1163.5L1404.3 1163.3L1403.7 1163.0L1403.0 1162.8L1402.5 1162.4L1401.9 1162.0L1401.3 1161.7L1400.8 1161.2L1400.1 1161.1L1399.4 1160.9L1398.7 1160.7L1394.1 1167.4M1388.3 1163.9L1392.3 1156.2L1391.7 1156.0L1391.0 1155.9L1390.7 1155.1L1389.9 1155.1L1389.4 1154.6L1388.9 1154.1L1388.2 1154.0L1387.7 1153.5L1387.2 1153.2L1386.8 1152.5L1386.1 1152.4L1385.6 1151.8L1385.2 1151.3L1384.4 1151.2L1384.1 1150.6L1383.3 1150.4L1382.9 1149.9L1382.5 1149.3L1382.0 1148.9L1381.3 1148.6L1381.0 1148.0L1380.3 1147.7L1379.8 1147.2L1379.3 1146.9L1378.6 1146.7L1378.3 1146.0L1367.1 1157.9L1377.1 1145.3L1376.6 1144.9L1376.4 1144.1L1375.9 1143.6L1375.1 1143.5L1374.7 1143.0L1374.1 1142.6L1373.8 1142.0L1373.2 1141.7L1372.6 1141.3L1372.4 1140.5L1371.8 1140.2L1364.0 1147.1M1356.5 1145.0L1366.4 1134.9L1366.2 1134.2L1365.8 1133.6L1364.0 1134.3L1364.5 1132.9L1364.4 1132.1L1359.9 1135.1L1363.2 1131.3L1362.7 1130.8L1362.4 1130.2L1362.2 1129.5L1361.7 1129.0L1361.1 1128.6L1361.0 1127.9L1360.6 1127.3L1359.9 1126.9L1359.3 1126.5L1358.9 1126.0L1358.9 1125.2L1358.4 1124.7L1355.5 1126.0L1357.3 1123.7L1357.2 1123.0L1356.8 1122.5L1356.3 1121.9L1356.0 1121.3L1355.4 1120.9L1355.0 1120.4L1354.6 1119.8L1354.5 1119.0L1353.9 1118.6L1353.4 1118.1L1353.1 1117.5L1353.1 1116.7L1352.3 1116.4L1352.3 1115.6L1350.3 1116.0L1351.5 1114.5L1336.5 1122.7M1341.1 1112.3L1347.5 1108.1L1347.3 1107.4L1346.9 1106.8L1346.6 1106.3L1346.2 1105.7L1346.1 1105.0L1346.0 1104.3L1345.8 1103.6L1345.5 1103.0L1344.7 1102.7L1344.8 1101.9L1344.6 1101.2L1344.4 1100.6L1343.7 1100.2L1343.4 1099.5L1343.5 1098.8L1343.2 1098.2L1342.6 1097.7L1342.5 1097.0L1342.3 1096.4L1342.2 1095.7L1341.5 1095.2L1341.6 1094.5L1341.0 1094.0L1341.2 1093.2L1340.7 1092.7L1340.8 1091.9L1340.2 1091.4L1340.0 1090.7L1338.5 1090.6L1339.6 1089.5L1339.6 1088.8L1339.3 1088.2L1339.2 1087.5L1338.8 1086.9L1338.4 1086.3L1338.5 1085.6L1338.1 1085.0L1337.8 1084.4L1322.9 1088.0M1316.3 1081.8L1335.9 1076.5L1335.7 1075.8L1335.6 1075.2L1335.2 1074.6L1335.2 1073.9L1335.0 1073.2L1334.8 1072.6L1335.2 1071.8L1334.8 1071.2L1334.4 1070.6L1334.6 1069.9L1334.3 1069.2L1334.3 1068.5L1334.4 1067.8L1334.4 1067.1L1334.2 1066.5L1333.7 1065.9L1333.7 1065.2L1333.5 1064.5L1333.7 1063.8L1333.3 1063.2L1333.4 1062.5L1333.6 1061.8L1333.4 1061.1L1333.4 1060.5L1333.1 1059.8L1333.0 1059.1L1333.0 1058.5L1333.1 1057.8L1333.3 1057.1L1333.1 1056.4L1319.0 1056.7L1333.0 1055.1L1333.1 1054.4L1333.0 1053.7L1317.2 1053.7M1318.3 1046.3L1332.4 1045.7L1332.7 1045.0L1332.7 1044.3L1332.9 1043.7L1332.7 1043.0L1332.6 1042.3L1332.9 1041.7L1332.7 1041.0L1332.5 1040.3L1332.9 1039.6L1333.1 1039.0L1333.0 1038.3L1332.9 1037.6L1333.0 1036.9L1331.8 1036.2L1333.3 1035.6L1333.2 1034.9L1333.2 1034.3L1333.4 1033.6L1333.4 1032.9L1333.5 1032.3L1333.6 1031.6L1333.9 1031.0L1333.8 1030.3L1333.9 1029.6L1333.7 1028.9L1333.8 1028.2L1334.1 1027.6L1332.8 1026.7L1334.1 1026.2L1334.6 1025.6L1334.5 1024.9L1334.5 1024.2L1334.8 1023.6L1334.9 1022.9L1324.6 1020.2M1325.1 1013.0L1334.4 1014.6L1337.0 1014.6L1336.9 1013.9L1337.0 1013.2L1337.4 1012.6L1337.6 1011.9L1337.7 1011.3L1337.9 1010.6L1338.0 1009.9L1338.4 1009.4L1326.8 1005.0L1338.5 1007.9L1338.8 1007.3L1339.2 1006.7L1339.4 1006.1L1339.3 1005.3L1339.7 1004.7L1340.0 1004.1L1340.3 1003.5L1340.5 1002.9L1340.6 1002.2L1341.0 1001.6L1341.2 1001.0L1341.4 1000.3L1341.7 999.7L1342.1 999.1L1342.0 998.3L1342.2 997.7L1342.9 997.2L1342.9 996.5L1343.0 995.8L1343.5 995.3L1343.8 994.7L1343.9 993.9L1335.7 989.4M1340.2 984.1L1347.5 987.1L1347.6 986.4L1348.0 985.8L1348.2 985.1L1348.6 984.5L1349.0 984.0L1349.3 983.4L1349.5 982.7L1349.9 982.1L1350.3 981.6L1350.9 981.1L1351.3 980.6L1351.3 979.8L1351.8 979.3L1352.2 978.7L1352.7 978.2L1352.8 977.5L1353.3 977.0L1353.6 976.4L1353.9 975.7L1354.2 975.1L1354.8 974.7L1355.2 974.2L1355.6 973.6L1355.8 972.9L1344.2 963.9L1356.9 972.0L1357.3 971.4L1357.2 970.6L1357.8 970.1L1358.5 969.8L1358.6 969.0L1359.2 968.6L1345.6 957.3M1356.7 957.4L1364.1 962.8L1364.5 962.2L1365.0 961.7L1365.4 961.2L1365.7 960.5L1366.2 960.0L1366.6 959.5L1367.1 959.0L1361.5 952.8L1368.1 958.1L1368.5 957.6L1368.8 956.9L1368.2 955.3L1370.0 956.2L1370.6 955.7L1370.8 955.0L1371.5 954.8L1371.8 954.0L1372.5 953.8L1372.8 953.1L1373.3 952.7L1373.8 952.2L1374.3 951.7L1374.9 951.4L1375.2 950.7L1375.8 950.3L1376.3 949.8L1376.8 949.4L1377.5 949.2L1378.0 948.7L1376.9 946.4L1378.8 947.6L1368.9 934.6M1379.4 936.6L1385.0 942.9L1385.5 942.5L1386.2 942.2L1386.7 941.7L1387.2 941.3L1387.7 940.8L1388.5 940.7L1388.8 939.9L1389.5 939.7L1390.2 939.5L1390.6 938.8L1391.2 938.5L1391.9 938.3L1392.5 938.0L1392.9 937.4L1393.6 937.1L1394.2 936.8L1394.7 936.3L1395.3 936.0L1395.9 935.6L1396.6 935.5L1397.2 935.2L1397.8 934.7L1398.3 934.2L1398.8 933.7L1399.6 933.7L1400.0 933.0L1400.8 933.0L1401.3 932.5L1401.9 932.2L1402.4 931.7L1403.3 931.8L1399.8 923.5M1405.1 919.5L1409.0 926.4L1410.5 928.0L1411.2 927.8L1411.8 927.5L1412.5 927.4L1413.1 926.9L1413.8 927.0L1414.5 926.8L1415.0 926.2L1415.7 926.1L1415.8 924.5L1417.0 925.6L1417.6 925.3L1418.3 925.1L1418.9 924.8L1419.5 924.4L1420.1 924.1L1420.8 923.9L1421.5 923.7L1422.2 923.8L1422.9 923.6L1423.4 923.0L1424.2 923.0L1424.9 922.9L1425.1 921.4L1426.2 922.5L1426.9 922.4L1427.5 922.0L1428.2 922.1L1428.8 921.5L1429.6 921.8L1430.2 921.5L1427.1 906.1M1436.9 919.6L1437.6 919.4L1438.4 919.6L1439.1 919.7L1439.5 918.0L1440.0 916.7L1441.0 918.9L1441.8 919.1L1442.4 918.6L1443.2 918.9L1443.8 918.4L1444.5 918.5L1445.2 918.3L1445.9 918.3L1446.6 918.5L1447.3 918.0L1448.0 918.2L1448.7 918.0L1449.4 918.1L1449.9 916.8L1450.7 917.8L1451.4 917.8L1452.1 917.6L1452.8 917.4L1453.5 917.5L1454.2 917.9L1454.9 917.7L1455.6 917.2L1456.3 917.2" fill="none" stroke="#a5563a" stroke-width="0.9" stroke-linejoin="round"/>
<g font-family="'Liberation Sans', sans-serif" font-size="13" fill="#000" text-anchor="middle">
<text x="1462.2" y="671.8">I</text>
<text x="1462.2" y="712.8">II</text>
<text x="1462.2" y="750.2">III</text>
<text x="1462.2" y="789.8">IV</text>
<text x="1462.2" y="828.7">V</text>
<text x="1462.2" y="870.4">VI</text>
<text x="1462.2" y="909.9">VII</text>
</g>
<g id="moth">
<g filter="url(#blurM)">
<path d="M1424.8 932.8C1425.4 934.1 1427.9 940.9 1429.2 943.3C1430.4 945.7 1433.7 950.1 1434.4 951.2" fill="none" stroke="#cdd2a0" stroke-width="2.2" stroke-linecap="round" stroke-linejoin="round"/>
<path d="M1433.6 953.8C1434.7 954.2 1440.3 956.1 1442.3 957.3C1444.4 958.4 1448.4 961.9 1449.3 962.5" fill="none" stroke="#cdd2a0" stroke-width="5" stroke-linecap="round" stroke-linejoin="round"/>
<path d="M1447.6 962.5C1448.9 963.2 1454.9 967.2 1458.1 967.8C1461.3 968.4 1470.3 967.0 1472.1 966.9" fill="none" stroke="#cdd2a0" stroke-width="3.5" stroke-linecap="round" stroke-linejoin="round"/>
<path d="M1445.8 962.5C1446.0 963.9 1446.9 969.9 1447.6 973.0C1448.2 976.2 1450.6 985.2 1451.1 987.1" fill="none" stroke="#cdd2a0" stroke-width="6" stroke-linecap="round" stroke-linejoin="round"/>
<path d="M1508.0 957.3C1506.5 958.4 1499.9 964.4 1496.6 966.0C1493.3 967.6 1484.4 969.1 1482.6 969.5" fill="none" stroke="#cdd2a0" stroke-width="4" stroke-linecap="round" stroke-linejoin="round"/>
<path d="M1500.1 962.5C1500.2 963.7 1501.1 969.0 1501.0 971.3C1500.9 973.6 1499.5 978.9 1499.2 980.1" fill="none" stroke="#cdd2a0" stroke-width="3" stroke-linecap="round" stroke-linejoin="round"/>
<path d="M1395.9 1015.1C1397.2 1015.3 1402.7 1017.1 1405.5 1016.8C1408.4 1016.6 1414.6 1014.7 1417.8 1013.3C1421.0 1012.0 1428.5 1007.2 1430.1 1006.3" fill="none" stroke="#cdd2a0" stroke-width="4" stroke-linecap="round" stroke-linejoin="round"/>
<path d="M1421.3 1011.6C1422.4 1011.1 1427.8 1009.4 1430.1 1008.1C1432.3 1006.7 1437.7 1002.0 1438.8 1001.1" fill="none" stroke="#c6c68c" stroke-width="8" stroke-linecap="round" stroke-linejoin="round"/>
<path d="M1475.6 968.6C1472.8 967.9 1467.7 969.5 1464.9 971.3C1462.0 973.0 1456.5 979.3 1454.1 982.1C1451.6 984.9 1448.4 989.7 1446.0 992.9C1443.5 996.0 1438.0 1002.5 1435.2 1006.3C1432.4 1010.2 1427.2 1017.6 1424.4 1022.5C1421.6 1027.4 1416.4 1037.8 1413.6 1044.1C1410.8 1050.4 1405.3 1064.0 1402.9 1071.0C1400.4 1078.0 1396.3 1091.7 1394.8 1098.0C1393.2 1104.3 1391.1 1114.6 1390.7 1119.5C1390.4 1124.4 1391.2 1132.4 1392.1 1135.7C1393.0 1139.0 1395.4 1143.3 1397.5 1145.1C1399.6 1147.0 1405.1 1149.3 1408.2 1149.7C1411.4 1150.2 1417.9 1149.6 1421.7 1148.7C1425.6 1147.7 1433.7 1144.7 1437.9 1142.5C1442.1 1140.2 1450.2 1134.5 1454.1 1131.7C1457.9 1128.9 1464.7 1123.0 1467.5 1120.9C1470.4 1118.8 1473.9 1115.7 1475.6 1115.5C1477.4 1115.3 1479.4 1117.4 1481.0 1119.5C1482.6 1121.6 1485.7 1128.5 1487.8 1131.7C1489.9 1134.8 1494.6 1141.3 1497.2 1143.8C1499.8 1146.3 1505.2 1149.6 1508.0 1150.5C1510.8 1151.5 1516.3 1152.0 1518.8 1151.3C1521.2 1150.6 1525.3 1147.5 1526.8 1145.1C1528.4 1142.8 1530.0 1137.7 1530.4 1133.0C1530.7 1128.3 1530.2 1115.4 1529.5 1108.8C1528.9 1102.1 1526.9 1088.8 1525.5 1081.8C1524.1 1074.8 1520.7 1061.5 1518.8 1054.9C1516.8 1048.2 1512.8 1036.5 1510.7 1030.6C1508.6 1024.6 1504.7 1014.3 1502.6 1009.0C1500.5 1003.8 1496.6 994.4 1494.5 990.2C1492.4 986.0 1488.9 979.5 1486.4 976.7C1484.0 973.9 1478.4 969.3 1475.6 968.6Z" fill="url(#mothg)" stroke="#9a9a6a" stroke-width="0.6"/>
<path d="M1472.1 973.0C1468.4 976.2 1461.7 993.3 1458.1 1001.1C1454.4 1008.8 1447.0 1023.9 1444.1 1032.6C1441.1 1041.2 1437.1 1058.5 1435.3 1067.6C1433.5 1076.7 1429.8 1095.8 1430.1 1102.6C1430.3 1109.5 1433.4 1118.3 1437.1 1120.2C1440.7 1122.0 1453.3 1118.9 1458.1 1116.7C1462.9 1114.4 1470.6 1103.8 1473.8 1102.6C1477.0 1101.5 1480.1 1105.6 1482.6 1107.9C1485.1 1110.2 1490.1 1118.1 1493.1 1120.2C1496.1 1122.2 1503.1 1125.9 1505.4 1123.7C1507.6 1121.4 1510.2 1109.9 1510.6 1102.6C1511.1 1095.4 1509.8 1076.7 1508.9 1067.6C1508.0 1058.5 1505.2 1041.2 1503.6 1032.6C1502.0 1023.9 1498.9 1008.4 1496.6 1001.1C1494.3 993.8 1489.3 980.2 1486.1 976.5C1482.9 972.9 1475.7 969.9 1472.1 973.0Z" fill="#e2d2a0" opacity="0.55"/>
<ellipse cx="1479.1" cy="983.6" rx="17" ry="13" fill="#dcc27c" opacity="0.8"/>
</g>
<g filter="url(#speck)"><path d="M1458.1 1008.1C1462.8 1005.3 1469.8 1008.4 1472.1 1015.1C1474.3 1021.8 1473.2 1038.9 1472.1 1050.1C1471.0 1061.3 1468.4 1074.5 1465.1 1085.1C1461.7 1095.8 1456.1 1111.1 1451.1 1116.7C1446.0 1122.3 1437.2 1122.4 1433.6 1120.2C1429.9 1117.9 1428.3 1111.1 1428.3 1102.6C1428.3 1094.2 1431.3 1078.8 1433.6 1067.6C1435.8 1056.4 1438.4 1042.1 1442.3 1032.6C1446.2 1023.1 1453.3 1010.9 1458.1 1008.1Z"/><path d="M1487.8 1011.6C1490.6 1004.9 1496.7 1004.7 1500.1 1008.1C1503.5 1011.4 1506.6 1023.1 1508.9 1032.6C1511.1 1042.1 1513.3 1056.4 1514.1 1067.6C1515.0 1078.8 1515.0 1093.4 1514.1 1102.6C1513.3 1111.9 1511.9 1122.6 1508.9 1125.4C1505.8 1128.2 1498.5 1126.6 1494.9 1120.2C1491.2 1113.7 1488.1 1096.3 1486.1 1085.1C1484.1 1073.9 1482.3 1061.9 1482.6 1050.1C1482.9 1038.3 1485.0 1018.3 1487.8 1011.6Z"/></g>
<clipPath id="mothclip"><path d="M1475.6 968.6C1472.8 967.9 1467.7 969.5 1464.9 971.3C1462.0 973.0 1456.5 979.3 1454.1 982.1C1451.6 984.9 1448.4 989.7 1446.0 992.9C1443.5 996.0 1438.0 1002.5 1435.2 1006.3C1432.4 1010.2 1427.2 1017.6 1424.4 1022.5C1421.6 1027.4 1416.4 1037.8 1413.6 1044.1C1410.8 1050.4 1405.3 1064.0 1402.9 1071.0C1400.4 1078.0 1396.3 1091.7 1394.8 1098.0C1393.2 1104.3 1391.1 1114.6 1390.7 1119.5C1390.4 1124.4 1391.2 1132.4 1392.1 1135.7C1393.0 1139.0 1395.4 1143.3 1397.5 1145.1C1399.6 1147.0 1405.1 1149.3 1408.2 1149.7C1411.4 1150.2 1417.9 1149.6 1421.7 1148.7C1425.6 1147.7 1433.7 1144.7 1437.9 1142.5C1442.1 1140.2 1450.2 1134.5 1454.1 1131.7C1457.9 1128.9 1464.7 1123.0 1467.5 1120.9C1470.4 1118.8 1473.9 1115.7 1475.6 1115.5C1477.4 1115.3 1479.4 1117.4 1481.0 1119.5C1482.6 1121.6 1485.7 1128.5 1487.8 1131.7C1489.9 1134.8 1494.6 1141.3 1497.2 1143.8C1499.8 1146.3 1505.2 1149.6 1508.0 1150.5C1510.8 1151.5 1516.3 1152.0 1518.8 1151.3C1521.2 1150.6 1525.3 1147.5 1526.8 1145.1C1528.4 1142.8 1530.0 1137.7 1530.4 1133.0C1530.7 1128.3 1530.2 1115.4 1529.5 1108.8C1528.9 1102.1 1526.9 1088.8 1525.5 1081.8C1524.1 1074.8 1520.7 1061.5 1518.8 1054.9C1516.8 1048.2 1512.8 1036.5 1510.7 1030.6C1508.6 1024.6 1504.7 1014.3 1502.6 1009.0C1500.5 1003.8 1496.6 994.4 1494.5 990.2C1492.4 986.0 1488.9 979.5 1486.4 976.7C1484.0 973.9 1478.4 969.3 1475.6 968.6Z"/></clipPath>
<path d="M1508.9 1032.6Q1515.5 1085.1 1512.4 1142.9M1511.3 1032.6Q1518.0 1085.1 1514.8 1142.9M1513.8 1032.6Q1520.4 1085.1 1517.3 1142.9M1516.2 1032.6Q1522.9 1085.1 1519.7 1142.9M1518.7 1032.6Q1525.3 1085.1 1522.2 1142.9M1521.1 1032.6Q1527.8 1085.1 1524.6 1142.9M1523.6 1032.6Q1530.2 1085.1 1527.1 1142.9" fill="none" stroke="#b9a45e" stroke-width="0.5" opacity="0.6" clip-path="url(#mothclip)"/>
<ellipse cx="1418.7" cy="1124.5" rx="2.2" ry="3.8" fill="#3e3a22" opacity="0.85"/>
<ellipse cx="1400.3" cy="1127.2" rx="1.3" ry="1.5" fill="#3e3a22" opacity="0.85"/>
<ellipse cx="1511.5" cy="1123.7" rx="1.6" ry="4" fill="#3e3a22" opacity="0.85"/>
<ellipse cx="1463.3" cy="975.7" rx="2.2" ry="2.6" fill="#4a4630" opacity="0.8"/>
</g>
</g>
<g font-family="'Liberation Sans', sans-serif" font-weight="bold" font-size="50" fill="#000">
<text x="14.5" y="32">a</text><text x="989" y="40.6">b</text><text x="10.5" y="648.8">c</text><text x="980.5" y="647.7">d</text>
</g>
</svg></body></html>
